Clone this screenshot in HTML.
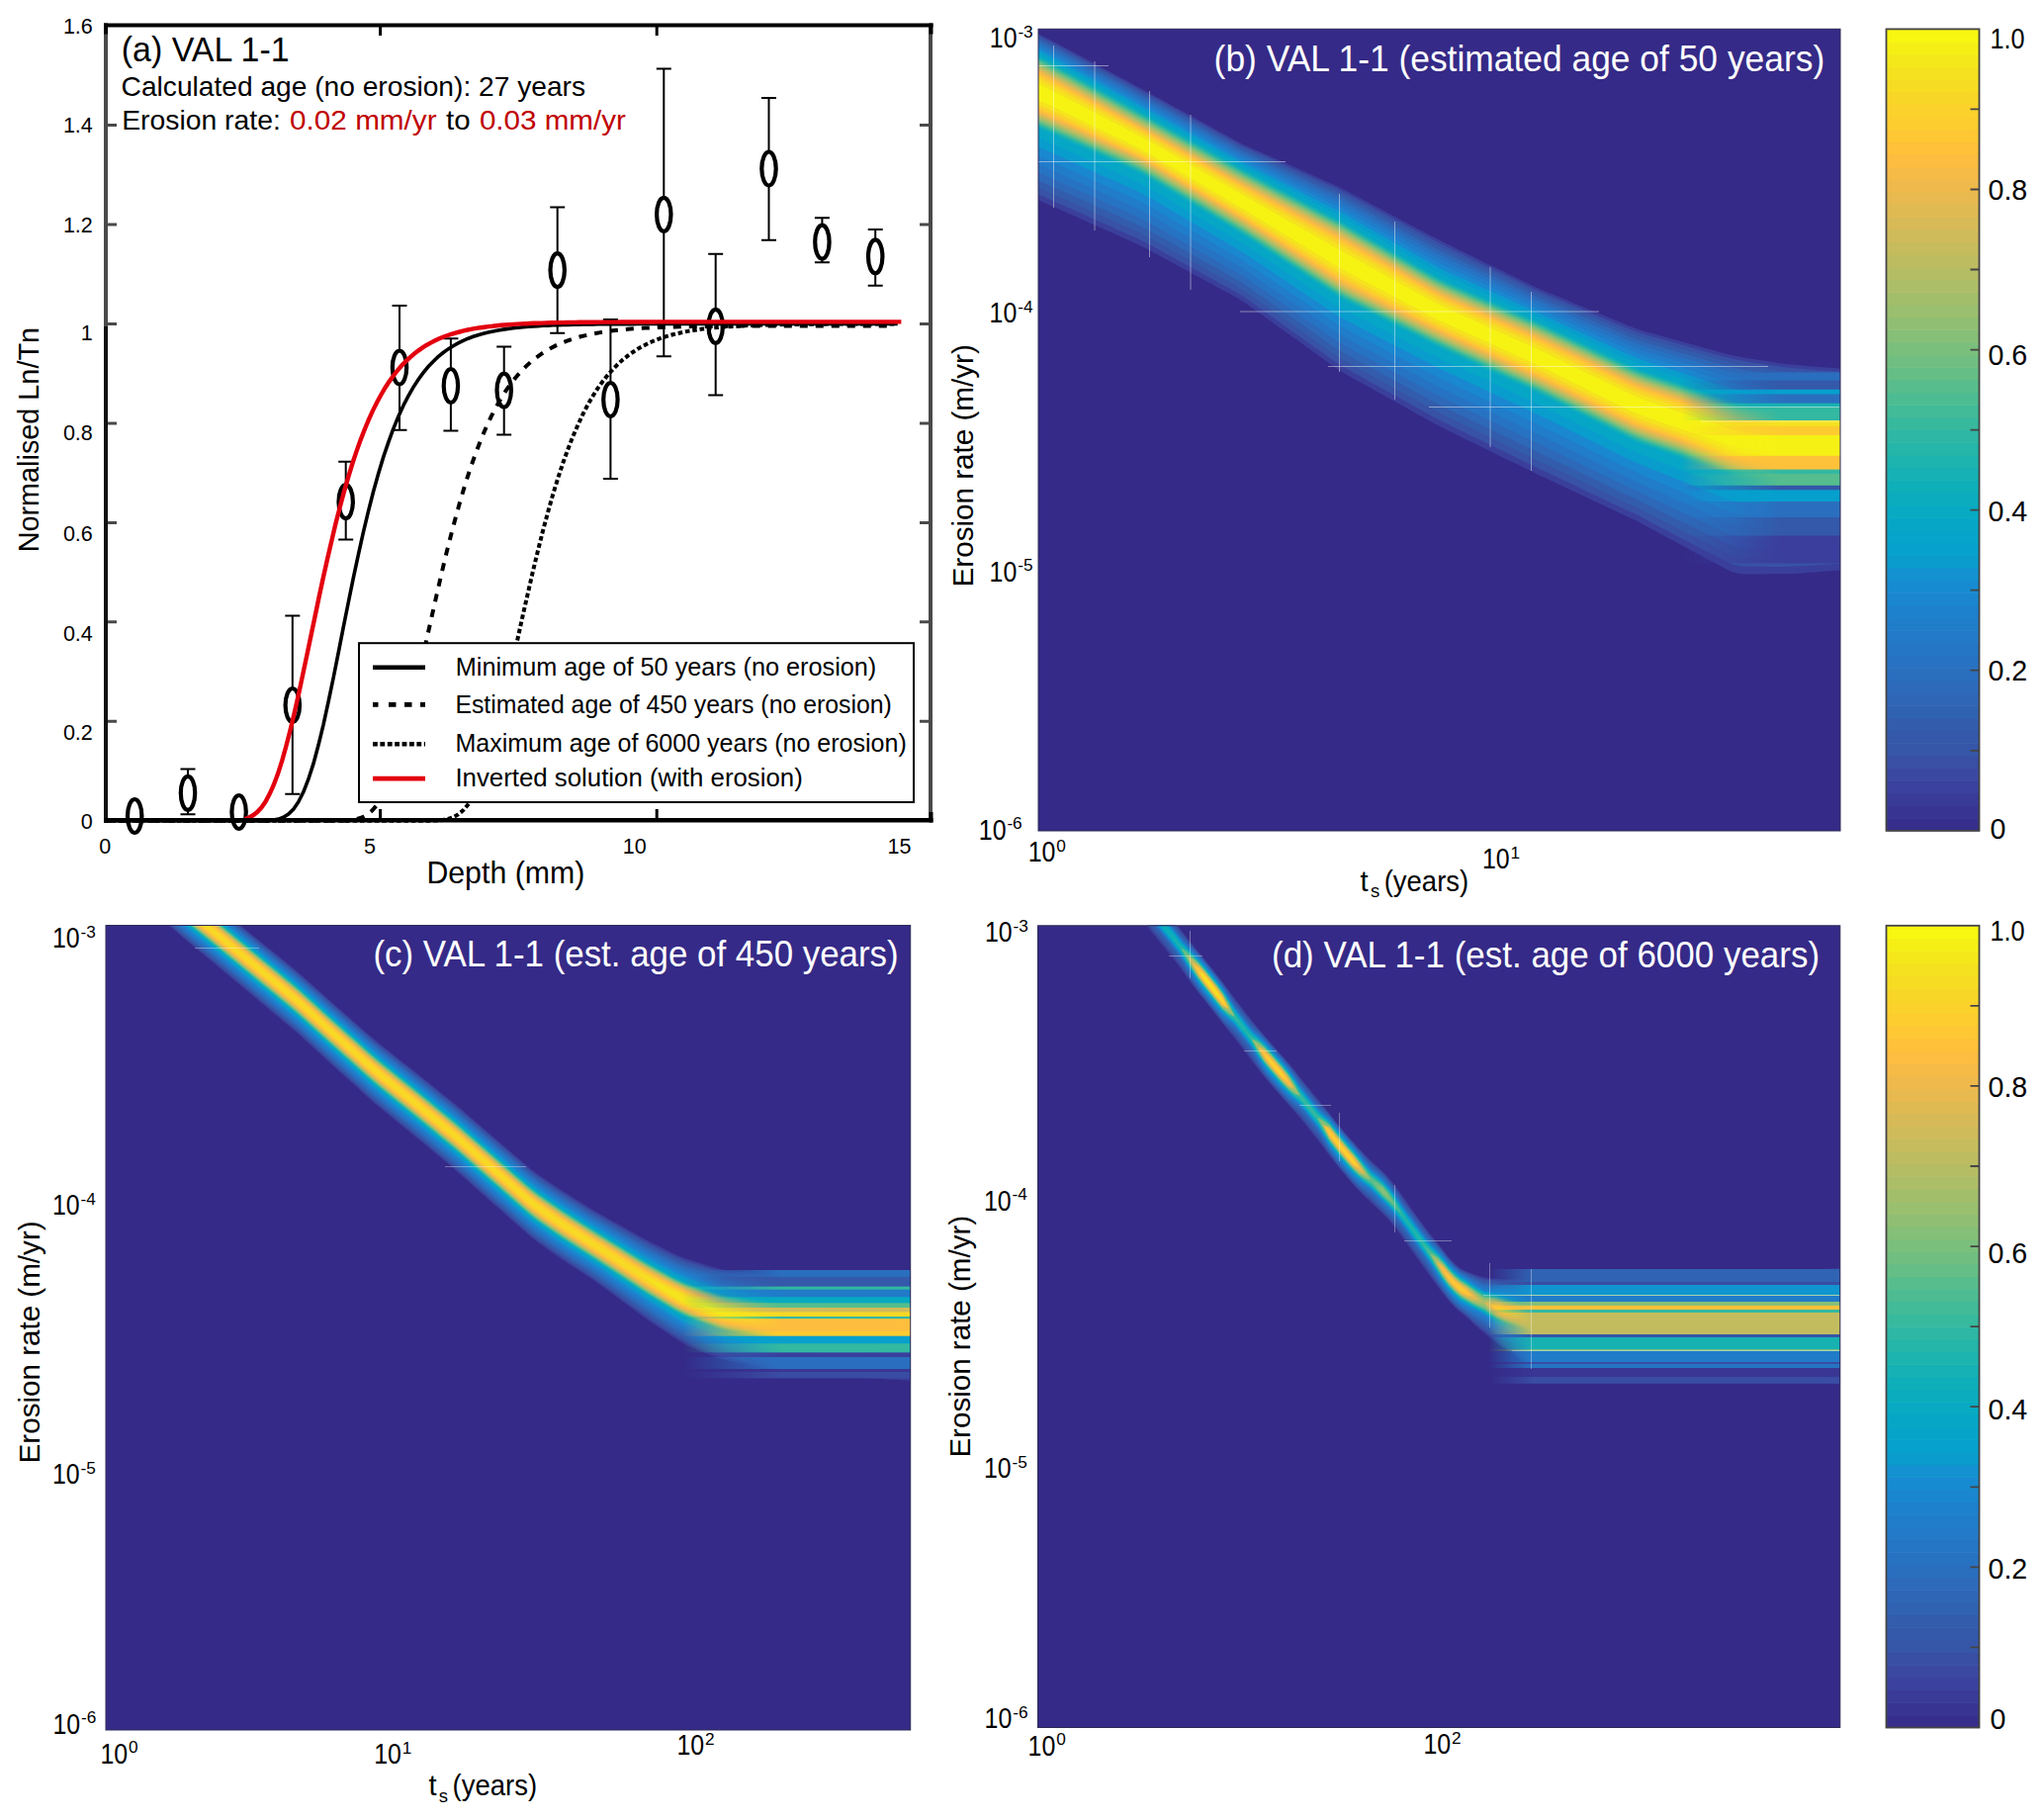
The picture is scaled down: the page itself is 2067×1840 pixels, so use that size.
<!DOCTYPE html>
<html><head><meta charset="utf-8"><title>VAL 1-1 figure</title>
<style>html,body{margin:0;padding:0;background:#fff;}svg{display:block;}</style></head>
<body><svg width="2067" height="1840" viewBox="0 0 2067 1840" font-family="'Liberation Sans', Arial, sans-serif">
<defs><clipPath id="clipb"><rect x="1050" y="29.3" width="811" height="810.7"/></clipPath><clipPath id="clipc"><rect x="107" y="935.5" width="813.7" height="813.5"/></clipPath><clipPath id="clipd"><rect x="1049.5" y="935.8" width="811.3" height="810.7"/></clipPath><linearGradient id="mgb" gradientUnits="userSpaceOnUse" x1="1700" y1="0" x2="1800" y2="0"><stop offset="0" stop-color="#fff" stop-opacity="0"/><stop offset="1" stop-color="#fff" stop-opacity="1"/></linearGradient><mask id="maskb" maskUnits="userSpaceOnUse" x="0" y="0" width="2067" height="1840"><rect x="0" y="0" width="2067" height="1840" fill="url(#mgb)"/></mask><linearGradient id="mgc" gradientUnits="userSpaceOnUse" x1="690" y1="0" x2="790" y2="0"><stop offset="0" stop-color="#fff" stop-opacity="0"/><stop offset="1" stop-color="#fff" stop-opacity="1"/></linearGradient><mask id="maskc" maskUnits="userSpaceOnUse" x="0" y="0" width="2067" height="1840"><rect x="0" y="0" width="2067" height="1840" fill="url(#mgc)"/></mask><linearGradient id="mgd" gradientUnits="userSpaceOnUse" x1="1505" y1="0" x2="1550" y2="0"><stop offset="0" stop-color="#fff" stop-opacity="0"/><stop offset="1" stop-color="#fff" stop-opacity="1"/></linearGradient><mask id="maskd" maskUnits="userSpaceOnUse" x="0" y="0" width="2067" height="1840"><rect x="0" y="0" width="2067" height="1840" fill="url(#mgd)"/></mask></defs>
<rect width="2067" height="1840" fill="#fff"/>
<g id="pa">
<path d="M190,777.4V823.3M182.5,777.4H197.5M182.5,823.3H197.5" stroke="#000" stroke-width="2" fill="none"/>
<path d="M295.8,622.6V802.7M288.3,622.6H303.3M288.3,802.7H303.3" stroke="#000" stroke-width="2" fill="none"/>
<path d="M349.7,466.7V545.5M342.2,466.7H357.2M342.2,545.5H357.2" stroke="#000" stroke-width="2" fill="none"/>
<path d="M404,309V434.8M396.5,309H411.5M396.5,434.8H411.5" stroke="#000" stroke-width="2" fill="none"/>
<path d="M455.9,342.3V435.6M448.4,342.3H463.4M448.4,435.6H463.4" stroke="#000" stroke-width="2" fill="none"/>
<path d="M509.7,350.4V439.4M502.2,350.4H517.2M502.2,439.4H517.2" stroke="#000" stroke-width="2" fill="none"/>
<path d="M563.7,209.5V336.7M556.2,209.5H571.2M556.2,336.7H571.2" stroke="#000" stroke-width="2" fill="none"/>
<path d="M617.4,323V484.1M609.9,323H624.9M609.9,484.1H624.9" stroke="#000" stroke-width="2" fill="none"/>
<path d="M671.3,69.6V360.2M663.8,69.6H678.8M663.8,360.2H678.8" stroke="#000" stroke-width="2" fill="none"/>
<path d="M723.7,256.8V399.4M716.2,256.8H731.2M716.2,399.4H731.2" stroke="#000" stroke-width="2" fill="none"/>
<path d="M777.5,98.9V242.8M770,98.9H785M770,242.8H785" stroke="#000" stroke-width="2" fill="none"/>
<path d="M831.4,220.3V265.3M823.9,220.3H838.9M823.9,265.3H838.9" stroke="#000" stroke-width="2" fill="none"/>
<path d="M885.2,232V288.7M877.7,232H892.7M877.7,288.7H892.7" stroke="#000" stroke-width="2" fill="none"/>
<ellipse cx="136.2" cy="825" rx="7.2" ry="17" stroke="#000" stroke-width="4.2" fill="#fff"/>
<ellipse cx="190" cy="801.8" rx="7.2" ry="17" stroke="#000" stroke-width="4.2" fill="#fff"/>
<ellipse cx="241.6" cy="821" rx="7.2" ry="17" stroke="#000" stroke-width="4.2" fill="#fff"/>
<ellipse cx="295.8" cy="713" rx="7.2" ry="17" stroke="#000" stroke-width="4.2" fill="#fff"/>
<ellipse cx="349.7" cy="507.2" rx="7.2" ry="17" stroke="#000" stroke-width="4.2" fill="#fff"/>
<ellipse cx="404" cy="371.5" rx="7.2" ry="17" stroke="#000" stroke-width="4.2" fill="#fff"/>
<ellipse cx="455.9" cy="390" rx="7.2" ry="17" stroke="#000" stroke-width="4.2" fill="#fff"/>
<ellipse cx="509.7" cy="394.6" rx="7.2" ry="17" stroke="#000" stroke-width="4.2" fill="#fff"/>
<ellipse cx="563.7" cy="273.1" rx="7.2" ry="17" stroke="#000" stroke-width="4.2" fill="#fff"/>
<ellipse cx="617.4" cy="404" rx="7.2" ry="17" stroke="#000" stroke-width="4.2" fill="#fff"/>
<ellipse cx="671.3" cy="216.8" rx="7.2" ry="17" stroke="#000" stroke-width="4.2" fill="#fff"/>
<ellipse cx="723.7" cy="329.8" rx="7.2" ry="17" stroke="#000" stroke-width="4.2" fill="#fff"/>
<ellipse cx="777.5" cy="170.5" rx="7.2" ry="17" stroke="#000" stroke-width="4.2" fill="#fff"/>
<ellipse cx="831.4" cy="244.7" rx="7.2" ry="17" stroke="#000" stroke-width="4.2" fill="#fff"/>
<ellipse cx="885.2" cy="259.4" rx="7.2" ry="17" stroke="#000" stroke-width="4.2" fill="#fff"/>
<path d="M105,829.8 L110,829.8 L115.1,829.8 L120.1,829.8 L125.2,829.8 L130.2,829.8 L135.3,829.8 L140.3,829.8 L145.4,829.8 L150.4,829.8 L155.5,829.8 L160.5,829.8 L165.6,829.8 L170.6,829.8 L175.7,829.8 L180.7,829.8 L185.7,829.8 L190.8,829.8 L195.8,829.8 L200.9,829.8 L205.9,829.8 L211,829.8 L216,829.8 L221.1,829.8 L226.1,829.8 L231.2,829.8 L236.2,829.8 L241.3,829.8 L246.3,829.8 L251.4,829.8 L256.4,829.8 L261.5,829.8 L266.5,829.8 L271.5,829.8 L276.6,829.8 L281.6,829.8 L286.7,829.8 L291.7,829.8 L296.8,829.8 L301.8,829.8 L306.9,829.8 L311.9,829.8 L317,829.8 L322,829.8 L327.1,829.8 L332.1,829.8 L337.2,829.8 L342.2,829.8 L347.2,829.8 L352.3,829.8 L357.3,829.8 L362.4,829.8 L367.4,829.8 L372.5,829.8 L377.5,829.8 L382.6,829.8 L387.6,829.8 L392.7,829.8 L397.7,829.8 L402.8,829.8 L407.8,829.8 L412.9,829.8 L417.9,829.8 L423,829.8 L428,829.8 L433,829.7 L438.1,829.6 L443.1,829.4 L448.2,828.9 L453.2,827.9 L458.3,826.2 L463.3,823.4 L468.4,819.2 L473.4,813.2 L478.5,805.2 L483.5,794.9 L488.6,782.2 L493.6,767.3 L498.7,750.2 L503.7,731.2 L508.7,710.7 L513.8,689.1 L518.8,666.8 L523.9,644 L528.9,621.3 L534,599 L539,577.2 L544.1,556.2 L549.1,536.3 L554.2,517.4 L559.2,499.7 L564.3,483.2 L569.3,468 L574.4,454 L579.4,441.1 L584.5,429.4 L589.5,418.7 L594.5,409 L599.6,400.3 L604.6,392.4 L609.7,385.3 L614.7,379 L619.8,373.3 L624.8,368.2 L629.9,363.6 L634.9,359.6 L640,356 L645,352.7 L650.1,349.9 L655.1,347.3 L660.2,345 L665.2,343 L670.2,341.2 L675.3,339.7 L680.3,338.3 L685.4,337 L690.4,335.9 L695.5,334.9 L700.5,334.1 L705.6,333.3 L710.6,332.6 L715.7,332 L720.7,331.5 L725.8,331 L730.8,330.6 L735.9,330.2 L740.9,329.9 L746,329.6 L751,329.4 L756,329.1 L761.1,328.9 L766.1,328.7 L771.2,328.6 L776.2,328.5 L781.3,328.3 L786.3,328.2 L791.4,328.1 L796.4,328 L801.5,328 L806.5,327.9 L811.6,327.8 L816.6,327.8 L821.7,327.7 L826.7,327.7 L831.7,327.7 L836.8,327.6 L841.8,327.6 L846.9,327.6 L851.9,327.6 L857,327.5 L862,327.5 L867.1,327.5 L872.1,327.5 L877.2,327.5 L882.2,327.5 L887.3,327.5 L892.3,327.5 L897.4,327.5 L902.4,327.4 L907.5,327.4" stroke="#000" stroke-width="4" fill="none" stroke-dasharray="4.6 2.8"/>
<path d="M105,829.8 L110,829.8 L115,829.8 L120.1,829.8 L125.1,829.8 L130.1,829.8 L135.1,829.8 L140.2,829.8 L145.2,829.8 L150.2,829.8 L155.2,829.8 L160.2,829.8 L165.3,829.8 L170.3,829.8 L175.3,829.8 L180.3,829.8 L185.4,829.8 L190.4,829.8 L195.4,829.8 L200.4,829.8 L205.4,829.8 L210.5,829.8 L215.5,829.8 L220.5,829.8 L225.5,829.8 L230.6,829.8 L235.6,829.8 L240.6,829.8 L245.6,829.8 L250.6,829.8 L255.7,829.8 L260.7,829.8 L265.7,829.8 L270.7,829.8 L275.8,829.8 L280.8,829.8 L285.8,829.8 L290.8,829.8 L295.8,829.8 L300.9,829.8 L305.9,829.8 L310.9,829.8 L315.9,829.8 L321,829.8 L326,829.8 L331,829.8 L336,829.8 L341,829.8 L346.1,829.7 L351.1,829.4 L356.1,829 L361.1,828 L366.2,826.4 L371.2,823.7 L376.2,819.6 L381.2,813.8 L386.2,806 L391.3,795.9 L396.3,783.5 L401.3,768.8 L406.3,751.9 L411.4,733.2 L416.4,712.9 L421.4,691.4 L426.4,669.2 L431.4,646.6 L436.5,623.9 L441.5,601.6 L446.5,579.9 L451.5,558.9 L456.6,538.9 L461.6,520.1 L466.6,502.3 L471.6,485.8 L476.6,470.6 L481.7,456.5 L486.7,443.6 L491.7,431.8 L496.7,421.1 L501.8,411.4 L506.8,402.6 L511.8,394.7 L516.8,387.6 L521.8,381.2 L526.9,375.5 L531.9,370.4 L536.9,365.8 L541.9,361.7 L547,358.1 L552,354.9 L557,352 L562,349.4 L567,347.1 L572.1,345.1 L577.1,343.3 L582.1,341.7 L587.1,340.3 L592.2,339.1 L597.2,338 L602.2,337 L607.2,336.1 L612.2,335.3 L617.3,334.6 L622.3,334 L627.3,333.5 L632.3,333 L637.4,332.6 L642.4,332.2 L647.4,331.9 L652.4,331.6 L657.4,331.4 L662.5,331.1 L667.5,330.9 L672.5,330.8 L677.5,330.6 L682.6,330.5 L687.6,330.3 L692.6,330.2 L697.6,330.1 L702.6,330.1 L707.7,330 L712.7,329.9 L717.7,329.9 L722.7,329.8 L727.8,329.8 L732.8,329.7 L737.8,329.7 L742.8,329.7 L747.8,329.6 L752.9,329.6 L757.9,329.6 L762.9,329.6 L767.9,329.5 L773,329.5 L778,329.5 L783,329.5 L788,329.5 L793,329.5 L798.1,329.5 L803.1,329.5 L808.1,329.5 L813.1,329.5 L818.2,329.4 L823.2,329.4 L828.2,329.4 L833.2,329.4 L838.2,329.4 L843.3,329.4 L848.3,329.4 L853.3,329.4 L858.3,329.4 L863.4,329.4 L868.4,329.4 L873.4,329.4 L878.4,329.4 L883.4,329.4 L888.5,329.4 L893.5,329.4 L898.5,329.4 L903.5,329.4" stroke="#000" stroke-width="4" fill="none" stroke-dasharray="8 8"/>
<path d="M105,829.8 L110,829.8 L115.1,829.8 L120.1,829.8 L125.2,829.8 L130.2,829.8 L135.3,829.8 L140.3,829.8 L145.4,829.8 L150.4,829.8 L155.5,829.8 L160.5,829.8 L165.6,829.8 L170.6,829.8 L175.7,829.8 L180.7,829.8 L185.7,829.8 L190.8,829.8 L195.8,829.8 L200.9,829.8 L205.9,829.8 L211,829.8 L216,829.8 L221.1,829.8 L226.1,829.8 L231.2,829.8 L236.2,829.8 L241.3,829.8 L246.3,829.8 L251.4,829.8 L256.4,829.8 L261.5,829.8 L266.5,829.7 L271.5,829.5 L276.6,829.1 L281.6,828.1 L286.7,826.2 L291.7,823 L296.8,818 L301.8,810.7 L306.9,800.6 L311.9,787.7 L317,771.9 L322,753.3 L327.1,732.3 L332.1,709.3 L337.2,685 L342.2,659.8 L347.2,634.3 L352.3,609 L357.3,584.3 L362.4,560.6 L367.4,538.1 L372.5,516.9 L377.5,497.2 L382.6,479 L387.6,462.4 L392.7,447.3 L397.7,433.6 L402.8,421.3 L407.8,410.2 L412.9,400.4 L417.9,391.6 L423,383.8 L428,376.9 L433,370.8 L438.1,365.4 L443.1,360.7 L448.2,356.5 L453.2,352.9 L458.3,349.7 L463.3,346.9 L468.4,344.4 L473.4,342.2 L478.5,340.3 L483.5,338.7 L488.6,337.3 L493.6,336 L498.7,334.9 L503.7,333.9 L508.7,333.1 L513.8,332.4 L518.8,331.7 L523.9,331.2 L528.9,330.7 L534,330.3 L539,329.9 L544.1,329.6 L549.1,329.3 L554.2,329.1 L559.2,328.8 L564.3,328.7 L569.3,328.5 L574.4,328.4 L579.4,328.2 L584.5,328.1 L589.5,328 L594.5,327.9 L599.6,327.9 L604.6,327.8 L609.7,327.8 L614.7,327.7 L619.8,327.7 L624.8,327.6 L629.9,327.6 L634.9,327.6 L640,327.6 L645,327.5 L650.1,327.5 L655.1,327.5 L660.2,327.5 L665.2,327.5 L670.2,327.5 L675.3,327.5 L680.3,327.5 L685.4,327.4 L690.4,327.4 L695.5,327.4 L700.5,327.4 L705.6,327.4 L710.6,327.4 L715.7,327.4 L720.7,327.4 L725.8,327.4 L730.8,327.4 L735.9,327.4 L740.9,327.4 L746,327.4 L751,327.4 L756,327.4 L761.1,327.4 L766.1,327.4 L771.2,327.4 L776.2,327.4 L781.3,327.4 L786.3,327.4 L791.4,327.4 L796.4,327.4 L801.5,327.4 L806.5,327.4 L811.6,327.4 L816.6,327.4 L821.7,327.4 L826.7,327.4 L831.7,327.4 L836.8,327.4 L841.8,327.4 L846.9,327.4 L851.9,327.4 L857,327.4 L862,327.4 L867.1,327.4 L872.1,327.4 L877.2,327.4 L882.2,327.4 L887.3,327.4 L892.3,327.4 L897.4,327.4 L902.4,327.4 L907.5,327.4" stroke="#000" stroke-width="3.6" fill="none"/>
<path d="M247.6,828 L251.8,826.5 L255.9,824.3 L260.1,821.1 L264.3,816.6 L268.5,810.6 L272.6,802.9 L276.8,793.5 L281,782.3 L285.2,769.2 L289.3,754.5 L293.5,738.3 L297.7,720.8 L301.9,702.2 L306,682.9 L310.2,663.1 L314.4,643 L318.6,623 L322.7,603.2 L326.9,583.8 L331.1,565 L335.3,546.9 L339.4,529.6 L343.6,513.2 L347.8,497.7 L352,483.1 L356.1,469.5 L360.3,456.9 L364.5,445.1 L368.7,434.3 L372.8,424.3 L377,415.1 L381.2,406.7 L385.4,399 L389.5,392 L393.7,385.6 L397.9,379.7 L402.1,374.4 L406.2,369.6 L410.4,365.3 L414.6,361.3 L418.8,357.8 L422.9,354.6 L427.1,351.6 L431.3,349 L435.5,346.6 L439.6,344.5 L443.8,342.6 L448,340.8 L452.2,339.3 L456.3,337.9 L460.5,336.6 L464.7,335.5 L468.9,334.4 L473,333.5 L477.2,332.7 L481.4,331.9 L485.6,331.3 L489.7,330.7 L493.9,330.1 L498.1,329.7 L502.3,329.2 L506.4,328.8 L510.6,328.5 L514.8,328.2 L518.9,327.9 L523.1,327.6 L527.3,327.4 L531.5,327.2 L535.6,327 L539.8,326.8 L544,326.7 L548.2,326.6 L552.3,326.4 L556.5,326.3 L560.7,326.2 L564.9,326.1 L569,326.1 L573.2,326 L577.4,325.9 L581.6,325.9 L585.7,325.8 L589.9,325.8 L594.1,325.7 L598.3,325.7 L602.4,325.7 L606.6,325.6 L610.8,325.6 L615,325.6 L619.1,325.6 L623.3,325.6 L627.5,325.5 L631.7,325.5 L635.8,325.5 L640,325.5 L644.2,325.5 L648.4,325.5 L652.5,325.5 L656.7,325.5 L660.9,325.5 L665.1,325.4 L669.2,325.4 L673.4,325.4 L677.6,325.4 L681.8,325.4 L685.9,325.4 L690.1,325.4 L694.3,325.4 L698.5,325.4 L702.6,325.4 L706.8,325.4 L711,325.4 L715.2,325.4 L719.3,325.4 L723.5,325.4 L727.7,325.4 L731.9,325.4 L736,325.4 L740.2,325.4 L744.4,325.4 L748.6,325.4 L752.7,325.4 L756.9,325.4 L761.1,325.4 L765.3,325.4 L769.4,325.4 L773.6,325.4 L777.8,325.4 L782,325.4 L786.1,325.4 L790.3,325.4 L794.5,325.4 L798.7,325.4 L802.8,325.4 L807,325.4 L811.2,325.4 L815.3,325.4 L819.5,325.4 L823.7,325.4 L827.9,325.4 L832,325.4 L836.2,325.4 L840.4,325.4 L844.6,325.4 L848.7,325.4 L852.9,325.4 L857.1,325.4 L861.3,325.4 L865.4,325.4 L869.6,325.4 L873.8,325.4 L878,325.4 L882.1,325.4 L886.3,325.4 L890.5,325.4 L894.7,325.4 L898.8,325.4 L903,325.4 L907.2,325.4 L911.4,325.4" stroke="#e3000f" stroke-width="4.4" fill="none"/>
<path d="M107,24V331" stroke="#4a4a4a" stroke-width="4" fill="none"/>
<path d="M107,330V831" stroke="#111" stroke-width="4" fill="none"/>
<path d="M941,24V831" stroke="#4a4a4a" stroke-width="4" fill="none"/>
<path d="M105,25.6H943.5" stroke="#000" stroke-width="4" fill="none"/>
<path d="M105,829.2H943.5" stroke="#000" stroke-width="4.6" fill="none"/>
<rect x="105" y="23.5" width="4" height="11" fill="#000"/><rect x="939.5" y="23.5" width="4" height="11" fill="#000"/><rect x="939.5" y="821" width="4" height="10.5" fill="#000"/>
<path d="M109,729.3H118M939,729.3H930M109,628.8H118M939,628.8H930M109,528.4H118M939,528.4H930M109,427.9H118M939,427.9H930M109,327.4H118M939,327.4H930M109,226.9H118M939,226.9H930M109,126.4H118M939,126.4H930" stroke="#4a4a4a" stroke-width="3" fill="none"/>
<path d="M384.6,827V818M384.6,27V36M664.2,827V818M664.2,27V36" stroke="#000" stroke-width="3" fill="none"/>
<rect x="363" y="650.2" width="561" height="160.8" fill="#fff" stroke="#000" stroke-width="2"/>
<path d="M377,674.8H430" stroke="#000" stroke-width="4.6"/>
<path d="M377,712.4H430" stroke="#000" stroke-width="4.6" stroke-dasharray="5.5 10.5 7.5 8.5 7.5 8.5 5"/>
<path d="M377,752.2H430" stroke="#000" stroke-width="4.6" stroke-dasharray="4.8 2.6"/>
<path d="M377,787.1H430" stroke="#e3000f" stroke-width="4.6"/>
</g>
<g font-family="'Liberation Sans', Arial, sans-serif">
<text x="122.8" y="61.8" font-size="35.6" textLength="169.8" lengthAdjust="spacingAndGlyphs">(a) VAL 1-1</text>
<text x="122.6" y="97.3" font-size="28.3" textLength="469.4" lengthAdjust="spacingAndGlyphs">Calculated age (no erosion): 27 years</text>
<text x="123.2" y="130.8" font-size="28.3" textLength="160.6" lengthAdjust="spacingAndGlyphs">Erosion rate:</text>
<text x="293.1" y="130.8" font-size="28.3" fill="#c00000" textLength="148.5" lengthAdjust="spacingAndGlyphs">0.02 mm/yr</text>
<text x="451" y="130.8" font-size="28.3" textLength="24.6" lengthAdjust="spacingAndGlyphs">to</text>
<text x="484.9" y="130.8" font-size="28.3" fill="#c00000" textLength="148" lengthAdjust="spacingAndGlyphs">0.03 mm/yr</text>
<text x="460.8" y="682.7" font-size="25" textLength="425.5" lengthAdjust="spacingAndGlyphs">Minimum age of 50 years (no erosion)</text>
<text x="460.4" y="721" font-size="25" textLength="441.4" lengthAdjust="spacingAndGlyphs">Estimated age of 450 years (no erosion)</text>
<text x="460.4" y="760" font-size="25" textLength="456.4" lengthAdjust="spacingAndGlyphs">Maximum age of 6000 years (no erosion)</text>
<text x="460.4" y="795" font-size="25" textLength="351.4" lengthAdjust="spacingAndGlyphs">Inverted solution (with erosion)</text>
<text x="93.8" y="33.8" font-size="21.5" text-anchor="end">1.6</text>
<text x="93.8" y="134.3" font-size="21.5" text-anchor="end">1.4</text>
<text x="93.8" y="234.9" font-size="21.5" text-anchor="end">1.2</text>
<text x="93.8" y="344.3" font-size="21.5" text-anchor="end">1</text>
<text x="93.8" y="444.8" font-size="21.5" text-anchor="end">0.8</text>
<text x="93.8" y="547" font-size="21.5" text-anchor="end">0.6</text>
<text x="93.8" y="647.6" font-size="21.5" text-anchor="end">0.4</text>
<text x="93.8" y="748.2" font-size="21.5" text-anchor="end">0.2</text>
<text x="93.8" y="837.8" font-size="21.5" text-anchor="end">0</text>
<text x="106.3" y="862.5" font-size="21.5" text-anchor="middle">0</text>
<text x="374" y="862.5" font-size="21.5" text-anchor="middle">5</text>
<text x="641.7" y="862.5" font-size="21.5" text-anchor="middle">10</text>
<text x="909.5" y="862.5" font-size="21.5" text-anchor="middle">15</text>
<text x="431.4" y="893" font-size="30.5" textLength="159.9" lengthAdjust="spacingAndGlyphs">Depth (mm)</text>
<text transform="translate(38.8,558.3) rotate(-90)" font-size="29.5" textLength="227.3" lengthAdjust="spacingAndGlyphs">Normalised Ln/Tn</text>
</g>
<rect id="hmb" x="1050" y="29.3" width="811" height="810.7" fill="#352a87"/>
<g clip-path="url(#clipb)">
<polygon points="1050,34.1 1058,38.2 1065.9,42.3 1073.9,46.5 1081.8,50.8 1089.8,55.1 1097.8,59.3 1105.7,63.6 1113.7,67.9 1121.6,72.1 1129.6,76.4 1137.6,80.6 1145.5,84.9 1153.5,89.3 1161.5,93.6 1169.4,97.9 1177.4,102.3 1185.3,106.7 1193.3,111.1 1201.3,115.4 1209.2,119.8 1217.2,124.2 1225.1,128.6 1233.1,133 1241.1,137.3 1249,141.7 1257,145.9 1264.9,149.4 1272.9,153 1280.9,156.5 1288.8,160 1296.8,163.6 1304.7,167.1 1312.7,170.6 1320.7,174.1 1328.6,177.7 1336.6,181.2 1344.5,184.7 1352.5,188.2 1360.5,192.2 1368.4,196.5 1376.4,200.8 1384.4,205 1392.3,209.2 1400.3,213.5 1408.2,217.7 1416.2,221.9 1424.2,226.2 1432.1,230.4 1440.1,234.6 1448,238.8 1456,242.8 1464,246.9 1471.9,250.8 1479.9,254.7 1487.8,258.6 1495.8,262.5 1503.8,266.4 1511.7,270.3 1519.7,274.1 1527.6,278 1535.6,281.9 1543.6,285.8 1551.5,289.7 1559.5,293.3 1567.5,296.5 1575.4,299.8 1583.4,303.1 1591.3,306.4 1599.3,309.7 1607.3,312.9 1615.2,316.2 1623.2,319.5 1631.1,322.8 1639.1,326.1 1647.1,329.4 1655,332.3 1663,334.9 1670.9,337.1 1678.9,339.3 1686.9,341.5 1694.8,343.7 1702.8,345.9 1710.7,348.1 1718.7,350.3 1726.7,352.5 1734.6,354.7 1742.6,357 1750.5,358.9 1758.5,360.6 1766.5,362.1 1774.4,363.3 1782.4,364.5 1790.4,365.7 1798.3,366.9 1806.3,367.9 1814.2,368.8 1822.2,369.6 1830.2,370.2 1838.1,370.8 1846.1,371.4 1854,372.1 1862,372.7 1862,576.5 1854,577.1 1846.1,577.6 1838.1,578.2 1830.2,578.8 1822.2,579.4 1814.2,579.9 1806.3,580.2 1798.3,580.3 1790.4,580.3 1782.4,580.4 1774.4,580.4 1766.5,580.4 1758.5,580.1 1750.5,577.8 1742.6,573.8 1734.6,569.5 1726.7,565.2 1718.7,561 1710.7,556.7 1702.8,552.4 1694.8,548.1 1686.9,543.9 1678.9,539.6 1670.9,535.3 1663,531 1655,526.4 1647.1,523 1639.1,519.2 1631.1,515.5 1623.2,511.7 1615.2,508 1607.3,504.2 1599.3,500.5 1591.3,496.7 1583.4,493 1575.4,489.2 1567.5,485.5 1559.5,481.8 1551.5,478 1543.6,474 1535.6,470.1 1527.6,466.3 1519.7,462.4 1511.7,458.5 1503.8,454.6 1495.8,450.7 1487.8,446.8 1479.9,442.9 1471.9,439 1464,435.1 1456,431 1448,426.8 1440.1,422.4 1432.1,418 1424.2,413.5 1416.2,409.1 1408.2,404.7 1400.3,400.2 1392.3,395.8 1384.4,391.3 1376.4,386.9 1368.4,382.5 1360.5,378 1352.5,373.1 1344.5,367.5 1336.6,361.8 1328.6,356.1 1320.7,350.4 1312.7,344.6 1304.7,338.9 1296.8,333.2 1288.8,327.5 1280.9,321.8 1272.9,316.1 1264.9,310.4 1257,304.7 1249,300 1241.1,295.7 1233.1,291.4 1225.1,287.1 1217.2,282.7 1209.2,278.4 1201.3,274.1 1193.3,269.8 1185.3,265.5 1177.4,261.2 1169.4,256.8 1161.5,252.6 1153.5,248.5 1145.5,244.8 1137.6,241.2 1129.6,237.6 1121.6,234.1 1113.7,230.5 1105.7,227 1097.8,223.4 1089.8,219.8 1081.8,216.3 1073.9,212.7 1065.9,209.2 1058,205.7 1050,202.3" fill="#3b3f9c"/>
<polygon points="1050,35.8 1058,39.9 1065.9,44.1 1073.9,48.3 1081.8,52.6 1089.8,56.9 1097.8,61.2 1105.7,65.4 1113.7,69.7 1121.6,74 1129.6,78.2 1137.6,82.5 1145.5,86.8 1153.5,91.2 1161.5,95.5 1169.4,99.8 1177.4,104.2 1185.3,108.6 1193.3,113 1201.3,117.4 1209.2,121.8 1217.2,126.1 1225.1,130.5 1233.1,134.9 1241.1,139.3 1249,143.7 1257,147.9 1264.9,151.5 1272.9,155.1 1280.9,158.6 1288.8,162.2 1296.8,165.8 1304.7,169.4 1312.7,173 1320.7,176.6 1328.6,180.1 1336.6,183.7 1344.5,187.3 1352.5,190.8 1360.5,194.9 1368.4,199.2 1376.4,203.5 1384.4,207.7 1392.3,212 1400.3,216.3 1408.2,220.5 1416.2,224.8 1424.2,229.1 1432.1,233.3 1440.1,237.6 1448,241.8 1456,245.9 1464,249.9 1471.9,253.8 1479.9,257.6 1487.8,261.5 1495.8,265.4 1503.8,269.2 1511.7,273.1 1519.7,276.9 1527.6,280.8 1535.6,284.6 1543.6,288.5 1551.5,292.4 1559.5,295.9 1567.5,299.2 1575.4,302.6 1583.4,305.9 1591.3,309.2 1599.3,312.5 1607.3,315.9 1615.2,319.2 1623.2,322.5 1631.1,325.9 1639.1,329.2 1647.1,332.5 1655,335.4 1663,338.1 1670.9,340.3 1678.9,342.6 1686.9,344.8 1694.8,347.1 1702.8,349.3 1710.7,351.6 1718.7,353.8 1726.7,356 1734.6,358.3 1742.6,360.5 1750.5,362.5 1758.5,364.2 1766.5,365.7 1774.4,366.9 1782.4,368 1790.4,369.2 1798.3,370.3 1806.3,371.4 1814.2,372.3 1822.2,373 1830.2,373.6 1838.1,374.2 1846.1,374.7 1854,375.3 1862,375.9 1862,569.7 1854,570.2 1846.1,570.7 1838.1,571.2 1830.2,571.7 1822.2,572.2 1814.2,572.6 1806.3,572.9 1798.3,572.9 1790.4,572.9 1782.4,572.8 1774.4,572.8 1766.5,572.7 1758.5,572.3 1750.5,570.1 1742.6,566.2 1734.6,562 1726.7,557.9 1718.7,553.7 1710.7,549.5 1702.8,545.4 1694.8,541.2 1686.9,537.1 1678.9,532.9 1670.9,528.8 1663,524.6 1655,520.1 1647.1,516.7 1639.1,512.9 1631.1,509.2 1623.2,505.4 1615.2,501.6 1607.3,497.9 1599.3,494.1 1591.3,490.3 1583.4,486.5 1575.4,482.8 1567.5,479 1559.5,475.3 1551.5,471.5 1543.6,467.6 1535.6,463.7 1527.6,459.8 1519.7,455.9 1511.7,452.1 1503.8,448.2 1495.8,444.3 1487.8,440.4 1479.9,436.6 1471.9,432.7 1464,428.8 1456,424.7 1448,420.6 1440.1,416.2 1432.1,411.8 1424.2,407.4 1416.2,403 1408.2,398.6 1400.3,394.2 1392.3,389.8 1384.4,385.4 1376.4,381 1368.4,376.6 1360.5,372.1 1352.5,367.3 1344.5,361.7 1336.6,356 1328.6,350.4 1320.7,344.7 1312.7,339 1304.7,333.4 1296.8,327.7 1288.8,322 1280.9,316.4 1272.9,310.7 1264.9,305 1257,299.4 1249,294.7 1241.1,290.3 1233.1,286 1225.1,281.6 1217.2,277.3 1209.2,272.9 1201.3,268.6 1193.3,264.2 1185.3,259.9 1177.4,255.5 1169.4,251.1 1161.5,246.8 1153.5,242.8 1145.5,239 1137.6,235.5 1129.6,231.9 1121.6,228.3 1113.7,224.8 1105.7,221.2 1097.8,217.6 1089.8,214.1 1081.8,210.5 1073.9,206.9 1065.9,203.4 1058,200 1050,196.5" fill="#3852a6"/>
<polygon points="1050,37.9 1058,42 1065.9,46.2 1073.9,50.4 1081.8,54.7 1089.8,59 1097.8,63.3 1105.7,67.6 1113.7,71.8 1121.6,76.1 1129.6,80.4 1137.6,84.7 1145.5,89 1153.5,93.4 1161.5,97.7 1169.4,102 1177.4,106.4 1185.3,110.8 1193.3,115.2 1201.3,119.6 1209.2,124 1217.2,128.4 1225.1,132.8 1233.1,137.2 1241.1,141.6 1249,146 1257,150.2 1264.9,153.8 1272.9,157.5 1280.9,161.1 1288.8,164.8 1296.8,168.4 1304.7,172.1 1312.7,175.7 1320.7,179.4 1328.6,183 1336.6,186.7 1344.5,190.3 1352.5,193.9 1360.5,198 1368.4,202.4 1376.4,206.7 1384.4,211 1392.3,215.3 1400.3,219.6 1408.2,223.9 1416.2,228.2 1424.2,232.5 1432.1,236.8 1440.1,241.1 1448,245.3 1456,249.4 1464,253.4 1471.9,257.2 1479.9,261.1 1487.8,264.9 1495.8,268.7 1503.8,272.5 1511.7,276.3 1519.7,280.2 1527.6,284 1535.6,287.8 1543.6,291.6 1551.5,295.5 1559.5,299.1 1567.5,302.4 1575.4,305.8 1583.4,309.1 1591.3,312.5 1599.3,315.9 1607.3,319.3 1615.2,322.7 1623.2,326 1631.1,329.4 1639.1,332.8 1647.1,336.2 1655,339.1 1663,341.8 1670.9,344.1 1678.9,346.4 1686.9,348.7 1694.8,351 1702.8,353.3 1710.7,355.5 1718.7,357.8 1726.7,360.1 1734.6,362.4 1742.6,364.7 1750.5,366.7 1758.5,368.4 1766.5,369.9 1774.4,371 1782.4,372.1 1790.4,373.3 1798.3,374.4 1806.3,375.4 1814.2,376.3 1822.2,376.9 1830.2,377.5 1838.1,378 1846.1,378.6 1854,379.2 1862,379.7 1862,561.7 1854,562.1 1846.1,562.6 1838.1,563 1830.2,563.4 1822.2,563.9 1814.2,564.2 1806.3,564.3 1798.3,564.3 1790.4,564.2 1782.4,564 1774.4,563.9 1766.5,563.8 1758.5,563.3 1750.5,561.1 1742.6,557.3 1734.6,553.3 1726.7,549.3 1718.7,545.3 1710.7,541.3 1702.8,537.2 1694.8,533.2 1686.9,529.2 1678.9,525.2 1670.9,521.2 1663,517.2 1655,512.8 1647.1,509.4 1639.1,505.6 1631.1,501.8 1623.2,498 1615.2,494.2 1607.3,490.4 1599.3,486.6 1591.3,482.8 1583.4,479 1575.4,475.3 1567.5,471.5 1559.5,467.7 1551.5,463.9 1543.6,460 1535.6,456.2 1527.6,452.3 1519.7,448.4 1511.7,444.6 1503.8,440.7 1495.8,436.9 1487.8,433 1479.9,429.2 1471.9,425.3 1464,421.5 1456,417.4 1448,413.3 1440.1,409 1432.1,404.6 1424.2,400.2 1416.2,395.9 1408.2,391.5 1400.3,387.2 1392.3,382.8 1384.4,378.4 1376.4,374.1 1368.4,369.7 1360.5,365.3 1352.5,360.5 1344.5,355 1336.6,349.4 1328.6,343.7 1320.7,338.1 1312.7,332.5 1304.7,326.9 1296.8,321.3 1288.8,315.7 1280.9,310 1272.9,304.4 1264.9,298.8 1257,293.2 1249,288.5 1241.1,284.1 1233.1,279.7 1225.1,275.3 1217.2,270.9 1209.2,266.5 1201.3,262.1 1193.3,257.7 1185.3,253.3 1177.4,248.9 1169.4,244.5 1161.5,240.2 1153.5,236.1 1145.5,232.3 1137.6,228.8 1129.6,225.2 1121.6,221.6 1113.7,218.1 1105.7,214.5 1097.8,210.9 1089.8,207.4 1081.8,203.8 1073.9,200.2 1065.9,196.7 1058,193.3 1050,189.8" fill="#335cac"/>
<polygon points="1050,40.1 1058,44.2 1065.9,48.4 1073.9,52.7 1081.8,57 1089.8,61.3 1097.8,65.6 1105.7,69.9 1113.7,74.2 1121.6,78.5 1129.6,82.8 1137.6,87.1 1145.5,91.4 1153.5,95.9 1161.5,100.1 1169.4,104.5 1177.4,108.9 1185.3,113.3 1193.3,117.7 1201.3,122.1 1209.2,126.5 1217.2,130.9 1225.1,135.3 1233.1,139.7 1241.1,144.1 1249,148.5 1257,152.7 1264.9,156.4 1272.9,160.2 1280.9,163.9 1288.8,167.6 1296.8,171.3 1304.7,175 1312.7,178.7 1320.7,182.5 1328.6,186.2 1336.6,189.9 1344.5,193.6 1352.5,197.2 1360.5,201.4 1368.4,205.8 1376.4,210.2 1384.4,214.5 1392.3,218.8 1400.3,223.2 1408.2,227.5 1416.2,231.8 1424.2,236.2 1432.1,240.5 1440.1,244.9 1448,249.2 1456,253.3 1464,257.3 1471.9,261 1479.9,264.8 1487.8,268.6 1495.8,272.4 1503.8,276.2 1511.7,279.9 1519.7,283.7 1527.6,287.5 1535.6,291.3 1543.6,295.1 1551.5,298.9 1559.5,302.5 1567.5,305.9 1575.4,309.3 1583.4,312.7 1591.3,316.2 1599.3,319.6 1607.3,323 1615.2,326.4 1623.2,329.9 1631.1,333.3 1639.1,336.7 1647.1,340.2 1655,343.2 1663,345.9 1670.9,348.3 1678.9,350.6 1686.9,352.9 1694.8,355.3 1702.8,357.6 1710.7,359.9 1718.7,362.3 1726.7,364.6 1734.6,366.9 1742.6,369.3 1750.5,371.3 1758.5,373 1766.5,374.5 1774.4,375.6 1782.4,376.7 1790.4,377.8 1798.3,378.8 1806.3,379.8 1814.2,380.6 1822.2,381.3 1830.2,381.8 1838.1,382.3 1846.1,382.8 1854,383.4 1862,383.9 1862,553 1854,553.3 1846.1,553.7 1838.1,554 1830.2,554.3 1822.2,554.7 1814.2,554.9 1806.3,555 1798.3,554.8 1790.4,554.6 1782.4,554.4 1774.4,554.2 1766.5,553.9 1758.5,553.4 1750.5,551.2 1742.6,547.6 1734.6,543.7 1726.7,539.9 1718.7,536 1710.7,532.1 1702.8,528.3 1694.8,524.4 1686.9,520.6 1678.9,516.7 1670.9,512.8 1663,509 1655,504.7 1647.1,501.3 1639.1,497.5 1631.1,493.7 1623.2,489.9 1615.2,486.1 1607.3,482.2 1599.3,478.4 1591.3,474.6 1583.4,470.8 1575.4,467 1567.5,463.2 1559.5,459.4 1551.5,455.6 1543.6,451.7 1535.6,447.9 1527.6,444.1 1519.7,440.2 1511.7,436.4 1503.8,432.6 1495.8,428.7 1487.8,424.9 1479.9,421.1 1471.9,417.3 1464,413.4 1456,409.4 1448,405.3 1440.1,401 1432.1,396.7 1424.2,392.4 1416.2,388.1 1408.2,383.8 1400.3,379.5 1392.3,375.1 1384.4,370.8 1376.4,366.5 1368.4,362.2 1360.5,357.8 1352.5,353.1 1344.5,347.6 1336.6,342 1328.6,336.5 1320.7,330.9 1312.7,325.3 1304.7,319.8 1296.8,314.2 1288.8,308.7 1280.9,303.1 1272.9,297.5 1264.9,292 1257,286.4 1249,281.7 1241.1,277.2 1233.1,272.8 1225.1,268.3 1217.2,263.9 1209.2,259.5 1201.3,255 1193.3,250.6 1185.3,246.1 1177.4,241.7 1169.4,237.3 1161.5,232.9 1153.5,228.7 1145.5,225 1137.6,221.4 1129.6,217.8 1121.6,214.3 1113.7,210.7 1105.7,207.1 1097.8,203.6 1089.8,200 1081.8,196.5 1073.9,192.9 1065.9,189.4 1058,185.9 1050,182.5" fill="#2e68b8"/>
<polygon points="1050,42.5 1058,46.7 1065.9,50.9 1073.9,55.1 1081.8,59.4 1089.8,63.8 1097.8,68.1 1105.7,72.4 1113.7,76.7 1121.6,81 1129.6,85.3 1137.6,89.6 1145.5,94 1153.5,98.4 1161.5,102.7 1169.4,107.1 1177.4,111.5 1185.3,115.9 1193.3,120.3 1201.3,124.7 1209.2,129.1 1217.2,133.5 1225.1,137.9 1233.1,142.4 1241.1,146.8 1249,151.2 1257,155.5 1264.9,159.2 1272.9,163 1280.9,166.8 1288.8,170.6 1296.8,174.4 1304.7,178.2 1312.7,182 1320.7,185.8 1328.6,189.6 1336.6,193.3 1344.5,197.1 1352.5,200.8 1360.5,205.1 1368.4,209.5 1376.4,213.9 1384.4,218.3 1392.3,222.6 1400.3,227 1408.2,231.4 1416.2,235.8 1424.2,240.2 1432.1,244.5 1440.1,248.9 1448,253.3 1456,257.4 1464,261.3 1471.9,265.1 1479.9,268.8 1487.8,272.6 1495.8,276.3 1503.8,280 1511.7,283.8 1519.7,287.5 1527.6,291.3 1535.6,295 1543.6,298.7 1551.5,302.5 1559.5,306.1 1567.5,309.6 1575.4,313.1 1583.4,316.6 1591.3,320 1599.3,323.5 1607.3,327 1615.2,330.5 1623.2,334 1631.1,337.5 1639.1,341 1647.1,344.5 1655,347.6 1663,350.3 1670.9,352.7 1678.9,355.1 1686.9,357.5 1694.8,359.9 1702.8,362.2 1710.7,364.6 1718.7,367 1726.7,369.4 1734.6,371.8 1742.6,374.2 1750.5,376.3 1758.5,378 1766.5,379.4 1774.4,380.4 1782.4,381.5 1790.4,382.6 1798.3,383.6 1806.3,384.6 1814.2,385.3 1822.2,385.9 1830.2,386.4 1838.1,386.9 1846.1,387.4 1854,387.9 1862,388.3 1862,543.7 1854,543.9 1846.1,544.2 1838.1,544.4 1830.2,544.6 1822.2,544.9 1814.2,545 1806.3,545 1798.3,544.7 1790.4,544.4 1782.4,544.1 1774.4,543.7 1766.5,543.4 1758.5,542.7 1750.5,540.6 1742.6,537.2 1734.6,533.5 1726.7,529.8 1718.7,526.1 1710.7,522.4 1702.8,518.7 1694.8,515 1686.9,511.3 1678.9,507.6 1670.9,503.9 1663,500.2 1655,496.1 1647.1,492.7 1639.1,488.9 1631.1,485 1623.2,481.2 1615.2,477.3 1607.3,473.5 1599.3,469.7 1591.3,465.8 1583.4,462 1575.4,458.1 1567.5,454.3 1559.5,450.5 1551.5,446.7 1543.6,442.8 1535.6,439 1527.6,435.2 1519.7,431.4 1511.7,427.6 1503.8,423.8 1495.8,420 1487.8,416.2 1479.9,412.4 1471.9,408.6 1464,404.8 1456,400.8 1448,396.8 1440.1,392.5 1432.1,388.3 1424.2,384 1416.2,379.7 1408.2,375.5 1400.3,371.2 1392.3,366.9 1384.4,362.7 1376.4,358.4 1368.4,354.1 1360.5,349.8 1352.5,345.1 1344.5,339.7 1336.6,334.2 1328.6,328.7 1320.7,323.2 1312.7,317.7 1304.7,312.2 1296.8,306.7 1288.8,301.2 1280.9,295.7 1272.9,290.1 1264.9,284.6 1257,279.2 1249,274.4 1241.1,269.9 1233.1,265.4 1225.1,260.9 1217.2,256.4 1209.2,251.9 1201.3,247.4 1193.3,242.9 1185.3,238.5 1177.4,234 1169.4,229.5 1161.5,225 1153.5,220.8 1145.5,217.1 1137.6,213.5 1129.6,210 1121.6,206.4 1113.7,202.8 1105.7,199.3 1097.8,195.7 1089.8,192.1 1081.8,188.6 1073.9,185 1065.9,181.5 1058,178 1050,174.6" fill="#2773c3"/>
<polygon points="1050,45 1058,49.2 1065.9,53.4 1073.9,57.7 1081.8,62 1089.8,66.4 1097.8,70.7 1105.7,75 1113.7,79.4 1121.6,83.7 1129.6,88 1137.6,92.3 1145.5,96.7 1153.5,101.2 1161.5,105.4 1169.4,109.8 1177.4,114.2 1185.3,118.7 1193.3,123.1 1201.3,127.5 1209.2,131.9 1217.2,136.3 1225.1,140.7 1233.1,145.2 1241.1,149.6 1249,154 1257,158.3 1264.9,162.2 1272.9,166 1280.9,169.9 1288.8,173.8 1296.8,177.6 1304.7,181.5 1312.7,185.4 1320.7,189.2 1328.6,193.1 1336.6,197 1344.5,200.9 1352.5,204.6 1360.5,208.9 1368.4,213.4 1376.4,217.8 1384.4,222.2 1392.3,226.7 1400.3,231.1 1408.2,235.5 1416.2,239.9 1424.2,244.4 1432.1,248.8 1440.1,253.2 1448,257.6 1456,261.8 1464,265.7 1471.9,269.4 1479.9,273.1 1487.8,276.8 1495.8,280.5 1503.8,284.1 1511.7,287.8 1519.7,291.5 1527.6,295.2 1535.6,298.9 1543.6,302.6 1551.5,306.4 1559.5,310 1567.5,313.5 1575.4,317 1583.4,320.6 1591.3,324.1 1599.3,327.7 1607.3,331.2 1615.2,334.8 1623.2,338.3 1631.1,341.9 1639.1,345.4 1647.1,349 1655,352.1 1663,355 1670.9,357.4 1678.9,359.8 1686.9,362.3 1694.8,364.7 1702.8,367.1 1710.7,369.6 1718.7,372 1726.7,374.5 1734.6,376.9 1742.6,379.3 1750.5,381.5 1758.5,383.2 1766.5,384.6 1774.4,385.6 1782.4,386.6 1790.4,387.6 1798.3,388.6 1806.3,389.5 1814.2,390.3 1822.2,390.8 1830.2,391.2 1838.1,391.7 1846.1,392.1 1854,392.6 1862,393 1862,533.9 1854,534 1846.1,534.1 1838.1,534.2 1830.2,534.4 1822.2,534.5 1814.2,534.5 1806.3,534.4 1798.3,534.1 1790.4,533.6 1782.4,533.2 1774.4,532.8 1766.5,532.3 1758.5,531.5 1750.5,529.4 1742.6,526.2 1734.6,522.7 1726.7,519.2 1718.7,515.6 1710.7,512.1 1702.8,508.6 1694.8,505.1 1686.9,501.6 1678.9,498 1670.9,494.5 1663,491 1655,487.1 1647.1,483.6 1639.1,479.7 1631.1,475.9 1623.2,472 1615.2,468.1 1607.3,464.3 1599.3,460.4 1591.3,456.6 1583.4,452.7 1575.4,448.8 1567.5,445 1559.5,441.1 1551.5,437.3 1543.6,433.5 1535.6,429.7 1527.6,425.9 1519.7,422.2 1511.7,418.4 1503.8,414.6 1495.8,410.8 1487.8,407 1479.9,403.3 1471.9,399.5 1464,395.7 1456,391.7 1448,387.7 1440.1,383.6 1432.1,379.3 1424.2,375.1 1416.2,370.9 1408.2,366.7 1400.3,362.5 1392.3,358.3 1384.4,354.1 1376.4,349.9 1368.4,345.6 1360.5,341.4 1352.5,336.7 1344.5,331.4 1336.6,325.9 1328.6,320.5 1320.7,315 1312.7,309.6 1304.7,304.2 1296.8,298.7 1288.8,293.3 1280.9,287.8 1272.9,282.4 1264.9,276.9 1257,271.5 1249,266.7 1241.1,262.2 1233.1,257.6 1225.1,253.1 1217.2,248.5 1209.2,244 1201.3,239.4 1193.3,234.9 1185.3,230.4 1177.4,225.8 1169.4,221.3 1161.5,216.8 1153.5,212.5 1145.5,208.8 1137.6,205.2 1129.6,201.7 1121.6,198.1 1113.7,194.5 1105.7,191 1097.8,187.4 1089.8,183.8 1081.8,180.3 1073.9,176.7 1065.9,173.2 1058,169.7 1050,166.3" fill="#217cca"/>
<polygon points="1050,47.7 1058,51.9 1065.9,56.1 1073.9,60.4 1081.8,64.7 1089.8,69.1 1097.8,73.4 1105.7,77.8 1113.7,82.1 1121.6,86.5 1129.6,90.8 1137.6,95.2 1145.5,99.5 1153.5,104 1161.5,108.3 1169.4,112.7 1177.4,117.1 1185.3,121.5 1193.3,126 1201.3,130.4 1209.2,134.8 1217.2,139.3 1225.1,143.7 1233.1,148.1 1241.1,152.5 1249,157 1257,161.3 1264.9,165.2 1272.9,169.2 1280.9,173.1 1288.8,177.1 1296.8,181 1304.7,185 1312.7,188.9 1320.7,192.9 1328.6,196.8 1336.6,200.8 1344.5,204.7 1352.5,208.6 1360.5,213 1368.4,217.5 1376.4,221.9 1384.4,226.4 1392.3,230.9 1400.3,235.3 1408.2,239.8 1416.2,244.3 1424.2,248.8 1432.1,253.2 1440.1,257.7 1448,262.1 1456,266.3 1464,270.2 1471.9,273.8 1479.9,277.5 1487.8,281.1 1495.8,284.8 1503.8,288.4 1511.7,292.1 1519.7,295.7 1527.6,299.4 1535.6,303 1543.6,306.7 1551.5,310.4 1559.5,314 1567.5,317.6 1575.4,321.2 1583.4,324.8 1591.3,328.4 1599.3,332 1607.3,335.6 1615.2,339.3 1623.2,342.9 1631.1,346.5 1639.1,350.1 1647.1,353.7 1655,356.9 1663,359.8 1670.9,362.3 1678.9,364.8 1686.9,367.3 1694.8,369.8 1702.8,372.3 1710.7,374.8 1718.7,377.2 1726.7,379.7 1734.6,382.2 1742.6,384.7 1750.5,386.9 1758.5,388.7 1766.5,390 1774.4,391 1782.4,391.9 1790.4,392.9 1798.3,393.9 1806.3,394.7 1814.2,395.4 1822.2,395.9 1830.2,396.3 1838.1,396.7 1846.1,397.1 1854,397.5 1862,397.9 1862,523.6 1854,523.6 1846.1,523.6 1838.1,523.7 1830.2,523.7 1822.2,523.7 1814.2,523.6 1806.3,523.4 1798.3,522.9 1790.4,522.4 1782.4,521.8 1774.4,521.3 1766.5,520.7 1758.5,519.8 1750.5,517.8 1742.6,514.7 1734.6,511.4 1726.7,508.1 1718.7,504.7 1710.7,501.4 1702.8,498 1694.8,494.7 1686.9,491.4 1678.9,488 1670.9,484.7 1663,481.3 1655,477.6 1647.1,474.1 1639.1,470.2 1631.1,466.3 1623.2,462.4 1615.2,458.5 1607.3,454.7 1599.3,450.8 1591.3,446.9 1583.4,443 1575.4,439.1 1567.5,435.2 1559.5,431.3 1551.5,427.5 1543.6,423.7 1535.6,420 1527.6,416.2 1519.7,412.5 1511.7,408.7 1503.8,405 1495.8,401.2 1487.8,397.5 1479.9,393.7 1471.9,390 1464,386.2 1456,382.3 1448,378.3 1440.1,374.2 1432.1,370 1424.2,365.9 1416.2,361.7 1408.2,357.6 1400.3,353.4 1392.3,349.2 1384.4,345.1 1376.4,340.9 1368.4,336.8 1360.5,332.6 1352.5,328 1344.5,322.7 1336.6,317.3 1328.6,311.9 1320.7,306.5 1312.7,301.2 1304.7,295.8 1296.8,290.4 1288.8,285 1280.9,279.6 1272.9,274.2 1264.9,268.9 1257,263.5 1249,258.7 1241.1,254.1 1233.1,249.5 1225.1,244.9 1217.2,240.3 1209.2,235.7 1201.3,231.1 1193.3,226.5 1185.3,221.9 1177.4,217.3 1169.4,212.7 1161.5,208.1 1153.5,203.9 1145.5,200.1 1137.6,196.6 1129.6,193 1121.6,189.4 1113.7,185.9 1105.7,182.3 1097.8,178.7 1089.8,175.2 1081.8,171.6 1073.9,168 1065.9,164.5 1058,161.1 1050,157.7" fill="#1988d0"/>
<polygon points="1050,50.4 1058,54.6 1065.9,58.9 1073.9,63.2 1081.8,67.6 1089.8,71.9 1097.8,76.3 1105.7,80.6 1113.7,85 1121.6,89.4 1129.6,93.7 1137.6,98.1 1145.5,102.4 1153.5,107 1161.5,111.3 1169.4,115.7 1177.4,120.1 1185.3,124.5 1193.3,129 1201.3,133.4 1209.2,137.8 1217.2,142.3 1225.1,146.7 1233.1,151.2 1241.1,155.6 1249,160 1257,164.4 1264.9,168.4 1272.9,172.4 1280.9,176.5 1288.8,180.5 1296.8,184.6 1304.7,188.6 1312.7,192.6 1320.7,196.7 1328.6,200.7 1336.6,204.7 1344.5,208.8 1352.5,212.7 1360.5,217.1 1368.4,221.7 1376.4,226.2 1384.4,230.7 1392.3,235.2 1400.3,239.8 1408.2,244.3 1416.2,248.8 1424.2,253.3 1432.1,257.8 1440.1,262.3 1448,266.8 1456,271 1464,274.9 1471.9,278.5 1479.9,282.1 1487.8,285.7 1495.8,289.3 1503.8,292.9 1511.7,296.5 1519.7,300.1 1527.6,303.7 1535.6,307.3 1543.6,310.9 1551.5,314.6 1559.5,318.2 1567.5,321.8 1575.4,325.5 1583.4,329.2 1591.3,332.9 1599.3,336.5 1607.3,340.2 1615.2,343.9 1623.2,347.6 1631.1,351.3 1639.1,354.9 1647.1,358.6 1655,361.9 1663,364.8 1670.9,367.4 1678.9,369.9 1686.9,372.5 1694.8,375 1702.8,377.6 1710.7,380.1 1718.7,382.7 1726.7,385.2 1734.6,387.8 1742.6,390.3 1750.5,392.6 1758.5,394.3 1766.5,395.6 1774.4,396.5 1782.4,397.5 1790.4,398.4 1798.3,399.3 1806.3,400.1 1814.2,400.8 1822.2,401.2 1830.2,401.6 1838.1,401.9 1846.1,402.3 1854,402.7 1862,403 1862,512.9 1854,512.8 1846.1,512.7 1838.1,512.7 1830.2,512.6 1822.2,512.5 1814.2,512.3 1806.3,511.9 1798.3,511.3 1790.4,510.7 1782.4,510 1774.4,509.4 1766.5,508.7 1758.5,507.7 1750.5,505.7 1742.6,502.8 1734.6,499.7 1726.7,496.5 1718.7,493.4 1710.7,490.2 1702.8,487.1 1694.8,483.9 1686.9,480.8 1678.9,477.6 1670.9,474.5 1663,471.3 1655,467.8 1647.1,464.3 1639.1,460.3 1631.1,456.4 1623.2,452.5 1615.2,448.6 1607.3,444.7 1599.3,440.7 1591.3,436.8 1583.4,432.9 1575.4,429 1567.5,425.1 1559.5,421.2 1551.5,417.4 1543.6,413.6 1535.6,409.9 1527.6,406.1 1519.7,402.4 1511.7,398.7 1503.8,395 1495.8,391.2 1487.8,387.5 1479.9,383.8 1471.9,380.1 1464,376.4 1456,372.4 1448,368.5 1440.1,364.5 1432.1,360.4 1424.2,356.3 1416.2,352.2 1408.2,348.1 1400.3,344 1392.3,339.9 1384.4,335.8 1376.4,331.7 1368.4,327.6 1360.5,323.4 1352.5,318.9 1344.5,313.7 1336.6,308.3 1328.6,303 1320.7,297.7 1312.7,292.4 1304.7,287.1 1296.8,281.8 1288.8,276.4 1280.9,271.1 1272.9,265.8 1264.9,260.5 1257,255.2 1249,250.4 1241.1,245.7 1233.1,241 1225.1,236.4 1217.2,231.7 1209.2,227.1 1201.3,222.4 1193.3,217.8 1185.3,213.1 1177.4,208.5 1169.4,203.8 1161.5,199.2 1153.5,194.9 1145.5,191.1 1137.6,187.6 1129.6,184 1121.6,180.4 1113.7,176.9 1105.7,173.3 1097.8,169.7 1089.8,166.2 1081.8,162.6 1073.9,159 1065.9,155.5 1058,152.1 1050,148.7" fill="#099dcd"/>
<polygon points="1050,53.2 1058,57.5 1065.9,61.7 1073.9,66.1 1081.8,70.5 1089.8,74.8 1097.8,79.2 1105.7,83.6 1113.7,88 1121.6,92.3 1129.6,96.7 1137.6,101.1 1145.5,105.5 1153.5,110 1161.5,114.3 1169.4,118.7 1177.4,123.2 1185.3,127.6 1193.3,132.1 1201.3,136.5 1209.2,141 1217.2,145.4 1225.1,149.9 1233.1,154.3 1241.1,158.8 1249,163.2 1257,167.6 1264.9,171.7 1272.9,175.8 1280.9,179.9 1288.8,184.1 1296.8,188.2 1304.7,192.3 1312.7,196.4 1320.7,200.6 1328.6,204.7 1336.6,208.8 1344.5,212.9 1352.5,217 1360.5,221.5 1368.4,226.1 1376.4,230.6 1384.4,235.2 1392.3,239.8 1400.3,244.3 1408.2,248.9 1416.2,253.4 1424.2,258 1432.1,262.6 1440.1,267.1 1448,271.7 1456,275.9 1464,279.7 1471.9,283.3 1479.9,286.8 1487.8,290.4 1495.8,293.9 1503.8,297.5 1511.7,301 1519.7,304.6 1527.6,308.1 1535.6,311.7 1543.6,315.3 1551.5,318.9 1559.5,322.5 1567.5,326.2 1575.4,330 1583.4,333.7 1591.3,337.5 1599.3,341.2 1607.3,345 1615.2,348.7 1623.2,352.4 1631.1,356.2 1639.1,359.9 1647.1,363.7 1655,367 1663,370 1670.9,372.6 1678.9,375.2 1686.9,377.9 1694.8,380.5 1702.8,383.1 1710.7,385.7 1718.7,388.3 1726.7,390.9 1734.6,393.5 1742.6,396.1 1750.5,398.4 1758.5,400.2 1766.5,401.4 1774.4,402.3 1782.4,403.2 1790.4,404.1 1798.3,404.9 1806.3,405.7 1814.2,406.3 1822.2,406.7 1830.2,407 1838.1,407.3 1846.1,407.7 1854,408 1862,408.3 1862,501.9 1854,501.7 1846.1,501.5 1838.1,501.3 1830.2,501.1 1822.2,500.9 1814.2,500.6 1806.3,500.1 1798.3,499.4 1790.4,498.6 1782.4,497.8 1774.4,497 1766.5,496.3 1758.5,495.1 1750.5,493.2 1742.6,490.5 1734.6,487.6 1726.7,484.6 1718.7,481.7 1710.7,478.7 1702.8,475.8 1694.8,472.8 1686.9,469.8 1678.9,466.9 1670.9,463.9 1663,461 1655,457.6 1647.1,454.1 1639.1,450.1 1631.1,446.2 1623.2,442.2 1615.2,438.3 1607.3,434.3 1599.3,430.4 1591.3,426.4 1583.4,422.5 1575.4,418.5 1567.5,414.6 1559.5,410.7 1551.5,406.9 1543.6,403.1 1535.6,399.4 1527.6,395.7 1519.7,392 1511.7,388.3 1503.8,384.6 1495.8,380.9 1487.8,377.2 1479.9,373.6 1471.9,369.9 1464,366.2 1456,362.3 1448,358.4 1440.1,354.4 1432.1,350.4 1424.2,346.3 1416.2,342.3 1408.2,338.3 1400.3,334.2 1392.3,330.2 1384.4,326.1 1376.4,322.1 1368.4,318 1360.5,314 1352.5,309.5 1344.5,304.3 1336.6,299.1 1328.6,293.8 1320.7,288.6 1312.7,283.3 1304.7,278.1 1296.8,272.8 1288.8,267.6 1280.9,262.3 1272.9,257.1 1264.9,251.8 1257,246.6 1249,241.8 1241.1,237 1233.1,232.3 1225.1,227.6 1217.2,222.9 1209.2,218.2 1201.3,213.5 1193.3,208.8 1185.3,204 1177.4,199.3 1169.4,194.6 1161.5,189.9 1153.5,185.6 1145.5,181.8 1137.6,178.3 1129.6,174.7 1121.6,171.1 1113.7,167.6 1105.7,164 1097.8,160.4 1089.8,156.9 1081.8,153.3 1073.9,149.8 1065.9,146.2 1058,142.8 1050,139.4" fill="#06a6c7"/>
<polygon points="1050,56.2 1058,60.4 1065.9,64.7 1073.9,69 1081.8,73.4 1089.8,77.8 1097.8,82.2 1105.7,86.6 1113.7,91 1121.6,95.4 1129.6,99.8 1137.6,104.2 1145.5,108.6 1153.5,113.2 1161.5,117.5 1169.4,121.9 1177.4,126.4 1185.3,130.8 1193.3,135.3 1201.3,139.7 1209.2,144.2 1217.2,148.6 1225.1,153.1 1233.1,157.6 1241.1,162 1249,166.5 1257,170.9 1264.9,175.1 1272.9,179.3 1280.9,183.5 1288.8,187.7 1296.8,191.9 1304.7,196.2 1312.7,200.4 1320.7,204.6 1328.6,208.8 1336.6,213 1344.5,217.2 1352.5,221.4 1360.5,225.9 1368.4,230.5 1376.4,235.2 1384.4,239.8 1392.3,244.4 1400.3,249 1408.2,253.6 1416.2,258.2 1424.2,262.8 1432.1,267.5 1440.1,272.1 1448,276.7 1456,281 1464,284.7 1471.9,288.2 1479.9,291.7 1487.8,295.2 1495.8,298.7 1503.8,302.2 1511.7,305.7 1519.7,309.2 1527.6,312.7 1535.6,316.2 1543.6,319.7 1551.5,323.3 1559.5,327 1567.5,330.7 1575.4,334.6 1583.4,338.4 1591.3,342.2 1599.3,346 1607.3,349.8 1615.2,353.6 1623.2,357.5 1631.1,361.3 1639.1,365.1 1647.1,368.9 1655,372.3 1663,375.4 1670.9,378.1 1678.9,380.7 1686.9,383.4 1694.8,386 1702.8,388.7 1710.7,391.4 1718.7,394 1726.7,396.7 1734.6,399.4 1742.6,402 1750.5,404.4 1758.5,406.2 1766.5,407.4 1774.4,408.2 1782.4,409.1 1790.4,409.9 1798.3,410.7 1806.3,411.5 1814.2,412 1822.2,412.4 1830.2,412.6 1838.1,412.9 1846.1,413.2 1854,413.4 1862,413.7 1862,490.6 1854,490.3 1846.1,489.9 1838.1,489.6 1830.2,489.3 1822.2,488.9 1814.2,488.5 1806.3,487.9 1798.3,487.1 1790.4,486.2 1782.4,485.3 1774.4,484.4 1766.5,483.5 1758.5,482.2 1750.5,480.4 1742.6,477.9 1734.6,475.1 1726.7,472.4 1718.7,469.6 1710.7,466.9 1702.8,464.1 1694.8,461.3 1686.9,458.6 1678.9,455.8 1670.9,453.1 1663,450.3 1655,447.2 1647.1,443.6 1639.1,439.6 1631.1,435.6 1623.2,431.7 1615.2,427.7 1607.3,423.7 1599.3,419.7 1591.3,415.7 1583.4,411.8 1575.4,407.8 1567.5,403.8 1559.5,399.9 1551.5,396 1543.6,392.3 1535.6,388.7 1527.6,385 1519.7,381.3 1511.7,377.7 1503.8,374 1495.8,370.3 1487.8,366.7 1479.9,363 1471.9,359.4 1464,355.7 1456,351.8 1448,348.1 1440.1,344.1 1432.1,340.1 1424.2,336.1 1416.2,332.1 1408.2,328.2 1400.3,324.2 1392.3,320.2 1384.4,316.2 1376.4,312.2 1368.4,308.2 1360.5,304.2 1352.5,299.8 1344.5,294.7 1336.6,289.5 1328.6,284.4 1320.7,279.2 1312.7,274 1304.7,268.8 1296.8,263.7 1288.8,258.5 1280.9,253.3 1272.9,248.1 1264.9,242.9 1257,237.8 1249,232.9 1241.1,228.1 1233.1,223.3 1225.1,218.6 1217.2,213.8 1209.2,209 1201.3,204.3 1193.3,199.5 1185.3,194.7 1177.4,189.9 1169.4,185.2 1161.5,180.4 1153.5,176 1145.5,172.3 1137.6,168.7 1129.6,165.1 1121.6,161.6 1113.7,158 1105.7,154.4 1097.8,150.9 1089.8,147.3 1081.8,143.8 1073.9,140.2 1065.9,136.7 1058,133.2 1050,129.8" fill="#0cadbc"/>
<polygon points="1050,57.8 1058,62 1065.9,66.3 1073.9,70.6 1081.8,75 1089.8,79.4 1097.8,83.8 1105.7,88.2 1113.7,92.6 1121.6,97 1129.6,101.4 1137.6,105.8 1145.5,110.2 1153.5,114.8 1161.5,119.1 1169.4,123.5 1177.4,128 1185.3,132.4 1193.3,136.9 1201.3,141.3 1209.2,145.8 1217.2,150.3 1225.1,154.7 1233.1,159.2 1241.1,163.6 1249,168.1 1257,172.5 1264.9,176.7 1272.9,180.9 1280.9,185.1 1288.8,189.4 1296.8,193.6 1304.7,197.8 1312.7,202 1320.7,206.2 1328.6,210.5 1336.6,214.7 1344.5,218.9 1352.5,223 1360.5,227.6 1368.4,232.2 1376.4,236.8 1384.4,241.5 1392.3,246.1 1400.3,250.7 1408.2,255.3 1416.2,259.9 1424.2,264.5 1432.1,269.2 1440.1,273.8 1448,278.4 1456,282.7 1464,286.4 1471.9,289.9 1479.9,293.4 1487.8,296.9 1495.8,300.4 1503.8,303.9 1511.7,307.4 1519.7,310.9 1527.6,314.4 1535.6,317.9 1543.6,321.4 1551.5,325 1559.5,328.6 1567.5,332.4 1575.4,336.2 1583.4,340.1 1591.3,343.9 1599.3,347.7 1607.3,351.5 1615.2,355.3 1623.2,359.2 1631.1,363 1639.1,366.8 1647.1,370.6 1655,374 1663,377.1 1670.9,379.8 1678.9,382.4 1686.9,385.1 1694.8,387.8 1702.8,390.5 1710.7,393.1 1718.7,395.8 1726.7,398.5 1734.6,401.1 1742.6,403.8 1750.5,406.2 1758.5,408 1766.5,409.2 1774.4,410 1782.4,410.8 1790.4,411.6 1798.3,412.5 1806.3,413.2 1814.2,413.7 1822.2,414.1 1830.2,414.4 1838.1,414.6 1846.1,414.9 1854,415.2 1862,415.4 1862,488.6 1854,488.2 1846.1,487.9 1838.1,487.5 1830.2,487.2 1822.2,486.8 1814.2,486.4 1806.3,485.8 1798.3,485 1790.4,484.1 1782.4,483.2 1774.4,482.3 1766.5,481.4 1758.5,480.1 1750.5,478.2 1742.6,475.8 1734.6,473 1726.7,470.3 1718.7,467.5 1710.7,464.8 1702.8,462 1694.8,459.3 1686.9,456.5 1678.9,453.8 1670.9,451.1 1663,448.3 1655,445.2 1647.1,441.6 1639.1,437.6 1631.1,433.6 1623.2,429.7 1615.2,425.7 1607.3,421.7 1599.3,417.7 1591.3,413.7 1583.4,409.7 1575.4,405.8 1567.5,401.8 1559.5,397.9 1551.5,394 1543.6,390.3 1535.6,386.6 1527.6,383 1519.7,379.3 1511.7,375.7 1503.8,372 1495.8,368.3 1487.8,364.7 1479.9,361 1471.9,357.3 1464,353.7 1456,349.8 1448,346.1 1440.1,342.1 1432.1,338.1 1424.2,334.1 1416.2,330.2 1408.2,326.2 1400.3,322.2 1392.3,318.2 1384.4,314.2 1376.4,310.3 1368.4,306.3 1360.5,302.3 1352.5,297.9 1344.5,292.8 1336.6,287.6 1328.6,282.4 1320.7,277.2 1312.7,272.1 1304.7,266.9 1296.8,261.7 1288.8,256.5 1280.9,251.4 1272.9,246.2 1264.9,241 1257,235.9 1249,231 1241.1,226.2 1233.1,221.4 1225.1,216.6 1217.2,211.9 1209.2,207.1 1201.3,202.3 1193.3,197.5 1185.3,192.8 1177.4,188 1169.4,183.2 1161.5,178.5 1153.5,174.1 1145.5,170.3 1137.6,166.8 1129.6,163.2 1121.6,159.6 1113.7,156.1 1105.7,152.5 1097.8,148.9 1089.8,145.4 1081.8,141.8 1073.9,138.2 1065.9,134.7 1058,131.3 1050,127.8" fill="#1cb3af"/>
<polygon points="1050,59.3 1058,63.5 1065.9,67.8 1073.9,72.2 1081.8,76.6 1089.8,81 1097.8,85.4 1105.7,89.7 1113.7,94.1 1121.6,98.5 1129.6,102.9 1137.6,107.3 1145.5,111.7 1153.5,116.3 1161.5,120.6 1169.4,125 1177.4,129.5 1185.3,133.9 1193.3,138.4 1201.3,142.9 1209.2,147.3 1217.2,151.8 1225.1,156.2 1233.1,160.7 1241.1,165.1 1249,169.6 1257,174 1264.9,178.2 1272.9,182.4 1280.9,186.7 1288.8,190.9 1296.8,195.1 1304.7,199.3 1312.7,203.5 1320.7,207.8 1328.6,212 1336.6,216.2 1344.5,220.4 1352.5,224.5 1360.5,229.1 1368.4,233.7 1376.4,238.4 1384.4,243 1392.3,247.6 1400.3,252.2 1408.2,256.8 1416.2,261.4 1424.2,266.1 1432.1,270.7 1440.1,275.3 1448,279.9 1456,284.2 1464,287.9 1471.9,291.4 1479.9,294.9 1487.8,298.4 1495.8,301.9 1503.8,305.4 1511.7,308.9 1519.7,312.4 1527.6,315.9 1535.6,319.4 1543.6,322.9 1551.5,326.5 1559.5,330.2 1567.5,333.9 1575.4,337.8 1583.4,341.6 1591.3,345.4 1599.3,349.2 1607.3,353 1615.2,356.9 1623.2,360.7 1631.1,364.5 1639.1,368.3 1647.1,372.1 1655,375.6 1663,378.6 1670.9,381.3 1678.9,384 1686.9,386.6 1694.8,389.3 1702.8,392 1710.7,394.6 1718.7,397.3 1726.7,400 1734.6,402.6 1742.6,405.3 1750.5,407.7 1758.5,409.5 1766.5,410.7 1774.4,411.5 1782.4,412.3 1790.4,413.2 1798.3,414 1806.3,414.7 1814.2,415.3 1822.2,415.6 1830.2,415.9 1838.1,416.2 1846.1,416.4 1854,416.7 1862,417 1862,487 1854,486.7 1846.1,486.4 1838.1,486 1830.2,485.7 1822.2,485.3 1814.2,484.9 1806.3,484.3 1798.3,483.5 1790.4,482.6 1782.4,481.6 1774.4,480.7 1766.5,479.8 1758.5,478.6 1750.5,476.7 1742.6,474.2 1734.6,471.5 1726.7,468.8 1718.7,466 1710.7,463.3 1702.8,460.5 1694.8,457.8 1686.9,455 1678.9,452.3 1670.9,449.5 1663,446.8 1655,443.7 1647.1,440.1 1639.1,436.1 1631.1,432.1 1623.2,428.1 1615.2,424.2 1607.3,420.2 1599.3,416.2 1591.3,412.2 1583.4,408.2 1575.4,404.3 1567.5,400.3 1559.5,396.3 1551.5,392.5 1543.6,388.8 1535.6,385.1 1527.6,381.5 1519.7,377.8 1511.7,374.1 1503.8,370.5 1495.8,366.8 1487.8,363.2 1479.9,359.5 1471.9,355.8 1464,352.2 1456,348.3 1448,344.5 1440.1,340.6 1432.1,336.6 1424.2,332.6 1416.2,328.6 1408.2,324.7 1400.3,320.7 1392.3,316.7 1384.4,312.7 1376.4,308.7 1368.4,304.8 1360.5,300.7 1352.5,296.3 1344.5,291.3 1336.6,286.1 1328.6,280.9 1320.7,275.7 1312.7,270.6 1304.7,265.4 1296.8,260.2 1288.8,255 1280.9,249.9 1272.9,244.7 1264.9,239.5 1257,234.4 1249,229.5 1241.1,224.7 1233.1,219.9 1225.1,215.1 1217.2,210.4 1209.2,205.6 1201.3,200.8 1193.3,196 1185.3,191.2 1177.4,186.5 1169.4,181.7 1161.5,177 1153.5,172.5 1145.5,168.8 1137.6,165.2 1129.6,161.7 1121.6,158.1 1113.7,154.5 1105.7,151 1097.8,147.4 1089.8,143.8 1081.8,140.3 1073.9,136.7 1065.9,133.2 1058,129.7 1050,126.3" fill="#33b8a1"/>
<polygon points="1050,60.8 1058,65 1065.9,69.3 1073.9,73.7 1081.8,78.1 1089.8,82.5 1097.8,86.9 1105.7,91.3 1113.7,95.7 1121.6,100.1 1129.6,104.5 1137.6,108.8 1145.5,113.2 1153.5,117.8 1161.5,122.1 1169.4,126.5 1177.4,131 1185.3,135.5 1193.3,139.9 1201.3,144.4 1209.2,148.8 1217.2,153.3 1225.1,157.8 1233.1,162.2 1241.1,166.7 1249,171.1 1257,175.5 1264.9,179.7 1272.9,184 1280.9,188.2 1288.8,192.4 1296.8,196.6 1304.7,200.8 1312.7,205.1 1320.7,209.3 1328.6,213.5 1336.6,217.7 1344.5,221.9 1352.5,226.1 1360.5,230.6 1368.4,235.3 1376.4,239.9 1384.4,244.5 1392.3,249.1 1400.3,253.7 1408.2,258.3 1416.2,263 1424.2,267.6 1432.1,272.2 1440.1,276.8 1448,281.4 1456,285.7 1464,289.4 1471.9,292.9 1479.9,296.4 1487.8,299.9 1495.8,303.4 1503.8,306.9 1511.7,310.4 1519.7,313.9 1527.6,317.4 1535.6,320.9 1543.6,324.4 1551.5,328 1559.5,331.7 1567.5,335.4 1575.4,339.3 1583.4,343.1 1591.3,346.9 1599.3,350.7 1607.3,354.6 1615.2,358.4 1623.2,362.2 1631.1,366 1639.1,369.8 1647.1,373.7 1655,377.1 1663,380.1 1670.9,382.8 1678.9,385.5 1686.9,388.2 1694.8,390.8 1702.8,393.5 1710.7,396.2 1718.7,398.8 1726.7,401.5 1734.6,404.2 1742.6,406.8 1750.5,409.2 1758.5,411 1766.5,412.2 1774.4,413 1782.4,413.8 1790.4,414.7 1798.3,415.5 1806.3,416.2 1814.2,416.8 1822.2,417.1 1830.2,417.4 1838.1,417.7 1846.1,417.9 1854,418.2 1862,418.5 1862,485.5 1854,485.2 1846.1,484.8 1838.1,484.5 1830.2,484.1 1822.2,483.8 1814.2,483.4 1806.3,482.8 1798.3,481.9 1790.4,481 1782.4,480.1 1774.4,479.2 1766.5,478.3 1758.5,477.1 1750.5,475.2 1742.6,472.7 1734.6,470 1726.7,467.2 1718.7,464.5 1710.7,461.7 1702.8,459 1694.8,456.3 1686.9,453.5 1678.9,450.8 1670.9,448 1663,445.3 1655,442.1 1647.1,438.6 1639.1,434.6 1631.1,430.6 1623.2,426.6 1615.2,422.6 1607.3,418.7 1599.3,414.7 1591.3,410.7 1583.4,406.7 1575.4,402.7 1567.5,398.8 1559.5,394.8 1551.5,391 1543.6,387.3 1535.6,383.6 1527.6,379.9 1519.7,376.3 1511.7,372.6 1503.8,369 1495.8,365.3 1487.8,361.6 1479.9,358 1471.9,354.3 1464,350.6 1456,346.8 1448,343 1440.1,339.1 1432.1,335.1 1424.2,331.1 1416.2,327.1 1408.2,323.1 1400.3,319.2 1392.3,315.2 1384.4,311.2 1376.4,307.2 1368.4,303.2 1360.5,299.2 1352.5,294.8 1344.5,289.7 1336.6,284.6 1328.6,279.4 1320.7,274.2 1312.7,269 1304.7,263.9 1296.8,258.7 1288.8,253.5 1280.9,248.3 1272.9,243.2 1264.9,238 1257,232.8 1249,227.9 1241.1,223.2 1233.1,218.4 1225.1,213.6 1217.2,208.8 1209.2,204.1 1201.3,199.3 1193.3,194.5 1185.3,189.7 1177.4,185 1169.4,180.2 1161.5,175.4 1153.5,171 1145.5,167.3 1137.6,163.7 1129.6,160.2 1121.6,156.6 1113.7,153 1105.7,149.5 1097.8,145.9 1089.8,142.3 1081.8,138.8 1073.9,135.2 1065.9,131.7 1058,128.2 1050,124.8" fill="#4ebc91"/>
<polygon points="1050,62.3 1058,66.6 1065.9,70.9 1073.9,75.2 1081.8,79.6 1089.8,84 1097.8,88.4 1105.7,92.8 1113.7,97.2 1121.6,101.6 1129.6,106 1137.6,110.4 1145.5,114.8 1153.5,119.3 1161.5,123.6 1169.4,128.1 1177.4,132.5 1185.3,137 1193.3,141.4 1201.3,145.9 1209.2,150.4 1217.2,154.8 1225.1,159.3 1233.1,163.7 1241.1,168.2 1249,172.6 1257,177.1 1264.9,181.3 1272.9,185.5 1280.9,189.7 1288.8,193.9 1296.8,198.1 1304.7,202.4 1312.7,206.6 1320.7,210.8 1328.6,215 1336.6,219.2 1344.5,223.5 1352.5,227.6 1360.5,232.1 1368.4,236.8 1376.4,241.4 1384.4,246 1392.3,250.6 1400.3,255.3 1408.2,259.9 1416.2,264.5 1424.2,269.1 1432.1,273.7 1440.1,278.3 1448,282.9 1456,287.2 1464,290.9 1471.9,294.4 1479.9,297.9 1487.8,301.4 1495.8,304.9 1503.8,308.4 1511.7,312 1519.7,315.5 1527.6,319 1535.6,322.5 1543.6,326 1551.5,329.5 1559.5,333.2 1567.5,337 1575.4,340.8 1583.4,344.6 1591.3,348.4 1599.3,352.3 1607.3,356.1 1615.2,359.9 1623.2,363.7 1631.1,367.5 1639.1,371.4 1647.1,375.2 1655,378.6 1663,381.7 1670.9,384.3 1678.9,387 1686.9,389.7 1694.8,392.3 1702.8,395 1710.7,397.7 1718.7,400.3 1726.7,403 1734.6,405.7 1742.6,408.3 1750.5,410.7 1758.5,412.5 1766.5,413.7 1774.4,414.5 1782.4,415.4 1790.4,416.2 1798.3,417 1806.3,417.8 1814.2,418.3 1822.2,418.7 1830.2,418.9 1838.1,419.2 1846.1,419.5 1854,419.7 1862,420 1862,484 1854,483.7 1846.1,483.3 1838.1,483 1830.2,482.6 1822.2,482.3 1814.2,481.9 1806.3,481.2 1798.3,480.4 1790.4,479.5 1782.4,478.6 1774.4,477.7 1766.5,476.8 1758.5,475.5 1750.5,473.7 1742.6,471.2 1734.6,468.5 1726.7,465.7 1718.7,463 1710.7,460.2 1702.8,457.5 1694.8,454.7 1686.9,452 1678.9,449.3 1670.9,446.5 1663,443.8 1655,440.6 1647.1,437 1639.1,433.1 1631.1,429.1 1623.2,425.1 1615.2,421.1 1607.3,417.1 1599.3,413.2 1591.3,409.2 1583.4,405.2 1575.4,401.2 1567.5,397.2 1559.5,393.3 1551.5,389.5 1543.6,385.8 1535.6,382.1 1527.6,378.4 1519.7,374.8 1511.7,371.1 1503.8,367.4 1495.8,363.8 1487.8,360.1 1479.9,356.5 1471.9,352.8 1464,349.1 1456,345.3 1448,341.5 1440.1,337.5 1432.1,333.6 1424.2,329.6 1416.2,325.6 1408.2,321.6 1400.3,317.6 1392.3,313.7 1384.4,309.7 1376.4,305.7 1368.4,301.7 1360.5,297.7 1352.5,293.3 1344.5,288.2 1336.6,283 1328.6,277.9 1320.7,272.7 1312.7,267.5 1304.7,262.3 1296.8,257.2 1288.8,252 1280.9,246.8 1272.9,241.6 1264.9,236.5 1257,231.3 1249,226.4 1241.1,221.6 1233.1,216.9 1225.1,212.1 1217.2,207.3 1209.2,202.5 1201.3,197.8 1193.3,193 1185.3,188.2 1177.4,183.4 1169.4,178.7 1161.5,173.9 1153.5,169.5 1145.5,165.8 1137.6,162.2 1129.6,158.6 1121.6,155.1 1113.7,151.5 1105.7,147.9 1097.8,144.4 1089.8,140.8 1081.8,137.2 1073.9,133.7 1065.9,130.2 1058,126.7 1050,123.3" fill="#6dbf82"/>
<polygon points="1050,63.8 1058,68.1 1065.9,72.4 1073.9,76.7 1081.8,81.1 1089.8,85.5 1097.8,89.9 1105.7,94.3 1113.7,98.7 1121.6,103.1 1129.6,107.5 1137.6,111.9 1145.5,116.3 1153.5,120.8 1161.5,125.2 1169.4,129.6 1177.4,134 1185.3,138.5 1193.3,143 1201.3,147.4 1209.2,151.9 1217.2,156.3 1225.1,160.8 1233.1,165.2 1241.1,169.7 1249,174.2 1257,178.6 1264.9,182.8 1272.9,187 1280.9,191.2 1288.8,195.4 1296.8,199.7 1304.7,203.9 1312.7,208.1 1320.7,212.3 1328.6,216.5 1336.6,220.8 1344.5,225 1352.5,229.1 1360.5,233.6 1368.4,238.3 1376.4,242.9 1384.4,247.5 1392.3,252.2 1400.3,256.8 1408.2,261.4 1416.2,266 1424.2,270.6 1432.1,275.2 1440.1,279.9 1448,284.4 1456,288.7 1464,292.5 1471.9,296 1479.9,299.5 1487.8,303 1495.8,306.5 1503.8,310 1511.7,313.5 1519.7,317 1527.6,320.5 1535.6,324 1543.6,327.5 1551.5,331 1559.5,334.7 1567.5,338.5 1575.4,342.3 1583.4,346.1 1591.3,349.9 1599.3,353.8 1607.3,357.6 1615.2,361.4 1623.2,365.2 1631.1,369.1 1639.1,372.9 1647.1,376.7 1655,380.1 1663,383.2 1670.9,385.9 1678.9,388.5 1686.9,391.2 1694.8,393.9 1702.8,396.5 1710.7,399.2 1718.7,401.9 1726.7,404.5 1734.6,407.2 1742.6,409.9 1750.5,412.3 1758.5,414 1766.5,415.2 1774.4,416.1 1782.4,416.9 1790.4,417.7 1798.3,418.5 1806.3,419.3 1814.2,419.8 1822.2,420.2 1830.2,420.4 1838.1,420.7 1846.1,421 1854,421.2 1862,421.5 1862,482.5 1854,482.1 1846.1,481.8 1838.1,481.5 1830.2,481.1 1822.2,480.8 1814.2,480.3 1806.3,479.7 1798.3,478.9 1790.4,478 1782.4,477.1 1774.4,476.2 1766.5,475.3 1758.5,474 1750.5,472.2 1742.6,469.7 1734.6,466.9 1726.7,464.2 1718.7,461.5 1710.7,458.7 1702.8,456 1694.8,453.2 1686.9,450.5 1678.9,447.7 1670.9,445 1663,442.2 1655,439.1 1647.1,435.5 1639.1,431.5 1631.1,427.6 1623.2,423.6 1615.2,419.6 1607.3,415.6 1599.3,411.6 1591.3,407.7 1583.4,403.7 1575.4,399.7 1567.5,395.7 1559.5,391.8 1551.5,388 1543.6,384.2 1535.6,380.6 1527.6,376.9 1519.7,373.2 1511.7,369.6 1503.8,365.9 1495.8,362.3 1487.8,358.6 1479.9,354.9 1471.9,351.3 1464,347.6 1456,343.7 1448,340 1440.1,336 1432.1,332 1424.2,328.1 1416.2,324.1 1408.2,320.1 1400.3,316.1 1392.3,312.1 1384.4,308.2 1376.4,304.2 1368.4,300.2 1360.5,296.2 1352.5,291.8 1344.5,286.7 1336.6,281.5 1328.6,276.3 1320.7,271.2 1312.7,266 1304.7,260.8 1296.8,255.7 1288.8,250.5 1280.9,245.3 1272.9,240.1 1264.9,235 1257,229.8 1249,224.9 1241.1,220.1 1233.1,215.3 1225.1,210.6 1217.2,205.8 1209.2,201 1201.3,196.2 1193.3,191.5 1185.3,186.7 1177.4,181.9 1169.4,177.1 1161.5,172.4 1153.5,168 1145.5,164.2 1137.6,160.7 1129.6,157.1 1121.6,153.6 1113.7,150 1105.7,146.4 1097.8,142.9 1089.8,139.3 1081.8,135.7 1073.9,132.2 1065.9,128.6 1058,125.2 1050,121.8" fill="#89bf76"/>
<polygon points="1050,65.3 1058,69.6 1065.9,73.9 1073.9,78.2 1081.8,82.6 1089.8,87 1097.8,91.4 1105.7,95.8 1113.7,100.2 1121.6,104.6 1129.6,109 1137.6,113.4 1145.5,117.8 1153.5,122.4 1161.5,126.7 1169.4,131.1 1177.4,135.6 1185.3,140 1193.3,144.5 1201.3,148.9 1209.2,153.4 1217.2,157.8 1225.1,162.3 1233.1,166.8 1241.1,171.2 1249,175.7 1257,180.1 1264.9,184.3 1272.9,188.5 1280.9,192.7 1288.8,197 1296.8,201.2 1304.7,205.4 1312.7,209.6 1320.7,213.8 1328.6,218 1336.6,222.3 1344.5,226.5 1352.5,230.6 1360.5,235.2 1368.4,239.8 1376.4,244.4 1384.4,249.1 1392.3,253.7 1400.3,258.3 1408.2,262.9 1416.2,267.5 1424.2,272.1 1432.1,276.8 1440.1,281.4 1448,286 1456,290.3 1464,294 1471.9,297.5 1479.9,301 1487.8,304.5 1495.8,308 1503.8,311.5 1511.7,315 1519.7,318.5 1527.6,322 1535.6,325.5 1543.6,329 1551.5,332.6 1559.5,336.2 1567.5,340 1575.4,343.8 1583.4,347.6 1591.3,351.5 1599.3,355.3 1607.3,359.1 1615.2,362.9 1623.2,366.8 1631.1,370.6 1639.1,374.4 1647.1,378.2 1655,381.6 1663,384.7 1670.9,387.4 1678.9,390 1686.9,392.7 1694.8,395.4 1702.8,398 1710.7,400.7 1718.7,403.4 1726.7,406 1734.6,408.7 1742.6,411.4 1750.5,413.8 1758.5,415.6 1766.5,416.7 1774.4,417.6 1782.4,418.4 1790.4,419.2 1798.3,420.1 1806.3,420.8 1814.2,421.3 1822.2,421.7 1830.2,422 1838.1,422.2 1846.1,422.5 1854,422.8 1862,423 1862,481 1854,480.6 1846.1,480.3 1838.1,479.9 1830.2,479.6 1822.2,479.2 1814.2,478.8 1806.3,478.2 1798.3,477.4 1790.4,476.5 1782.4,475.6 1774.4,474.7 1766.5,473.8 1758.5,472.5 1750.5,470.7 1742.6,468.2 1734.6,465.4 1726.7,462.7 1718.7,459.9 1710.7,457.2 1702.8,454.5 1694.8,451.7 1686.9,449 1678.9,446.2 1670.9,443.5 1663,440.7 1655,437.6 1647.1,434 1639.1,430 1631.1,426 1623.2,422.1 1615.2,418.1 1607.3,414.1 1599.3,410.1 1591.3,406.1 1583.4,402.2 1575.4,398.2 1567.5,394.2 1559.5,390.3 1551.5,386.4 1543.6,382.7 1535.6,379.1 1527.6,375.4 1519.7,371.7 1511.7,368.1 1503.8,364.4 1495.8,360.7 1487.8,357.1 1479.9,353.4 1471.9,349.8 1464,346.1 1456,342.2 1448,338.5 1440.1,334.5 1432.1,330.5 1424.2,326.6 1416.2,322.6 1408.2,318.6 1400.3,314.6 1392.3,310.6 1384.4,306.6 1376.4,302.7 1368.4,298.7 1360.5,294.7 1352.5,290.3 1344.5,285.2 1336.6,280 1328.6,274.8 1320.7,269.7 1312.7,264.5 1304.7,259.3 1296.8,254.1 1288.8,249 1280.9,243.8 1272.9,238.6 1264.9,233.4 1257,228.3 1249,223.4 1241.1,218.6 1233.1,213.8 1225.1,209.1 1217.2,204.3 1209.2,199.5 1201.3,194.7 1193.3,189.9 1185.3,185.2 1177.4,180.4 1169.4,175.6 1161.5,170.9 1153.5,166.5 1145.5,162.7 1137.6,159.2 1129.6,155.6 1121.6,152 1113.7,148.5 1105.7,144.9 1097.8,141.3 1089.8,137.8 1081.8,134.2 1073.9,130.6 1065.9,127.1 1058,123.7 1050,120.3" fill="#a3be6c"/>
<polygon points="1050,66.9 1058,71.1 1065.9,75.4 1073.9,79.8 1081.8,84.2 1089.8,88.5 1097.8,92.9 1105.7,97.3 1113.7,101.7 1121.6,106.1 1129.6,110.5 1137.6,114.9 1145.5,119.3 1153.5,123.9 1161.5,128.2 1169.4,132.6 1177.4,137.1 1185.3,141.5 1193.3,146 1201.3,150.4 1209.2,154.9 1217.2,159.4 1225.1,163.8 1233.1,168.3 1241.1,172.7 1249,177.2 1257,181.6 1264.9,185.8 1272.9,190 1280.9,194.3 1288.8,198.5 1296.8,202.7 1304.7,206.9 1312.7,211.1 1320.7,215.3 1328.6,219.6 1336.6,223.8 1344.5,228 1352.5,232.1 1360.5,236.7 1368.4,241.3 1376.4,246 1384.4,250.6 1392.3,255.2 1400.3,259.8 1408.2,264.4 1416.2,269 1424.2,273.7 1432.1,278.3 1440.1,282.9 1448,287.5 1456,291.8 1464,295.5 1471.9,299 1479.9,302.5 1487.8,306 1495.8,309.5 1503.8,313 1511.7,316.5 1519.7,320 1527.6,323.5 1535.6,327 1543.6,330.5 1551.5,334.1 1559.5,337.7 1567.5,341.5 1575.4,345.3 1583.4,349.2 1591.3,353 1599.3,356.8 1607.3,360.6 1615.2,364.4 1623.2,368.3 1631.1,372.1 1639.1,375.9 1647.1,379.7 1655,383.2 1663,386.2 1670.9,388.9 1678.9,391.6 1686.9,394.2 1694.8,396.9 1702.8,399.6 1710.7,402.2 1718.7,404.9 1726.7,407.6 1734.6,410.2 1742.6,412.9 1750.5,415.3 1758.5,417.1 1766.5,418.3 1774.4,419.1 1782.4,419.9 1790.4,420.7 1798.3,421.6 1806.3,422.3 1814.2,422.9 1822.2,423.2 1830.2,423.5 1838.1,423.7 1846.1,424 1854,424.3 1862,424.5 1862,479.5 1854,479.1 1846.1,478.8 1838.1,478.4 1830.2,478.1 1822.2,477.7 1814.2,477.3 1806.3,476.7 1798.3,475.9 1790.4,475 1782.4,474.1 1774.4,473.2 1766.5,472.2 1758.5,471 1750.5,469.1 1742.6,466.7 1734.6,463.9 1726.7,461.2 1718.7,458.4 1710.7,455.7 1702.8,452.9 1694.8,450.2 1686.9,447.4 1678.9,444.7 1670.9,442 1663,439.2 1655,436.1 1647.1,432.5 1639.1,428.5 1631.1,424.5 1623.2,420.5 1615.2,416.6 1607.3,412.6 1599.3,408.6 1591.3,404.6 1583.4,400.6 1575.4,396.7 1567.5,392.7 1559.5,388.7 1551.5,384.9 1543.6,381.2 1535.6,377.5 1527.6,373.9 1519.7,370.2 1511.7,366.5 1503.8,362.9 1495.8,359.2 1487.8,355.6 1479.9,351.9 1471.9,348.2 1464,344.6 1456,340.7 1448,336.9 1440.1,333 1432.1,329 1424.2,325 1416.2,321.1 1408.2,317.1 1400.3,313.1 1392.3,309.1 1384.4,305.1 1376.4,301.2 1368.4,297.2 1360.5,293.1 1352.5,288.7 1344.5,283.7 1336.6,278.5 1328.6,273.3 1320.7,268.1 1312.7,263 1304.7,257.8 1296.8,252.6 1288.8,247.4 1280.9,242.3 1272.9,237.1 1264.9,231.9 1257,226.8 1249,221.9 1241.1,217.1 1233.1,212.3 1225.1,207.5 1217.2,202.8 1209.2,198 1201.3,193.2 1193.3,188.4 1185.3,183.7 1177.4,178.9 1169.4,174.1 1161.5,169.4 1153.5,165 1145.5,161.2 1137.6,157.6 1129.6,154.1 1121.6,150.5 1113.7,147 1105.7,143.4 1097.8,139.8 1089.8,136.3 1081.8,132.7 1073.9,129.1 1065.9,125.6 1058,122.1 1050,118.7" fill="#babd62"/>
<polygon points="1050,68.4 1058,72.6 1065.9,76.9 1073.9,81.3 1081.8,85.7 1089.8,90.1 1097.8,94.5 1105.7,98.9 1113.7,103.3 1121.6,107.6 1129.6,112 1137.6,116.4 1145.5,120.8 1153.5,125.4 1161.5,129.7 1169.4,134.1 1177.4,138.6 1185.3,143.1 1193.3,147.5 1201.3,152 1209.2,156.4 1217.2,160.9 1225.1,165.3 1233.1,169.8 1241.1,174.3 1249,178.7 1257,183.1 1264.9,187.3 1272.9,191.6 1280.9,195.8 1288.8,200 1296.8,204.2 1304.7,208.4 1312.7,212.6 1320.7,216.9 1328.6,221.1 1336.6,225.3 1344.5,229.5 1352.5,233.7 1360.5,238.2 1368.4,242.9 1376.4,247.5 1384.4,252.1 1392.3,256.7 1400.3,261.3 1408.2,265.9 1416.2,270.6 1424.2,275.2 1432.1,279.8 1440.1,284.4 1448,289 1456,293.3 1464,297 1471.9,300.5 1479.9,304 1487.8,307.5 1495.8,311 1503.8,314.5 1511.7,318 1519.7,321.5 1527.6,325 1535.6,328.5 1543.6,332 1551.5,335.6 1559.5,339.3 1567.5,343 1575.4,346.9 1583.4,350.7 1591.3,354.5 1599.3,358.3 1607.3,362.1 1615.2,366 1623.2,369.8 1631.1,373.6 1639.1,377.4 1647.1,381.3 1655,384.7 1663,387.7 1670.9,390.4 1678.9,393.1 1686.9,395.7 1694.8,398.4 1702.8,401.1 1710.7,403.7 1718.7,406.4 1726.7,409.1 1734.6,411.8 1742.6,414.4 1750.5,416.8 1758.5,418.6 1766.5,419.8 1774.4,420.6 1782.4,421.4 1790.4,422.3 1798.3,423.1 1806.3,423.8 1814.2,424.4 1822.2,424.7 1830.2,425 1838.1,425.3 1846.1,425.5 1854,425.8 1862,426.1 1862,477.9 1854,477.6 1846.1,477.2 1838.1,476.9 1830.2,476.6 1822.2,476.2 1814.2,475.8 1806.3,475.2 1798.3,474.4 1790.4,473.4 1782.4,472.5 1774.4,471.6 1766.5,470.7 1758.5,469.5 1750.5,467.6 1742.6,465.1 1734.6,462.4 1726.7,459.6 1718.7,456.9 1710.7,454.2 1702.8,451.4 1694.8,448.7 1686.9,445.9 1678.9,443.2 1670.9,440.4 1663,437.7 1655,434.5 1647.1,431 1639.1,427 1631.1,423 1623.2,419 1615.2,415 1607.3,411.1 1599.3,407.1 1591.3,403.1 1583.4,399.1 1575.4,395.1 1567.5,391.2 1559.5,387.2 1551.5,383.4 1543.6,379.7 1535.6,376 1527.6,372.4 1519.7,368.7 1511.7,365 1503.8,361.4 1495.8,357.7 1487.8,354 1479.9,350.4 1471.9,346.7 1464,343.1 1456,339.2 1448,335.4 1440.1,331.5 1432.1,327.5 1424.2,323.5 1416.2,319.5 1408.2,315.6 1400.3,311.6 1392.3,307.6 1384.4,303.6 1376.4,299.6 1368.4,295.7 1360.5,291.6 1352.5,287.2 1344.5,282.1 1336.6,277 1328.6,271.8 1320.7,266.6 1312.7,261.4 1304.7,256.3 1296.8,251.1 1288.8,245.9 1280.9,240.7 1272.9,235.6 1264.9,230.4 1257,225.2 1249,220.4 1241.1,215.6 1233.1,210.8 1225.1,206 1217.2,201.2 1209.2,196.5 1201.3,191.7 1193.3,186.9 1185.3,182.1 1177.4,177.4 1169.4,172.6 1161.5,167.8 1153.5,163.4 1145.5,159.7 1137.6,156.1 1129.6,152.6 1121.6,149 1113.7,145.4 1105.7,141.9 1097.8,138.3 1089.8,134.7 1081.8,131.2 1073.9,127.6 1065.9,124.1 1058,120.6 1050,117.2" fill="#d0bb59"/>
<polygon points="1050,70.1 1058,74.3 1065.9,78.6 1073.9,82.9 1081.8,87.3 1089.8,91.7 1097.8,96.1 1105.7,100.4 1113.7,104.8 1121.6,109.2 1129.6,113.6 1137.6,118 1145.5,122.4 1153.5,126.9 1161.5,131.2 1169.4,135.7 1177.4,140.1 1185.3,144.6 1193.3,149 1201.3,153.5 1209.2,158 1217.2,162.4 1225.1,166.9 1233.1,171.4 1241.1,175.8 1249,180.3 1257,184.7 1264.9,188.9 1272.9,193.2 1280.9,197.4 1288.8,201.6 1296.8,205.9 1304.7,210.1 1312.7,214.3 1320.7,218.6 1328.6,222.8 1336.6,227 1344.5,231.3 1352.5,235.4 1360.5,240 1368.4,244.6 1376.4,249.2 1384.4,253.8 1392.3,258.4 1400.3,263 1408.2,267.6 1416.2,272.2 1424.2,276.9 1432.1,281.5 1440.1,286.1 1448,290.6 1456,294.9 1464,298.6 1471.9,302.2 1479.9,305.7 1487.8,309.2 1495.8,312.7 1503.8,316.2 1511.7,319.7 1519.7,323.2 1527.6,326.7 1535.6,330.2 1543.6,333.7 1551.5,337.3 1559.5,340.9 1567.5,344.7 1575.4,348.5 1583.4,352.4 1591.3,356.2 1599.3,360 1607.3,363.8 1615.2,367.7 1623.2,371.5 1631.1,375.3 1639.1,379.1 1647.1,382.9 1655,386.4 1663,389.4 1670.9,392.1 1678.9,394.8 1686.9,397.4 1694.8,400.1 1702.8,402.8 1710.7,405.5 1718.7,408.1 1726.7,410.8 1734.6,413.5 1742.6,416.1 1750.5,418.5 1758.5,420.3 1766.5,421.5 1774.4,422.3 1782.4,423.2 1790.4,424 1798.3,424.8 1806.3,425.5 1814.2,426.1 1822.2,426.5 1830.2,426.7 1838.1,427 1846.1,427.3 1854,427.5 1862,427.8 1862,476.2 1854,475.9 1846.1,475.5 1838.1,475.2 1830.2,474.8 1822.2,474.5 1814.2,474.1 1806.3,473.4 1798.3,472.6 1790.4,471.7 1782.4,470.8 1774.4,469.9 1766.5,469 1758.5,467.8 1750.5,465.9 1742.6,463.4 1734.6,460.7 1726.7,457.9 1718.7,455.2 1710.7,452.5 1702.8,449.7 1694.8,447 1686.9,444.2 1678.9,441.5 1670.9,438.7 1663,436 1655,432.8 1647.1,429.3 1639.1,425.3 1631.1,421.3 1623.2,417.3 1615.2,413.4 1607.3,409.4 1599.3,405.4 1591.3,401.4 1583.4,397.4 1575.4,393.5 1567.5,389.5 1559.5,385.6 1551.5,381.7 1543.6,378 1535.6,374.4 1527.6,370.7 1519.7,367 1511.7,363.4 1503.8,359.7 1495.8,356.1 1487.8,352.4 1479.9,348.7 1471.9,345.1 1464,341.4 1456,337.6 1448,333.8 1440.1,329.8 1432.1,325.8 1424.2,321.8 1416.2,317.8 1408.2,313.9 1400.3,309.9 1392.3,305.9 1384.4,301.9 1376.4,297.9 1368.4,293.9 1360.5,289.9 1352.5,285.5 1344.5,280.4 1336.6,275.2 1328.6,270.1 1320.7,264.9 1312.7,259.8 1304.7,254.6 1296.8,249.4 1288.8,244.3 1280.9,239.1 1272.9,234 1264.9,228.8 1257,223.7 1249,218.8 1241.1,214 1233.1,209.2 1225.1,204.5 1217.2,199.7 1209.2,194.9 1201.3,190.2 1193.3,185.4 1185.3,180.6 1177.4,175.8 1169.4,171.1 1161.5,166.3 1153.5,161.9 1145.5,158.2 1137.6,154.6 1129.6,151 1121.6,147.4 1113.7,143.9 1105.7,140.3 1097.8,136.7 1089.8,133.1 1081.8,129.5 1073.9,126 1065.9,122.4 1058,119 1050,115.5" fill="#e5b950"/>
<polygon points="1050,72.1 1058,76.3 1065.9,80.6 1073.9,84.9 1081.8,89.2 1089.8,93.6 1097.8,97.9 1105.7,102.3 1113.7,106.6 1121.6,111 1129.6,115.3 1137.6,119.6 1145.5,124 1153.5,128.5 1161.5,132.8 1169.4,137.3 1177.4,141.7 1185.3,146.2 1193.3,150.7 1201.3,155.2 1209.2,159.7 1217.2,164.1 1225.1,168.6 1233.1,173.1 1241.1,177.6 1249,182 1257,186.5 1264.9,190.7 1272.9,195 1280.9,199.3 1288.8,203.6 1296.8,207.9 1304.7,212.1 1312.7,216.4 1320.7,220.7 1328.6,225 1336.6,229.2 1344.5,233.5 1352.5,237.7 1360.5,242.2 1368.4,246.9 1376.4,251.4 1384.4,256 1392.3,260.6 1400.3,265.2 1408.2,269.7 1416.2,274.3 1424.2,278.9 1432.1,283.5 1440.1,288.1 1448,292.6 1456,296.9 1464,300.6 1471.9,304.1 1479.9,307.6 1487.8,311.1 1495.8,314.6 1503.8,318.2 1511.7,321.7 1519.7,325.2 1527.6,328.7 1535.6,332.2 1543.6,335.7 1551.5,339.3 1559.5,343 1567.5,346.8 1575.4,350.6 1583.4,354.4 1591.3,358.3 1599.3,362.1 1607.3,365.9 1615.2,369.7 1623.2,373.6 1631.1,377.4 1639.1,381.2 1647.1,385.1 1655,388.5 1663,391.6 1670.9,394.2 1678.9,396.9 1686.9,399.6 1694.8,402.3 1702.8,404.9 1710.7,407.6 1718.7,410.3 1726.7,412.9 1734.6,415.6 1742.6,418.3 1750.5,420.7 1758.5,422.5 1766.5,423.7 1774.4,424.5 1782.4,425.3 1790.4,426.2 1798.3,427 1806.3,427.7 1814.2,428.3 1822.2,428.6 1830.2,428.9 1838.1,429.2 1846.1,429.5 1854,429.7 1862,430 1862,474 1854,473.7 1846.1,473.3 1838.1,473 1830.2,472.6 1822.2,472.3 1814.2,471.9 1806.3,471.3 1798.3,470.4 1790.4,469.5 1782.4,468.6 1774.4,467.7 1766.5,466.8 1758.5,465.6 1750.5,463.7 1742.6,461.3 1734.6,458.5 1726.7,455.8 1718.7,453 1710.7,450.3 1702.8,447.6 1694.8,444.8 1686.9,442.1 1678.9,439.3 1670.9,436.6 1663,433.9 1655,430.7 1647.1,427.2 1639.1,423.2 1631.1,419.2 1623.2,415.2 1615.2,411.3 1607.3,407.3 1599.3,403.3 1591.3,399.4 1583.4,395.4 1575.4,391.4 1567.5,387.4 1559.5,383.5 1551.5,379.7 1543.6,376 1535.6,372.3 1527.6,368.7 1519.7,365 1511.7,361.4 1503.8,357.7 1495.8,354.1 1487.8,350.4 1479.9,346.8 1471.9,343.1 1464,339.5 1456,335.6 1448,331.8 1440.1,327.8 1432.1,323.8 1424.2,319.8 1416.2,315.8 1408.2,311.7 1400.3,307.7 1392.3,303.7 1384.4,299.7 1376.4,295.7 1368.4,291.7 1360.5,287.6 1352.5,283.2 1344.5,278.2 1336.6,273 1328.6,267.9 1320.7,262.8 1312.7,257.7 1304.7,252.6 1296.8,247.5 1288.8,242.3 1280.9,237.2 1272.9,232.1 1264.9,227 1257,221.9 1249,217 1241.1,212.3 1233.1,207.5 1225.1,202.7 1217.2,198 1209.2,193.2 1201.3,188.5 1193.3,183.7 1185.3,179 1177.4,174.2 1169.4,169.4 1161.5,164.7 1153.5,160.3 1145.5,156.5 1137.6,152.9 1129.6,149.3 1121.6,145.7 1113.7,142.1 1105.7,138.5 1097.8,134.8 1089.8,131.2 1081.8,127.6 1073.9,124 1065.9,120.4 1058,116.9 1050,113.5" fill="#f9bb43"/>
<polygon points="1050,74.5 1058,78.6 1065.9,82.8 1073.9,87.1 1081.8,91.4 1089.8,95.7 1097.8,100 1105.7,104.3 1113.7,108.6 1121.6,112.9 1129.6,117.2 1137.6,121.5 1145.5,125.8 1153.5,130.3 1161.5,134.6 1169.4,139.1 1177.4,143.6 1185.3,148.1 1193.3,152.5 1201.3,157 1209.2,161.5 1217.2,166 1225.1,170.5 1233.1,175 1241.1,179.5 1249,184 1257,188.5 1264.9,192.8 1272.9,197.1 1280.9,201.4 1288.8,205.7 1296.8,210.1 1304.7,214.4 1312.7,218.7 1320.7,223 1328.6,227.4 1336.6,231.7 1344.5,236 1352.5,240.2 1360.5,244.8 1368.4,249.4 1376.4,253.9 1384.4,258.5 1392.3,263 1400.3,267.5 1408.2,272.1 1416.2,276.6 1424.2,281.2 1432.1,285.7 1440.1,290.3 1448,294.8 1456,299 1464,302.8 1471.9,306.3 1479.9,309.8 1487.8,313.3 1495.8,316.9 1503.8,320.4 1511.7,323.9 1519.7,327.4 1527.6,330.9 1535.6,334.5 1543.6,338 1551.5,341.6 1559.5,345.2 1567.5,349 1575.4,352.9 1583.4,356.7 1591.3,360.5 1599.3,364.4 1607.3,368.2 1615.2,372.1 1623.2,375.9 1631.1,379.7 1639.1,383.6 1647.1,387.4 1655,390.9 1663,393.9 1670.9,396.6 1678.9,399.3 1686.9,402 1694.8,404.6 1702.8,407.3 1710.7,410 1718.7,412.7 1726.7,415.3 1734.6,418 1742.6,420.7 1750.5,423.1 1758.5,424.9 1766.5,426.1 1774.4,426.9 1782.4,427.8 1790.4,428.6 1798.3,429.4 1806.3,430.2 1814.2,430.7 1822.2,431.1 1830.2,431.4 1838.1,431.6 1846.1,431.9 1854,432.2 1862,432.5 1862,471.5 1854,471.2 1846.1,470.9 1838.1,470.5 1830.2,470.2 1822.2,469.9 1814.2,469.4 1806.3,468.8 1798.3,468 1790.4,467.1 1782.4,466.2 1774.4,465.3 1766.5,464.4 1758.5,463.2 1750.5,461.3 1742.6,458.9 1734.6,456.1 1726.7,453.4 1718.7,450.7 1710.7,447.9 1702.8,445.2 1694.8,442.4 1686.9,439.7 1678.9,437 1670.9,434.2 1663,431.5 1655,428.4 1647.1,424.8 1639.1,420.8 1631.1,416.9 1623.2,412.9 1615.2,408.9 1607.3,405 1599.3,401 1591.3,397.1 1583.4,393.1 1575.4,389.1 1567.5,385.2 1559.5,381.3 1551.5,377.4 1543.6,373.7 1535.6,370.1 1527.6,366.4 1519.7,362.8 1511.7,359.2 1503.8,355.5 1495.8,351.9 1487.8,348.2 1479.9,344.6 1471.9,340.9 1464,337.3 1456,333.4 1448,329.6 1440.1,325.6 1432.1,321.5 1424.2,317.5 1416.2,313.4 1408.2,309.4 1400.3,305.3 1392.3,301.3 1384.4,297.2 1376.4,293.2 1368.4,289.1 1360.5,285.1 1352.5,280.6 1344.5,275.7 1336.6,270.6 1328.6,265.5 1320.7,260.4 1312.7,255.4 1304.7,250.3 1296.8,245.2 1288.8,240.2 1280.9,235.1 1272.9,230 1264.9,225 1257,219.9 1249,215.1 1241.1,210.3 1233.1,205.6 1225.1,200.8 1217.2,196.1 1209.2,191.4 1201.3,186.6 1193.3,181.9 1185.3,177.1 1177.4,172.4 1169.4,167.6 1161.5,162.9 1153.5,158.5 1145.5,154.7 1137.6,151.1 1129.6,147.4 1121.6,143.7 1113.7,140.1 1105.7,136.4 1097.8,132.8 1089.8,129.1 1081.8,125.5 1073.9,121.8 1065.9,118.2 1058,114.6 1050,111.1" fill="#fec734"/>
<polygon points="1050,77.1 1058,81.2 1065.9,85.4 1073.9,89.6 1081.8,93.8 1089.8,98.1 1097.8,102.4 1105.7,106.6 1113.7,110.9 1121.6,115.1 1129.6,119.4 1137.6,123.6 1145.5,127.9 1153.5,132.3 1161.5,136.7 1169.4,141.1 1177.4,145.6 1185.3,150.2 1193.3,154.7 1201.3,159.2 1209.2,163.7 1217.2,168.2 1225.1,172.7 1233.1,177.2 1241.1,181.7 1249,186.2 1257,190.7 1264.9,195.1 1272.9,199.5 1280.9,203.9 1288.8,208.2 1296.8,212.6 1304.7,217 1312.7,221.4 1320.7,225.7 1328.6,230.1 1336.6,234.5 1344.5,238.9 1352.5,243.2 1360.5,247.7 1368.4,252.2 1376.4,256.7 1384.4,261.3 1392.3,265.8 1400.3,270.3 1408.2,274.8 1416.2,279.3 1424.2,283.8 1432.1,288.3 1440.1,292.8 1448,297.3 1456,301.5 1464,305.3 1471.9,308.8 1479.9,312.3 1487.8,315.9 1495.8,319.4 1503.8,322.9 1511.7,326.4 1519.7,330 1527.6,333.5 1535.6,337 1543.6,340.6 1551.5,344.1 1559.5,347.8 1567.5,351.6 1575.4,355.5 1583.4,359.3 1591.3,363.2 1599.3,367 1607.3,370.9 1615.2,374.7 1623.2,378.6 1631.1,382.4 1639.1,386.3 1647.1,390.1 1655,393.6 1663,396.6 1670.9,399.3 1678.9,402 1686.9,404.7 1694.8,407.4 1702.8,410 1710.7,412.7 1718.7,415.4 1726.7,418.1 1734.6,420.8 1742.6,423.5 1750.5,425.9 1758.5,427.7 1766.5,428.8 1774.4,429.7 1782.4,430.5 1790.4,431.4 1798.3,432.2 1806.3,433 1814.2,433.5 1822.2,433.9 1830.2,434.2 1838.1,434.4 1846.1,434.7 1854,435 1862,435.3 1862,468.7 1854,468.4 1846.1,468 1838.1,467.7 1830.2,467.4 1822.2,467.1 1814.2,466.6 1806.3,466 1798.3,465.2 1790.4,464.3 1782.4,463.4 1774.4,462.6 1766.5,461.7 1758.5,460.4 1750.5,458.6 1742.6,456.1 1734.6,453.4 1726.7,450.6 1718.7,447.9 1710.7,445.2 1702.8,442.4 1694.8,439.7 1686.9,437 1678.9,434.2 1670.9,431.5 1663,428.8 1655,425.7 1647.1,422.1 1639.1,418.1 1631.1,414.2 1623.2,410.2 1615.2,406.3 1607.3,402.3 1599.3,398.4 1591.3,394.4 1583.4,390.5 1575.4,386.5 1567.5,382.6 1559.5,378.7 1551.5,374.9 1543.6,371.2 1535.6,367.5 1527.6,363.9 1519.7,360.2 1511.7,356.6 1503.8,353 1495.8,349.3 1487.8,345.7 1479.9,342.1 1471.9,338.4 1464,334.8 1456,331 1448,327.1 1440.1,323 1432.1,319 1424.2,314.9 1416.2,310.8 1408.2,306.7 1400.3,302.6 1392.3,298.5 1384.4,294.4 1376.4,290.4 1368.4,286.3 1360.5,282.1 1352.5,277.7 1344.5,272.8 1336.6,267.8 1328.6,262.8 1320.7,257.7 1312.7,252.7 1304.7,247.7 1296.8,242.7 1288.8,237.7 1280.9,232.7 1272.9,227.7 1264.9,222.6 1257,217.6 1249,212.8 1241.1,208.1 1233.1,203.4 1225.1,198.7 1217.2,193.9 1209.2,189.2 1201.3,184.5 1193.3,179.8 1185.3,175 1177.4,170.3 1169.4,165.6 1161.5,160.9 1153.5,156.5 1145.5,152.6 1137.6,148.9 1129.6,145.2 1121.6,141.5 1113.7,137.8 1105.7,134.1 1097.8,130.4 1089.8,126.7 1081.8,123 1073.9,119.3 1065.9,115.6 1058,112 1050,108.5" fill="#f9d429"/>
<polygon points="1050,80.3 1058,84.3 1065.9,88.4 1073.9,92.6 1081.8,96.8 1089.8,101 1097.8,105.2 1105.7,109.4 1113.7,113.6 1121.6,117.8 1129.6,122 1137.6,126.2 1145.5,130.4 1153.5,134.8 1161.5,139.1 1169.4,143.6 1177.4,148.2 1185.3,152.7 1193.3,157.2 1201.3,161.8 1209.2,166.3 1217.2,170.8 1225.1,175.3 1233.1,179.9 1241.1,184.4 1249,189 1257,193.5 1264.9,197.9 1272.9,202.3 1280.9,206.8 1288.8,211.2 1296.8,215.7 1304.7,220.1 1312.7,224.6 1320.7,229 1328.6,233.4 1336.6,237.9 1344.5,242.3 1352.5,246.7 1360.5,251.2 1368.4,255.7 1376.4,260.2 1384.4,264.6 1392.3,269.1 1400.3,273.6 1408.2,278 1416.2,282.5 1424.2,287 1432.1,291.4 1440.1,295.9 1448,300.3 1456,304.5 1464,308.3 1471.9,311.8 1479.9,315.4 1487.8,318.9 1495.8,322.4 1503.8,326 1511.7,329.5 1519.7,333.1 1527.6,336.6 1535.6,340.1 1543.6,343.7 1551.5,347.3 1559.5,351 1567.5,354.8 1575.4,358.6 1583.4,362.5 1591.3,366.4 1599.3,370.2 1607.3,374.1 1615.2,377.9 1623.2,381.8 1631.1,385.7 1639.1,389.5 1647.1,393.4 1655,396.8 1663,399.9 1670.9,402.6 1678.9,405.3 1686.9,408 1694.8,410.7 1702.8,413.3 1710.7,416 1718.7,418.7 1726.7,421.4 1734.6,424.1 1742.6,426.8 1750.5,429.2 1758.5,431 1766.5,432.2 1774.4,433 1782.4,433.9 1790.4,434.7 1798.3,435.6 1806.3,436.3 1814.2,436.9 1822.2,437.3 1830.2,437.5 1838.1,437.8 1846.1,438.1 1854,438.4 1862,438.7 1862,465.3 1854,465 1846.1,464.7 1838.1,464.3 1830.2,464 1822.2,463.7 1814.2,463.3 1806.3,462.7 1798.3,461.9 1790.4,461 1782.4,460.1 1774.4,459.2 1766.5,458.3 1758.5,457.1 1750.5,455.2 1742.6,452.8 1734.6,450.1 1726.7,447.3 1718.7,444.6 1710.7,441.9 1702.8,439.1 1694.8,436.4 1686.9,433.7 1678.9,431 1670.9,428.2 1663,425.5 1655,422.4 1647.1,418.8 1639.1,414.9 1631.1,411 1623.2,407 1615.2,403.1 1607.3,399.1 1599.3,395.2 1591.3,391.2 1583.4,387.3 1575.4,383.4 1567.5,379.4 1559.5,375.5 1551.5,371.7 1543.6,368 1535.6,364.4 1527.6,360.8 1519.7,357.2 1511.7,353.5 1503.8,349.9 1495.8,346.3 1487.8,342.7 1479.9,339 1471.9,335.4 1464,331.8 1456,328 1448,324.1 1440.1,320 1432.1,315.8 1424.2,311.7 1416.2,307.6 1408.2,303.5 1400.3,299.3 1392.3,295.2 1384.4,291.1 1376.4,286.9 1368.4,282.8 1360.5,278.6 1352.5,274.2 1344.5,269.3 1336.6,264.4 1328.6,259.4 1320.7,254.5 1312.7,249.5 1304.7,244.6 1296.8,239.6 1288.8,234.7 1280.9,229.7 1272.9,224.8 1264.9,219.8 1257,214.9 1249,210.1 1241.1,205.4 1233.1,200.7 1225.1,196 1217.2,191.3 1209.2,186.6 1201.3,181.9 1193.3,177.2 1185.3,172.5 1177.4,167.8 1169.4,163.1 1161.5,158.4 1153.5,154 1145.5,150.1 1137.6,146.4 1129.6,142.6 1121.6,138.8 1113.7,135.1 1105.7,131.3 1097.8,127.6 1089.8,123.8 1081.8,120 1073.9,116.3 1065.9,112.6 1058,108.9 1050,105.3" fill="#f5e31e"/>
<polygon points="1050,84.7 1058,88.6 1065.9,92.7 1073.9,96.7 1081.8,100.9 1089.8,105 1097.8,109.1 1105.7,113.2 1113.7,117.4 1121.6,121.5 1129.6,125.6 1137.6,129.7 1145.5,133.9 1153.5,138.2 1161.5,142.5 1169.4,147 1177.4,151.6 1185.3,156.1 1193.3,160.7 1201.3,165.3 1209.2,169.8 1217.2,174.4 1225.1,179 1233.1,183.5 1241.1,188.1 1249,192.7 1257,197.2 1264.9,201.7 1272.9,206.3 1280.9,210.8 1288.8,215.3 1296.8,219.9 1304.7,224.4 1312.7,228.9 1320.7,233.5 1328.6,238 1336.6,242.5 1344.5,247 1352.5,251.5 1360.5,256 1368.4,260.4 1376.4,264.8 1384.4,269.3 1392.3,273.7 1400.3,278.1 1408.2,282.5 1416.2,286.9 1424.2,291.3 1432.1,295.7 1440.1,300.1 1448,304.5 1456,308.6 1464,312.4 1471.9,315.9 1479.9,319.5 1487.8,323 1495.8,326.6 1503.8,330.2 1511.7,333.7 1519.7,337.3 1527.6,340.8 1535.6,344.4 1543.6,347.9 1551.5,351.5 1559.5,355.3 1567.5,359.1 1575.4,363 1583.4,366.8 1591.3,370.7 1599.3,374.6 1607.3,378.5 1615.2,382.3 1623.2,386.2 1631.1,390.1 1639.1,393.9 1647.1,397.8 1655,401.3 1663,404.4 1670.9,407.1 1678.9,409.8 1686.9,412.5 1694.8,415.2 1702.8,417.9 1710.7,420.5 1718.7,423.2 1726.7,425.9 1734.6,428.6 1742.6,431.3 1750.5,433.7 1758.5,435.6 1766.5,436.8 1774.4,437.6 1782.4,438.5 1790.4,439.3 1798.3,440.2 1806.3,440.9 1814.2,441.5 1822.2,441.9 1830.2,442.2 1838.1,442.5 1846.1,442.8 1854,443 1862,443.3 1862,460.7 1854,460.3 1846.1,460 1838.1,459.7 1830.2,459.4 1822.2,459.1 1814.2,458.7 1806.3,458.1 1798.3,457.3 1790.4,456.4 1782.4,455.5 1774.4,454.6 1766.5,453.8 1758.5,452.5 1750.5,450.7 1742.6,448.2 1734.6,445.5 1726.7,442.8 1718.7,440.1 1710.7,437.4 1702.8,434.6 1694.8,431.9 1686.9,429.2 1678.9,426.5 1670.9,423.8 1663,421 1655,417.9 1647.1,414.4 1639.1,410.5 1631.1,406.5 1623.2,402.6 1615.2,398.7 1607.3,394.8 1599.3,390.8 1591.3,386.9 1583.4,383 1575.4,379 1567.5,375.1 1559.5,371.2 1551.5,367.5 1543.6,363.8 1535.6,360.2 1527.6,356.6 1519.7,353 1511.7,349.3 1503.8,345.7 1495.8,342.1 1487.8,338.5 1479.9,334.9 1471.9,331.3 1464,327.7 1456,323.9 1448,319.9 1440.1,315.8 1432.1,311.6 1424.2,307.4 1416.2,303.2 1408.2,299 1400.3,294.8 1392.3,290.6 1384.4,286.5 1376.4,282.3 1368.4,278.1 1360.5,273.8 1352.5,269.4 1344.5,264.6 1336.6,259.8 1328.6,254.9 1320.7,250 1312.7,245.2 1304.7,240.3 1296.8,235.4 1288.8,230.6 1280.9,225.7 1272.9,220.9 1264.9,216 1257,211.2 1249,206.4 1241.1,201.7 1233.1,197.1 1225.1,192.4 1217.2,187.7 1209.2,183.1 1201.3,178.4 1193.3,173.7 1185.3,169 1177.4,164.4 1169.4,159.7 1161.5,155.1 1153.5,150.7 1145.5,146.7 1137.6,142.8 1129.6,139 1121.6,135.2 1113.7,131.3 1105.7,127.5 1097.8,123.7 1089.8,119.8 1081.8,116 1073.9,112.1 1065.9,108.4 1058,104.6 1050,100.9" fill="#f6f313"/>
<g mask="url(#maskb)">
<rect x="1700" y="376.5" width="161" height="8.5" fill="#2a6fbf"/>
<rect x="1700" y="384.6" width="161" height="9.6" fill="#3459aa"/>
<rect x="1700" y="393.8" width="161" height="5.1" fill="#06a0cd"/>
<rect x="1700" y="398.5" width="161" height="9.6" fill="#2a6fbf"/>
<rect x="1700" y="407.7" width="161" height="3.9" fill="#18b1b2"/>
<rect x="1700" y="411.2" width="161" height="14.2" fill="#33b8a1"/>
<rect x="1700" y="425" width="161" height="6.2" fill="#f5e31e"/>
<rect x="1700" y="430.8" width="161" height="9.6" fill="#fdcb30"/>
<rect x="1700" y="440" width="161" height="21.2" fill="#f6f115"/>
<rect x="1700" y="460.8" width="161" height="14.2" fill="#fec13a"/>
<rect x="1700" y="474.6" width="161" height="5" fill="#33b8a1"/>
<rect x="1700" y="479.2" width="161" height="12" fill="#55bd8e"/>
<rect x="1700" y="490.8" width="161" height="5" fill="#3656a8"/>
<rect x="1700" y="495.4" width="161" height="12" fill="#06a0cd"/>
<rect x="1700" y="507" width="161" height="16.4" fill="#2a6fbf"/>
<rect x="1700" y="523" width="161" height="18.9" fill="#3459aa"/>
<rect x="1700" y="541.5" width="161" height="27.9" fill="#3b3e9c"/>
</g>
<path d="M1065.5,46V210M1107,62V233M1162.5,92V260M1204,116V293M1354.5,196V376M1410.5,224V404M1507,270V452M1548.5,295V476M1050,66.5H1121M1050,163.5H1300M1254,315H1617M1343,370.5H1788M1445,411.5H1860M1720,426H1860" stroke="#fff" stroke-opacity="0.45" stroke-width="1" fill="none"/>
</g>
<rect x="1050" y="29.3" width="811" height="810.7" fill="none" stroke="#2e2a55" stroke-width="1"/>
<rect id="hmc" x="107" y="935.5" width="813.7" height="813.5" fill="#352a87"/>
<g clip-path="url(#clipc)">
<polygon points="150,867.9 156,868.3 162,870.5 168,874.5 173.9,879.5 179.9,884.6 185.9,889.7 191.9,894.6 197.9,899.4 203.9,904.1 209.8,908.8 215.8,913.5 221.8,918.3 227.8,923.1 233.8,928 239.8,932.8 245.8,937.6 251.7,942.5 257.7,947.3 263.7,952.1 269.7,957 275.7,961.8 281.7,966.6 287.6,971.5 293.6,976.3 299.6,981.3 305.6,986.5 311.6,991.8 317.6,997.2 323.6,1002.5 329.5,1007.9 335.5,1013.2 341.5,1018.5 347.5,1023.7 353.5,1028.9 359.5,1034.2 365.4,1039.4 371.4,1044.7 377.4,1049.8 383.4,1054.8 389.4,1059.6 395.4,1064.3 401.3,1069 407.3,1073.7 413.3,1078.4 419.3,1083.1 425.3,1087.9 431.3,1092.7 437.3,1097.5 443.2,1102.3 449.2,1107.2 455.2,1112 461.2,1117 467.2,1122 473.2,1127.2 479.1,1132.3 485.1,1137.5 491.1,1142.6 497.1,1147.7 503.1,1152.9 509.1,1158 515.1,1163.2 521,1168.3 527,1173.5 533,1178.6 539,1183.4 545,1187.9 551,1192 556.9,1196 562.9,1200 568.9,1204 574.9,1207.8 580.9,1211.6 586.9,1215.3 592.9,1219 598.8,1222.7 604.8,1226.2 610.8,1229.5 616.8,1232.9 622.8,1236.2 628.8,1239.6 634.7,1243 640.7,1246.3 646.7,1249.7 652.7,1253 658.7,1256.1 664.7,1259.1 670.7,1262.1 676.6,1265 682.6,1268 688.6,1270.6 694.6,1272.7 700.6,1274.5 706.6,1276.4 712.5,1278.3 718.5,1280.2 724.5,1282 730.5,1283.5 736.5,1284.5 742.5,1285.2 748.4,1285.8 754.4,1286.4 760.4,1287.1 766.4,1287.7 772.4,1288.4 778.4,1288.9 784.4,1289.3 790.3,1289.5 796.3,1289.6 802.3,1289.8 808.3,1289.9 814.3,1290.1 820.3,1290.2 826.2,1290.4 832.2,1290.5 838.2,1290.7 844.2,1290.8 850.2,1290.9 856.2,1290.9 862.2,1290.8 868.1,1290.7 874.1,1290.5 880.1,1290.4 886.1,1290.3 892.1,1290.2 898.1,1290.1 904,1290 910,1289.9 916,1289.8 922,1289.7 922,1395.9 916,1395.5 910,1395.1 904,1394.7 898.1,1394.4 892.1,1394 886.1,1393.6 880.1,1393.2 874.1,1392.9 868.1,1392.5 862.2,1392.1 856.2,1391.7 850.2,1391.3 844.2,1390.7 838.2,1390.1 832.2,1389.5 826.2,1388.8 820.3,1388.2 814.3,1387.6 808.3,1386.9 802.3,1386.3 796.3,1385.7 790.3,1385 784.4,1384.3 778.4,1383.5 772.4,1382.5 766.4,1381.4 760.4,1380.2 754.4,1379.1 748.4,1378 742.5,1376.8 736.5,1375.7 730.5,1374.2 724.5,1372.2 718.5,1369.9 712.5,1367.5 706.6,1365.1 700.6,1362.7 694.6,1359.9 688.6,1356.7 682.6,1353 676.6,1349 670.7,1345 664.7,1341 658.7,1337 652.7,1332.8 646.7,1328.4 640.7,1324 634.7,1319.6 628.8,1315.2 622.8,1310.8 616.8,1306.4 610.8,1302 604.8,1297.6 598.8,1293.3 592.9,1289.4 586.9,1285.5 580.9,1281.7 574.9,1277.7 568.9,1273.7 562.9,1269.6 556.9,1265.4 551,1261.2 545,1256.9 539,1252.3 533,1247.3 527,1242 521,1236.7 515.1,1231.4 509.1,1226.1 503.1,1220.8 497.1,1215.5 491.1,1210.2 485.1,1204.9 479.1,1199.6 473.2,1194.3 467.2,1188.9 461.2,1183.7 455.2,1178.6 449.2,1173.6 443.2,1168.6 437.3,1163.6 431.3,1158.6 425.3,1153.6 419.3,1148.7 413.3,1143.8 407.3,1138.9 401.3,1134.1 395.4,1129.2 389.4,1124.3 383.4,1119.3 377.4,1114.2 371.4,1108.9 365.4,1103.5 359.5,1098.1 353.5,1092.7 347.5,1087.3 341.5,1081.9 335.5,1076.4 329.5,1071 323.6,1065.4 317.6,1059.9 311.6,1054.4 305.6,1048.9 299.6,1043.5 293.6,1038.4 287.6,1033.4 281.7,1028.4 275.7,1023.4 269.7,1018.4 263.7,1013.4 257.7,1008.4 251.7,1003.4 245.8,998.4 239.8,993.4 233.8,988.4 227.8,983.4 221.8,978.4 215.8,973.4 209.8,968.5 203.9,963.6 197.9,958.8 191.9,953.8 185.9,948.7 179.9,943.5 173.9,938.3 168,933 162,928.9 156,926.5 150,925.9" fill="#3b3f9c"/>
<polygon points="150,869.2 156,869.7 162,871.9 168,875.8 173.9,880.9 179.9,886 185.9,891.1 191.9,896 197.9,900.8 203.9,905.5 209.8,910.2 215.8,915 221.8,919.8 227.8,924.6 233.8,929.5 239.8,934.3 245.8,939.1 251.7,944 257.7,948.8 263.7,953.7 269.7,958.5 275.7,963.3 281.7,968.2 287.6,973 293.6,977.9 299.6,982.9 305.6,988 311.6,993.4 317.6,998.8 323.6,1004.1 329.5,1009.5 335.5,1014.8 341.5,1020.1 347.5,1025.3 353.5,1030.6 359.5,1035.8 365.4,1041.1 371.4,1046.3 377.4,1051.5 383.4,1056.4 389.4,1061.2 395.4,1066 401.3,1070.7 407.3,1075.4 413.3,1080.1 419.3,1084.9 425.3,1089.6 431.3,1094.4 437.3,1099.3 443.2,1104.1 449.2,1108.9 455.2,1113.8 461.2,1118.8 467.2,1123.8 473.2,1129 479.1,1134.1 485.1,1139.3 491.1,1144.4 497.1,1149.6 503.1,1154.7 509.1,1159.9 515.1,1165 521,1170.2 527,1175.3 533,1180.5 539,1185.3 545,1189.8 551,1193.8 556.9,1197.9 562.9,1201.9 568.9,1205.9 574.9,1209.7 580.9,1213.5 586.9,1217.2 592.9,1221 598.8,1224.7 604.8,1228.1 610.8,1231.5 616.8,1234.9 622.8,1238.3 628.8,1241.7 634.7,1245.1 640.7,1248.5 646.7,1251.9 652.7,1255.2 658.7,1258.4 664.7,1261.4 670.7,1264.4 676.6,1267.4 682.6,1270.3 688.6,1273 694.6,1275.2 700.6,1276.9 706.6,1278.8 712.5,1280.7 718.5,1282.6 724.5,1284.5 730.5,1285.9 736.5,1286.9 742.5,1287.6 748.4,1288.2 754.4,1288.9 760.4,1289.5 766.4,1290.2 772.4,1290.8 778.4,1291.4 784.4,1291.7 790.3,1292 796.3,1292.1 802.3,1292.3 808.3,1292.4 814.3,1292.6 820.3,1292.8 826.2,1292.9 832.2,1293.1 838.2,1293.2 844.2,1293.4 850.2,1293.5 856.2,1293.5 862.2,1293.4 868.1,1293.3 874.1,1293.2 880.1,1293.1 886.1,1293 892.1,1292.9 898.1,1292.8 904,1292.7 910,1292.6 916,1292.5 922,1292.4 922,1392.4 916,1392.1 910,1391.7 904,1391.4 898.1,1391 892.1,1390.7 886.1,1390.3 880.1,1390 874.1,1389.6 868.1,1389.2 862.2,1388.9 856.2,1388.5 850.2,1388.1 844.2,1387.6 838.2,1387 832.2,1386.3 826.2,1385.7 820.3,1385.1 814.3,1384.5 808.3,1383.9 802.3,1383.3 796.3,1382.7 790.3,1382 784.4,1381.4 778.4,1380.6 772.4,1379.6 766.4,1378.4 760.4,1377.3 754.4,1376.2 748.4,1375.1 742.5,1374 736.5,1372.8 730.5,1371.3 724.5,1369.4 718.5,1367 712.5,1364.7 706.6,1362.3 700.6,1359.9 694.6,1357.2 688.6,1354 682.6,1350.3 676.6,1346.3 670.7,1342.4 664.7,1338.4 658.7,1334.4 652.7,1330.2 646.7,1325.9 640.7,1321.6 634.7,1317.2 628.8,1312.9 622.8,1308.5 616.8,1304.1 610.8,1299.8 604.8,1295.4 598.8,1291.2 592.9,1287.3 586.9,1283.4 580.9,1279.5 574.9,1275.6 568.9,1271.6 562.9,1267.5 556.9,1263.3 551,1259.1 545,1254.9 539,1250.2 533,1245.2 527,1239.9 521,1234.6 515.1,1229.3 509.1,1224 503.1,1218.7 497.1,1213.4 491.1,1208.1 485.1,1202.8 479.1,1197.5 473.2,1192.2 467.2,1186.9 461.2,1181.7 455.2,1176.6 449.2,1171.6 443.2,1166.6 437.3,1161.6 431.3,1156.6 425.3,1151.6 419.3,1146.7 413.3,1141.8 407.3,1137 401.3,1132.1 395.4,1127.2 389.4,1122.3 383.4,1117.4 377.4,1112.2 371.4,1106.9 365.4,1101.5 359.5,1096.1 353.5,1090.7 347.5,1085.3 341.5,1079.9 335.5,1074.5 329.5,1069 323.6,1063.5 317.6,1058 311.6,1052.5 305.6,1047 299.6,1041.6 293.6,1036.5 287.6,1031.5 281.7,1026.5 275.7,1021.5 269.7,1016.5 263.7,1011.5 257.7,1006.5 251.7,1001.5 245.8,996.5 239.8,991.5 233.8,986.5 227.8,981.5 221.8,976.5 215.8,971.6 209.8,966.7 203.9,961.8 197.9,957 191.9,952 185.9,947 179.9,941.7 173.9,936.5 168,931.2 162,927.1 156,924.8 150,924.1" fill="#3852a6"/>
<polygon points="150,870.7 156,871.2 162,873.4 168,877.3 173.9,882.4 179.9,887.5 185.9,892.6 191.9,897.5 197.9,902.3 203.9,907 209.8,911.8 215.8,916.5 221.8,921.3 227.8,926.2 233.8,931 239.8,935.9 245.8,940.7 251.7,945.6 257.7,950.4 263.7,955.3 269.7,960.1 275.7,965 281.7,969.8 287.6,974.7 293.6,979.5 299.6,984.5 305.6,989.7 311.6,995.1 317.6,1000.5 323.6,1005.8 329.5,1011.2 335.5,1016.5 341.5,1021.8 347.5,1027.1 353.5,1032.3 359.5,1037.6 365.4,1042.8 371.4,1048.1 377.4,1053.2 383.4,1058.2 389.4,1063 395.4,1067.8 401.3,1072.5 407.3,1077.2 413.3,1082 419.3,1086.7 425.3,1091.5 431.3,1096.3 437.3,1101.1 443.2,1106 449.2,1110.8 455.2,1115.7 461.2,1120.7 467.2,1125.7 473.2,1130.9 479.1,1136 485.1,1141.2 491.1,1146.4 497.1,1151.5 503.1,1156.7 509.1,1161.8 515.1,1167 521,1172.1 527,1177.3 533,1182.4 539,1187.3 545,1191.8 551,1195.9 556.9,1199.9 562.9,1203.9 568.9,1207.9 574.9,1211.8 580.9,1215.6 586.9,1219.3 592.9,1223 598.8,1226.8 604.8,1230.3 610.8,1233.7 616.8,1237.1 622.8,1240.6 628.8,1244 634.7,1247.4 640.7,1250.9 646.7,1254.3 652.7,1257.6 658.7,1260.8 664.7,1263.9 670.7,1266.9 676.6,1269.9 682.6,1272.9 688.6,1275.5 694.6,1277.7 700.6,1279.5 706.6,1281.4 712.5,1283.3 718.5,1285.2 724.5,1287.1 730.5,1288.5 736.5,1289.5 742.5,1290.2 748.4,1290.8 754.4,1291.5 760.4,1292.1 766.4,1292.8 772.4,1293.5 778.4,1294 784.4,1294.4 790.3,1294.6 796.3,1294.8 802.3,1295 808.3,1295.1 814.3,1295.3 820.3,1295.5 826.2,1295.6 832.2,1295.8 838.2,1296 844.2,1296.2 850.2,1296.2 856.2,1296.2 862.2,1296.1 868.1,1296.1 874.1,1296 880.1,1295.9 886.1,1295.8 892.1,1295.7 898.1,1295.6 904,1295.5 910,1295.4 916,1295.4 922,1295.3 922,1388.8 916,1388.5 910,1388.1 904,1387.8 898.1,1387.4 892.1,1387.1 886.1,1386.8 880.1,1386.4 874.1,1386.1 868.1,1385.8 862.2,1385.4 856.2,1385.1 850.2,1384.7 844.2,1384.2 838.2,1383.6 832.2,1383 826.2,1382.4 820.3,1381.8 814.3,1381.2 808.3,1380.6 802.3,1380 796.3,1379.4 790.3,1378.8 784.4,1378.2 778.4,1377.4 772.4,1376.4 766.4,1375.3 760.4,1374.2 754.4,1373.2 748.4,1372.1 742.5,1370.9 736.5,1369.8 730.5,1368.3 724.5,1366.4 718.5,1364 712.5,1361.6 706.6,1359.3 700.6,1356.9 694.6,1354.2 688.6,1351 682.6,1347.4 676.6,1343.5 670.7,1339.5 664.7,1335.6 658.7,1331.6 652.7,1327.5 646.7,1323.2 640.7,1318.9 634.7,1314.6 628.8,1310.3 622.8,1306 616.8,1301.7 610.8,1297.4 604.8,1293.1 598.8,1288.9 592.9,1285 586.9,1281.1 580.9,1277.3 574.9,1273.3 568.9,1269.3 562.9,1265.2 556.9,1261 551,1256.8 545,1252.6 539,1248 533,1243 527,1237.7 521,1232.4 515.1,1227.1 509.1,1221.8 503.1,1216.5 497.1,1211.2 491.1,1205.9 485.1,1200.6 479.1,1195.3 473.2,1190 467.2,1184.7 461.2,1179.5 455.2,1174.4 449.2,1169.4 443.2,1164.4 437.3,1159.4 431.3,1154.4 425.3,1149.5 419.3,1144.6 413.3,1139.7 407.3,1134.8 401.3,1130 395.4,1125.1 389.4,1120.2 383.4,1115.3 377.4,1110.2 371.4,1104.9 365.4,1099.5 359.5,1094.1 353.5,1088.7 347.5,1083.3 341.5,1077.9 335.5,1072.5 329.5,1067 323.6,1061.5 317.6,1056 311.6,1050.5 305.6,1045 299.6,1039.6 293.6,1034.5 287.6,1029.5 281.7,1024.5 275.7,1019.5 269.7,1014.5 263.7,1009.5 257.7,1004.5 251.7,999.5 245.8,994.6 239.8,989.6 233.8,984.6 227.8,979.6 221.8,974.6 215.8,969.7 209.8,964.8 203.9,959.9 197.9,955.1 191.9,950.1 185.9,945 179.9,939.8 173.9,934.6 168,929.3 162,925.3 156,922.9 150,922.3" fill="#335cac"/>
<polygon points="150,872.2 156,872.7 162,874.9 168,878.9 173.9,884 179.9,889.1 185.9,894.2 191.9,899.1 197.9,903.9 203.9,908.6 209.8,913.4 215.8,918.1 221.8,923 227.8,927.8 233.8,932.7 239.8,937.5 245.8,942.4 251.7,947.2 257.7,952.1 263.7,957 269.7,961.8 275.7,966.7 281.7,971.5 287.6,976.4 293.6,981.2 299.6,986.3 305.6,991.5 311.6,996.8 317.6,1002.2 323.6,1007.6 329.5,1013 335.5,1018.3 341.5,1023.6 347.5,1028.9 353.5,1034.1 359.5,1039.4 365.4,1044.7 371.4,1049.9 377.4,1055.1 383.4,1060.1 389.4,1064.9 395.4,1069.6 401.3,1074.4 407.3,1079.1 413.3,1083.9 419.3,1088.6 425.3,1093.4 431.3,1098.2 437.3,1103.1 443.2,1107.9 449.2,1112.8 455.2,1117.6 461.2,1122.6 467.2,1127.7 473.2,1132.9 479.1,1138 485.1,1143.2 491.1,1148.4 497.1,1153.5 503.1,1158.7 509.1,1163.9 515.1,1169 521,1174.2 527,1179.4 533,1184.5 539,1189.4 545,1193.9 551,1198 556.9,1202 562.9,1206.1 568.9,1210 574.9,1213.9 580.9,1217.7 586.9,1221.5 592.9,1225.2 598.8,1228.9 604.8,1232.5 610.8,1235.9 616.8,1239.4 622.8,1242.9 628.8,1246.4 634.7,1249.8 640.7,1253.3 646.7,1256.8 652.7,1260.2 658.7,1263.4 664.7,1266.4 670.7,1269.5 676.6,1272.5 682.6,1275.5 688.6,1278.2 694.6,1280.4 700.6,1282.2 706.6,1284.1 712.5,1286 718.5,1287.9 724.5,1289.8 730.5,1291.2 736.5,1292.2 742.5,1292.9 748.4,1293.5 754.4,1294.2 760.4,1294.8 766.4,1295.5 772.4,1296.2 778.4,1296.8 784.4,1297.2 790.3,1297.4 796.3,1297.6 802.3,1297.7 808.3,1297.9 814.3,1298.1 820.3,1298.3 826.2,1298.5 832.2,1298.7 838.2,1298.8 844.2,1299 850.2,1299.1 856.2,1299.1 862.2,1299 868.1,1299 874.1,1298.9 880.1,1298.8 886.1,1298.7 892.1,1298.7 898.1,1298.6 904,1298.5 910,1298.4 916,1298.4 922,1298.3 922,1385 916,1384.7 910,1384.3 904,1384 898.1,1383.7 892.1,1383.4 886.1,1383.1 880.1,1382.8 874.1,1382.5 868.1,1382.2 862.2,1381.8 856.2,1381.5 850.2,1381.1 844.2,1380.6 838.2,1380.1 832.2,1379.5 826.2,1378.9 820.3,1378.4 814.3,1377.8 808.3,1377.2 802.3,1376.6 796.3,1376.1 790.3,1375.5 784.4,1374.9 778.4,1374.1 772.4,1373.1 766.4,1372.1 760.4,1371 754.4,1369.9 748.4,1368.9 742.5,1367.7 736.5,1366.6 730.5,1365.1 724.5,1363.2 718.5,1360.9 712.5,1358.5 706.6,1356.1 700.6,1353.7 694.6,1351.1 688.6,1348 682.6,1344.4 676.6,1340.5 670.7,1336.6 664.7,1332.7 658.7,1328.7 652.7,1324.6 646.7,1320.4 640.7,1316.2 634.7,1311.9 628.8,1307.7 622.8,1303.4 616.8,1299.2 610.8,1294.9 604.8,1290.6 598.8,1286.5 592.9,1282.6 586.9,1278.8 580.9,1274.9 574.9,1271 568.9,1267 562.9,1262.8 556.9,1258.7 551,1254.5 545,1250.3 539,1245.7 533,1240.7 527,1235.4 521,1230.1 515.1,1224.8 509.1,1219.5 503.1,1214.2 497.1,1208.9 491.1,1203.6 485.1,1198.4 479.1,1193.1 473.2,1187.8 467.2,1182.5 461.2,1177.3 455.2,1172.2 449.2,1167.2 443.2,1162.2 437.3,1157.2 431.3,1152.2 425.3,1147.3 419.3,1142.4 413.3,1137.5 407.3,1132.6 401.3,1127.8 395.4,1122.9 389.4,1118 383.4,1113.1 377.4,1108 371.4,1102.7 365.4,1097.3 359.5,1091.9 353.5,1086.5 347.5,1081.1 341.5,1075.7 335.5,1070.3 329.5,1064.9 323.6,1059.4 317.6,1053.9 311.6,1048.3 305.6,1042.8 299.6,1037.5 293.6,1032.4 287.6,1027.4 281.7,1022.4 275.7,1017.4 269.7,1012.4 263.7,1007.5 257.7,1002.5 251.7,997.5 245.8,992.5 239.8,987.5 233.8,982.5 227.8,977.6 221.8,972.6 215.8,967.6 209.8,962.7 203.9,957.9 197.9,953 191.9,948.1 185.9,943 179.9,937.9 173.9,932.6 168,927.4 162,923.3 156,920.9 150,920.3" fill="#2e68b8"/>
<polygon points="150,873.8 156,874.3 162,876.5 168,880.5 173.9,885.6 179.9,890.7 185.9,895.8 191.9,900.8 197.9,905.6 203.9,910.3 209.8,915 215.8,919.8 221.8,924.6 227.8,929.5 233.8,934.4 239.8,939.2 245.8,944.1 251.7,949 257.7,953.8 263.7,958.7 269.7,963.6 275.7,968.4 281.7,973.3 287.6,978.2 293.6,983 299.6,988.1 305.6,993.3 311.6,998.7 317.6,1004 323.6,1009.4 329.5,1014.8 335.5,1020.2 341.5,1025.5 347.5,1030.7 353.5,1036 359.5,1041.3 365.4,1046.6 371.4,1051.8 377.4,1057 383.4,1062 389.4,1066.8 395.4,1071.6 401.3,1076.3 407.3,1081.1 413.3,1085.8 419.3,1090.6 425.3,1095.4 431.3,1100.2 437.3,1105.1 443.2,1109.9 449.2,1114.8 455.2,1119.7 461.2,1124.7 467.2,1129.8 473.2,1134.9 479.1,1140.1 485.1,1145.3 491.1,1150.4 497.1,1155.6 503.1,1160.8 509.1,1166 515.1,1171.1 521,1176.3 527,1181.5 533,1186.7 539,1191.5 545,1196 551,1200.1 556.9,1204.2 562.9,1208.2 568.9,1212.2 574.9,1216.1 580.9,1219.9 586.9,1223.7 592.9,1227.4 598.8,1231.2 604.8,1234.7 610.8,1238.2 616.8,1241.8 622.8,1245.3 628.8,1248.8 634.7,1252.3 640.7,1255.8 646.7,1259.3 652.7,1262.8 658.7,1266 664.7,1269.1 670.7,1272.1 676.6,1275.2 682.6,1278.2 688.6,1280.9 694.6,1283.2 700.6,1285 706.6,1286.9 712.5,1288.8 718.5,1290.7 724.5,1292.6 730.5,1294 736.5,1295 742.5,1295.7 748.4,1296.3 754.4,1297 760.4,1297.6 766.4,1298.3 772.4,1299 778.4,1299.6 784.4,1300 790.3,1300.2 796.3,1300.4 802.3,1300.6 808.3,1300.8 814.3,1301 820.3,1301.2 826.2,1301.4 832.2,1301.6 838.2,1301.8 844.2,1302 850.2,1302.1 856.2,1302.1 862.2,1302 868.1,1302 874.1,1301.9 880.1,1301.8 886.1,1301.8 892.1,1301.7 898.1,1301.6 904,1301.6 910,1301.5 916,1301.5 922,1301.4 922,1381 916,1380.8 910,1380.5 904,1380.2 898.1,1379.9 892.1,1379.6 886.1,1379.3 880.1,1379 874.1,1378.7 868.1,1378.4 862.2,1378.1 856.2,1377.8 850.2,1377.5 844.2,1377 838.2,1376.5 832.2,1375.9 826.2,1375.4 820.3,1374.8 814.3,1374.3 808.3,1373.7 802.3,1373.2 796.3,1372.6 790.3,1372.1 784.4,1371.5 778.4,1370.7 772.4,1369.8 766.4,1368.7 760.4,1367.7 754.4,1366.6 748.4,1365.6 742.5,1364.5 736.5,1363.4 730.5,1361.9 724.5,1359.9 718.5,1357.6 712.5,1355.2 706.6,1352.9 700.6,1350.5 694.6,1347.9 688.6,1344.8 682.6,1341.3 676.6,1337.4 670.7,1333.5 664.7,1329.7 658.7,1325.8 652.7,1321.7 646.7,1317.6 640.7,1313.4 634.7,1309.2 628.8,1304.9 622.8,1300.7 616.8,1296.5 610.8,1292.3 604.8,1288.1 598.8,1284 592.9,1280.2 586.9,1276.3 580.9,1272.4 574.9,1268.5 568.9,1264.5 562.9,1260.4 556.9,1256.2 551,1252.1 545,1247.9 539,1243.3 533,1238.3 527,1233 521,1227.7 515.1,1222.4 509.1,1217.1 503.1,1211.9 497.1,1206.6 491.1,1201.3 485.1,1196 479.1,1190.7 473.2,1185.4 467.2,1180.1 461.2,1174.9 455.2,1169.8 449.2,1164.8 443.2,1159.9 437.3,1154.9 431.3,1149.9 425.3,1145 419.3,1140.1 413.3,1135.2 407.3,1130.4 401.3,1125.5 395.4,1120.6 389.4,1115.8 383.4,1110.8 377.4,1105.7 371.4,1100.4 365.4,1095.1 359.5,1089.7 353.5,1084.3 347.5,1078.9 341.5,1073.5 335.5,1068.1 329.5,1062.7 323.6,1057.2 317.6,1051.7 311.6,1046.2 305.6,1040.7 299.6,1035.4 293.6,1030.2 287.6,1025.2 281.7,1020.3 275.7,1015.3 269.7,1010.3 263.7,1005.3 257.7,1000.3 251.7,995.4 245.8,990.4 239.8,985.4 233.8,980.4 227.8,975.5 221.8,970.5 215.8,965.6 209.8,960.7 203.9,955.8 197.9,951 191.9,946.1 185.9,941 179.9,935.8 173.9,930.6 168,925.3 162,921.3 156,918.9 150,918.3" fill="#2773c3"/>
<polygon points="150,875.4 156,875.9 162,878.1 168,882.1 173.9,887.2 179.9,892.4 185.9,897.5 191.9,902.4 197.9,907.3 203.9,912 209.8,916.7 215.8,921.5 221.8,926.4 227.8,931.2 233.8,936.1 239.8,941 245.8,945.9 251.7,950.7 257.7,955.6 263.7,960.5 269.7,965.4 275.7,970.2 281.7,975.1 287.6,980 293.6,984.9 299.6,989.9 305.6,995.1 311.6,1000.5 317.6,1005.9 323.6,1011.3 329.5,1016.7 335.5,1022.1 341.5,1027.4 347.5,1032.6 353.5,1037.9 359.5,1043.2 365.4,1048.5 371.4,1053.8 377.4,1059 383.4,1064 389.4,1068.8 395.4,1073.6 401.3,1078.3 407.3,1083.1 413.3,1087.8 419.3,1092.6 425.3,1097.4 431.3,1102.2 437.3,1107.1 443.2,1112 449.2,1116.8 455.2,1121.7 461.2,1126.7 467.2,1131.8 473.2,1137 479.1,1142.2 485.1,1147.4 491.1,1152.6 497.1,1157.8 503.1,1162.9 509.1,1168.1 515.1,1173.3 521,1178.5 527,1183.7 533,1188.9 539,1193.7 545,1198.2 551,1202.4 556.9,1206.4 562.9,1210.5 568.9,1214.5 574.9,1218.4 580.9,1222.2 586.9,1226 592.9,1229.7 598.8,1233.5 604.8,1237.1 610.8,1240.6 616.8,1244.2 622.8,1247.7 628.8,1251.3 634.7,1254.8 640.7,1258.4 646.7,1262 652.7,1265.4 658.7,1268.7 664.7,1271.8 670.7,1274.9 676.6,1277.9 682.6,1281 688.6,1283.8 694.6,1286 700.6,1287.9 706.6,1289.8 712.5,1291.7 718.5,1293.6 724.5,1295.4 730.5,1296.9 736.5,1297.9 742.5,1298.5 748.4,1299.1 754.4,1299.8 760.4,1300.5 766.4,1301.2 772.4,1301.9 778.4,1302.5 784.4,1302.9 790.3,1303.2 796.3,1303.4 802.3,1303.6 808.3,1303.8 814.3,1304 820.3,1304.2 826.2,1304.4 832.2,1304.6 838.2,1304.8 844.2,1305 850.2,1305.1 856.2,1305.2 862.2,1305.1 868.1,1305 874.1,1305 880.1,1304.9 886.1,1304.9 892.1,1304.8 898.1,1304.8 904,1304.7 910,1304.7 916,1304.6 922,1304.6 922,1377 916,1376.8 910,1376.5 904,1376.2 898.1,1375.9 892.1,1375.7 886.1,1375.4 880.1,1375.1 874.1,1374.9 868.1,1374.6 862.2,1374.3 856.2,1374.1 850.2,1373.7 844.2,1373.3 838.2,1372.8 832.2,1372.2 826.2,1371.7 820.3,1371.2 814.3,1370.6 808.3,1370.1 802.3,1369.6 796.3,1369.1 790.3,1368.5 784.4,1368 778.4,1367.2 772.4,1366.3 766.4,1365.3 760.4,1364.3 754.4,1363.3 748.4,1362.2 742.5,1361.1 736.5,1360 730.5,1358.5 724.5,1356.6 718.5,1354.3 712.5,1351.9 706.6,1349.6 700.6,1347.2 694.6,1344.6 688.6,1341.6 682.6,1338.1 676.6,1334.2 670.7,1330.4 664.7,1326.6 658.7,1322.7 652.7,1318.7 646.7,1314.6 640.7,1310.5 634.7,1306.3 628.8,1302.2 622.8,1298 616.8,1293.9 610.8,1289.7 604.8,1285.6 598.8,1281.5 592.9,1277.6 586.9,1273.8 580.9,1269.9 574.9,1266 568.9,1262 562.9,1257.9 556.9,1253.8 551,1249.6 545,1245.4 539,1240.8 533,1235.8 527,1230.5 521,1225.3 515.1,1220 509.1,1214.7 503.1,1209.4 497.1,1204.2 491.1,1198.9 485.1,1193.6 479.1,1188.3 473.2,1183 467.2,1177.8 461.2,1172.6 455.2,1167.5 449.2,1162.5 443.2,1157.5 437.3,1152.5 431.3,1147.6 425.3,1142.6 419.3,1137.7 413.3,1132.9 407.3,1128 401.3,1123.2 395.4,1118.3 389.4,1113.5 383.4,1108.5 377.4,1103.4 371.4,1098.2 365.4,1092.8 359.5,1087.4 353.5,1082 347.5,1076.6 341.5,1071.3 335.5,1065.9 329.5,1060.4 323.6,1054.9 317.6,1049.4 311.6,1043.9 305.6,1038.4 299.6,1033.1 293.6,1028 287.6,1023 281.7,1018.1 275.7,1013.1 269.7,1008.1 263.7,1003.1 257.7,998.2 251.7,993.2 245.8,988.2 239.8,983.3 233.8,978.3 227.8,973.3 221.8,968.3 215.8,963.4 209.8,958.5 203.9,953.7 197.9,948.9 191.9,943.9 185.9,938.9 179.9,933.7 173.9,928.5 168,923.2 162,919.2 156,916.8 150,916.2" fill="#217cca"/>
<polygon points="150,877 156,877.5 162,879.8 168,883.8 173.9,888.9 179.9,894.1 185.9,899.2 191.9,904.1 197.9,909 203.9,913.7 209.8,918.5 215.8,923.3 221.8,928.1 227.8,933 233.8,937.9 239.8,942.8 245.8,947.6 251.7,952.5 257.7,957.4 263.7,962.3 269.7,967.2 275.7,972.1 281.7,976.9 287.6,981.8 293.6,986.7 299.6,991.8 305.6,997 311.6,1002.4 317.6,1007.8 323.6,1013.2 329.5,1018.6 335.5,1024 341.5,1029.3 347.5,1034.6 353.5,1039.9 359.5,1045.2 365.4,1050.5 371.4,1055.8 377.4,1060.9 383.4,1066 389.4,1070.8 395.4,1075.6 401.3,1080.4 407.3,1085.1 413.3,1089.9 419.3,1094.7 425.3,1099.5 431.3,1104.3 437.3,1109.2 443.2,1114.1 449.2,1119 455.2,1123.9 461.2,1128.9 467.2,1134 473.2,1139.2 479.1,1144.4 485.1,1149.6 491.1,1154.7 497.1,1159.9 503.1,1165.1 509.1,1170.3 515.1,1175.5 521,1180.7 527,1185.9 533,1191.1 539,1196 545,1200.5 551,1204.6 556.9,1208.7 562.9,1212.8 568.9,1216.8 574.9,1220.7 580.9,1224.5 586.9,1228.3 592.9,1232 598.8,1235.8 604.8,1239.4 610.8,1243 616.8,1246.6 622.8,1250.2 628.8,1253.8 634.7,1257.4 640.7,1261 646.7,1264.6 652.7,1268.1 658.7,1271.4 664.7,1274.6 670.7,1277.7 676.6,1280.8 682.6,1283.9 688.6,1286.6 694.6,1288.9 700.6,1290.8 706.6,1292.7 712.5,1294.6 718.5,1296.5 724.5,1298.3 730.5,1299.8 736.5,1300.8 742.5,1301.4 748.4,1302 754.4,1302.7 760.4,1303.4 766.4,1304.2 772.4,1304.9 778.4,1305.5 784.4,1305.9 790.3,1306.1 796.3,1306.4 802.3,1306.6 808.3,1306.8 814.3,1307 820.3,1307.2 826.2,1307.4 832.2,1307.7 838.2,1307.9 844.2,1308.1 850.2,1308.2 856.2,1308.3 862.2,1308.2 868.1,1308.2 874.1,1308.1 880.1,1308.1 886.1,1308.1 892.1,1308 898.1,1308 904,1307.9 910,1307.9 916,1307.8 922,1307.8 922,1372.9 916,1372.7 910,1372.4 904,1372.2 898.1,1371.9 892.1,1371.7 886.1,1371.4 880.1,1371.2 874.1,1371 868.1,1370.7 862.2,1370.5 856.2,1370.2 850.2,1369.9 844.2,1369.5 838.2,1369 832.2,1368.5 826.2,1368 820.3,1367.5 814.3,1367 808.3,1366.5 802.3,1366 796.3,1365.5 790.3,1364.9 784.4,1364.4 778.4,1363.7 772.4,1362.8 766.4,1361.8 760.4,1360.8 754.4,1359.8 748.4,1358.8 742.5,1357.7 736.5,1356.6 730.5,1355.1 724.5,1353.2 718.5,1350.9 712.5,1348.5 706.6,1346.2 700.6,1343.8 694.6,1341.3 688.6,1338.3 682.6,1334.8 676.6,1331 670.7,1327.2 664.7,1323.5 658.7,1319.6 652.7,1315.6 646.7,1311.6 640.7,1307.5 634.7,1303.4 628.8,1299.3 622.8,1295.2 616.8,1291.1 610.8,1287 604.8,1282.9 598.8,1278.9 592.9,1275.1 586.9,1271.2 580.9,1267.4 574.9,1263.5 568.9,1259.5 562.9,1255.4 556.9,1251.2 551,1247.1 545,1242.9 539,1238.3 533,1233.3 527,1228 521,1222.8 515.1,1217.5 509.1,1212.2 503.1,1207 497.1,1201.7 491.1,1196.4 485.1,1191.1 479.1,1185.9 473.2,1180.6 467.2,1175.3 461.2,1170.1 455.2,1165 449.2,1160.1 443.2,1155.1 437.3,1150.1 431.3,1145.2 425.3,1140.2 419.3,1135.4 413.3,1130.5 407.3,1125.7 401.3,1120.8 395.4,1116 389.4,1111.1 383.4,1106.2 377.4,1101.1 371.4,1095.8 365.4,1090.4 359.5,1085.1 353.5,1079.7 347.5,1074.3 341.5,1069 335.5,1063.6 329.5,1058.1 323.6,1052.6 317.6,1047.2 311.6,1041.7 305.6,1036.2 299.6,1030.9 293.6,1025.7 287.6,1020.8 281.7,1015.8 275.7,1010.8 269.7,1005.9 263.7,1000.9 257.7,996 251.7,991 245.8,986 239.8,981.1 233.8,976.1 227.8,971.1 221.8,966.2 215.8,961.2 209.8,956.4 203.9,951.5 197.9,946.7 191.9,941.8 185.9,936.7 179.9,931.6 173.9,926.3 168,921.1 162,917.1 156,914.7 150,914.1" fill="#1988d0"/>
<polygon points="150,878.7 156,879.2 162,881.5 168,885.5 173.9,890.6 179.9,895.8 185.9,900.9 191.9,905.9 197.9,910.7 203.9,915.5 209.8,920.2 215.8,925 221.8,929.9 227.8,934.8 233.8,939.7 239.8,944.6 245.8,949.5 251.7,954.4 257.7,959.2 263.7,964.1 269.7,969 275.7,973.9 281.7,978.8 287.6,983.7 293.6,988.6 299.6,993.7 305.6,998.9 311.6,1004.3 317.6,1009.7 323.6,1015.2 329.5,1020.6 335.5,1025.9 341.5,1031.3 347.5,1036.6 353.5,1041.9 359.5,1047.2 365.4,1052.5 371.4,1057.8 377.4,1063 383.4,1068 389.4,1072.9 395.4,1077.6 401.3,1082.4 407.3,1087.2 413.3,1092 419.3,1096.8 425.3,1101.6 431.3,1106.4 437.3,1111.3 443.2,1116.2 449.2,1121.1 455.2,1126 461.2,1131 467.2,1136.1 473.2,1141.3 479.1,1146.6 485.1,1151.8 491.1,1157 497.1,1162.2 503.1,1167.4 509.1,1172.6 515.1,1177.8 521,1183 527,1188.2 533,1193.4 539,1198.3 545,1202.8 551,1206.9 556.9,1211 562.9,1215.1 568.9,1219.1 574.9,1223 580.9,1226.9 586.9,1230.6 592.9,1234.4 598.8,1238.2 604.8,1241.8 610.8,1245.5 616.8,1249.1 622.8,1252.8 628.8,1256.4 634.7,1260.1 640.7,1263.7 646.7,1267.3 652.7,1270.9 658.7,1274.2 664.7,1277.4 670.7,1280.5 676.6,1283.6 682.6,1286.8 688.6,1289.5 694.6,1291.9 700.6,1293.8 706.6,1295.7 712.5,1297.6 718.5,1299.4 724.5,1301.3 730.5,1302.7 736.5,1303.7 742.5,1304.4 748.4,1305 754.4,1305.7 760.4,1306.4 766.4,1307.1 772.4,1307.9 778.4,1308.5 784.4,1308.9 790.3,1309.2 796.3,1309.4 802.3,1309.6 808.3,1309.9 814.3,1310.1 820.3,1310.3 826.2,1310.6 832.2,1310.8 838.2,1311 844.2,1311.2 850.2,1311.4 856.2,1311.4 862.2,1311.4 868.1,1311.4 874.1,1311.3 880.1,1311.3 886.1,1311.3 892.1,1311.2 898.1,1311.2 904,1311.2 910,1311.2 916,1311.1 922,1311.1 922,1368.7 916,1368.5 910,1368.3 904,1368.1 898.1,1367.9 892.1,1367.6 886.1,1367.4 880.1,1367.2 874.1,1367 868.1,1366.8 862.2,1366.5 856.2,1366.3 850.2,1366 844.2,1365.6 838.2,1365.1 832.2,1364.7 826.2,1364.2 820.3,1363.7 814.3,1363.2 808.3,1362.7 802.3,1362.3 796.3,1361.8 790.3,1361.3 784.4,1360.8 778.4,1360.1 772.4,1359.2 766.4,1358.2 760.4,1357.3 754.4,1356.3 748.4,1355.3 742.5,1354.2 736.5,1353.1 730.5,1351.6 724.5,1349.7 718.5,1347.4 712.5,1345.1 706.6,1342.8 700.6,1340.4 694.6,1337.9 688.6,1334.9 682.6,1331.5 676.6,1327.7 670.7,1324 664.7,1320.3 658.7,1316.5 652.7,1312.5 646.7,1308.5 640.7,1304.5 634.7,1300.5 628.8,1296.4 622.8,1292.4 616.8,1288.4 610.8,1284.3 604.8,1280.3 598.8,1276.3 592.9,1272.5 586.9,1268.6 580.9,1264.8 574.9,1260.9 568.9,1256.9 562.9,1252.8 556.9,1248.7 551,1244.5 545,1240.3 539,1235.7 533,1230.8 527,1225.5 521,1220.2 515.1,1215 509.1,1209.7 503.1,1204.4 497.1,1199.2 491.1,1193.9 485.1,1188.6 479.1,1183.4 473.2,1178.1 467.2,1172.8 461.2,1167.7 455.2,1162.6 449.2,1157.6 443.2,1152.6 437.3,1147.7 431.3,1142.7 425.3,1137.8 419.3,1132.9 413.3,1128.1 407.3,1123.2 401.3,1118.4 395.4,1113.6 389.4,1108.7 383.4,1103.8 377.4,1098.7 371.4,1093.4 365.4,1088.1 359.5,1082.7 353.5,1077.4 347.5,1072 341.5,1066.6 335.5,1061.2 329.5,1055.8 323.6,1050.3 317.6,1044.8 311.6,1039.3 305.6,1033.9 299.6,1028.6 293.6,1023.4 287.6,1018.5 281.7,1013.5 275.7,1008.6 269.7,1003.6 263.7,998.7 257.7,993.7 251.7,988.7 245.8,983.8 239.8,978.8 233.8,973.9 227.8,968.9 221.8,963.9 215.8,959 209.8,954.2 203.9,949.3 197.9,944.5 191.9,939.6 185.9,934.6 179.9,929.4 173.9,924.2 168,919 162,914.9 156,912.6 150,912" fill="#099dcd"/>
<polygon points="150,880.4 156,880.9 162,883.2 168,887.2 173.9,892.4 179.9,897.5 185.9,902.6 191.9,907.6 197.9,912.5 203.9,917.2 209.8,922 215.8,926.8 221.8,931.7 227.8,936.6 233.8,941.5 239.8,946.4 245.8,951.3 251.7,956.2 257.7,961.1 263.7,966 269.7,970.9 275.7,975.8 281.7,980.7 287.6,985.6 293.6,990.5 299.6,995.6 305.6,1000.8 311.6,1006.3 317.6,1011.7 323.6,1017.1 329.5,1022.6 335.5,1027.9 341.5,1033.3 347.5,1038.6 353.5,1043.9 359.5,1049.2 365.4,1054.5 371.4,1059.8 377.4,1065 383.4,1070.1 389.4,1074.9 395.4,1079.7 401.3,1084.5 407.3,1089.3 413.3,1094.1 419.3,1098.9 425.3,1103.7 431.3,1108.6 437.3,1113.5 443.2,1118.4 449.2,1123.3 455.2,1128.2 461.2,1133.2 467.2,1138.3 473.2,1143.6 479.1,1148.8 485.1,1154 491.1,1159.2 497.1,1164.4 503.1,1169.6 509.1,1174.8 515.1,1180 521,1185.3 527,1190.5 533,1195.7 539,1200.6 545,1205.1 551,1209.3 556.9,1213.3 562.9,1217.4 568.9,1221.5 574.9,1225.4 580.9,1229.3 586.9,1233 592.9,1236.8 598.8,1240.6 604.8,1244.3 610.8,1248 616.8,1251.7 622.8,1255.4 628.8,1259 634.7,1262.7 640.7,1266.4 646.7,1270.1 652.7,1273.6 658.7,1277 664.7,1280.2 670.7,1283.4 676.6,1286.5 682.6,1289.7 688.6,1292.5 694.6,1294.9 700.6,1296.8 706.6,1298.7 712.5,1300.6 718.5,1302.5 724.5,1304.3 730.5,1305.7 736.5,1306.7 742.5,1307.4 748.4,1308 754.4,1308.7 760.4,1309.4 766.4,1310.2 772.4,1310.9 778.4,1311.5 784.4,1312 790.3,1312.3 796.3,1312.5 802.3,1312.7 808.3,1313 814.3,1313.2 820.3,1313.5 826.2,1313.7 832.2,1313.9 838.2,1314.2 844.2,1314.4 850.2,1314.6 856.2,1314.6 862.2,1314.6 868.1,1314.6 874.1,1314.6 880.1,1314.6 886.1,1314.5 892.1,1314.5 898.1,1314.5 904,1314.5 910,1314.5 916,1314.5 922,1314.4 922,1364.5 916,1364.3 910,1364.1 904,1363.9 898.1,1363.7 892.1,1363.5 886.1,1363.3 880.1,1363.1 874.1,1362.9 868.1,1362.7 862.2,1362.5 856.2,1362.3 850.2,1362.1 844.2,1361.7 838.2,1361.2 832.2,1360.8 826.2,1360.3 820.3,1359.9 814.3,1359.4 808.3,1359 802.3,1358.5 796.3,1358 790.3,1357.6 784.4,1357.1 778.4,1356.4 772.4,1355.6 766.4,1354.6 760.4,1353.7 754.4,1352.7 748.4,1351.8 742.5,1350.7 736.5,1349.6 730.5,1348.1 724.5,1346.2 718.5,1343.9 712.5,1341.6 706.6,1339.3 700.6,1336.9 694.6,1334.4 688.6,1331.5 682.6,1328.1 676.6,1324.4 670.7,1320.7 664.7,1317 658.7,1313.3 652.7,1309.4 646.7,1305.4 640.7,1301.4 634.7,1297.5 628.8,1293.5 622.8,1289.5 616.8,1285.5 610.8,1281.6 604.8,1277.6 598.8,1273.6 592.9,1269.8 586.9,1266 580.9,1262.1 574.9,1258.3 568.9,1254.3 562.9,1250.2 556.9,1246.1 551,1241.9 545,1237.7 539,1233.1 533,1228.2 527,1222.9 521,1217.7 515.1,1212.4 509.1,1207.1 503.1,1201.9 497.1,1196.6 491.1,1191.4 485.1,1186.1 479.1,1180.8 473.2,1175.6 467.2,1170.3 461.2,1165.2 455.2,1160.1 449.2,1155.1 443.2,1150.2 437.3,1145.2 431.3,1140.3 425.3,1135.3 419.3,1130.5 413.3,1125.6 407.3,1120.8 401.3,1116 395.4,1111.1 389.4,1106.3 383.4,1101.4 377.4,1096.3 371.4,1091 365.4,1085.7 359.5,1080.3 353.5,1075 347.5,1069.6 341.5,1064.2 335.5,1058.9 329.5,1053.4 323.6,1048 317.6,1042.5 311.6,1037 305.6,1031.5 299.6,1026.2 293.6,1021.1 287.6,1016.2 281.7,1011.2 275.7,1006.3 269.7,1001.3 263.7,996.4 257.7,991.4 251.7,986.5 245.8,981.5 239.8,976.6 233.8,971.6 227.8,966.7 221.8,961.7 215.8,956.8 209.8,951.9 203.9,947.1 197.9,942.3 191.9,937.4 185.9,932.4 179.9,927.2 173.9,922 168,916.8 162,912.7 156,910.4 150,909.8" fill="#06a6c7"/>
<polygon points="150,881.4 156,881.9 162,884.2 168,888.2 173.9,893.4 179.9,898.6 185.9,903.7 191.9,908.7 197.9,913.5 203.9,918.3 209.8,923.1 215.8,927.9 221.8,932.8 227.8,937.7 233.8,942.6 239.8,947.5 245.8,952.4 251.7,957.3 257.7,962.2 263.7,967.1 269.7,972 275.7,976.9 281.7,981.8 287.6,986.8 293.6,991.7 299.6,996.7 305.6,1002 311.6,1007.4 317.6,1012.8 323.6,1018.3 329.5,1023.7 335.5,1029.1 341.5,1034.4 347.5,1039.7 353.5,1045.1 359.5,1050.4 365.4,1055.7 371.4,1061 377.4,1066.2 383.4,1071.3 389.4,1076.1 395.4,1080.9 401.3,1085.7 407.3,1090.5 413.3,1095.3 419.3,1100.1 425.3,1104.9 431.3,1109.8 437.3,1114.7 443.2,1119.6 449.2,1124.5 455.2,1129.4 461.2,1134.5 467.2,1139.6 473.2,1144.8 479.1,1150 485.1,1155.2 491.1,1160.5 497.1,1165.7 503.1,1170.9 509.1,1176.1 515.1,1181.3 521,1186.5 527,1191.8 533,1197 539,1201.9 545,1206.4 551,1210.6 556.9,1214.7 562.9,1218.8 568.9,1222.8 574.9,1226.7 580.9,1230.6 586.9,1234.4 592.9,1238.2 598.8,1241.9 604.8,1245.7 610.8,1249.3 616.8,1253.1 622.8,1256.8 628.8,1260.5 634.7,1264.2 640.7,1267.9 646.7,1271.6 652.7,1275.2 658.7,1278.6 664.7,1281.9 670.7,1285.2 676.6,1288.5 682.6,1291.7 688.6,1294.6 694.6,1297.1 700.6,1299.2 706.6,1301.2 712.5,1303.1 718.5,1305.1 724.5,1307.1 730.5,1308.6 736.5,1309.7 742.5,1310.4 748.4,1311 754.4,1311.7 760.4,1312.5 766.4,1313.2 772.4,1314 778.4,1314.6 784.4,1315.1 790.3,1315.4 796.3,1315.6 802.3,1315.9 808.3,1316.1 814.3,1316.4 820.3,1316.6 826.2,1316.9 832.2,1317.1 838.2,1317.4 844.2,1317.6 850.2,1317.8 856.2,1317.9 862.2,1317.9 868.1,1317.9 874.1,1317.9 880.1,1317.9 886.1,1317.9 892.1,1317.8 898.1,1317.8 904,1317.8 910,1317.8 916,1317.8 922,1317.8 922,1360.2 916,1360.1 910,1359.9 904,1359.7 898.1,1359.5 892.1,1359.4 886.1,1359.2 880.1,1359 874.1,1358.8 868.1,1358.7 862.2,1358.5 856.2,1358.3 850.2,1358.1 844.2,1357.7 838.2,1357.3 832.2,1356.9 826.2,1356.4 820.3,1356 814.3,1355.6 808.3,1355.1 802.3,1354.7 796.3,1354.3 790.3,1353.8 784.4,1353.4 778.4,1352.7 772.4,1351.9 766.4,1351 760.4,1350.1 754.4,1349.1 748.4,1348.2 742.5,1347.1 736.5,1346.1 730.5,1344.8 724.5,1343 718.5,1340.9 712.5,1338.6 706.6,1336.4 700.6,1334.2 694.6,1331.9 688.6,1329.1 682.6,1325.8 676.6,1322.3 670.7,1318.7 664.7,1315.1 658.7,1311.5 652.7,1307.7 646.7,1303.8 640.7,1299.9 634.7,1295.9 628.8,1292 622.8,1288 616.8,1284 610.8,1280.1 604.8,1276.1 598.8,1272.2 592.9,1268.4 586.9,1264.6 580.9,1260.7 574.9,1256.8 568.9,1252.9 562.9,1248.8 556.9,1244.6 551,1240.5 545,1236.3 539,1231.7 533,1226.8 527,1221.5 521,1216.3 515.1,1211 509.1,1205.8 503.1,1200.5 497.1,1195.3 491.1,1190 485.1,1184.7 479.1,1179.5 473.2,1174.2 467.2,1169 461.2,1163.8 455.2,1158.7 449.2,1153.8 443.2,1148.8 437.3,1143.9 431.3,1138.9 425.3,1134 419.3,1129.1 413.3,1124.3 407.3,1119.5 401.3,1114.6 395.4,1109.8 389.4,1105 383.4,1100.1 377.4,1095 371.4,1089.7 365.4,1084.4 359.5,1079 353.5,1073.7 347.5,1068.3 341.5,1062.9 335.5,1057.6 329.5,1052.1 323.6,1046.7 317.6,1041.2 311.6,1035.7 305.6,1030.2 299.6,1025 293.6,1019.8 287.6,1014.9 281.7,1009.9 275.7,1005 269.7,1000.1 263.7,995.1 257.7,990.2 251.7,985.2 245.8,980.3 239.8,975.3 233.8,970.4 227.8,965.4 221.8,960.5 215.8,955.6 209.8,950.7 203.9,945.9 197.9,941.1 191.9,936.2 185.9,931.1 179.9,926 173.9,920.8 168,915.6 162,911.5 156,909.2 150,908.6" fill="#0cadbc"/>
<polygon points="150,882 156,882.6 162,884.9 168,888.9 173.9,894 179.9,899.2 185.9,904.3 191.9,909.3 197.9,914.2 203.9,918.9 209.8,923.7 215.8,928.5 221.8,933.4 227.8,938.3 233.8,943.2 239.8,948.1 245.8,953 251.7,957.9 257.7,962.9 263.7,967.8 269.7,972.7 275.7,977.6 281.7,982.5 287.6,987.4 293.6,992.3 299.6,997.4 305.6,1002.6 311.6,1008.1 317.6,1013.5 323.6,1018.9 329.5,1024.4 335.5,1029.7 341.5,1035.1 347.5,1040.4 353.5,1045.7 359.5,1051 365.4,1056.3 371.4,1061.7 377.4,1066.9 383.4,1071.9 389.4,1076.8 395.4,1081.6 401.3,1086.4 407.3,1091.2 413.3,1096 419.3,1100.8 425.3,1105.6 431.3,1110.5 437.3,1115.4 443.2,1120.3 449.2,1125.2 455.2,1130.1 461.2,1135.1 467.2,1140.3 473.2,1145.5 479.1,1150.7 485.1,1155.9 491.1,1161.1 497.1,1166.4 503.1,1171.6 509.1,1176.8 515.1,1182 521,1187.2 527,1192.4 533,1197.7 539,1202.6 545,1207.1 551,1211.3 556.9,1215.4 562.9,1219.4 568.9,1223.5 574.9,1227.4 580.9,1231.3 586.9,1235.1 592.9,1238.9 598.8,1242.6 604.8,1246.4 610.8,1250 616.8,1253.8 622.8,1257.5 628.8,1261.2 634.7,1264.9 640.7,1268.6 646.7,1272.3 652.7,1275.9 658.7,1279.3 664.7,1282.6 670.7,1285.9 676.6,1289.2 682.6,1292.4 688.6,1295.3 694.6,1297.8 700.6,1299.9 706.6,1301.8 712.5,1303.8 718.5,1305.8 724.5,1307.7 730.5,1309.3 736.5,1310.4 742.5,1311.1 748.4,1311.8 754.4,1312.5 760.4,1313.3 766.4,1314 772.4,1314.8 778.4,1315.4 784.4,1315.9 790.3,1316.2 796.3,1316.4 802.3,1316.7 808.3,1316.9 814.3,1317.2 820.3,1317.5 826.2,1317.7 832.2,1318 838.2,1318.2 844.2,1318.5 850.2,1318.6 856.2,1318.7 862.2,1318.7 868.1,1318.7 874.1,1318.7 880.1,1318.7 886.1,1318.7 892.1,1318.7 898.1,1318.7 904,1318.7 910,1318.7 916,1318.7 922,1318.7 922,1359.3 916,1359.2 910,1359 904,1358.8 898.1,1358.7 892.1,1358.5 886.1,1358.3 880.1,1358.1 874.1,1358 868.1,1357.8 862.2,1357.6 856.2,1357.5 850.2,1357.2 844.2,1356.9 838.2,1356.4 832.2,1356 826.2,1355.6 820.3,1355.1 814.3,1354.7 808.3,1354.3 802.3,1353.9 796.3,1353.4 790.3,1353 784.4,1352.5 778.4,1351.9 772.4,1351.1 766.4,1350.2 760.4,1349.2 754.4,1348.3 748.4,1347.4 742.5,1346.4 736.5,1345.5 730.5,1344.1 724.5,1342.4 718.5,1340.2 712.5,1338 706.6,1335.7 700.6,1333.5 694.6,1331.2 688.6,1328.4 682.6,1325.1 676.6,1321.6 670.7,1318 664.7,1314.4 658.7,1310.8 652.7,1307 646.7,1303.1 640.7,1299.2 634.7,1295.2 628.8,1291.2 622.8,1287.3 616.8,1283.3 610.8,1279.4 604.8,1275.4 598.8,1271.5 592.9,1267.7 586.9,1263.9 580.9,1260 574.9,1256.1 568.9,1252.2 562.9,1248.1 556.9,1243.9 551,1239.8 545,1235.6 539,1231 533,1226.1 527,1220.8 521,1215.6 515.1,1210.3 509.1,1205.1 503.1,1199.8 497.1,1194.6 491.1,1189.3 485.1,1184.1 479.1,1178.8 473.2,1173.5 467.2,1168.3 461.2,1163.1 455.2,1158 449.2,1153.1 443.2,1148.1 437.3,1143.2 431.3,1138.2 425.3,1133.3 419.3,1128.5 413.3,1123.6 407.3,1118.8 401.3,1114 395.4,1109.1 389.4,1104.3 383.4,1099.4 377.4,1094.3 371.4,1089.1 365.4,1083.7 359.5,1078.3 353.5,1073 347.5,1067.6 341.5,1062.3 335.5,1056.9 329.5,1051.5 323.6,1046 317.6,1040.5 311.6,1035.1 305.6,1029.6 299.6,1024.3 293.6,1019.2 287.6,1014.2 281.7,1009.3 275.7,1004.4 269.7,999.4 263.7,994.5 257.7,989.5 251.7,984.6 245.8,979.6 239.8,974.7 233.8,969.7 227.8,964.8 221.8,959.8 215.8,954.9 209.8,950.1 203.9,945.2 197.9,940.4 191.9,935.5 185.9,930.5 179.9,925.3 173.9,920.1 168,914.9 162,910.9 156,908.6 150,908" fill="#1cb3af"/>
<polygon points="150,882.7 156,883.2 162,885.5 168,889.5 173.9,894.7 179.9,899.8 185.9,905 191.9,909.9 197.9,914.8 203.9,919.6 209.8,924.3 215.8,929.2 221.8,934 227.8,939 233.8,943.9 239.8,948.8 245.8,953.7 251.7,958.6 257.7,963.5 263.7,968.4 269.7,973.3 275.7,978.2 281.7,983.1 287.6,988.1 293.6,993 299.6,998 305.6,1003.3 311.6,1008.7 317.6,1014.2 323.6,1019.6 329.5,1025 335.5,1030.4 341.5,1035.7 347.5,1041.1 353.5,1046.4 359.5,1051.7 365.4,1057 371.4,1062.3 377.4,1067.5 383.4,1072.6 389.4,1077.5 395.4,1082.3 401.3,1087 407.3,1091.8 413.3,1096.6 419.3,1101.4 425.3,1106.3 431.3,1111.1 437.3,1116 443.2,1120.9 449.2,1125.9 455.2,1130.8 461.2,1135.8 467.2,1141 473.2,1146.2 479.1,1151.4 485.1,1156.6 491.1,1161.8 497.1,1167 503.1,1172.3 509.1,1177.5 515.1,1182.7 521,1187.9 527,1193.1 533,1198.4 539,1203.3 545,1207.8 551,1211.9 556.9,1216 562.9,1220.1 568.9,1224.2 574.9,1228.1 580.9,1232 586.9,1235.8 592.9,1239.6 598.8,1243.3 604.8,1247.1 610.8,1250.8 616.8,1254.5 622.8,1258.2 628.8,1261.9 634.7,1265.6 640.7,1269.3 646.7,1273 652.7,1276.6 658.7,1280 664.7,1283.3 670.7,1286.6 676.6,1289.9 682.6,1293.1 688.6,1296 694.6,1298.5 700.6,1300.6 706.6,1302.5 712.5,1304.5 718.5,1306.5 724.5,1308.4 730.5,1309.9 736.5,1311 742.5,1311.8 748.4,1312.5 754.4,1313.2 760.4,1314 766.4,1314.7 772.4,1315.5 778.4,1316.1 784.4,1316.6 790.3,1316.9 796.3,1317.1 802.3,1317.4 808.3,1317.6 814.3,1317.9 820.3,1318.1 826.2,1318.4 832.2,1318.7 838.2,1318.9 844.2,1319.2 850.2,1319.3 856.2,1319.4 862.2,1319.4 868.1,1319.4 874.1,1319.4 880.1,1319.4 886.1,1319.4 892.1,1319.4 898.1,1319.4 904,1319.4 910,1319.4 916,1319.4 922,1319.4 922,1358.6 916,1358.5 910,1358.3 904,1358.1 898.1,1358 892.1,1357.8 886.1,1357.6 880.1,1357.4 874.1,1357.3 868.1,1357.1 862.2,1356.9 856.2,1356.8 850.2,1356.5 844.2,1356.2 838.2,1355.7 832.2,1355.3 826.2,1354.9 820.3,1354.5 814.3,1354 808.3,1353.6 802.3,1353.2 796.3,1352.7 790.3,1352.3 784.4,1351.8 778.4,1351.2 772.4,1350.4 766.4,1349.5 760.4,1348.5 754.4,1347.6 748.4,1346.7 742.5,1345.7 736.5,1344.8 730.5,1343.4 724.5,1341.7 718.5,1339.5 712.5,1337.3 706.6,1335.1 700.6,1332.8 694.6,1330.5 688.6,1327.7 682.6,1324.4 676.6,1320.9 670.7,1317.3 664.7,1313.7 658.7,1310.1 652.7,1306.3 646.7,1302.4 640.7,1298.5 634.7,1294.5 628.8,1290.5 622.8,1286.6 616.8,1282.6 610.8,1278.7 604.8,1274.7 598.8,1270.8 592.9,1267 586.9,1263.2 580.9,1259.3 574.9,1255.5 568.9,1251.5 562.9,1247.4 556.9,1243.3 551,1239.1 545,1234.9 539,1230.4 533,1225.4 527,1220.2 521,1214.9 515.1,1209.6 509.1,1204.4 503.1,1199.1 497.1,1193.9 491.1,1188.6 485.1,1183.4 479.1,1178.1 473.2,1172.9 467.2,1167.6 461.2,1162.4 455.2,1157.4 449.2,1152.4 443.2,1147.5 437.3,1142.5 431.3,1137.6 425.3,1132.7 419.3,1127.8 413.3,1123 407.3,1118.1 401.3,1113.3 395.4,1108.5 389.4,1103.6 383.4,1098.7 377.4,1093.6 371.4,1088.4 365.4,1083 359.5,1077.7 353.5,1072.3 347.5,1067 341.5,1061.6 335.5,1056.2 329.5,1050.8 323.6,1045.4 317.6,1039.9 311.6,1034.4 305.6,1028.9 299.6,1023.7 293.6,1018.5 287.6,1013.6 281.7,1008.7 275.7,1003.7 269.7,998.8 263.7,993.8 257.7,988.9 251.7,983.9 245.8,979 239.8,974 233.8,969.1 227.8,964.1 221.8,959.2 215.8,954.3 209.8,949.4 203.9,944.6 197.9,939.8 191.9,934.9 185.9,929.9 179.9,924.7 173.9,919.5 168,914.3 162,910.3 156,907.9 150,907.3" fill="#33b8a1"/>
<polygon points="150,883.3 156,883.8 162,886.1 168,890.1 173.9,895.3 179.9,900.5 185.9,905.6 191.9,910.6 197.9,915.4 203.9,920.2 209.8,925 215.8,929.8 221.8,934.7 227.8,939.6 233.8,944.5 239.8,949.4 245.8,954.3 251.7,959.2 257.7,964.1 263.7,969.1 269.7,974 275.7,978.9 281.7,983.8 287.6,988.7 293.6,993.6 299.6,998.7 305.6,1003.9 311.6,1009.4 317.6,1014.8 323.6,1020.2 329.5,1025.7 335.5,1031.1 341.5,1036.4 347.5,1041.7 353.5,1047 359.5,1052.4 365.4,1057.7 371.4,1063 377.4,1068.2 383.4,1073.3 389.4,1078.1 395.4,1082.9 401.3,1087.7 407.3,1092.5 413.3,1097.3 419.3,1102.1 425.3,1106.9 431.3,1111.8 437.3,1116.7 443.2,1121.6 449.2,1126.5 455.2,1131.5 461.2,1136.5 467.2,1141.6 473.2,1146.9 479.1,1152.1 485.1,1157.3 491.1,1162.5 497.1,1167.7 503.1,1172.9 509.1,1178.2 515.1,1183.4 521,1188.6 527,1193.8 533,1199 539,1203.9 545,1208.5 551,1212.6 556.9,1216.7 562.9,1220.8 568.9,1224.9 574.9,1228.8 580.9,1232.7 586.9,1236.5 592.9,1240.3 598.8,1244 604.8,1247.8 610.8,1251.5 616.8,1255.2 622.8,1258.9 628.8,1262.6 634.7,1266.3 640.7,1270 646.7,1273.7 652.7,1277.3 658.7,1280.7 664.7,1284 670.7,1287.3 676.6,1290.6 682.6,1293.8 688.6,1296.7 694.6,1299.2 700.6,1301.3 706.6,1303.2 712.5,1305.2 718.5,1307.2 724.5,1309.1 730.5,1310.6 736.5,1311.7 742.5,1312.4 748.4,1313.1 754.4,1313.9 760.4,1314.6 766.4,1315.4 772.4,1316.1 778.4,1316.8 784.4,1317.2 790.3,1317.5 796.3,1317.8 802.3,1318.1 808.3,1318.3 814.3,1318.6 820.3,1318.8 826.2,1319.1 832.2,1319.3 838.2,1319.6 844.2,1319.8 850.2,1320 856.2,1320.1 862.2,1320.1 868.1,1320.1 874.1,1320.1 880.1,1320.1 886.1,1320.1 892.1,1320.1 898.1,1320.1 904,1320.1 910,1320.1 916,1320.1 922,1320.1 922,1357.9 916,1357.8 910,1357.6 904,1357.4 898.1,1357.3 892.1,1357.1 886.1,1356.9 880.1,1356.8 874.1,1356.6 868.1,1356.4 862.2,1356.2 856.2,1356.1 850.2,1355.8 844.2,1355.5 838.2,1355.1 832.2,1354.6 826.2,1354.2 820.3,1353.8 814.3,1353.3 808.3,1352.9 802.3,1352.5 796.3,1352.1 790.3,1351.6 784.4,1351.2 778.4,1350.5 772.4,1349.7 766.4,1348.8 760.4,1347.9 754.4,1346.9 748.4,1346 742.5,1345.1 736.5,1344.1 730.5,1342.8 724.5,1341 718.5,1338.8 712.5,1336.6 706.6,1334.4 700.6,1332.2 694.6,1329.8 688.6,1327 682.6,1323.7 676.6,1320.2 670.7,1316.6 664.7,1313 658.7,1309.4 652.7,1305.6 646.7,1301.7 640.7,1297.7 634.7,1293.8 628.8,1289.8 622.8,1285.9 616.8,1281.9 610.8,1278 604.8,1274 598.8,1270.1 592.9,1266.3 586.9,1262.5 580.9,1258.6 574.9,1254.8 568.9,1250.8 562.9,1246.7 556.9,1242.6 551,1238.4 545,1234.2 539,1229.7 533,1224.7 527,1219.5 521,1214.2 515.1,1209 509.1,1203.7 503.1,1198.5 497.1,1193.2 491.1,1187.9 485.1,1182.7 479.1,1177.4 473.2,1172.2 467.2,1166.9 461.2,1161.8 455.2,1156.7 449.2,1151.7 443.2,1146.8 437.3,1141.8 431.3,1136.9 425.3,1132 419.3,1127.1 413.3,1122.3 407.3,1117.5 401.3,1112.6 395.4,1107.8 389.4,1103 383.4,1098.1 377.4,1093 371.4,1087.7 365.4,1082.4 359.5,1077 353.5,1071.7 347.5,1066.3 341.5,1061 335.5,1055.6 329.5,1050.2 323.6,1044.7 317.6,1039.2 311.6,1033.8 305.6,1028.3 299.6,1023 293.6,1017.9 287.6,1012.9 281.7,1008 275.7,1003.1 269.7,998.1 263.7,993.2 257.7,988.2 251.7,983.3 245.8,978.3 239.8,973.4 233.8,968.4 227.8,963.5 221.8,958.5 215.8,953.6 209.8,948.8 203.9,944 197.9,939.2 191.9,934.3 185.9,929.2 179.9,924.1 173.9,918.9 168,913.7 162,909.6 156,907.3 150,906.7" fill="#4ebc91"/>
<polygon points="150,883.9 156,884.5 162,886.7 168,890.8 173.9,895.9 179.9,901.1 185.9,906.2 191.9,911.2 197.9,916.1 203.9,920.8 209.8,925.6 215.8,930.4 221.8,935.3 227.8,940.2 233.8,945.1 239.8,950.1 245.8,955 251.7,959.9 257.7,964.8 263.7,969.7 269.7,974.6 275.7,979.5 281.7,984.4 287.6,989.4 293.6,994.3 299.6,999.3 305.6,1004.6 311.6,1010 317.6,1015.5 323.6,1020.9 329.5,1026.3 335.5,1031.7 341.5,1037.1 347.5,1042.4 353.5,1047.7 359.5,1053 365.4,1058.3 371.4,1063.7 377.4,1068.9 383.4,1073.9 389.4,1078.8 395.4,1083.6 401.3,1088.4 407.3,1093.2 413.3,1098 419.3,1102.8 425.3,1107.6 431.3,1112.5 437.3,1117.4 443.2,1122.3 449.2,1127.2 455.2,1132.1 461.2,1137.2 467.2,1142.3 473.2,1147.5 479.1,1152.8 485.1,1158 491.1,1163.2 497.1,1168.4 503.1,1173.6 509.1,1178.9 515.1,1184.1 521,1189.3 527,1194.5 533,1199.7 539,1204.6 545,1209.2 551,1213.3 556.9,1217.4 562.9,1221.5 568.9,1225.6 574.9,1229.5 580.9,1233.4 586.9,1237.2 592.9,1241 598.8,1244.7 604.8,1248.5 610.8,1252.2 616.8,1255.9 622.8,1259.6 628.8,1263.3 634.7,1267 640.7,1270.7 646.7,1274.4 652.7,1278 658.7,1281.4 664.7,1284.8 670.7,1288 676.6,1291.3 682.6,1294.5 688.6,1297.4 694.6,1299.9 700.6,1301.9 706.6,1303.9 712.5,1305.9 718.5,1307.8 724.5,1309.8 730.5,1311.3 736.5,1312.4 742.5,1313.1 748.4,1313.8 754.4,1314.6 760.4,1315.3 766.4,1316.1 772.4,1316.8 778.4,1317.5 784.4,1317.9 790.3,1318.2 796.3,1318.5 802.3,1318.7 808.3,1319 814.3,1319.3 820.3,1319.5 826.2,1319.8 832.2,1320 838.2,1320.3 844.2,1320.5 850.2,1320.7 856.2,1320.8 862.2,1320.8 868.1,1320.8 874.1,1320.8 880.1,1320.8 886.1,1320.8 892.1,1320.8 898.1,1320.8 904,1320.8 910,1320.8 916,1320.8 922,1320.8 922,1357.2 916,1357.1 910,1356.9 904,1356.7 898.1,1356.6 892.1,1356.4 886.1,1356.2 880.1,1356.1 874.1,1355.9 868.1,1355.7 862.2,1355.6 856.2,1355.4 850.2,1355.1 844.2,1354.8 838.2,1354.4 832.2,1353.9 826.2,1353.5 820.3,1353.1 814.3,1352.7 808.3,1352.2 802.3,1351.8 796.3,1351.4 790.3,1351 784.4,1350.5 778.4,1349.8 772.4,1349 766.4,1348.1 760.4,1347.2 754.4,1346.3 748.4,1345.3 742.5,1344.4 736.5,1343.4 730.5,1342.1 724.5,1340.3 718.5,1338.1 712.5,1335.9 706.6,1333.7 700.6,1331.5 694.6,1329.1 688.6,1326.3 682.6,1323.1 676.6,1319.5 670.7,1315.9 664.7,1312.3 658.7,1308.7 652.7,1304.9 646.7,1301 640.7,1297 634.7,1293.1 628.8,1289.1 622.8,1285.2 616.8,1281.2 610.8,1277.3 604.8,1273.3 598.8,1269.4 592.9,1265.6 586.9,1261.8 580.9,1257.9 574.9,1254.1 568.9,1250.1 562.9,1246 556.9,1241.9 551,1237.7 545,1233.5 539,1229 533,1224 527,1218.8 521,1213.5 515.1,1208.3 509.1,1203 503.1,1197.8 497.1,1192.5 491.1,1187.3 485.1,1182 479.1,1176.8 473.2,1171.5 467.2,1166.2 461.2,1161.1 455.2,1156 449.2,1151 443.2,1146.1 437.3,1141.2 431.3,1136.2 425.3,1131.3 419.3,1126.4 413.3,1121.6 407.3,1116.8 401.3,1112 395.4,1107.1 389.4,1102.3 383.4,1097.4 377.4,1092.3 371.4,1087.1 365.4,1081.7 359.5,1076.4 353.5,1071 347.5,1065.7 341.5,1060.3 335.5,1054.9 329.5,1049.5 323.6,1044 317.6,1038.6 311.6,1033.1 305.6,1027.6 299.6,1022.4 293.6,1017.2 287.6,1012.3 281.7,1007.4 275.7,1002.4 269.7,997.5 263.7,992.5 257.7,987.6 251.7,982.6 245.8,977.7 239.8,972.7 233.8,967.8 227.8,962.8 221.8,957.9 215.8,953 209.8,948.1 203.9,943.3 197.9,938.5 191.9,933.6 185.9,928.6 179.9,923.4 173.9,918.2 168,913 162,909 156,906.7 150,906.1" fill="#6dbf82"/>
<polygon points="150,884.5 156,885.1 162,887.4 168,891.4 173.9,896.6 179.9,901.7 185.9,906.9 191.9,911.8 197.9,916.7 203.9,921.5 209.8,926.3 215.8,931.1 221.8,936 227.8,940.9 233.8,945.8 239.8,950.7 245.8,955.6 251.7,960.5 257.7,965.4 263.7,970.4 269.7,975.3 275.7,980.2 281.7,985.1 287.6,990 293.6,994.9 299.6,1000 305.6,1005.2 311.6,1010.7 317.6,1016.1 323.6,1021.6 329.5,1027 335.5,1032.4 341.5,1037.7 347.5,1043 353.5,1048.4 359.5,1053.7 365.4,1059 371.4,1064.3 377.4,1069.5 383.4,1074.6 389.4,1079.5 395.4,1084.3 401.3,1089.1 407.3,1093.9 413.3,1098.6 419.3,1103.4 425.3,1108.3 431.3,1113.1 437.3,1118.1 443.2,1123 449.2,1127.9 455.2,1132.8 461.2,1137.9 467.2,1143 473.2,1148.2 479.1,1153.4 485.1,1158.7 491.1,1163.9 497.1,1169.1 503.1,1174.3 509.1,1179.5 515.1,1184.8 521,1190 527,1195.2 533,1200.4 539,1205.3 545,1209.9 551,1214 556.9,1218.1 562.9,1222.2 568.9,1226.3 574.9,1230.2 580.9,1234.1 586.9,1237.9 592.9,1241.7 598.8,1245.4 604.8,1249.2 610.8,1252.9 616.8,1256.6 622.8,1260.3 628.8,1264 634.7,1267.7 640.7,1271.4 646.7,1275.1 652.7,1278.7 658.7,1282.2 664.7,1285.5 670.7,1288.7 676.6,1292 682.6,1295.2 688.6,1298.1 694.6,1300.6 700.6,1302.6 706.6,1304.6 712.5,1306.6 718.5,1308.5 724.5,1310.5 730.5,1312 736.5,1313.1 742.5,1313.8 748.4,1314.5 754.4,1315.2 760.4,1316 766.4,1316.8 772.4,1317.5 778.4,1318.1 784.4,1318.6 790.3,1318.9 796.3,1319.2 802.3,1319.4 808.3,1319.7 814.3,1319.9 820.3,1320.2 826.2,1320.5 832.2,1320.7 838.2,1321 844.2,1321.2 850.2,1321.4 856.2,1321.5 862.2,1321.5 868.1,1321.5 874.1,1321.5 880.1,1321.5 886.1,1321.5 892.1,1321.5 898.1,1321.5 904,1321.5 910,1321.5 916,1321.5 922,1321.5 922,1356.5 916,1356.4 910,1356.2 904,1356 898.1,1355.9 892.1,1355.7 886.1,1355.5 880.1,1355.4 874.1,1355.2 868.1,1355 862.2,1354.9 856.2,1354.7 850.2,1354.4 844.2,1354.1 838.2,1353.7 832.2,1353.3 826.2,1352.8 820.3,1352.4 814.3,1352 808.3,1351.6 802.3,1351.1 796.3,1350.7 790.3,1350.3 784.4,1349.8 778.4,1349.2 772.4,1348.4 766.4,1347.4 760.4,1346.5 754.4,1345.6 748.4,1344.7 742.5,1343.7 736.5,1342.7 730.5,1341.4 724.5,1339.6 718.5,1337.4 712.5,1335.2 706.6,1333 700.6,1330.8 694.6,1328.4 688.6,1325.6 682.6,1322.4 676.6,1318.8 670.7,1315.2 664.7,1311.6 658.7,1308 652.7,1304.2 646.7,1300.3 640.7,1296.3 634.7,1292.4 628.8,1288.4 622.8,1284.5 616.8,1280.5 610.8,1276.6 604.8,1272.6 598.8,1268.7 592.9,1264.9 586.9,1261.1 580.9,1257.2 574.9,1253.4 568.9,1249.4 562.9,1245.3 556.9,1241.2 551,1237 545,1232.9 539,1228.3 533,1223.3 527,1218.1 521,1212.8 515.1,1207.6 509.1,1202.3 503.1,1197.1 497.1,1191.8 491.1,1186.6 485.1,1181.3 479.1,1176.1 473.2,1170.8 467.2,1165.6 461.2,1160.4 455.2,1155.3 449.2,1150.4 443.2,1145.4 437.3,1140.5 431.3,1135.5 425.3,1130.6 419.3,1125.8 413.3,1120.9 407.3,1116.1 401.3,1111.3 395.4,1106.5 389.4,1101.6 383.4,1096.7 377.4,1091.6 371.4,1086.4 365.4,1081 359.5,1075.7 353.5,1070.3 347.5,1065 341.5,1059.7 335.5,1054.3 329.5,1048.8 323.6,1043.4 317.6,1037.9 311.6,1032.4 305.6,1027 299.6,1021.7 293.6,1016.6 287.6,1011.6 281.7,1006.7 275.7,1001.8 269.7,996.8 263.7,991.9 257.7,986.9 251.7,982 245.8,977 239.8,972.1 233.8,967.2 227.8,962.2 221.8,957.3 215.8,952.4 209.8,947.5 203.9,942.7 197.9,937.9 191.9,933 185.9,928 179.9,922.8 173.9,917.6 168,912.4 162,908.4 156,906 150,905.5" fill="#89bf76"/>
<polygon points="150,885.2 156,885.7 162,888 168,892 173.9,897.2 179.9,902.4 185.9,907.5 191.9,912.5 197.9,917.3 203.9,922.1 209.8,926.9 215.8,931.7 221.8,936.6 227.8,941.5 233.8,946.4 239.8,951.3 245.8,956.3 251.7,961.2 257.7,966.1 263.7,971 269.7,975.9 275.7,980.8 281.7,985.7 287.6,990.7 293.6,995.6 299.6,1000.6 305.6,1005.9 311.6,1011.3 317.6,1016.8 323.6,1022.2 329.5,1027.6 335.5,1033 341.5,1038.4 347.5,1043.7 353.5,1049 359.5,1054.3 365.4,1059.7 371.4,1065 377.4,1070.2 383.4,1075.3 389.4,1080.1 395.4,1084.9 401.3,1089.7 407.3,1094.5 413.3,1099.3 419.3,1104.1 425.3,1109 431.3,1113.8 437.3,1118.7 443.2,1123.6 449.2,1128.6 455.2,1133.5 461.2,1138.5 467.2,1143.7 473.2,1148.9 479.1,1154.1 485.1,1159.3 491.1,1164.6 497.1,1169.8 503.1,1175 509.1,1180.2 515.1,1185.4 521,1190.7 527,1195.9 533,1201.1 539,1206 545,1210.6 551,1214.7 556.9,1218.8 562.9,1222.9 568.9,1227 574.9,1230.9 580.9,1234.8 586.9,1238.6 592.9,1242.4 598.8,1246.1 604.8,1249.9 610.8,1253.6 616.8,1257.3 622.8,1261 628.8,1264.7 634.7,1268.4 640.7,1272.1 646.7,1275.8 652.7,1279.4 658.7,1282.9 664.7,1286.2 670.7,1289.4 676.6,1292.7 682.6,1295.9 688.6,1298.8 694.6,1301.3 700.6,1303.3 706.6,1305.3 712.5,1307.3 718.5,1309.2 724.5,1311.1 730.5,1312.7 736.5,1313.8 742.5,1314.5 748.4,1315.2 754.4,1315.9 760.4,1316.7 766.4,1317.4 772.4,1318.2 778.4,1318.8 784.4,1319.3 790.3,1319.6 796.3,1319.8 802.3,1320.1 808.3,1320.4 814.3,1320.6 820.3,1320.9 826.2,1321.1 832.2,1321.4 838.2,1321.7 844.2,1321.9 850.2,1322.1 856.2,1322.2 862.2,1322.2 868.1,1322.2 874.1,1322.2 880.1,1322.2 886.1,1322.2 892.1,1322.2 898.1,1322.2 904,1322.2 910,1322.2 916,1322.2 922,1322.2 922,1355.8 916,1355.7 910,1355.5 904,1355.3 898.1,1355.2 892.1,1355 886.1,1354.8 880.1,1354.7 874.1,1354.5 868.1,1354.3 862.2,1354.2 856.2,1354 850.2,1353.8 844.2,1353.4 838.2,1353 832.2,1352.6 826.2,1352.1 820.3,1351.7 814.3,1351.3 808.3,1350.9 802.3,1350.4 796.3,1350 790.3,1349.6 784.4,1349.1 778.4,1348.5 772.4,1347.7 766.4,1346.8 760.4,1345.8 754.4,1344.9 748.4,1344 742.5,1343 736.5,1342.1 730.5,1340.7 724.5,1338.9 718.5,1336.8 712.5,1334.5 706.6,1332.3 700.6,1330.1 694.6,1327.7 688.6,1324.9 682.6,1321.7 676.6,1318.1 670.7,1314.5 664.7,1310.9 658.7,1307.2 652.7,1303.5 646.7,1299.6 640.7,1295.6 634.7,1291.7 628.8,1287.7 622.8,1283.8 616.8,1279.8 610.8,1275.9 604.8,1271.9 598.8,1268 592.9,1264.2 586.9,1260.4 580.9,1256.5 574.9,1252.7 568.9,1248.7 562.9,1244.6 556.9,1240.5 551,1236.4 545,1232.2 539,1227.6 533,1222.7 527,1217.4 521,1212.2 515.1,1206.9 509.1,1201.6 503.1,1196.4 497.1,1191.1 491.1,1185.9 485.1,1180.6 479.1,1175.4 473.2,1170.1 467.2,1164.9 461.2,1159.7 455.2,1154.7 449.2,1149.7 443.2,1144.7 437.3,1139.8 431.3,1134.9 425.3,1130 419.3,1125.1 413.3,1120.3 407.3,1115.4 401.3,1110.6 395.4,1105.8 389.4,1101 383.4,1096.1 377.4,1091 371.4,1085.7 365.4,1080.4 359.5,1075 353.5,1069.7 347.5,1064.3 341.5,1059 335.5,1053.6 329.5,1048.2 323.6,1042.7 317.6,1037.3 311.6,1031.8 305.6,1026.3 299.6,1021 293.6,1015.9 287.6,1011 281.7,1006.1 275.7,1001.1 269.7,996.2 263.7,991.2 257.7,986.3 251.7,981.3 245.8,976.4 239.8,971.5 233.8,966.5 227.8,961.6 221.8,956.6 215.8,951.7 209.8,946.9 203.9,942.1 197.9,937.3 191.9,932.4 185.9,927.3 179.9,922.2 173.9,917 168,911.8 162,907.7 156,905.4 150,904.8" fill="#a3be6c"/>
<polygon points="150,885.8 156,886.3 162,888.6 168,892.6 173.9,897.8 179.9,903 185.9,908.1 191.9,913.1 197.9,918 203.9,922.8 209.8,927.5 215.8,932.4 221.8,937.2 227.8,942.2 233.8,947.1 239.8,952 245.8,956.9 251.7,961.8 257.7,966.7 263.7,971.6 269.7,976.6 275.7,981.5 281.7,986.4 287.6,991.3 293.6,996.2 299.6,1001.3 305.6,1006.6 311.6,1012 317.6,1017.4 323.6,1022.9 329.5,1028.3 335.5,1033.7 341.5,1039 347.5,1044.4 353.5,1049.7 359.5,1055 365.4,1060.3 371.4,1065.6 377.4,1070.9 383.4,1075.9 389.4,1080.8 395.4,1085.6 401.3,1090.4 407.3,1095.2 413.3,1100 419.3,1104.8 425.3,1109.6 431.3,1114.5 437.3,1119.4 443.2,1124.3 449.2,1129.2 455.2,1134.2 461.2,1139.2 467.2,1144.4 473.2,1149.6 479.1,1154.8 485.1,1160 491.1,1165.2 497.1,1170.5 503.1,1175.7 509.1,1180.9 515.1,1186.1 521,1191.4 527,1196.6 533,1201.8 539,1206.7 545,1211.3 551,1215.4 556.9,1219.5 562.9,1223.6 568.9,1227.7 574.9,1231.6 580.9,1235.5 586.9,1239.3 592.9,1243.1 598.8,1246.8 604.8,1250.6 610.8,1254.3 616.8,1258 622.8,1261.7 628.8,1265.4 634.7,1269.1 640.7,1272.8 646.7,1276.5 652.7,1280.1 658.7,1283.6 664.7,1286.9 670.7,1290.1 676.6,1293.4 682.6,1296.6 688.6,1299.5 694.6,1302 700.6,1304 706.6,1306 712.5,1307.9 718.5,1309.9 724.5,1311.8 730.5,1313.3 736.5,1314.4 742.5,1315.1 748.4,1315.9 754.4,1316.6 760.4,1317.3 766.4,1318.1 772.4,1318.9 778.4,1319.5 784.4,1320 790.3,1320.3 796.3,1320.5 802.3,1320.8 808.3,1321 814.3,1321.3 820.3,1321.6 826.2,1321.8 832.2,1322.1 838.2,1322.3 844.2,1322.6 850.2,1322.8 856.2,1322.9 862.2,1322.9 868.1,1322.9 874.1,1322.9 880.1,1322.9 886.1,1322.9 892.1,1322.9 898.1,1322.9 904,1322.9 910,1322.9 916,1322.9 922,1322.9 922,1355.1 916,1355 910,1354.8 904,1354.6 898.1,1354.5 892.1,1354.3 886.1,1354.1 880.1,1354 874.1,1353.8 868.1,1353.6 862.2,1353.5 856.2,1353.3 850.2,1353.1 844.2,1352.7 838.2,1352.3 832.2,1351.9 826.2,1351.5 820.3,1351 814.3,1350.6 808.3,1350.2 802.3,1349.8 796.3,1349.3 790.3,1348.9 784.4,1348.4 778.4,1347.8 772.4,1347 766.4,1346.1 760.4,1345.2 754.4,1344.2 748.4,1343.3 742.5,1342.3 736.5,1341.4 730.5,1340 724.5,1338.3 718.5,1336.1 712.5,1333.8 706.6,1331.6 700.6,1329.4 694.6,1327 688.6,1324.2 682.6,1321 676.6,1317.4 670.7,1313.8 664.7,1310.2 658.7,1306.5 652.7,1302.8 646.7,1298.9 640.7,1294.9 634.7,1291 628.8,1287 622.8,1283.1 616.8,1279.1 610.8,1275.2 604.8,1271.2 598.8,1267.3 592.9,1263.5 586.9,1259.7 580.9,1255.8 574.9,1252 568.9,1248 562.9,1243.9 556.9,1239.8 551,1235.7 545,1231.5 539,1226.9 533,1222 527,1216.7 521,1211.5 515.1,1206.2 509.1,1201 503.1,1195.7 497.1,1190.5 491.1,1185.2 485.1,1180 479.1,1174.7 473.2,1169.5 467.2,1164.2 461.2,1159 455.2,1154 449.2,1149 443.2,1144.1 437.3,1139.1 431.3,1134.2 425.3,1129.3 419.3,1124.4 413.3,1119.6 407.3,1114.8 401.3,1110 395.4,1105.1 389.4,1100.3 383.4,1095.4 377.4,1090.3 371.4,1085.1 365.4,1079.7 359.5,1074.4 353.5,1069 347.5,1063.7 341.5,1058.3 335.5,1053 329.5,1047.5 323.6,1042.1 317.6,1036.6 311.6,1031.1 305.6,1025.7 299.6,1020.4 293.6,1015.3 287.6,1010.3 281.7,1005.4 275.7,1000.5 269.7,995.5 263.7,990.6 257.7,985.6 251.7,980.7 245.8,975.8 239.8,970.8 233.8,965.9 227.8,960.9 221.8,956 215.8,951.1 209.8,946.2 203.9,941.4 197.9,936.6 191.9,931.7 185.9,926.7 179.9,921.5 173.9,916.3 168,911.1 162,907.1 156,904.8 150,904.2" fill="#babd62"/>
<polygon points="150,886.5 156,887.1 162,889.4 168,893.4 173.9,898.6 179.9,903.7 185.9,908.9 191.9,913.9 197.9,918.7 203.9,923.5 209.8,928.3 215.8,933.1 221.8,938 227.8,942.9 233.8,947.8 239.8,952.8 245.8,957.7 251.7,962.6 257.7,967.5 263.7,972.4 269.7,977.3 275.7,982.2 281.7,987.2 287.6,992.1 293.6,997 299.6,1002.1 305.6,1007.3 311.6,1012.8 317.6,1018.2 323.6,1023.7 329.5,1029.1 335.5,1034.5 341.5,1039.8 347.5,1045.2 353.5,1050.5 359.5,1055.8 365.4,1061.1 371.4,1066.4 377.4,1071.7 383.4,1076.7 389.4,1081.6 395.4,1086.4 401.3,1091.2 407.3,1096 413.3,1100.8 419.3,1105.6 425.3,1110.4 431.3,1115.3 437.3,1120.2 443.2,1125.1 449.2,1130 455.2,1135 461.2,1140 467.2,1145.2 473.2,1150.4 479.1,1155.6 485.1,1160.8 491.1,1166.1 497.1,1171.3 503.1,1176.5 509.1,1181.7 515.1,1187 521,1192.2 527,1197.4 533,1202.6 539,1207.5 545,1212.1 551,1216.2 556.9,1220.3 562.9,1224.4 568.9,1228.5 574.9,1232.4 580.9,1236.3 586.9,1240.1 592.9,1243.9 598.8,1247.7 604.8,1251.4 610.8,1255.1 616.8,1258.8 622.8,1262.6 628.8,1266.3 634.7,1270 640.7,1273.7 646.7,1277.4 652.7,1281 658.7,1284.4 664.7,1287.7 670.7,1290.9 676.6,1294.2 682.6,1297.4 688.6,1300.3 694.6,1302.7 700.6,1304.7 706.6,1306.7 712.5,1308.6 718.5,1310.6 724.5,1312.5 730.5,1314 736.5,1315.1 742.5,1315.8 748.4,1316.5 754.4,1317.3 760.4,1318 766.4,1318.8 772.4,1319.5 778.4,1320.2 784.4,1320.6 790.3,1321 796.3,1321.2 802.3,1321.5 808.3,1321.7 814.3,1322 820.3,1322.3 826.2,1322.5 832.2,1322.8 838.2,1323 844.2,1323.3 850.2,1323.5 856.2,1323.5 862.2,1323.6 868.1,1323.6 874.1,1323.6 880.1,1323.6 886.1,1323.6 892.1,1323.6 898.1,1323.6 904,1323.6 910,1323.6 916,1323.6 922,1323.6 922,1354.4 916,1354.3 910,1354.1 904,1353.9 898.1,1353.8 892.1,1353.6 886.1,1353.4 880.1,1353.3 874.1,1353.1 868.1,1353 862.2,1352.8 856.2,1352.6 850.2,1352.4 844.2,1352 838.2,1351.6 832.2,1351.2 826.2,1350.8 820.3,1350.3 814.3,1349.9 808.3,1349.5 802.3,1349.1 796.3,1348.7 790.3,1348.2 784.4,1347.8 778.4,1347.1 772.4,1346.3 766.4,1345.4 760.4,1344.5 754.4,1343.6 748.4,1342.6 742.5,1341.7 736.5,1340.7 730.5,1339.3 724.5,1337.6 718.5,1335.4 712.5,1333.2 706.6,1330.9 700.6,1328.7 694.6,1326.3 688.6,1323.5 682.6,1320.2 676.6,1316.6 670.7,1313 664.7,1309.3 658.7,1305.7 652.7,1301.9 646.7,1298 640.7,1294 634.7,1290.1 628.8,1286.1 622.8,1282.2 616.8,1278.3 610.8,1274.3 604.8,1270.4 598.8,1266.5 592.9,1262.6 586.9,1258.8 580.9,1255 574.9,1251.1 568.9,1247.2 562.9,1243.1 556.9,1239 551,1234.8 545,1230.6 539,1226.1 533,1221.1 527,1215.9 521,1210.6 515.1,1205.4 509.1,1200.1 503.1,1194.9 497.1,1189.6 491.1,1184.4 485.1,1179.1 479.1,1173.9 473.2,1168.6 467.2,1163.4 461.2,1158.2 455.2,1153.2 449.2,1148.2 443.2,1143.3 437.3,1138.3 431.3,1133.4 425.3,1128.5 419.3,1123.6 413.3,1118.8 407.3,1114 401.3,1109.2 395.4,1104.3 389.4,1099.5 383.4,1094.6 377.4,1089.5 371.4,1084.3 365.4,1078.9 359.5,1073.6 353.5,1068.2 347.5,1062.9 341.5,1057.5 335.5,1052.2 329.5,1046.7 323.6,1041.3 317.6,1035.8 311.6,1030.4 305.6,1024.9 299.6,1019.6 293.6,1014.5 287.6,1009.6 281.7,1004.6 275.7,999.7 269.7,994.7 263.7,989.8 257.7,984.9 251.7,979.9 245.8,975 239.8,970 233.8,965.1 227.8,960.2 221.8,955.2 215.8,950.3 209.8,945.5 203.9,940.7 197.9,935.9 191.9,931 185.9,925.9 179.9,920.8 173.9,915.6 168,910.4 162,906.3 156,904 150,903.5" fill="#d0bb59"/>
<polygon points="150,887.4 156,888 162,890.3 168,894.3 173.9,899.5 179.9,904.6 185.9,909.8 191.9,914.8 197.9,919.6 203.9,924.4 209.8,929.2 215.8,934 221.8,938.9 227.8,943.8 233.8,948.7 239.8,953.7 245.8,958.6 251.7,963.5 257.7,968.4 263.7,973.3 269.7,978.2 275.7,983.2 281.7,988.1 287.6,993 293.6,997.9 299.6,1003 305.6,1008.3 311.6,1013.7 317.6,1019.1 323.6,1024.6 329.5,1030 335.5,1035.4 341.5,1040.8 347.5,1046.1 353.5,1051.4 359.5,1056.7 365.4,1062.1 371.4,1067.4 377.4,1072.6 383.4,1077.7 389.4,1082.5 395.4,1087.3 401.3,1092.1 407.3,1096.9 413.3,1101.7 419.3,1106.5 425.3,1111.4 431.3,1116.3 437.3,1121.2 443.2,1126.1 449.2,1131 455.2,1135.9 461.2,1141 467.2,1146.1 473.2,1151.3 479.1,1156.6 485.1,1161.8 491.1,1167 497.1,1172.2 503.1,1177.5 509.1,1182.7 515.1,1187.9 521,1193.1 527,1198.4 533,1203.6 539,1208.5 545,1213.1 551,1217.2 556.9,1221.3 562.9,1225.4 568.9,1229.5 574.9,1233.4 580.9,1237.3 586.9,1241.1 592.9,1244.9 598.8,1248.7 604.8,1252.4 610.8,1256.1 616.8,1259.9 622.8,1263.6 628.8,1267.3 634.7,1271 640.7,1274.8 646.7,1278.5 652.7,1282.1 658.7,1285.5 664.7,1288.8 670.7,1292 676.6,1295.2 682.6,1298.5 688.6,1301.3 694.6,1303.8 700.6,1305.8 706.6,1307.7 712.5,1309.6 718.5,1311.6 724.5,1313.5 730.5,1314.9 736.5,1316 742.5,1316.7 748.4,1317.4 754.4,1318.1 760.4,1318.8 766.4,1319.6 772.4,1320.4 778.4,1321 784.4,1321.5 790.3,1321.8 796.3,1322.1 802.3,1322.3 808.3,1322.6 814.3,1322.8 820.3,1323.1 826.2,1323.4 832.2,1323.6 838.2,1323.9 844.2,1324.2 850.2,1324.3 856.2,1324.4 862.2,1324.4 868.1,1324.4 874.1,1324.4 880.1,1324.4 886.1,1324.4 892.1,1324.5 898.1,1324.5 904,1324.5 910,1324.5 916,1324.5 922,1324.5 922,1353.5 916,1353.4 910,1353.2 904,1353 898.1,1352.9 892.1,1352.7 886.1,1352.6 880.1,1352.4 874.1,1352.2 868.1,1352.1 862.2,1351.9 856.2,1351.7 850.2,1351.5 844.2,1351.2 838.2,1350.8 832.2,1350.3 826.2,1349.9 820.3,1349.5 814.3,1349.1 808.3,1348.7 802.3,1348.2 796.3,1347.8 790.3,1347.4 784.4,1346.9 778.4,1346.3 772.4,1345.5 766.4,1344.6 760.4,1343.7 754.4,1342.8 748.4,1341.8 742.5,1340.8 736.5,1339.8 730.5,1338.4 724.5,1336.6 718.5,1334.4 712.5,1332.1 706.6,1329.9 700.6,1327.6 694.6,1325.2 688.6,1322.4 682.6,1319.1 676.6,1315.5 670.7,1311.9 664.7,1308.3 658.7,1304.6 652.7,1300.8 646.7,1296.9 640.7,1293 634.7,1289 628.8,1285.1 622.8,1281.2 616.8,1277.2 610.8,1273.3 604.8,1269.4 598.8,1265.5 592.9,1261.7 586.9,1257.8 580.9,1254 574.9,1250.2 568.9,1246.2 562.9,1242.1 556.9,1238 551,1233.9 545,1229.7 539,1225.1 533,1220.2 527,1214.9 521,1209.7 515.1,1204.4 509.1,1199.2 503.1,1193.9 497.1,1188.7 491.1,1183.4 485.1,1178.2 479.1,1172.9 473.2,1167.7 467.2,1162.4 461.2,1157.3 455.2,1152.2 449.2,1147.3 443.2,1142.3 437.3,1137.4 431.3,1132.4 425.3,1127.5 419.3,1122.7 413.3,1117.9 407.3,1113 401.3,1108.2 395.4,1103.4 389.4,1098.6 383.4,1093.7 377.4,1088.6 371.4,1083.3 365.4,1078 359.5,1072.6 353.5,1067.3 347.5,1062 341.5,1056.6 335.5,1051.2 329.5,1045.8 323.6,1040.4 317.6,1034.9 311.6,1029.4 305.6,1024 299.6,1018.7 293.6,1013.6 287.6,1008.6 281.7,1003.7 275.7,998.8 269.7,993.8 263.7,988.9 257.7,984 251.7,979 245.8,974.1 239.8,969.1 233.8,964.2 227.8,959.3 221.8,954.3 215.8,949.4 209.8,944.6 203.9,939.8 197.9,935 191.9,930.1 185.9,925 179.9,919.9 173.9,914.7 168,909.5 162,905.5 156,903.1 150,902.6" fill="#e5b950"/>
<polygon points="150,888.4 156,889 162,891.3 168,895.3 173.9,900.5 179.9,905.7 185.9,910.8 191.9,915.8 197.9,920.7 203.9,925.4 209.8,930.2 215.8,935.1 221.8,939.9 227.8,944.9 233.8,949.8 239.8,954.7 245.8,959.6 251.7,964.5 257.7,969.4 263.7,974.4 269.7,979.3 275.7,984.2 281.7,989.1 287.6,994 293.6,999 299.6,1004 305.6,1009.3 311.6,1014.7 317.6,1020.2 323.6,1025.6 329.5,1031.1 335.5,1036.5 341.5,1041.8 347.5,1047.1 353.5,1052.5 359.5,1057.8 365.4,1063.1 371.4,1068.4 377.4,1073.7 383.4,1078.7 389.4,1083.6 395.4,1088.4 401.3,1093.2 407.3,1098 413.3,1102.8 419.3,1107.6 425.3,1112.5 431.3,1117.3 437.3,1122.2 443.2,1127.2 449.2,1132.1 455.2,1137 461.2,1142.1 467.2,1147.2 473.2,1152.4 479.1,1157.7 485.1,1162.9 491.1,1168.1 497.1,1173.3 503.1,1178.6 509.1,1183.8 515.1,1189 521,1194.2 527,1199.5 533,1204.7 539,1209.6 545,1214.2 551,1218.3 556.9,1222.4 562.9,1226.5 568.9,1230.6 574.9,1234.5 580.9,1238.4 586.9,1242.2 592.9,1246 598.8,1249.8 604.8,1253.5 610.8,1257.3 616.8,1261 622.8,1264.8 628.8,1268.5 634.7,1272.2 640.7,1276 646.7,1279.7 652.7,1283.3 658.7,1286.7 664.7,1290 670.7,1293.2 676.6,1296.4 682.6,1299.7 688.6,1302.5 694.6,1305 700.6,1307 706.6,1308.9 712.5,1310.8 718.5,1312.7 724.5,1314.6 730.5,1316.1 736.5,1317.1 742.5,1317.8 748.4,1318.5 754.4,1319.2 760.4,1320 766.4,1320.8 772.4,1321.5 778.4,1322.2 784.4,1322.6 790.3,1323 796.3,1323.2 802.3,1323.5 808.3,1323.8 814.3,1324 820.3,1324.3 826.2,1324.6 832.2,1324.9 838.2,1325.1 844.2,1325.4 850.2,1325.6 856.2,1325.7 862.2,1325.7 868.1,1325.7 874.1,1325.7 880.1,1325.7 886.1,1325.7 892.1,1325.7 898.1,1325.8 904,1325.8 910,1325.8 916,1325.8 922,1325.8 922,1352.2 916,1352 910,1351.9 904,1351.7 898.1,1351.6 892.1,1351.4 886.1,1351.3 880.1,1351.1 874.1,1351 868.1,1350.8 862.2,1350.7 856.2,1350.5 850.2,1350.3 844.2,1349.9 838.2,1349.5 832.2,1349.1 826.2,1348.7 820.3,1348.3 814.3,1347.9 808.3,1347.5 802.3,1347 796.3,1346.6 790.3,1346.2 784.4,1345.8 778.4,1345.1 772.4,1344.4 766.4,1343.4 760.4,1342.5 754.4,1341.6 748.4,1340.7 742.5,1339.7 736.5,1338.7 730.5,1337.3 724.5,1335.5 718.5,1333.2 712.5,1331 706.6,1328.7 700.6,1326.4 694.6,1324 688.6,1321.2 682.6,1317.9 676.6,1314.3 670.7,1310.7 664.7,1307 658.7,1303.4 652.7,1299.6 646.7,1295.7 640.7,1291.7 634.7,1287.8 628.8,1283.9 622.8,1280 616.8,1276.1 610.8,1272.2 604.8,1268.3 598.8,1264.4 592.9,1260.5 586.9,1256.7 580.9,1252.9 574.9,1249 568.9,1245.1 562.9,1241 556.9,1236.9 551,1232.7 545,1228.6 539,1224 533,1219.1 527,1213.8 521,1208.6 515.1,1203.3 509.1,1198.1 503.1,1192.8 497.1,1187.6 491.1,1182.3 485.1,1177.1 479.1,1171.8 473.2,1166.6 467.2,1161.4 461.2,1156.2 455.2,1151.1 449.2,1146.2 443.2,1141.2 437.3,1136.3 431.3,1131.4 425.3,1126.5 419.3,1121.6 413.3,1116.8 407.3,1112 401.3,1107.1 395.4,1102.3 389.4,1097.5 383.4,1092.6 377.4,1087.5 371.4,1082.3 365.4,1076.9 359.5,1071.6 353.5,1066.2 347.5,1060.9 341.5,1055.6 335.5,1050.2 329.5,1044.8 323.6,1039.3 317.6,1033.8 311.6,1028.4 305.6,1022.9 299.6,1017.6 293.6,1012.5 287.6,1007.6 281.7,1002.7 275.7,997.7 269.7,992.8 263.7,987.9 257.7,982.9 251.7,978 245.8,973 239.8,968.1 233.8,963.2 227.8,958.2 221.8,953.3 215.8,948.4 209.8,943.5 203.9,938.7 197.9,933.9 191.9,929 185.9,924 179.9,918.9 173.9,913.7 168,908.5 162,904.4 156,902.1 150,901.6" fill="#f9bb43"/>
<polygon points="150,889.6 156,890.2 162,892.5 168,896.5 173.9,901.7 179.9,906.9 185.9,912 191.9,917 197.9,921.9 203.9,926.7 209.8,931.4 215.8,936.3 221.8,941.2 227.8,946.1 233.8,951 239.8,955.9 245.8,960.8 251.7,965.8 257.7,970.7 263.7,975.6 269.7,980.5 275.7,985.4 281.7,990.4 287.6,995.3 293.6,1000.2 299.6,1005.3 305.6,1010.5 311.6,1016 317.6,1021.4 323.6,1026.9 329.5,1032.3 335.5,1037.7 341.5,1043.1 347.5,1048.4 353.5,1053.7 359.5,1059 365.4,1064.4 371.4,1069.7 377.4,1074.9 383.4,1080 389.4,1084.9 395.4,1089.7 401.3,1094.5 407.3,1099.3 413.3,1104.1 419.3,1108.9 425.3,1113.7 431.3,1118.6 437.3,1123.5 443.2,1128.4 449.2,1133.4 455.2,1138.3 461.2,1143.3 467.2,1148.5 473.2,1153.7 479.1,1159 485.1,1164.2 491.1,1169.4 497.1,1174.6 503.1,1179.9 509.1,1185.1 515.1,1190.3 521,1195.6 527,1200.8 533,1206 539,1210.9 545,1215.5 551,1219.6 556.9,1223.7 562.9,1227.9 568.9,1231.9 574.9,1235.9 580.9,1239.7 586.9,1243.5 592.9,1247.3 598.8,1251.1 604.8,1254.9 610.8,1258.6 616.8,1262.4 622.8,1266.1 628.8,1269.9 634.7,1273.7 640.7,1277.4 646.7,1281.2 652.7,1284.8 658.7,1288.2 664.7,1291.4 670.7,1294.6 676.6,1297.8 682.6,1301 688.6,1303.9 694.6,1306.3 700.6,1308.3 706.6,1310.2 712.5,1312.1 718.5,1314 724.5,1315.9 730.5,1317.4 736.5,1318.4 742.5,1319.1 748.4,1319.7 754.4,1320.5 760.4,1321.2 766.4,1322 772.4,1322.8 778.4,1323.4 784.4,1323.9 790.3,1324.3 796.3,1324.5 802.3,1324.8 808.3,1325.1 814.3,1325.4 820.3,1325.7 826.2,1325.9 832.2,1326.2 838.2,1326.5 844.2,1326.8 850.2,1327 856.2,1327.1 862.2,1327.1 868.1,1327.1 874.1,1327.1 880.1,1327.1 886.1,1327.2 892.1,1327.2 898.1,1327.2 904,1327.2 910,1327.2 916,1327.3 922,1327.3 922,1350.7 916,1350.6 910,1350.4 904,1350.3 898.1,1350.1 892.1,1350 886.1,1349.8 880.1,1349.7 874.1,1349.5 868.1,1349.4 862.2,1349.3 856.2,1349.1 850.2,1348.9 844.2,1348.6 838.2,1348.2 832.2,1347.8 826.2,1347.4 820.3,1346.9 814.3,1346.5 808.3,1346.1 802.3,1345.7 796.3,1345.3 790.3,1344.9 784.4,1344.5 778.4,1343.9 772.4,1343.1 766.4,1342.2 760.4,1341.3 754.4,1340.4 748.4,1339.4 742.5,1338.4 736.5,1337.4 730.5,1336 724.5,1334.2 718.5,1331.9 712.5,1329.7 706.6,1327.4 700.6,1325.1 694.6,1322.7 688.6,1319.8 682.6,1316.5 676.6,1312.9 670.7,1309.3 664.7,1305.6 658.7,1301.9 652.7,1298.1 646.7,1294.2 640.7,1290.3 634.7,1286.4 628.8,1282.5 622.8,1278.6 616.8,1274.7 610.8,1270.8 604.8,1266.9 598.8,1263 592.9,1259.2 586.9,1255.4 580.9,1251.6 574.9,1247.7 568.9,1243.7 562.9,1239.7 556.9,1235.6 551,1231.4 545,1227.2 539,1222.7 533,1217.8 527,1212.5 521,1207.3 515.1,1202 509.1,1196.8 503.1,1191.5 497.1,1186.3 491.1,1181 485.1,1175.8 479.1,1170.6 473.2,1165.3 467.2,1160.1 461.2,1154.9 455.2,1149.8 449.2,1144.9 443.2,1140 437.3,1135 431.3,1130.1 425.3,1125.2 419.3,1120.3 413.3,1115.5 407.3,1110.7 401.3,1105.9 395.4,1101 389.4,1096.2 383.4,1091.3 377.4,1086.3 371.4,1081 365.4,1075.7 359.5,1070.3 353.5,1065 347.5,1059.6 341.5,1054.3 335.5,1048.9 329.5,1043.5 323.6,1038.1 317.6,1032.6 311.6,1027.1 305.6,1021.7 299.6,1016.4 293.6,1011.3 287.6,1006.4 281.7,1001.4 275.7,996.5 269.7,991.6 263.7,986.6 257.7,981.7 251.7,976.8 245.8,971.8 239.8,966.9 233.8,961.9 227.8,957 221.8,952.1 215.8,947.2 209.8,942.3 203.9,937.5 197.9,932.7 191.9,927.8 185.9,922.8 179.9,917.7 173.9,912.5 168,907.3 162,903.2 156,900.9 150,900.4" fill="#fec734"/>
<polygon points="150,891.2 156,891.7 162,894 168,898.1 173.9,903.2 179.9,908.4 185.9,913.6 191.9,918.6 197.9,923.4 203.9,928.2 209.8,933 215.8,937.8 221.8,942.7 227.8,947.7 233.8,952.6 239.8,957.5 245.8,962.4 251.7,967.3 257.7,972.3 263.7,977.2 269.7,982.1 275.7,987 281.7,992 287.6,996.9 293.6,1001.8 299.6,1006.9 305.6,1012.2 311.6,1017.6 317.6,1023 323.6,1028.5 329.5,1033.9 335.5,1039.3 341.5,1044.7 347.5,1050 353.5,1055.4 359.5,1060.7 365.4,1066 371.4,1071.3 377.4,1076.6 383.4,1081.6 389.4,1086.5 395.4,1091.3 401.3,1096.1 407.3,1100.9 413.3,1105.7 419.3,1110.5 425.3,1115.4 431.3,1120.3 437.3,1125.2 443.2,1130.1 449.2,1135 455.2,1140 461.2,1145 467.2,1150.2 473.2,1155.4 479.1,1160.6 485.1,1165.9 491.1,1171.1 497.1,1176.3 503.1,1181.6 509.1,1186.8 515.1,1192 521,1197.2 527,1202.5 533,1207.7 539,1212.6 545,1217.2 551,1221.3 556.9,1225.5 562.9,1229.6 568.9,1233.6 574.9,1237.6 580.9,1241.4 586.9,1245.2 592.9,1249 598.8,1252.8 604.8,1256.6 610.8,1260.4 616.8,1264.2 622.8,1267.9 628.8,1271.7 634.7,1275.5 640.7,1279.3 646.7,1283.1 652.7,1286.7 658.7,1290 664.7,1293.2 670.7,1296.4 676.6,1299.5 682.6,1302.7 688.6,1305.6 694.6,1308 700.6,1309.9 706.6,1311.8 712.5,1313.7 718.5,1315.6 724.5,1317.4 730.5,1318.9 736.5,1319.9 742.5,1320.5 748.4,1321.2 754.4,1321.9 760.4,1322.7 766.4,1323.5 772.4,1324.3 778.4,1324.9 784.4,1325.4 790.3,1325.8 796.3,1326 802.3,1326.3 808.3,1326.6 814.3,1326.9 820.3,1327.2 826.2,1327.5 832.2,1327.8 838.2,1328.1 844.2,1328.3 850.2,1328.5 856.2,1328.7 862.2,1328.7 868.1,1328.7 874.1,1328.7 880.1,1328.8 886.1,1328.8 892.1,1328.8 898.1,1328.9 904,1328.9 910,1328.9 916,1328.9 922,1329 922,1349 916,1348.9 910,1348.8 904,1348.6 898.1,1348.5 892.1,1348.3 886.1,1348.2 880.1,1348.1 874.1,1347.9 868.1,1347.8 862.2,1347.7 856.2,1347.5 850.2,1347.3 844.2,1347 838.2,1346.6 832.2,1346.2 826.2,1345.8 820.3,1345.4 814.3,1345 808.3,1344.6 802.3,1344.2 796.3,1343.8 790.3,1343.4 784.4,1343 778.4,1342.4 772.4,1341.6 766.4,1340.7 760.4,1339.8 754.4,1338.9 748.4,1338 742.5,1337 736.5,1335.9 730.5,1334.5 724.5,1332.7 718.5,1330.4 712.5,1328.1 706.6,1325.8 700.6,1323.5 694.6,1321.1 688.6,1318.2 682.6,1314.8 676.6,1311.2 670.7,1307.5 664.7,1303.8 658.7,1300.1 652.7,1296.2 646.7,1292.3 640.7,1288.4 634.7,1284.6 628.8,1280.7 622.8,1276.8 616.8,1272.9 610.8,1269 604.8,1265.2 598.8,1261.3 592.9,1257.5 586.9,1253.7 580.9,1249.9 574.9,1246 568.9,1242 562.9,1238 556.9,1233.8 551,1229.7 545,1225.5 539,1221 533,1216.1 527,1210.8 521,1205.6 515.1,1200.3 509.1,1195.1 503.1,1189.8 497.1,1184.6 491.1,1179.4 485.1,1174.1 479.1,1168.9 473.2,1163.6 467.2,1158.4 461.2,1153.2 455.2,1148.2 449.2,1143.2 443.2,1138.3 437.3,1133.4 431.3,1128.4 425.3,1123.5 419.3,1118.7 413.3,1113.9 407.3,1109 401.3,1104.2 395.4,1099.4 389.4,1094.6 383.4,1089.7 377.4,1084.6 371.4,1079.4 365.4,1074 359.5,1068.7 353.5,1063.4 347.5,1058 341.5,1052.7 335.5,1047.3 329.5,1041.9 323.6,1036.4 317.6,1031 311.6,1025.5 305.6,1020.1 299.6,1014.8 293.6,1009.7 287.6,1004.8 281.7,999.8 275.7,994.9 269.7,990 263.7,985 257.7,980.1 251.7,975.2 245.8,970.2 239.8,965.3 233.8,960.4 227.8,955.4 221.8,950.5 215.8,945.6 209.8,940.8 203.9,936 197.9,931.2 191.9,926.3 185.9,921.3 179.9,916.1 173.9,910.9 168,905.7 162,901.7 156,899.4 150,898.8" fill="#f9d429"/>
<polygon points="150,894.4 156,895 162,897.3 168,901.3 173.9,906.5 179.9,911.7 185.9,916.8 191.9,921.8 197.9,926.7 203.9,931.5 209.8,936.3 215.8,941.1 221.8,946 227.8,951 233.8,955.9 239.8,960.8 245.8,965.7 251.7,970.7 257.7,975.6 263.7,980.5 269.7,985.5 275.7,990.4 281.7,995.3 287.6,1000.2 293.6,1005.2 299.6,1010.3 305.6,1015.5 311.6,1021 317.6,1026.4 323.6,1031.9 329.5,1037.3 335.5,1042.7 341.5,1048.1 347.5,1053.4 353.5,1058.8 359.5,1064.1 365.4,1069.4 371.4,1074.8 377.4,1080 383.4,1085.1 389.4,1089.9 395.4,1094.8 401.3,1099.6 407.3,1104.4 413.3,1109.2 419.3,1114 425.3,1118.9 431.3,1123.7 437.3,1128.7 443.2,1133.6 449.2,1138.5 455.2,1143.5 461.2,1148.5 467.2,1153.7 473.2,1158.9 479.1,1164.1 485.1,1169.4 491.1,1174.6 497.1,1179.8 503.1,1185.1 509.1,1190.3 515.1,1195.6 521,1200.8 527,1206 533,1211.3 539,1216.2 545,1220.7 551,1224.9 556.9,1229 562.9,1233.1 568.9,1237.2 574.9,1241.2 580.9,1245 586.9,1248.8 592.9,1252.6 598.8,1256.4 604.8,1260.3 610.8,1264.1 616.8,1267.9 622.8,1271.7 628.8,1275.5 634.7,1279.4 640.7,1283.2 646.7,1287 652.7,1290.2 658.7,1293.1 664.7,1296.1 670.7,1299 676.6,1302.1 682.6,1305.1 688.6,1307.8 694.6,1310.2 700.6,1312 706.6,1313.9 712.5,1315.7 718.5,1317.5 724.5,1319.3 730.5,1320.7 736.5,1321.7 742.5,1322.3 748.4,1322.9 754.4,1323.6 760.4,1324.4 766.4,1325.2 772.4,1326 778.4,1326.7 784.4,1327.2 790.3,1327.6 796.3,1327.9 802.3,1328.1 808.3,1328.4 814.3,1328.7 820.3,1329 826.2,1329.3 832.2,1329.6 838.2,1329.9 844.2,1330.2 850.2,1330.4 856.2,1330.6 862.2,1330.6 868.1,1330.7 874.1,1330.7 880.1,1330.7 886.1,1330.8 892.1,1330.8 898.1,1330.9 904,1330.9 910,1330.9 916,1331 922,1331 922,1347 916,1346.9 910,1346.7 904,1346.6 898.1,1346.5 892.1,1346.4 886.1,1346.2 880.1,1346.1 874.1,1346 868.1,1345.9 862.2,1345.7 856.2,1345.6 850.2,1345.4 844.2,1345.1 838.2,1344.7 832.2,1344.3 826.2,1343.9 820.3,1343.6 814.3,1343.2 808.3,1342.8 802.3,1342.4 796.3,1342 790.3,1341.6 784.4,1341.2 778.4,1340.6 772.4,1339.8 766.4,1339 760.4,1338.1 754.4,1337.2 748.4,1336.3 742.5,1335.2 736.5,1334.1 730.5,1332.7 724.5,1330.8 718.5,1328.5 712.5,1326.1 706.6,1323.7 700.6,1321.4 694.6,1318.8 688.6,1315.9 682.6,1312.5 676.6,1308.7 670.7,1304.9 664.7,1301 658.7,1297 652.7,1292.6 646.7,1288.4 640.7,1284.6 634.7,1280.7 628.8,1276.9 622.8,1273 616.8,1269.2 610.8,1265.4 604.8,1261.5 598.8,1257.7 592.9,1253.9 586.9,1250.1 580.9,1246.3 574.9,1242.4 568.9,1238.5 562.9,1234.4 556.9,1230.3 551,1226.2 545,1222 539,1217.4 533,1212.5 527,1207.3 521,1202 515.1,1196.8 509.1,1191.6 503.1,1186.3 497.1,1181.1 491.1,1175.8 485.1,1170.6 479.1,1165.4 473.2,1160.1 467.2,1154.9 461.2,1149.7 455.2,1144.7 449.2,1139.7 443.2,1134.8 437.3,1129.9 431.3,1125 425.3,1120.1 419.3,1115.2 413.3,1110.4 407.3,1105.6 401.3,1100.8 395.4,1096 389.4,1091.1 383.4,1086.3 377.4,1081.2 371.4,1076 365.4,1070.6 359.5,1065.3 353.5,1060 347.5,1054.6 341.5,1049.3 335.5,1043.9 329.5,1038.5 323.6,1033.1 317.6,1027.6 311.6,1022.2 305.6,1016.7 299.6,1011.4 293.6,1006.3 287.6,1001.4 281.7,996.5 275.7,991.6 269.7,986.6 263.7,981.7 257.7,976.8 251.7,971.8 245.8,966.9 239.8,962 233.8,957 227.8,952.1 221.8,947.2 215.8,942.3 209.8,937.5 203.9,932.7 197.9,927.9 191.9,923 185.9,918 179.9,912.8 173.9,907.7 168,902.5 162,898.4 156,896.1 150,895.6" fill="#f5e31e"/>
<polygon points="150,895 156,895.6 162,897.9 168,901.9 173.9,907.1 179.9,912.3 185.9,917.4 191.9,922.4 197.9,927.3 203.9,932.1 209.8,936.9 215.8,941.7 221.8,946.6 227.8,951.5 233.8,956.5 239.8,961.4 245.8,966.3 251.7,971.3 257.7,976.2 263.7,981.1 269.7,986 275.7,991 281.7,995.9 287.6,1000.8 293.6,1005.8 299.6,1010.8 305.6,1016.1 311.6,1021.6 317.6,1027 323.6,1032.5 329.5,1037.9 335.5,1043.3 341.5,1048.7 347.5,1054 353.5,1059.4 359.5,1064.7 365.4,1070 371.4,1075.4 377.4,1080.6 383.4,1085.7 389.4,1090.5 395.4,1095.4 401.3,1100.2 407.3,1105 413.3,1109.8 419.3,1114.6 425.3,1119.5 431.3,1124.3 437.3,1129.3 443.2,1134.2 449.2,1139.1 455.2,1144.1 461.2,1149.1 467.2,1154.3 473.2,1159.5 479.1,1164.8 485.1,1170 491.1,1175.2 497.1,1180.5 503.1,1185.7 509.1,1190.9 515.1,1196.2 521,1201.4 527,1206.6 533,1211.9 539,1216.8 545,1221.4 551,1225.5 556.9,1229.7 562.9,1233.8 568.9,1237.8 574.9,1241.8 580.9,1245.7 586.9,1249.5 592.9,1253.3 598.8,1257.1 604.8,1260.9 610.8,1264.7 616.8,1268.5 622.8,1272.4 628.8,1276.2 634.7,1280 640.7,1283.9 646.7,1287.7 652.7,1291.4 658.7,1295.1 664.7,1298.5 670.7,1301.9 676.6,1305.4 682.6,1308.8 688.6,1311.9 694.6,1314.5 700.6,1316.7 706.6,1318.8 712.5,1319.4 718.5,1320.8 724.5,1322.3 730.5,1323.5 736.5,1324.3 742.5,1324.8 748.4,1325.3 754.4,1326 760.4,1326.8 766.4,1327.6 772.4,1328.4 778.4,1329.1 784.4,1329.7 790.3,1330 796.3,1330.3 802.3,1330.6 808.3,1331 814.3,1331.3 820.3,1331.6 826.2,1331.9 832.2,1332.2 838.2,1332.5 844.2,1332.8 850.2,1333.1 856.2,1333.2 862.2,1333.3 868.1,1333.3 874.1,1333.4 880.1,1333.4 886.1,1333.5 892.1,1333.5 898.1,1333.6 904,1333.6 910,1333.7 916,1333.7 922,1333.8 922,1344.2 916,1344.1 910,1344 904,1343.9 898.1,1343.8 892.1,1343.6 886.1,1343.5 880.1,1343.4 874.1,1343.3 868.1,1343.2 862.2,1343.1 856.2,1343 850.2,1342.8 844.2,1342.5 838.2,1342.1 832.2,1341.8 826.2,1341.4 820.3,1341 814.3,1340.7 808.3,1340.3 802.3,1339.9 796.3,1339.5 790.3,1339.2 784.4,1338.8 778.4,1338.2 772.4,1337.4 766.4,1336.6 760.4,1335.7 754.4,1334.8 748.4,1333.9 742.5,1332.7 736.5,1331.5 730.5,1329.9 724.5,1327.8 718.5,1325.2 712.5,1322.4 706.6,1318.8 700.6,1316.7 694.6,1314.5 688.6,1311.9 682.6,1308.8 676.6,1305.4 670.7,1301.9 664.7,1298.5 658.7,1295.1 652.7,1291.4 646.7,1287.7 640.7,1283.9 634.7,1280 628.8,1276.2 622.8,1272.4 616.8,1268.5 610.8,1264.7 604.8,1260.9 598.8,1257.1 592.9,1253.3 586.9,1249.5 580.9,1245.7 574.9,1241.8 568.9,1237.8 562.9,1233.8 556.9,1229.7 551,1225.5 545,1221.4 539,1216.8 533,1211.9 527,1206.6 521,1201.4 515.1,1196.2 509.1,1190.9 503.1,1185.7 497.1,1180.5 491.1,1175.2 485.1,1170 479.1,1164.8 473.2,1159.5 467.2,1154.3 461.2,1149.1 455.2,1144.1 449.2,1139.1 443.2,1134.2 437.3,1129.3 431.3,1124.3 425.3,1119.5 419.3,1114.6 413.3,1109.8 407.3,1105 401.3,1100.2 395.4,1095.4 389.4,1090.5 383.4,1085.7 377.4,1080.6 371.4,1075.4 365.4,1070 359.5,1064.7 353.5,1059.4 347.5,1054 341.5,1048.7 335.5,1043.3 329.5,1037.9 323.6,1032.5 317.6,1027 311.6,1021.6 305.6,1016.1 299.6,1010.8 293.6,1005.8 287.6,1000.8 281.7,995.9 275.7,991 269.7,986 263.7,981.1 257.7,976.2 251.7,971.3 245.8,966.3 239.8,961.4 233.8,956.5 227.8,951.5 221.8,946.6 215.8,941.7 209.8,936.9 203.9,932.1 197.9,927.3 191.9,922.4 185.9,917.4 179.9,912.3 173.9,907.1 168,901.9 162,897.9 156,895.6 150,895" fill="#f6f313"/>
<g mask="url(#maskc)">
<rect x="690" y="1284" width="230.7" height="7.2" fill="#2a6fbf"/>
<rect x="690" y="1290.8" width="230.7" height="10.3" fill="#3459aa"/>
<rect x="690" y="1300.7" width="230.7" height="3.4" fill="#33b8a1"/>
<rect x="690" y="1303.7" width="230.7" height="8" fill="#217bc9"/>
<rect x="690" y="1311.3" width="230.7" height="6.4" fill="#07aac1"/>
<rect x="690" y="1317.3" width="230.7" height="5.1" fill="#55bd8e"/>
<rect x="690" y="1322" width="230.7" height="4.9" fill="#d3bb58"/>
<rect x="690" y="1326.5" width="230.7" height="4.9" fill="#f7d826"/>
<rect x="690" y="1331" width="230.7" height="2.7" fill="#33b8a1"/>
<rect x="690" y="1333.3" width="230.7" height="13.3" fill="#fdbe3e"/>
<rect x="690" y="1346.2" width="230.7" height="4.9" fill="#fdcb30"/>
<rect x="690" y="1350.7" width="230.7" height="8" fill="#06a0cd"/>
<rect x="690" y="1358.3" width="230.7" height="9.5" fill="#33b8a1"/>
<rect x="690" y="1367.4" width="230.7" height="5" fill="#3b3e9c"/>
<rect x="690" y="1372" width="230.7" height="12.4" fill="#2a6fbf"/>
<rect x="690" y="1384" width="230.7" height="3.4" fill="#393694"/>
<rect x="690" y="1387" width="230.7" height="6.4" fill="#3a4ca3"/>
</g>
<path d="M197,958.5H262M450,1179.5H532" stroke="#fff" stroke-opacity="0.35" stroke-width="1" fill="none"/>
</g>
<rect x="107" y="935.5" width="813.7" height="813.5" fill="none" stroke="#2e2a55" stroke-width="1"/>
<rect id="hmd" x="1049.5" y="935.8" width="811.3" height="810.7" fill="#352a87"/>
<g clip-path="url(#clipd)">
<polygon points="1140,872.4 1146,880 1152,887.5 1158,895.1 1164.1,902.7 1170.1,910 1176.1,917.1 1182.1,924.4 1188.1,932 1194.2,940 1200.2,947.7 1206.2,955.3 1212.2,962.7 1218.2,969.9 1224.2,977.4 1230.2,985 1236.3,992.8 1242.3,1000.8 1248.3,1008.9 1254.3,1016.7 1260.3,1024.5 1266.3,1032.2 1272.4,1039.5 1278.4,1046.6 1284.4,1053.5 1290.4,1060.3 1296.4,1067.1 1302.5,1074.1 1308.5,1081.3 1314.5,1088.9 1320.5,1096.3 1326.5,1103.7 1332.5,1111.1 1338.5,1118.3 1344.6,1125.7 1350.6,1133.4 1356.6,1140.8 1362.6,1147.9 1368.6,1154.7 1374.7,1161.4 1380.7,1167.7 1386.7,1173.7 1392.7,1179.1 1398.7,1184.6 1404.7,1191.1 1410.8,1198.6 1416.8,1207.1 1422.8,1215.6 1428.8,1224 1434.8,1232.3 1440.8,1240.4 1446.8,1248.2 1452.9,1255.7 1458.9,1263.2 1464.9,1270.9 1470.9,1277.3 1476.9,1282.4 1483,1285.5 1489,1287.7 1495,1289.8 1501,1291.4 1507,1292.2 1513,1292.8 1519,1293.3 1525.1,1293.6 1531.1,1293.6 1537.1,1293.5 1543.1,1293.4 1549.1,1293.2 1555.2,1293.8 1561.2,1294 1567.2,1294.3 1573.2,1294.6 1579.2,1294.7 1585.2,1294.6 1591.2,1294.4 1597.3,1294.1 1603.3,1293.9 1609.3,1293.6 1615.3,1293.3 1621.3,1293 1627.3,1292.8 1633.4,1292.5 1639.4,1292.2 1645.4,1292 1651.4,1291.7 1657.4,1291.4 1663.5,1291.1 1669.5,1290.9 1675.5,1290.6 1681.5,1290.3 1687.5,1290.1 1693.5,1289.8 1699.5,1289.5 1705.6,1289.2 1711.6,1289 1717.6,1288.7 1723.6,1288.4 1729.6,1288.2 1735.7,1287.9 1741.7,1287.6 1747.7,1287.4 1753.7,1287.1 1759.7,1286.8 1765.7,1286.5 1771.8,1286.3 1777.8,1286 1783.8,1285.7 1789.8,1285.5 1795.8,1285.2 1801.8,1284.9 1807.8,1284.6 1813.9,1284.4 1819.9,1284.1 1825.9,1283.8 1831.9,1283.6 1837.9,1283.3 1844,1283 1850,1282.8 1856,1282.5 1862,1282.2 1862,1399.2 1856,1398.8 1850,1398.5 1844,1398.2 1837.9,1397.9 1831.9,1397.6 1825.9,1397.3 1819.9,1397 1813.9,1396.6 1807.8,1396.3 1801.8,1396 1795.8,1395.7 1789.8,1395.4 1783.8,1395.1 1777.8,1394.8 1771.8,1394.5 1765.7,1394.1 1759.7,1393.8 1753.7,1393.5 1747.7,1393.2 1741.7,1392.9 1735.7,1392.6 1729.6,1392.3 1723.6,1391.9 1717.6,1391.6 1711.6,1391.3 1705.6,1391 1699.5,1390.7 1693.5,1390.4 1687.5,1390.1 1681.5,1389.8 1675.5,1389.4 1669.5,1389.1 1663.5,1388.8 1657.4,1388.5 1651.4,1388.2 1645.4,1387.9 1639.4,1387.6 1633.4,1387.2 1627.3,1386.9 1621.3,1386.6 1615.3,1386.3 1609.3,1386 1603.3,1385.7 1597.3,1385.4 1591.2,1385.1 1585.2,1384.7 1579.2,1384.2 1573.2,1383.5 1567.2,1382.6 1561.2,1381.8 1555.2,1380.9 1549.1,1379.8 1543.1,1376.9 1537.1,1373.3 1531.1,1369.6 1525.1,1365.8 1519,1361.8 1513,1357.5 1507,1352.8 1501,1347.8 1495,1342.8 1489,1337.3 1483,1331.6 1476.9,1326.7 1470.9,1321.6 1464.9,1315.1 1458.9,1307.2 1452.9,1299.2 1446.8,1291.1 1440.8,1282.9 1434.8,1274.6 1428.8,1266.2 1422.8,1257.6 1416.8,1249.3 1410.8,1241.1 1404.7,1233.8 1398.7,1227.4 1392.7,1221.7 1386.7,1216 1380.7,1210.4 1374.7,1204.3 1368.6,1197.8 1362.6,1190.9 1356.6,1183.8 1350.6,1176.3 1344.6,1168.5 1338.5,1160.4 1332.5,1152.5 1326.5,1145 1320.5,1137.5 1314.5,1130.1 1308.5,1123.2 1302.5,1116.3 1296.4,1109.5 1290.4,1102.6 1284.4,1095.7 1278.4,1088.6 1272.4,1081 1266.3,1072.9 1260.3,1064.9 1254.3,1057.1 1248.3,1049.4 1242.3,1042 1236.3,1034.5 1230.2,1026.7 1224.2,1019 1218.2,1011.5 1212.2,1004.1 1206.2,996.3 1200.2,988.1 1194.2,979.5 1188.1,971.4 1182.1,963.7 1176.1,956.4 1170.1,949.2 1164.1,941.7 1158,934 1152,926.3 1146,918.7 1140,911" fill="#3b3f9c"/>
<polygon points="1140,874.6 1146,882.2 1152,889.7 1158,897.3 1164.1,904.8 1170.1,912.1 1176.1,919.2 1182.1,926.4 1188.1,934 1194.2,942 1200.2,949.2 1206.2,956.5 1212.2,963.7 1218.2,970.8 1224.2,978.3 1230.2,985.9 1236.3,993.8 1242.3,1002.1 1248.3,1010.7 1254.3,1018.6 1260.3,1026.5 1266.3,1034.1 1272.4,1040.8 1278.4,1047.6 1284.4,1054.4 1290.4,1061.3 1296.4,1068.1 1302.5,1075.1 1308.5,1082.6 1314.5,1090.7 1320.5,1098.1 1326.5,1105.5 1332.5,1112.9 1338.5,1119.7 1344.6,1126.7 1350.6,1134.3 1356.6,1141.7 1362.6,1148.8 1368.6,1155.6 1374.7,1162.5 1380.7,1169.1 1386.7,1175.3 1392.7,1180.7 1398.7,1186 1404.7,1192.7 1410.8,1200.4 1416.8,1209.1 1422.8,1217.7 1428.8,1226 1434.8,1234.3 1440.8,1242.3 1446.8,1249.9 1452.9,1257 1458.9,1264.3 1464.9,1272 1470.9,1278.4 1476.9,1283.5 1483,1286.6 1489,1289.1 1495,1291.5 1501,1293.4 1507,1294.1 1513,1294.6 1519,1295.2 1525.1,1295.6 1531.1,1295.8 1537.1,1295.8 1543.1,1295.9 1549.1,1295.8 1555.2,1296.3 1561.2,1296.6 1567.2,1296.9 1573.2,1297.2 1579.2,1297.3 1585.2,1297.3 1591.2,1297.1 1597.3,1296.8 1603.3,1296.6 1609.3,1296.3 1615.3,1296.1 1621.3,1295.8 1627.3,1295.6 1633.4,1295.3 1639.4,1295 1645.4,1294.8 1651.4,1294.5 1657.4,1294.3 1663.5,1294 1669.5,1293.8 1675.5,1293.5 1681.5,1293.3 1687.5,1293 1693.5,1292.8 1699.5,1292.5 1705.6,1292.3 1711.6,1292 1717.6,1291.8 1723.6,1291.5 1729.6,1291.3 1735.7,1291 1741.7,1290.8 1747.7,1290.5 1753.7,1290.3 1759.7,1290 1765.7,1289.8 1771.8,1289.5 1777.8,1289.3 1783.8,1289 1789.8,1288.8 1795.8,1288.5 1801.8,1288.3 1807.8,1288 1813.9,1287.8 1819.9,1287.5 1825.9,1287.3 1831.9,1287 1837.9,1286.8 1844,1286.5 1850,1286.3 1856,1286 1862,1285.8 1862,1394.6 1856,1394.3 1850,1394 1844,1393.7 1837.9,1393.4 1831.9,1393.1 1825.9,1392.8 1819.9,1392.5 1813.9,1392.3 1807.8,1392 1801.8,1391.7 1795.8,1391.4 1789.8,1391.1 1783.8,1390.8 1777.8,1390.5 1771.8,1390.2 1765.7,1389.9 1759.7,1389.6 1753.7,1389.3 1747.7,1389 1741.7,1388.7 1735.7,1388.4 1729.6,1388.1 1723.6,1387.8 1717.6,1387.6 1711.6,1387.3 1705.6,1387 1699.5,1386.7 1693.5,1386.4 1687.5,1386.1 1681.5,1385.8 1675.5,1385.5 1669.5,1385.2 1663.5,1384.9 1657.4,1384.6 1651.4,1384.3 1645.4,1384 1639.4,1383.7 1633.4,1383.4 1627.3,1383.1 1621.3,1382.8 1615.3,1382.6 1609.3,1382.3 1603.3,1382 1597.3,1381.7 1591.2,1381.4 1585.2,1381.1 1579.2,1380.6 1573.2,1379.9 1567.2,1379 1561.2,1378.2 1555.2,1377.4 1549.1,1376.3 1543.1,1373.5 1537.1,1370.1 1531.1,1366.6 1525.1,1363 1519,1359.2 1513,1354.9 1507,1350.1 1501,1345 1495,1340.4 1489,1335.4 1483,1330 1476.9,1325.3 1470.9,1320.1 1464.9,1313.6 1458.9,1305.7 1452.9,1297.3 1446.8,1288.6 1440.8,1280.1 1434.8,1271.8 1428.8,1263.3 1422.8,1254.7 1416.8,1246.5 1410.8,1238.7 1404.7,1231.6 1398.7,1225.4 1392.7,1219.5 1386.7,1213.6 1380.7,1208.4 1374.7,1202.8 1368.6,1196.4 1362.6,1189.5 1356.6,1182.4 1350.6,1174.9 1344.6,1167.1 1338.5,1158.4 1332.5,1149.8 1326.5,1142.4 1320.5,1134.9 1314.5,1127.6 1308.5,1121.3 1302.5,1114.9 1296.4,1108.1 1290.4,1101.2 1284.4,1094.3 1278.4,1087.2 1272.4,1079.1 1266.3,1070.2 1260.3,1062.1 1254.3,1054.4 1248.3,1046.8 1242.3,1040.2 1236.3,1033.2 1230.2,1025.5 1224.2,1017.8 1218.2,1010.2 1212.2,1002.7 1206.2,994.6 1200.2,985.9 1194.2,976.7 1188.1,968.5 1182.1,960.8 1176.1,953.4 1170.1,946.1 1164.1,938.6 1158,930.9 1152,923.2 1146,915.5 1140,907.7" fill="#3852a6"/>
<polygon points="1140,877 1146,884.5 1152,892.1 1158,899.6 1164.1,907.1 1170.1,914.4 1176.1,921.4 1182.1,928.6 1188.1,936.2 1194.2,944.1 1200.2,950.9 1206.2,957.7 1212.2,964.7 1218.2,971.8 1224.2,979.2 1230.2,986.9 1236.3,994.8 1242.3,1003.5 1248.3,1012.7 1254.3,1020.7 1260.3,1028.6 1266.3,1036.1 1272.4,1042.2 1278.4,1048.7 1284.4,1055.5 1290.4,1062.3 1296.4,1069.1 1302.5,1076.2 1308.5,1084 1314.5,1092.6 1320.5,1100.1 1326.5,1107.5 1332.5,1114.9 1338.5,1121.2 1344.6,1127.7 1350.6,1135.4 1356.6,1142.8 1362.6,1149.9 1368.6,1156.7 1374.7,1163.7 1380.7,1170.7 1386.7,1177.1 1392.7,1182.3 1398.7,1187.6 1404.7,1194.3 1410.8,1202.2 1416.8,1211.2 1422.8,1220 1428.8,1228.2 1434.8,1236.4 1440.8,1244.4 1446.8,1251.8 1452.9,1258.5 1458.9,1265.5 1464.9,1273.1 1470.9,1279.5 1476.9,1284.5 1483,1287.8 1489,1290.6 1495,1293.4 1501,1295.6 1507,1296.2 1513,1296.5 1519,1297.2 1525.1,1297.7 1531.1,1298.1 1537.1,1298.3 1543.1,1298.4 1549.1,1298.5 1555.2,1299.1 1561.2,1299.4 1567.2,1299.7 1573.2,1300 1579.2,1300.1 1585.2,1300.1 1591.2,1299.9 1597.3,1299.7 1603.3,1299.5 1609.3,1299.2 1615.3,1299 1621.3,1298.8 1627.3,1298.5 1633.4,1298.3 1639.4,1298.1 1645.4,1297.8 1651.4,1297.6 1657.4,1297.4 1663.5,1297.1 1669.5,1296.9 1675.5,1296.7 1681.5,1296.5 1687.5,1296.2 1693.5,1296 1699.5,1295.8 1705.6,1295.5 1711.6,1295.3 1717.6,1295.1 1723.6,1294.8 1729.6,1294.6 1735.7,1294.4 1741.7,1294.1 1747.7,1293.9 1753.7,1293.7 1759.7,1293.5 1765.7,1293.2 1771.8,1293 1777.8,1292.8 1783.8,1292.5 1789.8,1292.3 1795.8,1292.1 1801.8,1291.8 1807.8,1291.6 1813.9,1291.4 1819.9,1291.2 1825.9,1290.9 1831.9,1290.7 1837.9,1290.5 1844,1290.2 1850,1290 1856,1289.8 1862,1289.5 1862,1389.7 1856,1389.5 1850,1389.2 1844,1388.9 1837.9,1388.6 1831.9,1388.4 1825.9,1388.1 1819.9,1387.8 1813.9,1387.5 1807.8,1387.3 1801.8,1387 1795.8,1386.7 1789.8,1386.5 1783.8,1386.2 1777.8,1385.9 1771.8,1385.6 1765.7,1385.4 1759.7,1385.1 1753.7,1384.8 1747.7,1384.5 1741.7,1384.3 1735.7,1384 1729.6,1383.7 1723.6,1383.5 1717.6,1383.2 1711.6,1382.9 1705.6,1382.6 1699.5,1382.4 1693.5,1382.1 1687.5,1381.8 1681.5,1381.5 1675.5,1381.3 1669.5,1381 1663.5,1380.7 1657.4,1380.4 1651.4,1380.2 1645.4,1379.9 1639.4,1379.6 1633.4,1379.4 1627.3,1379.1 1621.3,1378.8 1615.3,1378.5 1609.3,1378.3 1603.3,1378 1597.3,1377.7 1591.2,1377.4 1585.2,1377.1 1579.2,1376.7 1573.2,1376 1567.2,1375.2 1561.2,1374.4 1555.2,1373.6 1549.1,1372.5 1543.1,1369.9 1537.1,1366.6 1531.1,1363.4 1525.1,1360 1519,1356.4 1513,1352.2 1507,1347.2 1501,1341.9 1495,1337.8 1489,1333.3 1483,1328.3 1476.9,1323.8 1470.9,1318.6 1464.9,1312 1458.9,1304 1452.9,1295.2 1446.8,1286 1440.8,1277.2 1434.8,1268.8 1428.8,1260.2 1422.8,1251.5 1416.8,1243.5 1410.8,1236 1404.7,1229.3 1398.7,1223.2 1392.7,1217.2 1386.7,1211.1 1380.7,1206.3 1374.7,1201 1368.6,1194.9 1362.6,1188.1 1356.6,1180.9 1350.6,1173.4 1344.6,1165.6 1338.5,1156.3 1332.5,1147 1326.5,1139.6 1320.5,1132.1 1314.5,1124.9 1308.5,1119.3 1302.5,1113.3 1296.4,1106.6 1290.4,1099.8 1284.4,1092.9 1278.4,1085.6 1272.4,1077.1 1266.3,1067.4 1260.3,1059.1 1254.3,1051.5 1248.3,1044 1242.3,1038.2 1236.3,1031.7 1230.2,1024.1 1224.2,1016.4 1218.2,1008.9 1212.2,1001.2 1206.2,992.8 1200.2,983.6 1194.2,973.6 1188.1,965.4 1182.1,957.6 1176.1,950.2 1170.1,942.9 1164.1,935.4 1158,927.6 1152,919.8 1146,912.1 1140,904.3" fill="#335cac"/>
<polygon points="1140,879.5 1146,887 1152,894.5 1158,902 1164.1,909.5 1170.1,916.7 1176.1,923.7 1182.1,930.9 1188.1,938.4 1194.2,946.4 1200.2,952.6 1206.2,959.1 1212.2,965.7 1218.2,972.7 1224.2,980.2 1230.2,987.8 1236.3,995.8 1242.3,1004.9 1248.3,1014.7 1254.3,1022.8 1260.3,1030.8 1266.3,1038.2 1272.4,1043.7 1278.4,1049.8 1284.4,1056.5 1290.4,1063.3 1296.4,1070.2 1302.5,1077.4 1308.5,1085.5 1314.5,1094.6 1320.5,1102.2 1326.5,1109.6 1332.5,1117 1338.5,1122.8 1344.6,1128.8 1350.6,1136.5 1356.6,1143.9 1362.6,1151 1368.6,1157.8 1374.7,1165 1380.7,1172.2 1386.7,1179 1392.7,1184 1398.7,1189.2 1404.7,1196 1410.8,1204.2 1416.8,1213.5 1422.8,1222.4 1428.8,1230.5 1434.8,1238.7 1440.8,1246.6 1446.8,1253.8 1452.9,1260 1458.9,1266.8 1464.9,1274.3 1470.9,1280.6 1476.9,1285.7 1483,1289 1489,1292.2 1495,1295.3 1501,1297.9 1507,1298.3 1513,1298.6 1519,1299.3 1525.1,1300 1531.1,1300.5 1537.1,1300.8 1543.1,1301.1 1549.1,1301.3 1555.2,1301.9 1561.2,1302.2 1567.2,1302.6 1573.2,1302.9 1579.2,1303.1 1585.2,1303.1 1591.2,1302.9 1597.3,1302.7 1603.3,1302.5 1609.3,1302.3 1615.3,1302.1 1621.3,1301.8 1627.3,1301.6 1633.4,1301.4 1639.4,1301.2 1645.4,1301 1651.4,1300.8 1657.4,1300.6 1663.5,1300.4 1669.5,1300.2 1675.5,1300 1681.5,1299.8 1687.5,1299.5 1693.5,1299.3 1699.5,1299.1 1705.6,1298.9 1711.6,1298.7 1717.6,1298.5 1723.6,1298.3 1729.6,1298.1 1735.7,1297.9 1741.7,1297.7 1747.7,1297.5 1753.7,1297.2 1759.7,1297 1765.7,1296.8 1771.8,1296.6 1777.8,1296.4 1783.8,1296.2 1789.8,1296 1795.8,1295.8 1801.8,1295.6 1807.8,1295.4 1813.9,1295.2 1819.9,1294.9 1825.9,1294.7 1831.9,1294.5 1837.9,1294.3 1844,1294.1 1850,1293.9 1856,1293.7 1862,1293.5 1862,1384.7 1856,1384.4 1850,1384.2 1844,1383.9 1837.9,1383.7 1831.9,1383.4 1825.9,1383.1 1819.9,1382.9 1813.9,1382.6 1807.8,1382.4 1801.8,1382.1 1795.8,1381.9 1789.8,1381.6 1783.8,1381.4 1777.8,1381.1 1771.8,1380.9 1765.7,1380.6 1759.7,1380.4 1753.7,1380.1 1747.7,1379.9 1741.7,1379.6 1735.7,1379.4 1729.6,1379.1 1723.6,1378.9 1717.6,1378.6 1711.6,1378.4 1705.6,1378.1 1699.5,1377.9 1693.5,1377.6 1687.5,1377.4 1681.5,1377.1 1675.5,1376.9 1669.5,1376.6 1663.5,1376.4 1657.4,1376.1 1651.4,1375.9 1645.4,1375.6 1639.4,1375.4 1633.4,1375.1 1627.3,1374.8 1621.3,1374.6 1615.3,1374.3 1609.3,1374.1 1603.3,1373.8 1597.3,1373.6 1591.2,1373.3 1585.2,1373.1 1579.2,1372.6 1573.2,1372 1567.2,1371.2 1561.2,1370.4 1555.2,1369.6 1549.1,1368.5 1543.1,1366.1 1537.1,1363.1 1531.1,1360 1525.1,1356.8 1519,1353.4 1513,1349.3 1507,1344.2 1501,1338.6 1495,1335.1 1489,1331.1 1483,1326.5 1476.9,1322.2 1470.9,1316.9 1464.9,1310.3 1458.9,1302.3 1452.9,1293.1 1446.8,1283.2 1440.8,1274.1 1434.8,1265.6 1428.8,1256.9 1422.8,1248.2 1416.8,1240.4 1410.8,1233.3 1404.7,1226.9 1398.7,1220.9 1392.7,1214.8 1386.7,1208.5 1380.7,1204 1374.7,1199.3 1368.6,1193.4 1362.6,1186.5 1356.6,1179.4 1350.6,1171.9 1344.6,1164 1338.5,1154.1 1332.5,1144.1 1326.5,1136.6 1320.5,1129.2 1314.5,1122 1308.5,1117.2 1302.5,1111.6 1296.4,1105.1 1290.4,1098.2 1284.4,1091.4 1278.4,1084 1272.4,1075 1266.3,1064.4 1260.3,1055.9 1254.3,1048.5 1248.3,1041.1 1242.3,1036.1 1236.3,1030.2 1230.2,1022.7 1224.2,1015 1218.2,1007.5 1212.2,999.7 1206.2,990.9 1200.2,981.2 1194.2,970.4 1188.1,962.1 1182.1,954.3 1176.1,946.9 1170.1,939.5 1164.1,931.9 1158,924.1 1152,916.3 1146,908.5 1140,900.7" fill="#2e68b8"/>
<polygon points="1140,881 1146,888.5 1152,896 1158,903.6 1164.1,911.1 1170.1,918.4 1176.1,925.5 1182.1,932.7 1188.1,940.3 1194.2,948.2 1200.2,954.3 1206.2,960.4 1212.2,966.8 1218.2,973.8 1224.2,981.2 1230.2,988.9 1236.3,996.9 1242.3,1006.4 1248.3,1016.8 1254.3,1024.9 1260.3,1032.9 1266.3,1040.3 1272.4,1045.2 1278.4,1050.9 1284.4,1057.6 1290.4,1064.4 1296.4,1071.3 1302.5,1078.6 1308.5,1087 1314.5,1096.6 1320.5,1104.3 1326.5,1111.7 1332.5,1119.1 1338.5,1124.4 1344.6,1130 1350.6,1137.6 1356.6,1145 1362.6,1152.1 1368.6,1158.9 1374.7,1166.3 1380.7,1173.8 1386.7,1180.9 1392.7,1185.8 1398.7,1190.8 1404.7,1197.8 1410.8,1206.2 1416.8,1215.7 1422.8,1224.5 1428.8,1232.7 1434.8,1240.9 1440.8,1248.9 1446.8,1255.8 1452.9,1261.6 1458.9,1268 1464.9,1275.5 1470.9,1281.8 1476.9,1286.9 1483,1290.3 1489,1293.8 1495,1297.3 1501,1300.3 1507,1300.5 1513,1300.7 1519,1301.4 1525.1,1302.3 1531.1,1302.9 1537.1,1303.5 1543.1,1303.9 1549.1,1304.2 1555.2,1304.8 1561.2,1305.2 1567.2,1305.5 1573.2,1305.9 1579.2,1306.1 1585.2,1306.1 1591.2,1306 1597.3,1305.8 1603.3,1305.6 1609.3,1305.4 1615.3,1305.2 1621.3,1305 1627.3,1304.8 1633.4,1304.6 1639.4,1304.5 1645.4,1304.3 1651.4,1304.1 1657.4,1303.9 1663.5,1303.7 1669.5,1303.5 1675.5,1303.3 1681.5,1303.2 1687.5,1303 1693.5,1302.8 1699.5,1302.6 1705.6,1302.4 1711.6,1302.2 1717.6,1302 1723.6,1301.8 1729.6,1301.7 1735.7,1301.5 1741.7,1301.3 1747.7,1301.1 1753.7,1300.9 1759.7,1300.7 1765.7,1300.5 1771.8,1300.4 1777.8,1300.2 1783.8,1300 1789.8,1299.8 1795.8,1299.6 1801.8,1299.4 1807.8,1299.2 1813.9,1299 1819.9,1298.9 1825.9,1298.7 1831.9,1298.5 1837.9,1298.3 1844,1298.1 1850,1297.9 1856,1297.7 1862,1297.6 1862,1379.4 1856,1379.2 1850,1379 1844,1378.7 1837.9,1378.5 1831.9,1378.3 1825.9,1378.1 1819.9,1377.8 1813.9,1377.6 1807.8,1377.4 1801.8,1377.1 1795.8,1376.9 1789.8,1376.7 1783.8,1376.4 1777.8,1376.2 1771.8,1376 1765.7,1375.8 1759.7,1375.5 1753.7,1375.3 1747.7,1375.1 1741.7,1374.8 1735.7,1374.6 1729.6,1374.4 1723.6,1374.2 1717.6,1373.9 1711.6,1373.7 1705.6,1373.5 1699.5,1373.2 1693.5,1373 1687.5,1372.8 1681.5,1372.5 1675.5,1372.3 1669.5,1372.1 1663.5,1371.9 1657.4,1371.6 1651.4,1371.4 1645.4,1371.2 1639.4,1370.9 1633.4,1370.7 1627.3,1370.5 1621.3,1370.3 1615.3,1370 1609.3,1369.8 1603.3,1369.6 1597.3,1369.3 1591.2,1369.1 1585.2,1368.9 1579.2,1368.4 1573.2,1367.8 1567.2,1367 1561.2,1366.3 1555.2,1365.5 1549.1,1364.4 1543.1,1362.2 1537.1,1359.4 1531.1,1356.5 1525.1,1353.6 1519,1350.4 1513,1346.4 1507,1341.1 1501,1335.3 1495,1332.2 1489,1328.8 1483,1324.7 1476.9,1320.6 1470.9,1315.3 1464.9,1308.6 1458.9,1300.5 1452.9,1290.9 1446.8,1280.4 1440.8,1271 1434.8,1262.5 1428.8,1253.9 1422.8,1245.3 1416.8,1237.2 1410.8,1230.5 1404.7,1224.4 1398.7,1218.6 1392.7,1212.3 1386.7,1205.8 1380.7,1201.8 1374.7,1197.4 1368.6,1191.8 1362.6,1184.9 1356.6,1177.8 1350.6,1170.3 1344.6,1162.4 1338.5,1151.8 1332.5,1141 1326.5,1133.6 1320.5,1126.1 1314.5,1119.1 1308.5,1115.1 1302.5,1109.9 1296.4,1103.6 1290.4,1096.7 1284.4,1089.8 1278.4,1082.4 1272.4,1072.9 1266.3,1061.3 1260.3,1053.1 1254.3,1045.5 1248.3,1038.1 1242.3,1034 1236.3,1028.7 1230.2,1021.2 1224.2,1013.6 1218.2,1006 1212.2,998.1 1206.2,989 1200.2,978.7 1194.2,967.8 1188.1,959.7 1182.1,951.9 1176.1,944.6 1170.1,937.3 1164.1,929.9 1158,922.2 1152,914.5 1146,906.8 1140,899" fill="#2773c3"/>
<polygon points="1140,882.1 1146,889.6 1152,897.2 1158,904.7 1164.1,912.2 1170.1,919.5 1176.1,926.6 1182.1,933.8 1188.1,941.4 1194.2,949.3 1200.2,956 1206.2,961.8 1212.2,968 1218.2,974.8 1224.2,982.3 1230.2,989.9 1236.3,998 1242.3,1007.9 1248.3,1018 1254.3,1026 1260.3,1034 1266.3,1041.4 1272.4,1046.7 1278.4,1052.1 1284.4,1058.7 1290.4,1065.6 1296.4,1072.4 1302.5,1079.8 1308.5,1088.6 1314.5,1098 1320.5,1105.5 1326.5,1113 1332.5,1120.4 1338.5,1126.1 1344.6,1131.1 1350.6,1138.7 1356.6,1146.1 1362.6,1153.2 1368.6,1160.1 1374.7,1167.6 1380.7,1175.5 1386.7,1182.6 1392.7,1187.6 1398.7,1192.5 1404.7,1199.6 1410.8,1207.8 1416.8,1216.9 1422.8,1225.7 1428.8,1233.9 1434.8,1242.1 1440.8,1250.1 1446.8,1257.4 1452.9,1263.2 1458.9,1269.3 1464.9,1276.8 1470.9,1283.1 1476.9,1288.1 1483,1291.7 1489,1295.5 1495,1299.4 1501,1302.7 1507,1302.8 1513,1302.8 1519,1303.6 1525.1,1304.7 1531.1,1305.5 1537.1,1306.1 1543.1,1306.8 1549.1,1307.2 1555.2,1307.8 1561.2,1308.2 1567.2,1308.6 1573.2,1309 1579.2,1309.2 1585.2,1309.2 1591.2,1309.1 1597.3,1308.9 1603.3,1308.8 1609.3,1308.6 1615.3,1308.4 1621.3,1308.3 1627.3,1308.1 1633.4,1307.9 1639.4,1307.8 1645.4,1307.6 1651.4,1307.5 1657.4,1307.3 1663.5,1307.1 1669.5,1307 1675.5,1306.8 1681.5,1306.6 1687.5,1306.5 1693.5,1306.3 1699.5,1306.1 1705.6,1306 1711.6,1305.8 1717.6,1305.7 1723.6,1305.5 1729.6,1305.3 1735.7,1305.2 1741.7,1305 1747.7,1304.8 1753.7,1304.7 1759.7,1304.5 1765.7,1304.3 1771.8,1304.2 1777.8,1304 1783.8,1303.9 1789.8,1303.7 1795.8,1303.5 1801.8,1303.4 1807.8,1303.2 1813.9,1303 1819.9,1302.9 1825.9,1302.7 1831.9,1302.5 1837.9,1302.4 1844,1302.2 1850,1302.1 1856,1301.9 1862,1301.7 1862,1374.1 1856,1373.9 1850,1373.7 1844,1373.5 1837.9,1373.2 1831.9,1373 1825.9,1372.8 1819.9,1372.6 1813.9,1372.4 1807.8,1372.2 1801.8,1372 1795.8,1371.8 1789.8,1371.6 1783.8,1371.4 1777.8,1371.2 1771.8,1371 1765.7,1370.8 1759.7,1370.6 1753.7,1370.4 1747.7,1370.1 1741.7,1369.9 1735.7,1369.7 1729.6,1369.5 1723.6,1369.3 1717.6,1369.1 1711.6,1368.9 1705.6,1368.7 1699.5,1368.5 1693.5,1368.3 1687.5,1368.1 1681.5,1367.9 1675.5,1367.7 1669.5,1367.5 1663.5,1367.3 1657.4,1367.1 1651.4,1366.8 1645.4,1366.6 1639.4,1366.4 1633.4,1366.2 1627.3,1366 1621.3,1365.8 1615.3,1365.6 1609.3,1365.4 1603.3,1365.2 1597.3,1365 1591.2,1364.8 1585.2,1364.5 1579.2,1364.1 1573.2,1363.5 1567.2,1362.8 1561.2,1362 1555.2,1361.3 1549.1,1360.3 1543.1,1358.2 1537.1,1355.6 1531.1,1353 1525.1,1350.3 1519,1347.3 1513,1343.4 1507,1337.9 1501,1331.9 1495,1329.4 1489,1326.5 1483,1322.9 1476.9,1318.9 1470.9,1313.6 1464.9,1306.9 1458.9,1298.6 1452.9,1288.7 1446.8,1278.3 1440.8,1269.7 1434.8,1261.3 1428.8,1252.7 1422.8,1244.1 1416.8,1236.1 1410.8,1228.4 1404.7,1221.8 1398.7,1216.2 1392.7,1209.7 1386.7,1203.5 1380.7,1199.4 1374.7,1195.5 1368.6,1190.2 1362.6,1183.3 1356.6,1176.2 1350.6,1168.7 1344.6,1160.8 1338.5,1149.4 1332.5,1139.7 1326.5,1132.2 1320.5,1124.8 1314.5,1117.5 1308.5,1112.9 1302.5,1108.2 1296.4,1102 1290.4,1095.1 1284.4,1088.2 1278.4,1080.7 1272.4,1070.7 1266.3,1060.2 1260.3,1052 1254.3,1044.4 1248.3,1036.8 1242.3,1031.8 1236.3,1027.1 1230.2,1019.8 1224.2,1012.1 1218.2,1004.6 1212.2,996.5 1206.2,987 1200.2,976.2 1194.2,966.7 1188.1,958.6 1182.1,950.8 1176.1,943.5 1170.1,936.2 1164.1,928.7 1158,921 1152,913.3 1146,905.6 1140,897.9" fill="#217cca"/>
<polygon points="1140,883.3 1146,890.8 1152,898.3 1158,905.8 1164.1,913.3 1170.1,920.6 1176.1,927.7 1182.1,934.9 1188.1,942.4 1194.2,950.4 1200.2,956.9 1206.2,963.2 1212.2,969.1 1218.2,975.8 1224.2,983.3 1230.2,991 1236.3,999.1 1242.3,1009.4 1248.3,1019 1254.3,1027 1260.3,1035.1 1266.3,1042.4 1272.4,1048.2 1278.4,1053.3 1284.4,1059.9 1290.4,1066.7 1296.4,1073.5 1302.5,1081.1 1308.5,1090.1 1314.5,1099 1320.5,1106.6 1326.5,1114 1332.5,1121.4 1338.5,1127.4 1344.6,1132.3 1350.6,1139.9 1356.6,1147.3 1362.6,1154.4 1368.6,1161.2 1374.7,1169 1380.7,1176.9 1386.7,1183.6 1392.7,1188.7 1398.7,1193.9 1404.7,1200.7 1410.8,1208.8 1416.8,1218 1422.8,1226.9 1428.8,1235.1 1434.8,1243.3 1440.8,1251.3 1446.8,1258.5 1452.9,1264.8 1458.9,1270.7 1464.9,1278 1470.9,1284.3 1476.9,1289.3 1483,1293 1489,1297.1 1495,1301.5 1501,1304.9 1507,1305.1 1513,1305 1519,1305.9 1525.1,1307.1 1531.1,1308 1537.1,1308.9 1543.1,1309.7 1549.1,1310.2 1555.2,1310.9 1561.2,1311.3 1567.2,1311.7 1573.2,1312.1 1579.2,1312.3 1585.2,1312.4 1591.2,1312.3 1597.3,1312.2 1603.3,1312 1609.3,1311.9 1615.3,1311.7 1621.3,1311.6 1627.3,1311.5 1633.4,1311.3 1639.4,1311.2 1645.4,1311 1651.4,1310.9 1657.4,1310.8 1663.5,1310.6 1669.5,1310.5 1675.5,1310.3 1681.5,1310.2 1687.5,1310 1693.5,1309.9 1699.5,1309.8 1705.6,1309.6 1711.6,1309.5 1717.6,1309.3 1723.6,1309.2 1729.6,1309.1 1735.7,1308.9 1741.7,1308.8 1747.7,1308.6 1753.7,1308.5 1759.7,1308.4 1765.7,1308.2 1771.8,1308.1 1777.8,1307.9 1783.8,1307.8 1789.8,1307.7 1795.8,1307.5 1801.8,1307.4 1807.8,1307.2 1813.9,1307.1 1819.9,1307 1825.9,1306.8 1831.9,1306.7 1837.9,1306.5 1844,1306.4 1850,1306.3 1856,1306.1 1862,1306 1862,1368.6 1856,1368.4 1850,1368.2 1844,1368.1 1837.9,1367.9 1831.9,1367.7 1825.9,1367.5 1819.9,1367.3 1813.9,1367.1 1807.8,1367 1801.8,1366.8 1795.8,1366.6 1789.8,1366.4 1783.8,1366.2 1777.8,1366 1771.8,1365.9 1765.7,1365.7 1759.7,1365.5 1753.7,1365.3 1747.7,1365.1 1741.7,1364.9 1735.7,1364.8 1729.6,1364.6 1723.6,1364.4 1717.6,1364.2 1711.6,1364 1705.6,1363.8 1699.5,1363.7 1693.5,1363.5 1687.5,1363.3 1681.5,1363.1 1675.5,1362.9 1669.5,1362.7 1663.5,1362.6 1657.4,1362.4 1651.4,1362.2 1645.4,1362 1639.4,1361.8 1633.4,1361.6 1627.3,1361.5 1621.3,1361.3 1615.3,1361.1 1609.3,1360.9 1603.3,1360.7 1597.3,1360.5 1591.2,1360.4 1585.2,1360.2 1579.2,1359.8 1573.2,1359.2 1567.2,1358.5 1561.2,1357.7 1555.2,1357 1549.1,1356 1543.1,1354.1 1537.1,1351.8 1531.1,1349.4 1525.1,1346.9 1519,1344.1 1513,1340.3 1507,1334.7 1501,1329 1495,1326.4 1489,1324.2 1483,1321 1476.9,1317.2 1470.9,1311.8 1464.9,1305.1 1458.9,1296.8 1452.9,1286.4 1446.8,1277.2 1440.8,1268.5 1434.8,1260.1 1428.8,1251.5 1422.8,1242.9 1416.8,1234.9 1410.8,1227.4 1404.7,1220.6 1398.7,1214.5 1392.7,1208.5 1386.7,1202.5 1380.7,1197.6 1374.7,1193.6 1368.6,1188.5 1362.6,1181.7 1356.6,1174.5 1350.6,1167.1 1344.6,1159.1 1338.5,1147.7 1332.5,1138.6 1326.5,1131.2 1320.5,1123.7 1314.5,1116.5 1308.5,1110.8 1302.5,1106.4 1296.4,1100.3 1290.4,1093.4 1284.4,1086.6 1278.4,1078.9 1272.4,1068.6 1266.3,1059.1 1260.3,1050.9 1254.3,1043.4 1248.3,1035.8 1242.3,1029.8 1236.3,1025.5 1230.2,1018.2 1224.2,1010.6 1218.2,1003 1212.2,994.9 1206.2,985 1200.2,975.4 1194.2,965.7 1188.1,957.5 1182.1,949.7 1176.1,942.4 1170.1,935.1 1164.1,927.6 1158,919.9 1152,912.2 1146,904.4 1140,896.7" fill="#1988d0"/>
<polygon points="1140,884.5 1146,892 1152,899.5 1158,907 1164.1,914.5 1170.1,921.8 1176.1,928.8 1182.1,936 1188.1,943.5 1194.2,951.5 1200.2,957.7 1206.2,964.2 1212.2,970.3 1218.2,976.9 1224.2,984.4 1230.2,992 1236.3,1000.3 1242.3,1010.1 1248.3,1020 1254.3,1028.1 1260.3,1036.2 1266.3,1043.5 1272.4,1048.9 1278.4,1054.6 1284.4,1061 1290.4,1067.9 1296.4,1074.7 1302.5,1082.3 1308.5,1090.8 1314.5,1100 1320.5,1107.6 1326.5,1115.1 1332.5,1122.5 1338.5,1128.2 1344.6,1133.5 1350.6,1141.1 1356.6,1148.5 1362.6,1155.6 1368.6,1162.4 1374.7,1170.3 1380.7,1177.7 1386.7,1184.5 1392.7,1189.6 1398.7,1194.7 1404.7,1201.6 1410.8,1209.8 1416.8,1219.2 1422.8,1228.1 1428.8,1236.3 1434.8,1244.5 1440.8,1252.4 1446.8,1259.5 1452.9,1265.6 1458.9,1272 1464.9,1279.3 1470.9,1285.6 1476.9,1290.5 1483,1294.4 1489,1298.8 1495,1302.6 1501,1305.8 1507,1307.1 1513,1307.2 1519,1308.2 1525.1,1309.6 1531.1,1310.7 1537.1,1311.7 1543.1,1312.6 1549.1,1313.3 1555.2,1314 1561.2,1314.4 1567.2,1314.9 1573.2,1315.3 1579.2,1315.6 1585.2,1315.6 1591.2,1315.6 1597.3,1315.4 1603.3,1315.3 1609.3,1315.2 1615.3,1315.1 1621.3,1315 1627.3,1314.8 1633.4,1314.7 1639.4,1314.6 1645.4,1314.5 1651.4,1314.4 1657.4,1314.3 1663.5,1314.1 1669.5,1314 1675.5,1313.9 1681.5,1313.8 1687.5,1313.7 1693.5,1313.6 1699.5,1313.4 1705.6,1313.3 1711.6,1313.2 1717.6,1313.1 1723.6,1313 1729.6,1312.9 1735.7,1312.7 1741.7,1312.6 1747.7,1312.5 1753.7,1312.4 1759.7,1312.3 1765.7,1312.2 1771.8,1312 1777.8,1311.9 1783.8,1311.8 1789.8,1311.7 1795.8,1311.6 1801.8,1311.5 1807.8,1311.3 1813.9,1311.2 1819.9,1311.1 1825.9,1311 1831.9,1310.9 1837.9,1310.8 1844,1310.6 1850,1310.5 1856,1310.4 1862,1310.3 1862,1363.1 1856,1362.9 1850,1362.7 1844,1362.6 1837.9,1362.4 1831.9,1362.3 1825.9,1362.1 1819.9,1361.9 1813.9,1361.8 1807.8,1361.6 1801.8,1361.5 1795.8,1361.3 1789.8,1361.1 1783.8,1361 1777.8,1360.8 1771.8,1360.7 1765.7,1360.5 1759.7,1360.3 1753.7,1360.2 1747.7,1360 1741.7,1359.9 1735.7,1359.7 1729.6,1359.5 1723.6,1359.4 1717.6,1359.2 1711.6,1359.1 1705.6,1358.9 1699.5,1358.7 1693.5,1358.6 1687.5,1358.4 1681.5,1358.3 1675.5,1358.1 1669.5,1357.9 1663.5,1357.8 1657.4,1357.6 1651.4,1357.5 1645.4,1357.3 1639.4,1357.2 1633.4,1357 1627.3,1356.8 1621.3,1356.7 1615.3,1356.5 1609.3,1356.4 1603.3,1356.2 1597.3,1356 1591.2,1355.9 1585.2,1355.7 1579.2,1355.3 1573.2,1354.8 1567.2,1354.1 1561.2,1353.4 1555.2,1352.7 1549.1,1351.7 1543.1,1350 1537.1,1347.9 1531.1,1345.7 1525.1,1343.4 1519,1340.9 1513,1337.2 1507,1332 1501,1328.1 1495,1325.1 1489,1321.8 1483,1319 1476.9,1315.4 1470.9,1310 1464.9,1303.3 1458.9,1294.9 1452.9,1285.6 1446.8,1276.2 1440.8,1267.4 1434.8,1259 1428.8,1250.3 1422.8,1241.7 1416.8,1233.8 1410.8,1226.4 1404.7,1219.7 1398.7,1213.6 1392.7,1207.6 1386.7,1201.5 1380.7,1196.8 1374.7,1191.7 1368.6,1186.8 1362.6,1180 1356.6,1172.8 1350.6,1165.4 1344.6,1157.4 1338.5,1146.9 1332.5,1137.5 1326.5,1130.1 1320.5,1122.7 1314.5,1115.5 1308.5,1110 1302.5,1104.6 1296.4,1098.7 1290.4,1091.8 1284.4,1084.9 1278.4,1077.2 1272.4,1067.9 1266.3,1058.1 1260.3,1049.8 1254.3,1042.3 1248.3,1034.8 1242.3,1029.1 1236.3,1023.9 1230.2,1016.7 1224.2,1009 1218.2,1001.5 1212.2,993.2 1206.2,983.7 1200.2,974.6 1194.2,964.6 1188.1,956.4 1182.1,948.7 1176.1,941.3 1170.1,934 1164.1,926.5 1158,918.8 1152,911 1146,903.3 1140,895.5" fill="#099dcd"/>
<polygon points="1140,886.1 1146,893.5 1152,900.9 1158,908.3 1164.1,915.8 1170.1,923 1176.1,930 1182.1,937.1 1188.1,944.7 1194.2,952.6 1200.2,958.5 1206.2,964.8 1212.2,971.4 1218.2,978 1224.2,985.5 1230.2,993.1 1236.3,1001.4 1242.3,1010.9 1248.3,1021 1254.3,1029.1 1260.3,1037.2 1266.3,1044.5 1272.4,1049.7 1278.4,1055.6 1284.4,1062.2 1290.4,1069.1 1296.4,1075.9 1302.5,1083.2 1308.5,1091.6 1314.5,1101 1320.5,1108.7 1326.5,1116.1 1332.5,1123.5 1338.5,1129 1344.6,1134.7 1350.6,1142.3 1356.6,1149.7 1362.6,1156.8 1368.6,1163.6 1374.7,1171 1380.7,1178.5 1386.7,1185.5 1392.7,1190.5 1398.7,1195.6 1404.7,1202.5 1410.8,1210.8 1416.8,1220.3 1422.8,1229.3 1428.8,1237.5 1434.8,1245.6 1440.8,1253.6 1446.8,1260.6 1452.9,1266.4 1458.9,1272.9 1464.9,1280.4 1470.9,1286.8 1476.9,1291.8 1483,1295.6 1489,1299.6 1495,1303.4 1501,1306.6 1507,1307.9 1513,1309.1 1519,1310.5 1525.1,1312.1 1531.1,1313.3 1537.1,1314.5 1543.1,1315.6 1549.1,1316.5 1555.2,1317.2 1561.2,1317.6 1567.2,1318.1 1573.2,1318.5 1579.2,1318.8 1585.2,1318.9 1591.2,1318.9 1597.3,1318.8 1603.3,1318.7 1609.3,1318.6 1615.3,1318.5 1621.3,1318.4 1627.3,1318.3 1633.4,1318.2 1639.4,1318.1 1645.4,1318 1651.4,1317.9 1657.4,1317.8 1663.5,1317.7 1669.5,1317.6 1675.5,1317.6 1681.5,1317.5 1687.5,1317.4 1693.5,1317.3 1699.5,1317.2 1705.6,1317.1 1711.6,1317 1717.6,1316.9 1723.6,1316.8 1729.6,1316.7 1735.7,1316.6 1741.7,1316.5 1747.7,1316.4 1753.7,1316.3 1759.7,1316.3 1765.7,1316.2 1771.8,1316.1 1777.8,1316 1783.8,1315.9 1789.8,1315.8 1795.8,1315.7 1801.8,1315.6 1807.8,1315.5 1813.9,1315.4 1819.9,1315.3 1825.9,1315.2 1831.9,1315.1 1837.9,1315 1844,1315 1850,1314.9 1856,1314.8 1862,1314.7 1862,1357.4 1856,1357.3 1850,1357.2 1844,1357 1837.9,1356.9 1831.9,1356.7 1825.9,1356.6 1819.9,1356.5 1813.9,1356.3 1807.8,1356.2 1801.8,1356.1 1795.8,1355.9 1789.8,1355.8 1783.8,1355.7 1777.8,1355.5 1771.8,1355.4 1765.7,1355.3 1759.7,1355.1 1753.7,1355 1747.7,1354.8 1741.7,1354.7 1735.7,1354.6 1729.6,1354.4 1723.6,1354.3 1717.6,1354.2 1711.6,1354 1705.6,1353.9 1699.5,1353.8 1693.5,1353.6 1687.5,1353.5 1681.5,1353.4 1675.5,1353.2 1669.5,1353.1 1663.5,1352.9 1657.4,1352.8 1651.4,1352.7 1645.4,1352.5 1639.4,1352.4 1633.4,1352.3 1627.3,1352.1 1621.3,1352 1615.3,1351.9 1609.3,1351.7 1603.3,1351.6 1597.3,1351.5 1591.2,1351.3 1585.2,1351.2 1579.2,1350.8 1573.2,1350.3 1567.2,1349.6 1561.2,1348.9 1555.2,1348.3 1549.1,1347.3 1543.1,1345.8 1537.1,1343.9 1531.1,1342 1525.1,1339.9 1519,1337.6 1513,1334.7 1507,1331.2 1501,1327.2 1495,1324.3 1489,1321.1 1483,1317.5 1476.9,1313.7 1470.9,1308.4 1464.9,1301.8 1458.9,1293.8 1452.9,1284.8 1446.8,1275.1 1440.8,1266.2 1434.8,1257.8 1428.8,1249.2 1422.8,1240.5 1416.8,1232.6 1410.8,1225.3 1404.7,1218.8 1398.7,1212.8 1392.7,1206.7 1386.7,1200.6 1380.7,1195.9 1374.7,1191 1368.6,1185.1 1362.6,1178.3 1356.6,1171.1 1350.6,1163.7 1344.6,1155.7 1338.5,1146.1 1332.5,1136.5 1326.5,1129.1 1320.5,1121.6 1314.5,1114.4 1308.5,1109.3 1302.5,1103.4 1296.4,1097 1290.4,1090.1 1284.4,1083.2 1278.4,1075.9 1272.4,1067.1 1266.3,1057.1 1260.3,1048.7 1254.3,1041.3 1248.3,1033.8 1242.3,1028.3 1236.3,1022.2 1230.2,1015.1 1224.2,1007.5 1218.2,999.9 1212.2,991.6 1206.2,983.1 1200.2,973.7 1194.2,963.5 1188.1,955.3 1182.1,947.5 1176.1,940.1 1170.1,932.7 1164.1,925.2 1158,917.4 1152,909.6 1146,901.8 1140,893.9" fill="#06a6c7"/>
<polygon points="1140,889.1 1146,896 1152,903.1 1158,910.3 1164.1,917.6 1170.1,924.7 1176.1,931.6 1182.1,938.7 1188.1,946.1 1194.2,954 1200.2,959.4 1206.2,965.5 1212.2,971.9 1218.2,978.8 1224.2,986.3 1230.2,994 1236.3,1002 1242.3,1011.6 1248.3,1022 1254.3,1030.2 1260.3,1038.5 1266.3,1045.6 1272.4,1050.4 1278.4,1056.2 1284.4,1062.8 1290.4,1069.7 1296.4,1076.5 1302.5,1083.9 1308.5,1092.4 1314.5,1102 1320.5,1109.7 1326.5,1117.2 1332.5,1124.6 1338.5,1129.9 1344.6,1135.3 1350.6,1142.9 1356.6,1150.3 1362.6,1157.5 1368.6,1164.3 1374.7,1171.7 1380.7,1179.4 1386.7,1186.5 1392.7,1191.4 1398.7,1196.4 1404.7,1203.4 1410.8,1211.9 1416.8,1221.5 1422.8,1230.6 1428.8,1238.7 1434.8,1246.8 1440.8,1254.6 1446.8,1261.6 1452.9,1267.3 1458.9,1273.6 1464.9,1281.1 1470.9,1287.4 1476.9,1292.4 1483,1296.3 1489,1300.3 1495,1304.2 1501,1307.5 1507,1308.6 1513,1309.8 1519,1311.3 1525.1,1312.9 1531.1,1314.1 1537.1,1315.3 1543.1,1316.5 1549.1,1317.3 1555.2,1318 1561.2,1318.5 1567.2,1318.9 1573.2,1319.4 1579.2,1319.7 1585.2,1319.8 1591.2,1319.7 1597.3,1319.6 1603.3,1319.6 1609.3,1319.5 1615.3,1319.4 1621.3,1319.3 1627.3,1319.2 1633.4,1319.1 1639.4,1319 1645.4,1318.9 1651.4,1318.8 1657.4,1318.8 1663.5,1318.7 1669.5,1318.6 1675.5,1318.5 1681.5,1318.4 1687.5,1318.3 1693.5,1318.2 1699.5,1318.1 1705.6,1318 1711.6,1317.9 1717.6,1317.9 1723.6,1317.8 1729.6,1317.7 1735.7,1317.6 1741.7,1317.5 1747.7,1317.4 1753.7,1317.3 1759.7,1317.2 1765.7,1317.1 1771.8,1317.1 1777.8,1317 1783.8,1316.9 1789.8,1316.8 1795.8,1316.7 1801.8,1316.6 1807.8,1316.5 1813.9,1316.4 1819.9,1316.3 1825.9,1316.3 1831.9,1316.2 1837.9,1316.1 1844,1316 1850,1315.9 1856,1315.8 1862,1315.7 1862,1356.3 1856,1356.1 1850,1356 1844,1355.9 1837.9,1355.8 1831.9,1355.6 1825.9,1355.5 1819.9,1355.4 1813.9,1355.2 1807.8,1355.1 1801.8,1355 1795.8,1354.8 1789.8,1354.7 1783.8,1354.6 1777.8,1354.4 1771.8,1354.3 1765.7,1354.2 1759.7,1354 1753.7,1353.9 1747.7,1353.8 1741.7,1353.6 1735.7,1353.5 1729.6,1353.4 1723.6,1353.2 1717.6,1353.1 1711.6,1353 1705.6,1352.9 1699.5,1352.7 1693.5,1352.6 1687.5,1352.5 1681.5,1352.3 1675.5,1352.2 1669.5,1352.1 1663.5,1351.9 1657.4,1351.8 1651.4,1351.7 1645.4,1351.5 1639.4,1351.4 1633.4,1351.3 1627.3,1351.1 1621.3,1351 1615.3,1350.9 1609.3,1350.7 1603.3,1350.6 1597.3,1350.5 1591.2,1350.3 1585.2,1350.2 1579.2,1349.9 1573.2,1349.3 1567.2,1348.7 1561.2,1348 1555.2,1347.3 1549.1,1346.4 1543.1,1344.9 1537.1,1343 1531.1,1341.1 1525.1,1339.1 1519,1336.8 1513,1334 1507,1330.4 1501,1326.4 1495,1323.5 1489,1320.3 1483,1316.8 1476.9,1313 1470.9,1307.8 1464.9,1301.2 1458.9,1293.1 1452.9,1283.9 1446.8,1274.1 1440.8,1265.1 1434.8,1256.7 1428.8,1248 1422.8,1239.2 1416.8,1231.5 1410.8,1224.3 1404.7,1217.9 1398.7,1211.9 1392.7,1205.8 1386.7,1199.6 1380.7,1195.1 1374.7,1190.3 1368.6,1184.4 1362.6,1177.6 1356.6,1170.4 1350.6,1163 1344.6,1155.1 1338.5,1145.2 1332.5,1135.4 1326.5,1128 1320.5,1120.6 1314.5,1113.4 1308.5,1108.5 1302.5,1102.8 1296.4,1096.3 1290.4,1089.4 1284.4,1082.6 1278.4,1075.3 1272.4,1066.4 1266.3,1056 1260.3,1047.5 1254.3,1040.1 1248.3,1032.7 1242.3,1027.6 1236.3,1021.6 1230.2,1014 1224.2,1006.3 1218.2,998.8 1212.2,991.1 1206.2,982.4 1200.2,972.9 1194.2,962.1 1188.1,953.8 1182.1,946 1176.1,938.5 1170.1,931 1164.1,923.3 1158,915.4 1152,907.4 1146,899.3 1140,890.9" fill="#0cadbc"/>
<polygon points="1140,890 1146,897.6 1152,905.2 1158,912.9 1164.1,920.5 1170.1,927.9 1176.1,935 1182.1,942.3 1188.1,948.7 1194.2,956.2 1200.2,960.2 1206.2,966.2 1212.2,972.5 1218.2,979.4 1224.2,986.8 1230.2,994.5 1236.3,1002.6 1242.3,1012.3 1248.3,1023.3 1254.3,1031.7 1260.3,1040.2 1266.3,1046.9 1272.4,1051.2 1278.4,1056.8 1284.4,1063.4 1290.4,1070.3 1296.4,1077.1 1302.5,1084.5 1308.5,1093.2 1314.5,1103.1 1320.5,1111 1326.5,1118.4 1332.5,1125.8 1338.5,1130.7 1344.6,1135.9 1350.6,1143.5 1356.6,1150.9 1362.6,1158.1 1368.6,1164.9 1374.7,1172.4 1380.7,1180.2 1386.7,1187.4 1392.7,1192.3 1398.7,1197.3 1404.7,1204.4 1410.8,1212.8 1416.8,1222.9 1422.8,1232.6 1428.8,1240.3 1434.8,1248.2 1440.8,1255.9 1446.8,1262.6 1452.9,1268.1 1458.9,1274.3 1464.9,1281.8 1470.9,1288.1 1476.9,1293.1 1483,1296.9 1489,1301 1495,1305.1 1501,1308.4 1507,1309.4 1513,1310.4 1519,1312 1525.1,1313.5 1531.1,1314.8 1537.1,1316 1543.1,1317.1 1549.1,1318 1555.2,1318.7 1561.2,1319.1 1567.2,1319.6 1573.2,1320.1 1579.2,1320.4 1585.2,1320.5 1591.2,1320.4 1597.3,1320.3 1603.3,1320.2 1609.3,1320.2 1615.3,1320.1 1621.3,1320 1627.3,1319.9 1633.4,1319.8 1639.4,1319.7 1645.4,1319.6 1651.4,1319.5 1657.4,1319.5 1663.5,1319.4 1669.5,1319.3 1675.5,1319.2 1681.5,1319.1 1687.5,1319 1693.5,1318.9 1699.5,1318.8 1705.6,1318.8 1711.6,1318.7 1717.6,1318.6 1723.6,1318.5 1729.6,1318.4 1735.7,1318.3 1741.7,1318.2 1747.7,1318.2 1753.7,1318.1 1759.7,1318 1765.7,1317.9 1771.8,1317.8 1777.8,1317.7 1783.8,1317.6 1789.8,1317.5 1795.8,1317.5 1801.8,1317.4 1807.8,1317.3 1813.9,1317.2 1819.9,1317.1 1825.9,1317 1831.9,1316.9 1837.9,1316.8 1844,1316.8 1850,1316.7 1856,1316.6 1862,1316.5 1862,1355.5 1856,1355.4 1850,1355.2 1844,1355.1 1837.9,1355 1831.9,1354.9 1825.9,1354.7 1819.9,1354.6 1813.9,1354.5 1807.8,1354.3 1801.8,1354.2 1795.8,1354.1 1789.8,1353.9 1783.8,1353.8 1777.8,1353.7 1771.8,1353.6 1765.7,1353.4 1759.7,1353.3 1753.7,1353.2 1747.7,1353 1741.7,1352.9 1735.7,1352.8 1729.6,1352.6 1723.6,1352.5 1717.6,1352.4 1711.6,1352.3 1705.6,1352.1 1699.5,1352 1693.5,1351.9 1687.5,1351.7 1681.5,1351.6 1675.5,1351.5 1669.5,1351.4 1663.5,1351.2 1657.4,1351.1 1651.4,1351 1645.4,1350.8 1639.4,1350.7 1633.4,1350.6 1627.3,1350.4 1621.3,1350.3 1615.3,1350.2 1609.3,1350.1 1603.3,1349.9 1597.3,1349.8 1591.2,1349.7 1585.2,1349.5 1579.2,1349.2 1573.2,1348.7 1567.2,1348 1561.2,1347.3 1555.2,1346.6 1549.1,1345.7 1543.1,1344.2 1537.1,1342.4 1531.1,1340.4 1525.1,1338.4 1519,1336.1 1513,1333.3 1507,1329.7 1501,1325.5 1495,1322.7 1489,1319.6 1483,1316.1 1476.9,1312.4 1470.9,1307.1 1464.9,1300.5 1458.9,1292.4 1452.9,1283.1 1446.8,1273.1 1440.8,1263.8 1434.8,1255.2 1428.8,1246.3 1422.8,1237.2 1416.8,1230.1 1410.8,1223.3 1404.7,1217 1398.7,1211.1 1392.7,1204.9 1386.7,1198.6 1380.7,1194.3 1374.7,1189.6 1368.6,1183.8 1362.6,1177 1356.6,1169.8 1350.6,1162.4 1344.6,1154.5 1338.5,1144.4 1332.5,1134.2 1326.5,1126.8 1320.5,1119.4 1314.5,1112.3 1308.5,1107.7 1302.5,1102.2 1296.4,1095.7 1290.4,1088.9 1284.4,1082 1278.4,1074.7 1272.4,1065.6 1266.3,1054.7 1260.3,1045.7 1254.3,1038.7 1248.3,1031.5 1242.3,1026.8 1236.3,1021 1230.2,1013.5 1224.2,1005.8 1218.2,998.3 1212.2,990.5 1206.2,981.7 1200.2,972 1194.2,959.9 1188.1,951.3 1182.1,942.3 1176.1,935 1170.1,927.9 1164.1,920.5 1158,912.9 1152,905.2 1146,897.6 1140,890" fill="#1cb3af"/>
<polygon points="1140,890 1146,897.6 1152,905.2 1158,912.9 1164.1,920.5 1170.1,927.9 1176.1,935 1182.1,942.3 1188.1,950 1194.2,958 1200.2,961.2 1206.2,966.8 1212.2,973.1 1218.2,979.9 1224.2,987.4 1230.2,995 1236.3,1003.1 1242.3,1013.1 1248.3,1025.2 1254.3,1034.8 1260.3,1043 1266.3,1049 1272.4,1052 1278.4,1057.4 1284.4,1064 1290.4,1070.8 1296.4,1077.7 1302.5,1085.1 1308.5,1093.9 1314.5,1104.6 1320.5,1112.7 1326.5,1120.2 1332.5,1127.6 1338.5,1131.5 1344.6,1136.5 1350.6,1144.1 1356.6,1151.5 1362.6,1158.7 1368.6,1165.5 1374.7,1173.1 1380.7,1181.1 1386.7,1188.5 1392.7,1193.2 1398.7,1198.2 1404.7,1205.2 1410.8,1214 1416.8,1225.6 1422.8,1234.9 1428.8,1243.3 1434.8,1251.3 1440.8,1258 1446.8,1263.7 1452.9,1268.9 1458.9,1275 1464.9,1282.4 1470.9,1288.7 1476.9,1293.7 1483,1297.6 1489,1301.8 1495,1305.9 1501,1309.3 1507,1310.2 1513,1311.1 1519,1312.6 1525.1,1314.2 1531.1,1315.5 1537.1,1316.7 1543.1,1317.8 1549.1,1318.6 1555.2,1319.4 1561.2,1319.8 1567.2,1320.3 1573.2,1320.7 1579.2,1321 1585.2,1321.2 1591.2,1321.1 1597.3,1321 1603.3,1320.9 1609.3,1320.8 1615.3,1320.8 1621.3,1320.7 1627.3,1320.6 1633.4,1320.5 1639.4,1320.4 1645.4,1320.3 1651.4,1320.2 1657.4,1320.2 1663.5,1320.1 1669.5,1320 1675.5,1319.9 1681.5,1319.8 1687.5,1319.7 1693.5,1319.7 1699.5,1319.6 1705.6,1319.5 1711.6,1319.4 1717.6,1319.3 1723.6,1319.2 1729.6,1319.1 1735.7,1319.1 1741.7,1319 1747.7,1318.9 1753.7,1318.8 1759.7,1318.7 1765.7,1318.6 1771.8,1318.5 1777.8,1318.5 1783.8,1318.4 1789.8,1318.3 1795.8,1318.2 1801.8,1318.1 1807.8,1318 1813.9,1318 1819.9,1317.9 1825.9,1317.8 1831.9,1317.7 1837.9,1317.6 1844,1317.5 1850,1317.4 1856,1317.4 1862,1317.3 1862,1354.7 1856,1354.6 1850,1354.5 1844,1354.3 1837.9,1354.2 1831.9,1354.1 1825.9,1354 1819.9,1353.8 1813.9,1353.7 1807.8,1353.6 1801.8,1353.4 1795.8,1353.3 1789.8,1353.2 1783.8,1353.1 1777.8,1352.9 1771.8,1352.8 1765.7,1352.7 1759.7,1352.6 1753.7,1352.4 1747.7,1352.3 1741.7,1352.2 1735.7,1352 1729.6,1351.9 1723.6,1351.8 1717.6,1351.7 1711.6,1351.5 1705.6,1351.4 1699.5,1351.3 1693.5,1351.2 1687.5,1351 1681.5,1350.9 1675.5,1350.8 1669.5,1350.6 1663.5,1350.5 1657.4,1350.4 1651.4,1350.3 1645.4,1350.1 1639.4,1350 1633.4,1349.9 1627.3,1349.8 1621.3,1349.6 1615.3,1349.5 1609.3,1349.4 1603.3,1349.2 1597.3,1349.1 1591.2,1349 1585.2,1348.8 1579.2,1348.5 1573.2,1348 1567.2,1347.3 1561.2,1346.6 1555.2,1346 1549.1,1345 1543.1,1343.6 1537.1,1341.7 1531.1,1339.8 1525.1,1337.8 1519,1335.5 1513,1332.7 1507,1328.9 1501,1324.6 1495,1321.8 1489,1318.8 1483,1315.4 1476.9,1311.7 1470.9,1306.4 1464.9,1299.8 1458.9,1291.7 1452.9,1282.3 1446.8,1271.9 1440.8,1261.8 1434.8,1252.1 1428.8,1243.3 1422.8,1234.9 1416.8,1227.4 1410.8,1222.2 1404.7,1216.1 1398.7,1210.2 1392.7,1204 1386.7,1197.6 1380.7,1193.4 1374.7,1188.9 1368.6,1183.2 1362.6,1176.4 1356.6,1169.3 1350.6,1161.8 1344.6,1153.9 1338.5,1143.6 1332.5,1132.4 1326.5,1125 1320.5,1117.6 1314.5,1110.8 1308.5,1106.9 1302.5,1101.6 1296.4,1095.2 1290.4,1088.3 1284.4,1081.4 1278.4,1074.1 1272.4,1064.9 1266.3,1052.6 1260.3,1043 1254.3,1035.6 1248.3,1029.6 1242.3,1026.1 1236.3,1020.5 1230.2,1013 1224.2,1005.3 1218.2,997.8 1212.2,990 1206.2,981.1 1200.2,971.1 1194.2,958 1188.1,950 1182.1,942.3 1176.1,935 1170.1,927.9 1164.1,920.5 1158,912.9 1152,905.2 1146,897.6 1140,890" fill="#33b8a1"/>
<polygon points="1140,890 1146,897.6 1152,905.2 1158,912.9 1164.1,920.5 1170.1,927.9 1176.1,935 1182.1,942.3 1188.1,950 1194.2,958 1200.2,962.3 1206.2,967.5 1212.2,973.6 1218.2,980.4 1224.2,987.9 1230.2,995.5 1236.3,1003.7 1242.3,1013.8 1248.3,1027.4 1254.3,1035.2 1260.3,1043 1266.3,1050.8 1272.4,1052.7 1278.4,1058 1284.4,1064.5 1290.4,1071.4 1296.4,1078.2 1302.5,1085.7 1308.5,1094.7 1314.5,1107.7 1320.5,1115.2 1326.5,1122.6 1332.5,1130 1338.5,1132.3 1344.6,1137.1 1350.6,1144.7 1356.6,1152.1 1362.6,1159.3 1368.6,1166.1 1374.7,1173.8 1380.7,1181.9 1386.7,1189.8 1392.7,1194.2 1398.7,1199 1404.7,1206.2 1410.8,1215.7 1416.8,1226.5 1422.8,1234.9 1428.8,1243.3 1434.8,1251.7 1440.8,1259.9 1446.8,1265.4 1452.9,1269.7 1458.9,1275.7 1464.9,1283.1 1470.9,1289.4 1476.9,1294.4 1483,1298.3 1489,1302.5 1495,1306.7 1501,1310.2 1507,1310.9 1513,1311.8 1519,1313.3 1525.1,1314.8 1531.1,1316.1 1537.1,1317.3 1543.1,1318.4 1549.1,1319.3 1555.2,1320 1561.2,1320.5 1567.2,1320.9 1573.2,1321.4 1579.2,1321.7 1585.2,1321.8 1591.2,1321.8 1597.3,1321.7 1603.3,1321.6 1609.3,1321.5 1615.3,1321.4 1621.3,1321.4 1627.3,1321.3 1633.4,1321.2 1639.4,1321.1 1645.4,1321 1651.4,1320.9 1657.4,1320.9 1663.5,1320.8 1669.5,1320.7 1675.5,1320.6 1681.5,1320.5 1687.5,1320.5 1693.5,1320.4 1699.5,1320.3 1705.6,1320.2 1711.6,1320.1 1717.6,1320 1723.6,1320 1729.6,1319.9 1735.7,1319.8 1741.7,1319.7 1747.7,1319.6 1753.7,1319.5 1759.7,1319.5 1765.7,1319.4 1771.8,1319.3 1777.8,1319.2 1783.8,1319.1 1789.8,1319 1795.8,1319 1801.8,1318.9 1807.8,1318.8 1813.9,1318.7 1819.9,1318.6 1825.9,1318.6 1831.9,1318.5 1837.9,1318.4 1844,1318.3 1850,1318.2 1856,1318.1 1862,1318.1 1862,1353.9 1856,1353.8 1850,1353.7 1844,1353.6 1837.9,1353.4 1831.9,1353.3 1825.9,1353.2 1819.9,1353.1 1813.9,1352.9 1807.8,1352.8 1801.8,1352.7 1795.8,1352.6 1789.8,1352.4 1783.8,1352.3 1777.8,1352.2 1771.8,1352.1 1765.7,1351.9 1759.7,1351.8 1753.7,1351.7 1747.7,1351.6 1741.7,1351.4 1735.7,1351.3 1729.6,1351.2 1723.6,1351.1 1717.6,1350.9 1711.6,1350.8 1705.6,1350.7 1699.5,1350.6 1693.5,1350.4 1687.5,1350.3 1681.5,1350.2 1675.5,1350.1 1669.5,1349.9 1663.5,1349.8 1657.4,1349.7 1651.4,1349.6 1645.4,1349.4 1639.4,1349.3 1633.4,1349.2 1627.3,1349.1 1621.3,1348.9 1615.3,1348.8 1609.3,1348.7 1603.3,1348.6 1597.3,1348.4 1591.2,1348.3 1585.2,1348.2 1579.2,1347.8 1573.2,1347.3 1567.2,1346.6 1561.2,1346 1555.2,1345.3 1549.1,1344.4 1543.1,1342.9 1537.1,1341 1531.1,1339.1 1525.1,1337.1 1519,1334.8 1513,1332 1507,1328.1 1501,1323.7 1495,1321 1489,1318.1 1483,1314.8 1476.9,1311.1 1470.9,1305.8 1464.9,1299.2 1458.9,1291 1452.9,1281.5 1446.8,1270.3 1440.8,1259.9 1434.8,1251.7 1428.8,1243.3 1422.8,1234.9 1416.8,1226.5 1410.8,1220.5 1404.7,1215.1 1398.7,1209.4 1392.7,1203 1386.7,1196.3 1380.7,1192.6 1374.7,1188.2 1368.6,1182.6 1362.6,1175.8 1356.6,1168.7 1350.6,1161.2 1344.6,1153.3 1338.5,1142.8 1332.5,1130 1326.5,1122.6 1320.5,1115.2 1314.5,1107.7 1308.5,1106.2 1302.5,1100.9 1296.4,1094.6 1290.4,1087.7 1284.4,1080.9 1278.4,1073.5 1272.4,1064.1 1266.3,1050.8 1260.3,1043 1254.3,1035.2 1248.3,1027.4 1242.3,1025.4 1236.3,1019.9 1230.2,1012.5 1224.2,1004.8 1218.2,997.3 1212.2,989.4 1206.2,980.4 1200.2,970 1194.2,958 1188.1,950 1182.1,942.3 1176.1,935 1170.1,927.9 1164.1,920.5 1158,912.9 1152,905.2 1146,897.6 1140,890" fill="#4ebc91"/>
<polygon points="1140,890 1146,897.6 1152,905.2 1158,912.9 1164.1,920.5 1170.1,927.9 1176.1,935 1182.1,942.3 1188.1,950 1194.2,958 1200.2,964 1206.2,968.2 1212.2,974.2 1218.2,980.9 1224.2,988.4 1230.2,996.1 1236.3,1004.2 1242.3,1014.6 1248.3,1027.4 1254.3,1035.2 1260.3,1043 1266.3,1050.8 1272.4,1053.6 1278.4,1058.6 1284.4,1065.1 1290.4,1072 1296.4,1078.8 1302.5,1086.3 1308.5,1095.5 1314.5,1107.7 1320.5,1115.2 1326.5,1122.6 1332.5,1130 1338.5,1133.3 1344.6,1137.7 1350.6,1145.3 1356.6,1152.7 1362.6,1159.9 1368.6,1166.7 1374.7,1174.5 1380.7,1182.8 1386.7,1193 1392.7,1195.5 1398.7,1199.9 1404.7,1207.5 1410.8,1218.1 1416.8,1226.5 1422.8,1234.9 1428.8,1243.3 1434.8,1251.7 1440.8,1259.9 1446.8,1267.8 1452.9,1270.5 1458.9,1276.4 1464.9,1283.7 1470.9,1290 1476.9,1295 1483,1298.9 1489,1303.3 1495,1307.5 1501,1311.2 1507,1311.7 1513,1312.5 1519,1313.9 1525.1,1315.5 1531.1,1316.8 1537.1,1318 1543.1,1319.1 1549.1,1320 1555.2,1320.7 1561.2,1321.2 1567.2,1321.6 1573.2,1322.1 1579.2,1322.4 1585.2,1322.5 1591.2,1322.5 1597.3,1322.4 1603.3,1322.3 1609.3,1322.2 1615.3,1322.1 1621.3,1322.1 1627.3,1322 1633.4,1321.9 1639.4,1321.8 1645.4,1321.7 1651.4,1321.7 1657.4,1321.6 1663.5,1321.5 1669.5,1321.4 1675.5,1321.3 1681.5,1321.2 1687.5,1321.2 1693.5,1321.1 1699.5,1321 1705.6,1320.9 1711.6,1320.8 1717.6,1320.8 1723.6,1320.7 1729.6,1320.6 1735.7,1320.5 1741.7,1320.4 1747.7,1320.4 1753.7,1320.3 1759.7,1320.2 1765.7,1320.1 1771.8,1320 1777.8,1320 1783.8,1319.9 1789.8,1319.8 1795.8,1319.7 1801.8,1319.6 1807.8,1319.6 1813.9,1319.5 1819.9,1319.4 1825.9,1319.3 1831.9,1319.2 1837.9,1319.2 1844,1319.1 1850,1319 1856,1318.9 1862,1318.8 1862,1353.2 1856,1353 1850,1352.9 1844,1352.8 1837.9,1352.7 1831.9,1352.5 1825.9,1352.4 1819.9,1352.3 1813.9,1352.2 1807.8,1352.1 1801.8,1351.9 1795.8,1351.8 1789.8,1351.7 1783.8,1351.6 1777.8,1351.4 1771.8,1351.3 1765.7,1351.2 1759.7,1351.1 1753.7,1350.9 1747.7,1350.8 1741.7,1350.7 1735.7,1350.6 1729.6,1350.5 1723.6,1350.3 1717.6,1350.2 1711.6,1350.1 1705.6,1350 1699.5,1349.8 1693.5,1349.7 1687.5,1349.6 1681.5,1349.5 1675.5,1349.3 1669.5,1349.2 1663.5,1349.1 1657.4,1349 1651.4,1348.9 1645.4,1348.7 1639.4,1348.6 1633.4,1348.5 1627.3,1348.4 1621.3,1348.2 1615.3,1348.1 1609.3,1348 1603.3,1347.9 1597.3,1347.7 1591.2,1347.6 1585.2,1347.5 1579.2,1347.1 1573.2,1346.6 1567.2,1346 1561.2,1345.3 1555.2,1344.6 1549.1,1343.7 1543.1,1342.2 1537.1,1340.4 1531.1,1338.5 1525.1,1336.4 1519,1334.2 1513,1331.3 1507,1327.4 1501,1322.7 1495,1320.2 1489,1317.4 1483,1314.1 1476.9,1310.4 1470.9,1305.1 1464.9,1298.5 1458.9,1290.3 1452.9,1280.7 1446.8,1267.8 1440.8,1259.9 1434.8,1251.7 1428.8,1243.3 1422.8,1234.9 1416.8,1226.5 1410.8,1218.1 1404.7,1213.8 1398.7,1208.4 1392.7,1201.7 1386.7,1193 1380.7,1191.7 1374.7,1187.5 1368.6,1182 1362.6,1175.2 1356.6,1168.1 1350.6,1160.6 1344.6,1152.7 1338.5,1141.8 1332.5,1130 1326.5,1122.6 1320.5,1115.2 1314.5,1107.7 1308.5,1105.3 1302.5,1100.3 1296.4,1094 1290.4,1087.2 1284.4,1080.3 1278.4,1072.9 1272.4,1063.3 1266.3,1050.8 1260.3,1043 1254.3,1035.2 1248.3,1027.4 1242.3,1024.6 1236.3,1019.4 1230.2,1011.9 1224.2,1004.3 1218.2,996.8 1212.2,988.9 1206.2,979.7 1200.2,968.2 1194.2,958 1188.1,950 1182.1,942.3 1176.1,935 1170.1,927.9 1164.1,920.5 1158,912.9 1152,905.2 1146,897.6 1140,890" fill="#6dbf82"/>
<polygon points="1140,890 1146,897.6 1152,905.2 1158,912.9 1164.1,920.5 1170.1,927.9 1176.1,935 1182.1,942.3 1188.1,950 1194.2,958 1200.2,966.1 1206.2,968.9 1212.2,974.7 1218.2,981.4 1224.2,988.9 1230.2,996.6 1236.3,1004.8 1242.3,1015.6 1248.3,1027.4 1254.3,1035.2 1260.3,1043 1266.3,1050.8 1272.4,1054.6 1278.4,1059.2 1284.4,1065.7 1290.4,1072.5 1296.4,1079.4 1302.5,1087 1308.5,1096.5 1314.5,1107.7 1320.5,1115.2 1326.5,1122.6 1332.5,1130 1338.5,1134.6 1344.6,1138.3 1350.6,1145.9 1356.6,1153.3 1362.6,1160.5 1368.6,1167.3 1374.7,1175.1 1380.7,1183.9 1386.7,1193 1392.7,1198.6 1398.7,1201.2 1404.7,1210.3 1410.8,1218.1 1416.8,1226.5 1422.8,1234.9 1428.8,1243.3 1434.8,1251.7 1440.8,1259.9 1446.8,1267.8 1452.9,1271.5 1458.9,1277.1 1464.9,1284.4 1470.9,1290.7 1476.9,1295.7 1483,1299.6 1489,1304 1495,1308.4 1501,1312.4 1507,1312.5 1513,1313.1 1519,1314.6 1525.1,1316.1 1531.1,1317.4 1537.1,1318.6 1543.1,1319.8 1549.1,1320.6 1555.2,1321.4 1561.2,1321.8 1567.2,1322.3 1573.2,1322.8 1579.2,1323.1 1585.2,1323.2 1591.2,1323.1 1597.3,1323.1 1603.3,1323 1609.3,1322.9 1615.3,1322.8 1621.3,1322.7 1627.3,1322.7 1633.4,1322.6 1639.4,1322.5 1645.4,1322.4 1651.4,1322.4 1657.4,1322.3 1663.5,1322.2 1669.5,1322.1 1675.5,1322 1681.5,1322 1687.5,1321.9 1693.5,1321.8 1699.5,1321.7 1705.6,1321.6 1711.6,1321.6 1717.6,1321.5 1723.6,1321.4 1729.6,1321.3 1735.7,1321.3 1741.7,1321.2 1747.7,1321.1 1753.7,1321 1759.7,1320.9 1765.7,1320.9 1771.8,1320.8 1777.8,1320.7 1783.8,1320.6 1789.8,1320.6 1795.8,1320.5 1801.8,1320.4 1807.8,1320.3 1813.9,1320.2 1819.9,1320.2 1825.9,1320.1 1831.9,1320 1837.9,1319.9 1844,1319.8 1850,1319.8 1856,1319.7 1862,1319.6 1862,1352.4 1856,1352.3 1850,1352.1 1844,1352 1837.9,1351.9 1831.9,1351.8 1825.9,1351.7 1819.9,1351.5 1813.9,1351.4 1807.8,1351.3 1801.8,1351.2 1795.8,1351.1 1789.8,1350.9 1783.8,1350.8 1777.8,1350.7 1771.8,1350.6 1765.7,1350.5 1759.7,1350.3 1753.7,1350.2 1747.7,1350.1 1741.7,1350 1735.7,1349.8 1729.6,1349.7 1723.6,1349.6 1717.6,1349.5 1711.6,1349.4 1705.6,1349.2 1699.5,1349.1 1693.5,1349 1687.5,1348.9 1681.5,1348.8 1675.5,1348.6 1669.5,1348.5 1663.5,1348.4 1657.4,1348.3 1651.4,1348.2 1645.4,1348 1639.4,1347.9 1633.4,1347.8 1627.3,1347.7 1621.3,1347.5 1615.3,1347.4 1609.3,1347.3 1603.3,1347.2 1597.3,1347.1 1591.2,1346.9 1585.2,1346.8 1579.2,1346.5 1573.2,1346 1567.2,1345.3 1561.2,1344.6 1555.2,1344 1549.1,1343 1543.1,1341.6 1537.1,1339.7 1531.1,1337.8 1525.1,1335.8 1519,1333.5 1513,1330.6 1507,1326.6 1501,1321.4 1495,1319.3 1489,1316.7 1483,1313.4 1476.9,1309.8 1470.9,1304.5 1464.9,1297.9 1458.9,1289.6 1452.9,1279.7 1446.8,1267.8 1440.8,1259.9 1434.8,1251.7 1428.8,1243.3 1422.8,1234.9 1416.8,1226.5 1410.8,1218.1 1404.7,1211 1398.7,1207.2 1392.7,1198.6 1386.7,1193 1380.7,1190.5 1374.7,1186.9 1368.6,1181.4 1362.6,1174.6 1356.6,1167.5 1350.6,1160 1344.6,1152.1 1338.5,1140.5 1332.5,1130 1326.5,1122.6 1320.5,1115.2 1314.5,1107.7 1308.5,1104.4 1302.5,1099.7 1296.4,1093.4 1290.4,1086.6 1284.4,1079.7 1278.4,1072.3 1272.4,1062.3 1266.3,1050.8 1260.3,1043 1254.3,1035.2 1248.3,1027.4 1242.3,1023.6 1236.3,1018.8 1230.2,1011.4 1224.2,1003.7 1218.2,996.2 1212.2,988.3 1206.2,979 1200.2,966.1 1194.2,958 1188.1,950 1182.1,942.3 1176.1,935 1170.1,927.9 1164.1,920.5 1158,912.9 1152,905.2 1146,897.6 1140,890" fill="#89bf76"/>
<polygon points="1140,890 1146,897.6 1152,905.2 1158,912.9 1164.1,920.5 1170.1,927.9 1176.1,935 1182.1,942.3 1188.1,950 1194.2,958 1200.2,966.1 1206.2,969.8 1212.2,975.3 1218.2,982 1224.2,989.4 1230.2,997.1 1236.3,1005.3 1242.3,1016.9 1248.3,1027.4 1254.3,1035.2 1260.3,1043 1266.3,1050.8 1272.4,1056 1278.4,1059.8 1284.4,1066.3 1290.4,1073.1 1296.4,1080 1302.5,1087.6 1308.5,1097.9 1314.5,1107.7 1320.5,1115.2 1326.5,1122.6 1332.5,1130 1338.5,1137.6 1344.6,1138.9 1350.6,1146.5 1356.6,1153.9 1362.6,1161.1 1368.6,1167.9 1374.7,1175.8 1380.7,1185.9 1386.7,1193 1392.7,1198.6 1398.7,1204.2 1404.7,1210.7 1410.8,1218.1 1416.8,1226.5 1422.8,1234.9 1428.8,1243.3 1434.8,1251.7 1440.8,1259.9 1446.8,1267.8 1452.9,1272.7 1458.9,1277.7 1464.9,1285.1 1470.9,1291.3 1476.9,1296.3 1483,1300.3 1489,1304.7 1495,1309.6 1501,1314.2 1507,1313.4 1513,1313.8 1519,1315.2 1525.1,1316.8 1531.1,1318.1 1537.1,1319.3 1543.1,1320.4 1549.1,1321.3 1555.2,1322 1561.2,1322.5 1567.2,1323 1573.2,1323.4 1579.2,1323.7 1585.2,1323.9 1591.2,1323.8 1597.3,1323.7 1603.3,1323.7 1609.3,1323.6 1615.3,1323.5 1621.3,1323.4 1627.3,1323.4 1633.4,1323.3 1639.4,1323.2 1645.4,1323.1 1651.4,1323.1 1657.4,1323 1663.5,1322.9 1669.5,1322.8 1675.5,1322.8 1681.5,1322.7 1687.5,1322.6 1693.5,1322.5 1699.5,1322.4 1705.6,1322.4 1711.6,1322.3 1717.6,1322.2 1723.6,1322.1 1729.6,1322.1 1735.7,1322 1741.7,1321.9 1747.7,1321.8 1753.7,1321.8 1759.7,1321.7 1765.7,1321.6 1771.8,1321.5 1777.8,1321.5 1783.8,1321.4 1789.8,1321.3 1795.8,1321.2 1801.8,1321.2 1807.8,1321.1 1813.9,1321 1819.9,1320.9 1825.9,1320.8 1831.9,1320.8 1837.9,1320.7 1844,1320.6 1850,1320.5 1856,1320.5 1862,1320.4 1862,1351.6 1856,1351.5 1850,1351.4 1844,1351.3 1837.9,1351.1 1831.9,1351 1825.9,1350.9 1819.9,1350.8 1813.9,1350.7 1807.8,1350.5 1801.8,1350.4 1795.8,1350.3 1789.8,1350.2 1783.8,1350.1 1777.8,1349.9 1771.8,1349.8 1765.7,1349.7 1759.7,1349.6 1753.7,1349.5 1747.7,1349.4 1741.7,1349.2 1735.7,1349.1 1729.6,1349 1723.6,1348.9 1717.6,1348.8 1711.6,1348.6 1705.6,1348.5 1699.5,1348.4 1693.5,1348.3 1687.5,1348.2 1681.5,1348 1675.5,1347.9 1669.5,1347.8 1663.5,1347.7 1657.4,1347.6 1651.4,1347.4 1645.4,1347.3 1639.4,1347.2 1633.4,1347.1 1627.3,1347 1621.3,1346.9 1615.3,1346.7 1609.3,1346.6 1603.3,1346.5 1597.3,1346.4 1591.2,1346.3 1585.2,1346.1 1579.2,1345.8 1573.2,1345.3 1567.2,1344.6 1561.2,1344 1555.2,1343.3 1549.1,1342.4 1543.1,1340.9 1537.1,1339.1 1531.1,1337.1 1525.1,1335.1 1519,1332.9 1513,1329.9 1507,1325.6 1501,1319.7 1495,1318.2 1489,1315.9 1483,1312.8 1476.9,1309.1 1470.9,1303.8 1464.9,1297.2 1458.9,1289 1452.9,1278.5 1446.8,1267.8 1440.8,1259.9 1434.8,1251.7 1428.8,1243.3 1422.8,1234.9 1416.8,1226.5 1410.8,1218.1 1404.7,1210.7 1398.7,1204.2 1392.7,1198.6 1386.7,1193 1380.7,1188.6 1374.7,1186.2 1368.6,1180.8 1362.6,1174 1356.6,1166.9 1350.6,1159.4 1344.6,1151.5 1338.5,1137.6 1332.5,1130 1326.5,1122.6 1320.5,1115.2 1314.5,1107.7 1308.5,1103 1302.5,1099.1 1296.4,1092.9 1290.4,1086 1284.4,1079.2 1278.4,1071.7 1272.4,1060.9 1266.3,1050.8 1260.3,1043 1254.3,1035.2 1248.3,1027.4 1242.3,1022.3 1236.3,1018.3 1230.2,1010.9 1224.2,1003.2 1218.2,995.7 1212.2,987.7 1206.2,978.1 1200.2,966.1 1194.2,958 1188.1,950 1182.1,942.3 1176.1,935 1170.1,927.9 1164.1,920.5 1158,912.9 1152,905.2 1146,897.6 1140,890" fill="#a3be6c"/>
<polygon points="1140,890 1146,897.6 1152,905.2 1158,912.9 1164.1,920.5 1170.1,927.9 1176.1,935 1182.1,942.3 1188.1,950 1194.2,958 1200.2,966.1 1206.2,971 1212.2,975.8 1218.2,982.5 1224.2,990 1230.2,997.6 1236.3,1005.9 1242.3,1019.6 1248.3,1027.4 1254.3,1035.2 1260.3,1043 1266.3,1050.8 1272.4,1058.4 1278.4,1060.4 1284.4,1066.8 1290.4,1073.7 1296.4,1080.5 1302.5,1088.2 1308.5,1100.4 1314.5,1107.7 1320.5,1115.2 1326.5,1122.6 1332.5,1130 1338.5,1137.6 1344.6,1139.5 1350.6,1147.1 1356.6,1154.5 1362.6,1161.6 1368.6,1168.5 1374.7,1176.6 1380.7,1187.2 1386.7,1193 1392.7,1198.6 1398.7,1204.2 1404.7,1210.7 1410.8,1218.1 1416.8,1226.5 1422.8,1234.9 1428.8,1243.3 1434.8,1251.7 1440.8,1259.9 1446.8,1267.8 1452.9,1275.6 1458.9,1278.4 1464.9,1285.7 1470.9,1292 1476.9,1296.9 1483,1300.9 1489,1305.6 1495,1311.1 1501,1316.9 1507,1314.5 1513,1314.6 1519,1315.9 1525.1,1317.5 1531.1,1318.8 1537.1,1320 1543.1,1321.2 1549.1,1322 1555.2,1322.8 1561.2,1323.2 1567.2,1323.7 1573.2,1324.2 1579.2,1324.5 1585.2,1324.6 1591.2,1324.6 1597.3,1324.5 1603.3,1324.4 1609.3,1324.3 1615.3,1324.3 1621.3,1324.2 1627.3,1324.1 1633.4,1324.1 1639.4,1324 1645.4,1323.9 1651.4,1323.8 1657.4,1323.8 1663.5,1323.7 1669.5,1323.6 1675.5,1323.5 1681.5,1323.5 1687.5,1323.4 1693.5,1323.3 1699.5,1323.3 1705.6,1323.2 1711.6,1323.1 1717.6,1323 1723.6,1323 1729.6,1322.9 1735.7,1322.8 1741.7,1322.8 1747.7,1322.7 1753.7,1322.6 1759.7,1322.5 1765.7,1322.5 1771.8,1322.4 1777.8,1322.3 1783.8,1322.2 1789.8,1322.2 1795.8,1322.1 1801.8,1322 1807.8,1322 1813.9,1321.9 1819.9,1321.8 1825.9,1321.7 1831.9,1321.7 1837.9,1321.6 1844,1321.5 1850,1321.4 1856,1321.4 1862,1321.3 1862,1350.7 1856,1350.6 1850,1350.5 1844,1350.4 1837.9,1350.2 1831.9,1350.1 1825.9,1350 1819.9,1349.9 1813.9,1349.8 1807.8,1349.7 1801.8,1349.5 1795.8,1349.4 1789.8,1349.3 1783.8,1349.2 1777.8,1349.1 1771.8,1349 1765.7,1348.9 1759.7,1348.7 1753.7,1348.6 1747.7,1348.5 1741.7,1348.4 1735.7,1348.3 1729.6,1348.2 1723.6,1348 1717.6,1347.9 1711.6,1347.8 1705.6,1347.7 1699.5,1347.6 1693.5,1347.5 1687.5,1347.4 1681.5,1347.2 1675.5,1347.1 1669.5,1347 1663.5,1346.9 1657.4,1346.8 1651.4,1346.7 1645.4,1346.6 1639.4,1346.4 1633.4,1346.3 1627.3,1346.2 1621.3,1346.1 1615.3,1346 1609.3,1345.9 1603.3,1345.7 1597.3,1345.6 1591.2,1345.5 1585.2,1345.4 1579.2,1345.1 1573.2,1344.6 1567.2,1343.9 1561.2,1343.2 1555.2,1342.6 1549.1,1341.7 1543.1,1340.2 1537.1,1338.3 1531.1,1336.4 1525.1,1334.4 1519,1332.2 1513,1329.2 1507,1324.5 1501,1316.9 1495,1316.6 1489,1315.1 1483,1312.2 1476.9,1308.5 1470.9,1303.2 1464.9,1296.6 1458.9,1288.3 1452.9,1275.6 1446.8,1267.8 1440.8,1259.9 1434.8,1251.7 1428.8,1243.3 1422.8,1234.9 1416.8,1226.5 1410.8,1218.1 1404.7,1210.7 1398.7,1204.2 1392.7,1198.6 1386.7,1193 1380.7,1187.2 1374.7,1185.4 1368.6,1180.2 1362.6,1173.4 1356.6,1166.3 1350.6,1158.8 1344.6,1150.9 1338.5,1137.6 1332.5,1130 1326.5,1122.6 1320.5,1115.2 1314.5,1107.7 1308.5,1100.4 1302.5,1098.4 1296.4,1092.3 1290.4,1085.4 1284.4,1078.6 1278.4,1071 1272.4,1058.4 1266.3,1050.8 1260.3,1043 1254.3,1035.2 1248.3,1027.4 1242.3,1019.6 1236.3,1017.7 1230.2,1010.4 1224.2,1002.7 1218.2,995.2 1212.2,987.2 1206.2,977 1200.2,966.1 1194.2,958 1188.1,950 1182.1,942.3 1176.1,935 1170.1,927.9 1164.1,920.5 1158,912.9 1152,905.2 1146,897.6 1140,890" fill="#babd62"/>
<polygon points="1140,890 1146,897.6 1152,905.2 1158,912.9 1164.1,920.5 1170.1,927.9 1176.1,935 1182.1,942.3 1188.1,950 1194.2,958 1200.2,966.1 1206.2,973 1212.2,976.5 1218.2,983 1224.2,990.5 1230.2,998.2 1236.3,1006.5 1242.3,1019.6 1248.3,1027.4 1254.3,1035.2 1260.3,1043 1266.3,1050.8 1272.4,1058.4 1278.4,1061.1 1284.4,1067.4 1290.4,1074.3 1296.4,1081.1 1302.5,1089 1308.5,1100.4 1314.5,1107.7 1320.5,1115.2 1326.5,1122.6 1332.5,1130 1338.5,1137.6 1344.6,1140.1 1350.6,1147.7 1356.6,1155.1 1362.6,1162.2 1368.6,1169.1 1374.7,1177.5 1380.7,1187.2 1386.7,1193 1392.7,1198.6 1398.7,1204.2 1404.7,1210.7 1410.8,1218.1 1416.8,1226.5 1422.8,1234.9 1428.8,1243.3 1434.8,1251.7 1440.8,1259.9 1446.8,1267.8 1452.9,1275.6 1458.9,1279.2 1464.9,1286.3 1470.9,1292.6 1476.9,1297.5 1483,1301.6 1489,1306.6 1495,1313.9 1501,1316.9 1507,1316 1513,1315.4 1519,1316.7 1525.1,1318.3 1531.1,1319.7 1537.1,1320.9 1543.1,1322.1 1549.1,1323 1555.2,1323.7 1561.2,1324.2 1567.2,1324.7 1573.2,1325.2 1579.2,1325.5 1585.2,1325.6 1591.2,1325.6 1597.3,1325.5 1603.3,1325.5 1609.3,1325.4 1615.3,1325.4 1621.3,1325.3 1627.3,1325.2 1633.4,1325.2 1639.4,1325.1 1645.4,1325 1651.4,1325 1657.4,1324.9 1663.5,1324.8 1669.5,1324.8 1675.5,1324.7 1681.5,1324.7 1687.5,1324.6 1693.5,1324.5 1699.5,1324.5 1705.6,1324.4 1711.6,1324.3 1717.6,1324.3 1723.6,1324.2 1729.6,1324.2 1735.7,1324.1 1741.7,1324 1747.7,1324 1753.7,1323.9 1759.7,1323.8 1765.7,1323.8 1771.8,1323.7 1777.8,1323.6 1783.8,1323.6 1789.8,1323.5 1795.8,1323.5 1801.8,1323.4 1807.8,1323.3 1813.9,1323.3 1819.9,1323.2 1825.9,1323.1 1831.9,1323.1 1837.9,1323 1844,1323 1850,1322.9 1856,1322.8 1862,1322.8 1862,1349.2 1856,1349.1 1850,1349 1844,1348.9 1837.9,1348.8 1831.9,1348.7 1825.9,1348.6 1819.9,1348.5 1813.9,1348.4 1807.8,1348.3 1801.8,1348.2 1795.8,1348.1 1789.8,1348 1783.8,1347.9 1777.8,1347.8 1771.8,1347.6 1765.7,1347.5 1759.7,1347.4 1753.7,1347.3 1747.7,1347.2 1741.7,1347.1 1735.7,1347 1729.6,1346.9 1723.6,1346.8 1717.6,1346.7 1711.6,1346.6 1705.6,1346.5 1699.5,1346.4 1693.5,1346.3 1687.5,1346.2 1681.5,1346.1 1675.5,1346 1669.5,1345.8 1663.5,1345.7 1657.4,1345.6 1651.4,1345.5 1645.4,1345.4 1639.4,1345.3 1633.4,1345.2 1627.3,1345.1 1621.3,1345 1615.3,1344.9 1609.3,1344.8 1603.3,1344.7 1597.3,1344.6 1591.2,1344.5 1585.2,1344.3 1579.2,1344 1573.2,1343.5 1567.2,1342.9 1561.2,1342.2 1555.2,1341.6 1549.1,1340.7 1543.1,1339.2 1537.1,1337.4 1531.1,1335.6 1525.1,1333.6 1519,1331.4 1513,1328.3 1507,1323.1 1501,1316.9 1495,1313.9 1489,1314 1483,1311.5 1476.9,1307.9 1470.9,1302.6 1464.9,1295.9 1458.9,1287.5 1452.9,1275.6 1446.8,1267.8 1440.8,1259.9 1434.8,1251.7 1428.8,1243.3 1422.8,1234.9 1416.8,1226.5 1410.8,1218.1 1404.7,1210.7 1398.7,1204.2 1392.7,1198.6 1386.7,1193 1380.7,1187.2 1374.7,1184.5 1368.6,1179.7 1362.6,1172.8 1356.6,1165.7 1350.6,1158.3 1344.6,1150.3 1338.5,1137.6 1332.5,1130 1326.5,1122.6 1320.5,1115.2 1314.5,1107.7 1308.5,1100.4 1302.5,1097.7 1296.4,1091.7 1290.4,1084.9 1284.4,1078 1278.4,1070.3 1272.4,1058.4 1266.3,1050.8 1260.3,1043 1254.3,1035.2 1248.3,1027.4 1242.3,1019.6 1236.3,1017.1 1230.2,1009.8 1224.2,1002.2 1218.2,994.7 1212.2,986.6 1206.2,974.9 1200.2,966.1 1194.2,958 1188.1,950 1182.1,942.3 1176.1,935 1170.1,927.9 1164.1,920.5 1158,912.9 1152,905.2 1146,897.6 1140,890" fill="#d0bb59"/>
<polygon points="1140,890 1146,897.6 1152,905.2 1158,912.9 1164.1,920.5 1170.1,927.9 1176.1,935 1182.1,942.3 1188.1,950 1194.2,958 1200.2,966.1 1206.2,974 1212.2,977.2 1218.2,983.6 1224.2,991 1230.2,998.7 1236.3,1007.1 1242.3,1019.6 1248.3,1027.4 1254.3,1035.2 1260.3,1043 1266.3,1050.8 1272.4,1058.4 1278.4,1061.9 1284.4,1068.1 1290.4,1074.9 1296.4,1081.8 1302.5,1089.9 1308.5,1100.4 1314.5,1107.7 1320.5,1115.2 1326.5,1122.6 1332.5,1130 1338.5,1137.6 1344.6,1140.8 1350.6,1148.3 1356.6,1155.8 1362.6,1162.9 1368.6,1169.7 1374.7,1178.8 1380.7,1187.2 1386.7,1193 1392.7,1198.6 1398.7,1204.2 1404.7,1210.7 1410.8,1218.1 1416.8,1226.5 1422.8,1234.9 1428.8,1243.3 1434.8,1251.7 1440.8,1259.9 1446.8,1267.8 1452.9,1275.6 1458.9,1280.2 1464.9,1287.1 1470.9,1293.3 1476.9,1298.2 1483,1302.4 1489,1308.1 1495,1313.9 1501,1316.9 1507,1318.9 1513,1316.4 1519,1317.6 1525.1,1319.3 1531.1,1320.7 1537.1,1321.9 1543.1,1323.2 1549.1,1324.1 1555.2,1324.9 1561.2,1325.3 1567.2,1325.8 1573.2,1326.3 1579.2,1326.7 1585.2,1326.8 1591.2,1326.8 1597.3,1326.7 1603.3,1326.7 1609.3,1326.6 1615.3,1326.6 1621.3,1326.5 1627.3,1326.5 1633.4,1326.4 1639.4,1326.4 1645.4,1326.3 1651.4,1326.3 1657.4,1326.2 1663.5,1326.1 1669.5,1326.1 1675.5,1326 1681.5,1326 1687.5,1325.9 1693.5,1325.9 1699.5,1325.8 1705.6,1325.8 1711.6,1325.7 1717.6,1325.7 1723.6,1325.6 1729.6,1325.6 1735.7,1325.5 1741.7,1325.5 1747.7,1325.4 1753.7,1325.4 1759.7,1325.3 1765.7,1325.3 1771.8,1325.2 1777.8,1325.1 1783.8,1325.1 1789.8,1325 1795.8,1325 1801.8,1324.9 1807.8,1324.9 1813.9,1324.8 1819.9,1324.8 1825.9,1324.7 1831.9,1324.7 1837.9,1324.6 1844,1324.6 1850,1324.5 1856,1324.5 1862,1324.4 1862,1347.6 1856,1347.5 1850,1347.4 1844,1347.3 1837.9,1347.2 1831.9,1347.1 1825.9,1347 1819.9,1346.9 1813.9,1346.8 1807.8,1346.7 1801.8,1346.6 1795.8,1346.5 1789.8,1346.4 1783.8,1346.4 1777.8,1346.3 1771.8,1346.2 1765.7,1346.1 1759.7,1346 1753.7,1345.9 1747.7,1345.8 1741.7,1345.7 1735.7,1345.6 1729.6,1345.5 1723.6,1345.4 1717.6,1345.3 1711.6,1345.2 1705.6,1345.1 1699.5,1345 1693.5,1344.9 1687.5,1344.8 1681.5,1344.7 1675.5,1344.6 1669.5,1344.5 1663.5,1344.4 1657.4,1344.3 1651.4,1344.3 1645.4,1344.2 1639.4,1344.1 1633.4,1344 1627.3,1343.9 1621.3,1343.8 1615.3,1343.7 1609.3,1343.6 1603.3,1343.5 1597.3,1343.4 1591.2,1343.3 1585.2,1343.2 1579.2,1342.9 1573.2,1342.4 1567.2,1341.8 1561.2,1341.1 1555.2,1340.5 1549.1,1339.6 1543.1,1338.2 1537.1,1336.4 1531.1,1334.6 1525.1,1332.7 1519,1330.5 1513,1327.3 1507,1320.2 1501,1316.9 1495,1313.9 1489,1312.5 1483,1310.7 1476.9,1307.2 1470.9,1301.9 1464.9,1295.1 1458.9,1286.6 1452.9,1275.6 1446.8,1267.8 1440.8,1259.9 1434.8,1251.7 1428.8,1243.3 1422.8,1234.9 1416.8,1226.5 1410.8,1218.1 1404.7,1210.7 1398.7,1204.2 1392.7,1198.6 1386.7,1193 1380.7,1187.2 1374.7,1183.2 1368.6,1179 1362.6,1172.2 1356.6,1165 1350.6,1157.6 1344.6,1149.6 1338.5,1137.6 1332.5,1130 1326.5,1122.6 1320.5,1115.2 1314.5,1107.7 1308.5,1100.4 1302.5,1096.8 1296.4,1091.1 1290.4,1084.2 1284.4,1077.3 1278.4,1069.5 1272.4,1058.4 1266.3,1050.8 1260.3,1043 1254.3,1035.2 1248.3,1027.4 1242.3,1019.6 1236.3,1016.5 1230.2,1009.3 1224.2,1001.6 1218.2,994.1 1212.2,985.8 1206.2,974 1200.2,966.1 1194.2,958 1188.1,950 1182.1,942.3 1176.1,935 1170.1,927.9 1164.1,920.5 1158,912.9 1152,905.2 1146,897.6 1140,890" fill="#e5b950"/>
<polygon points="1140,890 1146,897.6 1152,905.2 1158,912.9 1164.1,920.5 1170.1,927.9 1176.1,935 1182.1,942.3 1188.1,950 1194.2,958 1200.2,966.1 1206.2,974 1212.2,978 1218.2,984.2 1224.2,991.7 1230.2,999.3 1236.3,1007.9 1242.3,1019.6 1248.3,1027.4 1254.3,1035.2 1260.3,1043 1266.3,1050.8 1272.4,1058.4 1278.4,1063 1284.4,1068.8 1290.4,1075.7 1296.4,1082.6 1302.5,1091.1 1308.5,1100.4 1314.5,1107.7 1320.5,1115.2 1326.5,1122.6 1332.5,1130 1338.5,1137.6 1344.6,1141.7 1350.6,1149.1 1356.6,1156.5 1362.6,1163.7 1368.6,1170.5 1374.7,1181 1380.7,1187.2 1386.7,1193 1392.7,1198.6 1398.7,1204.2 1404.7,1210.7 1410.8,1218.1 1416.8,1226.5 1422.8,1234.9 1428.8,1243.3 1434.8,1251.7 1440.8,1259.9 1446.8,1267.8 1452.9,1275.6 1458.9,1281.6 1464.9,1288.1 1470.9,1294.2 1476.9,1299 1483,1303.4 1489,1310.3 1495,1313.9 1501,1316.9 1507,1319.5 1513,1317.7 1519,1318.7 1525.1,1320.4 1531.1,1321.8 1537.1,1323.1 1543.1,1324.4 1549.1,1325.4 1555.2,1326.2 1561.2,1326.7 1567.2,1327.2 1573.2,1327.7 1579.2,1328 1585.2,1328.2 1591.2,1328.2 1597.3,1328.1 1603.3,1328.1 1609.3,1328 1615.3,1328 1621.3,1327.9 1627.3,1327.9 1633.4,1327.9 1639.4,1327.8 1645.4,1327.8 1651.4,1327.7 1657.4,1327.7 1663.5,1327.7 1669.5,1327.6 1675.5,1327.6 1681.5,1327.5 1687.5,1327.5 1693.5,1327.5 1699.5,1327.4 1705.6,1327.4 1711.6,1327.3 1717.6,1327.3 1723.6,1327.3 1729.6,1327.2 1735.7,1327.2 1741.7,1327.1 1747.7,1327.1 1753.7,1327.1 1759.7,1327 1765.7,1327 1771.8,1326.9 1777.8,1326.9 1783.8,1326.9 1789.8,1326.8 1795.8,1326.8 1801.8,1326.7 1807.8,1326.7 1813.9,1326.7 1819.9,1326.6 1825.9,1326.6 1831.9,1326.5 1837.9,1326.5 1844,1326.5 1850,1326.4 1856,1326.4 1862,1326.3 1862,1345.7 1856,1345.6 1850,1345.5 1844,1345.4 1837.9,1345.3 1831.9,1345.3 1825.9,1345.2 1819.9,1345.1 1813.9,1345 1807.8,1344.9 1801.8,1344.8 1795.8,1344.8 1789.8,1344.7 1783.8,1344.6 1777.8,1344.5 1771.8,1344.4 1765.7,1344.3 1759.7,1344.3 1753.7,1344.2 1747.7,1344.1 1741.7,1344 1735.7,1343.9 1729.6,1343.8 1723.6,1343.8 1717.6,1343.7 1711.6,1343.6 1705.6,1343.5 1699.5,1343.4 1693.5,1343.3 1687.5,1343.3 1681.5,1343.2 1675.5,1343.1 1669.5,1343 1663.5,1342.9 1657.4,1342.8 1651.4,1342.8 1645.4,1342.7 1639.4,1342.6 1633.4,1342.5 1627.3,1342.4 1621.3,1342.3 1615.3,1342.3 1609.3,1342.2 1603.3,1342.1 1597.3,1342 1591.2,1341.9 1585.2,1341.8 1579.2,1341.5 1573.2,1341.1 1567.2,1340.4 1561.2,1339.8 1555.2,1339.2 1549.1,1338.3 1543.1,1336.9 1537.1,1335.2 1531.1,1333.4 1525.1,1331.5 1519,1329.4 1513,1326.1 1507,1319.5 1501,1316.9 1495,1313.9 1489,1310.3 1483,1309.7 1476.9,1306.4 1470.9,1301 1464.9,1294.2 1458.9,1285.1 1452.9,1275.6 1446.8,1267.8 1440.8,1259.9 1434.8,1251.7 1428.8,1243.3 1422.8,1234.9 1416.8,1226.5 1410.8,1218.1 1404.7,1210.7 1398.7,1204.2 1392.7,1198.6 1386.7,1193 1380.7,1187.2 1374.7,1181 1368.6,1178.2 1362.6,1171.4 1356.6,1164.3 1350.6,1156.8 1344.6,1148.7 1338.5,1137.6 1332.5,1130 1326.5,1122.6 1320.5,1115.2 1314.5,1107.7 1308.5,1100.4 1302.5,1095.5 1296.4,1090.3 1290.4,1083.4 1284.4,1076.6 1278.4,1068.5 1272.4,1058.4 1266.3,1050.8 1260.3,1043 1254.3,1035.2 1248.3,1027.4 1242.3,1019.6 1236.3,1015.7 1230.2,1008.7 1224.2,1001 1218.2,993.5 1212.2,985 1206.2,974 1200.2,966.1 1194.2,958 1188.1,950 1182.1,942.3 1176.1,935 1170.1,927.9 1164.1,920.5 1158,912.9 1152,905.2 1146,897.6 1140,890" fill="#f9bb43"/>
<polygon points="1140,890 1146,897.6 1152,905.2 1158,912.9 1164.1,920.5 1170.1,927.9 1176.1,935 1182.1,942.3 1188.1,950 1194.2,958 1200.2,966.1 1206.2,974 1212.2,979.2 1218.2,984.9 1224.2,992.4 1230.2,1000.1 1236.3,1008.8 1242.3,1019.6 1248.3,1027.4 1254.3,1035.2 1260.3,1043 1266.3,1050.8 1272.4,1058.4 1278.4,1064.9 1284.4,1069.8 1290.4,1076.7 1296.4,1083.5 1302.5,1093.3 1308.5,1100.4 1314.5,1107.7 1320.5,1115.2 1326.5,1122.6 1332.5,1130 1338.5,1137.6 1344.6,1142.8 1350.6,1150.1 1356.6,1157.5 1362.6,1164.6 1368.6,1171.5 1374.7,1181 1380.7,1187.2 1386.7,1193 1392.7,1198.6 1398.7,1204.2 1404.7,1210.7 1410.8,1218.1 1416.8,1226.5 1422.8,1234.9 1428.8,1243.3 1434.8,1251.7 1440.8,1259.9 1446.8,1267.8 1452.9,1275.6 1458.9,1283.4 1464.9,1289.6 1470.9,1295.4 1476.9,1300 1483,1304.9 1489,1310.3 1495,1313.9 1501,1316.9 1507,1319.5 1513,1319.5 1519,1320 1525.1,1321.8 1531.1,1323.3 1537.1,1324.6 1543.1,1326 1549.1,1327 1555.2,1327.8 1561.2,1328.3 1567.2,1328.8 1573.2,1329.3 1579.2,1329.7 1585.2,1329.9 1591.2,1329.9 1597.3,1329.8 1603.3,1329.8 1609.3,1329.8 1615.3,1329.8 1621.3,1329.7 1627.3,1329.7 1633.4,1329.7 1639.4,1329.7 1645.4,1329.6 1651.4,1329.6 1657.4,1329.6 1663.5,1329.6 1669.5,1329.5 1675.5,1329.5 1681.5,1329.5 1687.5,1329.5 1693.5,1329.4 1699.5,1329.4 1705.6,1329.4 1711.6,1329.4 1717.6,1329.3 1723.6,1329.3 1729.6,1329.3 1735.7,1329.3 1741.7,1329.2 1747.7,1329.2 1753.7,1329.2 1759.7,1329.2 1765.7,1329.1 1771.8,1329.1 1777.8,1329.1 1783.8,1329.1 1789.8,1329 1795.8,1329 1801.8,1329 1807.8,1329 1813.9,1328.9 1819.9,1328.9 1825.9,1328.9 1831.9,1328.9 1837.9,1328.8 1844,1328.8 1850,1328.8 1856,1328.8 1862,1328.7 1862,1343.3 1856,1343.2 1850,1343.1 1844,1343.1 1837.9,1343 1831.9,1342.9 1825.9,1342.8 1819.9,1342.8 1813.9,1342.7 1807.8,1342.6 1801.8,1342.6 1795.8,1342.5 1789.8,1342.4 1783.8,1342.4 1777.8,1342.3 1771.8,1342.2 1765.7,1342.2 1759.7,1342.1 1753.7,1342 1747.7,1342 1741.7,1341.9 1735.7,1341.8 1729.6,1341.8 1723.6,1341.7 1717.6,1341.6 1711.6,1341.6 1705.6,1341.5 1699.5,1341.4 1693.5,1341.4 1687.5,1341.3 1681.5,1341.2 1675.5,1341.2 1669.5,1341.1 1663.5,1341 1657.4,1341 1651.4,1340.9 1645.4,1340.8 1639.4,1340.7 1633.4,1340.7 1627.3,1340.6 1621.3,1340.5 1615.3,1340.5 1609.3,1340.4 1603.3,1340.3 1597.3,1340.3 1591.2,1340.2 1585.2,1340.1 1579.2,1339.8 1573.2,1339.4 1567.2,1338.8 1561.2,1338.2 1555.2,1337.6 1549.1,1336.7 1543.1,1335.4 1537.1,1333.7 1531.1,1332 1525.1,1330.2 1519,1328.1 1513,1324.3 1507,1319.5 1501,1316.9 1495,1313.9 1489,1310.3 1483,1308.2 1476.9,1305.4 1470.9,1299.8 1464.9,1292.7 1458.9,1283.4 1452.9,1275.6 1446.8,1267.8 1440.8,1259.9 1434.8,1251.7 1428.8,1243.3 1422.8,1234.9 1416.8,1226.5 1410.8,1218.1 1404.7,1210.7 1398.7,1204.2 1392.7,1198.6 1386.7,1193 1380.7,1187.2 1374.7,1181 1368.6,1177.3 1362.6,1170.4 1356.6,1163.3 1350.6,1155.9 1344.6,1147.6 1338.5,1137.6 1332.5,1130 1326.5,1122.6 1320.5,1115.2 1314.5,1107.7 1308.5,1100.4 1302.5,1093.3 1296.4,1089.3 1290.4,1082.5 1284.4,1075.6 1278.4,1066.6 1272.4,1058.4 1266.3,1050.8 1260.3,1043 1254.3,1035.2 1248.3,1027.4 1242.3,1019.6 1236.3,1014.8 1230.2,1007.9 1224.2,1000.3 1218.2,992.8 1212.2,983.8 1206.2,974 1200.2,966.1 1194.2,958 1188.1,950 1182.1,942.3 1176.1,935 1170.1,927.9 1164.1,920.5 1158,912.9 1152,905.2 1146,897.6 1140,890" fill="#fec734"/>
<polygon points="1140,890 1146,897.6 1152,905.2 1158,912.9 1164.1,920.5 1170.1,927.9 1176.1,935 1182.1,942.3 1188.1,950 1194.2,958 1200.2,966.1 1206.2,974 1212.2,981.5 1218.2,985.8 1224.2,993.3 1230.2,1000.9 1236.3,1010.3 1242.3,1019.6 1248.3,1027.4 1254.3,1035.2 1260.3,1043 1266.3,1050.8 1272.4,1058.4 1278.4,1065.7 1284.4,1071.3 1290.4,1078.2 1296.4,1085 1302.5,1093.3 1308.5,1100.4 1314.5,1107.7 1320.5,1115.2 1326.5,1122.6 1332.5,1130 1338.5,1137.6 1344.6,1145.2 1350.6,1151.6 1356.6,1159 1362.6,1166.1 1368.6,1173 1374.7,1181 1380.7,1187.2 1386.7,1193 1392.7,1198.6 1398.7,1204.2 1404.7,1210.7 1410.8,1218.1 1416.8,1226.5 1422.8,1234.9 1428.8,1243.3 1434.8,1251.7 1440.8,1259.9 1446.8,1267.8 1452.9,1275.6 1458.9,1283.4 1464.9,1291.1 1470.9,1297.6 1476.9,1301.9 1483,1306.5 1489,1310.3 1495,1313.9 1501,1316.9 1507,1319.5 1513,1321.9 1519,1322.2 1525.1,1324 1531.1,1325.6 1537.1,1327 1543.1,1328.5 1549.1,1329.5 1555.2,1330.4 1561.2,1330.9 1567.2,1331.4 1573.2,1332 1579.2,1332.4 1585.2,1332.6 1591.2,1332.6 1597.3,1332.6 1603.3,1332.6 1609.3,1332.6 1615.3,1332.6 1621.3,1332.6 1627.3,1332.6 1633.4,1332.6 1639.4,1332.6 1645.4,1332.6 1651.4,1332.6 1657.4,1332.6 1663.5,1332.6 1669.5,1332.6 1675.5,1332.6 1681.5,1332.6 1687.5,1332.6 1693.5,1332.6 1699.5,1332.6 1705.6,1332.6 1711.6,1332.6 1717.6,1332.6 1723.6,1332.6 1729.6,1332.6 1735.7,1332.6 1741.7,1332.6 1747.7,1332.6 1753.7,1332.6 1759.7,1332.6 1765.7,1332.6 1771.8,1332.6 1777.8,1332.6 1783.8,1332.6 1789.8,1332.6 1795.8,1332.6 1801.8,1332.6 1807.8,1332.6 1813.9,1332.6 1819.9,1332.6 1825.9,1332.6 1831.9,1332.6 1837.9,1332.6 1844,1332.6 1850,1332.6 1856,1332.6 1862,1332.6 1862,1339.4 1856,1339.4 1850,1339.3 1844,1339.3 1837.9,1339.3 1831.9,1339.2 1825.9,1339.2 1819.9,1339.1 1813.9,1339.1 1807.8,1339 1801.8,1339 1795.8,1339 1789.8,1338.9 1783.8,1338.9 1777.8,1338.8 1771.8,1338.8 1765.7,1338.7 1759.7,1338.7 1753.7,1338.6 1747.7,1338.6 1741.7,1338.6 1735.7,1338.5 1729.6,1338.5 1723.6,1338.4 1717.6,1338.4 1711.6,1338.3 1705.6,1338.3 1699.5,1338.3 1693.5,1338.2 1687.5,1338.2 1681.5,1338.1 1675.5,1338.1 1669.5,1338 1663.5,1338 1657.4,1338 1651.4,1337.9 1645.4,1337.9 1639.4,1337.8 1633.4,1337.8 1627.3,1337.7 1621.3,1337.7 1615.3,1337.7 1609.3,1337.6 1603.3,1337.6 1597.3,1337.5 1591.2,1337.5 1585.2,1337.4 1579.2,1337.2 1573.2,1336.7 1567.2,1336.2 1561.2,1335.6 1555.2,1335 1549.1,1334.1 1543.1,1332.9 1537.1,1331.3 1531.1,1329.7 1525.1,1327.9 1519,1326 1513,1321.9 1507,1319.5 1501,1316.9 1495,1313.9 1489,1310.3 1483,1306.5 1476.9,1303.5 1470.9,1297.6 1464.9,1291.1 1458.9,1283.4 1452.9,1275.6 1446.8,1267.8 1440.8,1259.9 1434.8,1251.7 1428.8,1243.3 1422.8,1234.9 1416.8,1226.5 1410.8,1218.1 1404.7,1210.7 1398.7,1204.2 1392.7,1198.6 1386.7,1193 1380.7,1187.2 1374.7,1181 1368.6,1175.7 1362.6,1168.9 1356.6,1161.8 1350.6,1154.3 1344.6,1145.2 1338.5,1137.6 1332.5,1130 1326.5,1122.6 1320.5,1115.2 1314.5,1107.7 1308.5,1100.4 1302.5,1093.3 1296.4,1087.8 1290.4,1080.9 1284.4,1074.1 1278.4,1065.7 1272.4,1058.4 1266.3,1050.8 1260.3,1043 1254.3,1035.2 1248.3,1027.4 1242.3,1019.6 1236.3,1013.3 1230.2,1007.1 1224.2,999.4 1218.2,991.9 1212.2,981.5 1206.2,974 1200.2,966.1 1194.2,958 1188.1,950 1182.1,942.3 1176.1,935 1170.1,927.9 1164.1,920.5 1158,912.9 1152,905.2 1146,897.6 1140,890" fill="#f9d429"/>
<polygon points="1140,890 1146,897.6 1152,905.2 1158,912.9 1164.1,920.5 1170.1,927.9 1176.1,935 1182.1,942.3 1188.1,950 1194.2,958 1200.2,966.1 1206.2,974 1212.2,981.5 1218.2,987.1 1224.2,994.6 1230.2,1002.2 1236.3,1011.8 1242.3,1019.6 1248.3,1027.4 1254.3,1035.2 1260.3,1043 1266.3,1050.8 1272.4,1058.4 1278.4,1065.7 1284.4,1072.7 1290.4,1079.6 1296.4,1086.4 1302.5,1093.3 1308.5,1100.4 1314.5,1107.7 1320.5,1115.2 1326.5,1122.6 1332.5,1130 1338.5,1137.6 1344.6,1145.2 1350.6,1153 1356.6,1160.4 1362.6,1167.5 1368.6,1174.4 1374.7,1181 1380.7,1187.2 1386.7,1193 1392.7,1198.6 1398.7,1204.2 1404.7,1210.7 1410.8,1218.1 1416.8,1226.5 1422.8,1234.9 1428.8,1243.3 1434.8,1251.7 1440.8,1259.9 1446.8,1267.8 1452.9,1275.6 1458.9,1283.4 1464.9,1291.1 1470.9,1297.6 1476.9,1302.7 1483,1306.5 1489,1310.3 1495,1313.9 1501,1316.9 1507,1319.5 1513,1321.9 1519,1324.1 1525.1,1326 1531.1,1327.6 1537.1,1329.2 1543.1,1330.7 1549.1,1331.8 1555.2,1332.7 1561.2,1333.2 1567.2,1333.8 1573.2,1334.4 1579.2,1334.8 1585.2,1335 1591.2,1335 1597.3,1335.1 1603.3,1335.1 1609.3,1335.1 1615.3,1335.1 1621.3,1335.1 1627.3,1335.2 1633.4,1335.2 1639.4,1335.2 1645.4,1335.2 1651.4,1335.3 1657.4,1335.3 1663.5,1335.3 1669.5,1335.3 1675.5,1335.3 1681.5,1335.4 1687.5,1335.4 1693.5,1335.4 1699.5,1335.4 1705.6,1335.4 1711.6,1335.5 1717.6,1335.5 1723.6,1335.5 1729.6,1335.5 1735.7,1335.6 1741.7,1335.6 1747.7,1335.6 1753.7,1335.6 1759.7,1335.6 1765.7,1335.7 1771.8,1335.7 1777.8,1335.7 1783.8,1335.7 1789.8,1335.7 1795.8,1335.8 1801.8,1335.8 1807.8,1335.8 1813.9,1335.8 1819.9,1335.9 1825.9,1335.9 1831.9,1335.9 1837.9,1335.9 1844,1335.9 1850,1336 1856,1336 1862,1336 1862,1336 1856,1336 1850,1336 1844,1335.9 1837.9,1335.9 1831.9,1335.9 1825.9,1335.9 1819.9,1335.9 1813.9,1335.8 1807.8,1335.8 1801.8,1335.8 1795.8,1335.8 1789.8,1335.7 1783.8,1335.7 1777.8,1335.7 1771.8,1335.7 1765.7,1335.7 1759.7,1335.6 1753.7,1335.6 1747.7,1335.6 1741.7,1335.6 1735.7,1335.6 1729.6,1335.5 1723.6,1335.5 1717.6,1335.5 1711.6,1335.5 1705.6,1335.4 1699.5,1335.4 1693.5,1335.4 1687.5,1335.4 1681.5,1335.4 1675.5,1335.3 1669.5,1335.3 1663.5,1335.3 1657.4,1335.3 1651.4,1335.3 1645.4,1335.2 1639.4,1335.2 1633.4,1335.2 1627.3,1335.2 1621.3,1335.1 1615.3,1335.1 1609.3,1335.1 1603.3,1335.1 1597.3,1335.1 1591.2,1335 1585.2,1335 1579.2,1334.8 1573.2,1334.4 1567.2,1333.8 1561.2,1333.2 1555.2,1332.7 1549.1,1331.8 1543.1,1330.7 1537.1,1329.2 1531.1,1327.6 1525.1,1326 1519,1324.1 1513,1321.9 1507,1319.5 1501,1316.9 1495,1313.9 1489,1310.3 1483,1306.5 1476.9,1302.7 1470.9,1297.6 1464.9,1291.1 1458.9,1283.4 1452.9,1275.6 1446.8,1267.8 1440.8,1259.9 1434.8,1251.7 1428.8,1243.3 1422.8,1234.9 1416.8,1226.5 1410.8,1218.1 1404.7,1210.7 1398.7,1204.2 1392.7,1198.6 1386.7,1193 1380.7,1187.2 1374.7,1181 1368.6,1174.4 1362.6,1167.5 1356.6,1160.4 1350.6,1153 1344.6,1145.2 1338.5,1137.6 1332.5,1130 1326.5,1122.6 1320.5,1115.2 1314.5,1107.7 1308.5,1100.4 1302.5,1093.3 1296.4,1086.4 1290.4,1079.6 1284.4,1072.7 1278.4,1065.7 1272.4,1058.4 1266.3,1050.8 1260.3,1043 1254.3,1035.2 1248.3,1027.4 1242.3,1019.6 1236.3,1011.8 1230.2,1005.8 1224.2,998.1 1218.2,990.6 1212.2,981.5 1206.2,974 1200.2,966.1 1194.2,958 1188.1,950 1182.1,942.3 1176.1,935 1170.1,927.9 1164.1,920.5 1158,912.9 1152,905.2 1146,897.6 1140,890" fill="#f5e31e"/>
<g mask="url(#maskd)">
<rect x="1505" y="1283" width="355.8" height="13.4" fill="#3063b3"/>
<rect x="1505" y="1296" width="355.8" height="3.4" fill="#3a4ca3"/>
<rect x="1505" y="1299" width="355.8" height="10.4" fill="#1095d0"/>
<rect x="1505" y="1309" width="355.8" height="1.4" fill="#7abf7c"/>
<rect x="1505" y="1310" width="355.8" height="6.4" fill="#217bc9"/>
<rect x="1505" y="1316" width="355.8" height="4.4" fill="#88bf77"/>
<rect x="1505" y="1320" width="355.8" height="4.4" fill="#fec13a"/>
<rect x="1505" y="1324" width="355.8" height="3.4" fill="#33b8a1"/>
<rect x="1505" y="1327" width="355.8" height="22.4" fill="#c3bc5f"/>
<rect x="1505" y="1349" width="355.8" height="3.4" fill="#3656a8"/>
<rect x="1505" y="1352" width="355.8" height="12.4" fill="#18b1b2"/>
<rect x="1505" y="1364" width="355.8" height="2.4" fill="#7abf7c"/>
<rect x="1505" y="1366" width="355.8" height="11.4" fill="#217bc9"/>
<rect x="1505" y="1377" width="355.8" height="2.4" fill="#3a4ca3"/>
<rect x="1505" y="1379" width="355.8" height="4.4" fill="#2674c4"/>
<rect x="1505" y="1383" width="355.8" height="9.4" fill="#393694"/>
<rect x="1505" y="1392" width="355.8" height="6.8" fill="#3a4ca3"/>
</g>
<path d="M1182,966.5H1216M1203.5,941V989M1258,1062.5H1291M1314,1117.5H1346M1354.5,1125V1174M1410.5,1198V1246M1420,1254.5H1468M1548.5,1283V1384M1506.5,1277V1342M1529,1365.5H1860M1500,1309.5H1860" stroke="#fff" stroke-opacity="0.35" stroke-width="1" fill="none"/>
</g>
<rect x="1049.5" y="935.8" width="811.3" height="810.7" fill="none" stroke="#2e2a55" stroke-width="1"/>
<rect x="1907.5" y="827.1" width="94" height="13.3" fill="#362e8a"/>
<rect x="1907.5" y="814.5" width="94" height="13.3" fill="#383491"/>
<rect x="1907.5" y="801.8" width="94" height="13.3" fill="#3a3a98"/>
<rect x="1907.5" y="789.1" width="94" height="13.3" fill="#3b419e"/>
<rect x="1907.5" y="776.5" width="94" height="13.3" fill="#3b48a2"/>
<rect x="1907.5" y="763.8" width="94" height="13.3" fill="#394fa4"/>
<rect x="1907.5" y="751.2" width="94" height="13.3" fill="#3656a8"/>
<rect x="1907.5" y="738.5" width="94" height="13.3" fill="#3459aa"/>
<rect x="1907.5" y="725.8" width="94" height="13.3" fill="#335cac"/>
<rect x="1907.5" y="713.2" width="94" height="13.3" fill="#3062b2"/>
<rect x="1907.5" y="700.5" width="94" height="13.3" fill="#2f66b6"/>
<rect x="1907.5" y="687.8" width="94" height="13.3" fill="#2d6aba"/>
<rect x="1907.5" y="675.2" width="94" height="13.3" fill="#2a6ebe"/>
<rect x="1907.5" y="662.5" width="94" height="13.3" fill="#2872c2"/>
<rect x="1907.5" y="649.9" width="94" height="13.3" fill="#2576c5"/>
<rect x="1907.5" y="637.2" width="94" height="13.3" fill="#237ac8"/>
<rect x="1907.5" y="624.5" width="94" height="13.3" fill="#207dca"/>
<rect x="1907.5" y="611.9" width="94" height="13.3" fill="#1d81cd"/>
<rect x="1907.5" y="599.2" width="94" height="13.3" fill="#1a86cf"/>
<rect x="1907.5" y="586.5" width="94" height="13.3" fill="#178bd1"/>
<rect x="1907.5" y="573.9" width="94" height="13.3" fill="#1391d0"/>
<rect x="1907.5" y="561.2" width="94" height="13.3" fill="#099ccd"/>
<rect x="1907.5" y="548.6" width="94" height="13.3" fill="#06a1cc"/>
<rect x="1907.5" y="535.9" width="94" height="13.3" fill="#06a4c9"/>
<rect x="1907.5" y="523.2" width="94" height="13.3" fill="#06a7c6"/>
<rect x="1907.5" y="510.6" width="94" height="13.3" fill="#07aac2"/>
<rect x="1907.5" y="497.9" width="94" height="13.3" fill="#0aacbd"/>
<rect x="1907.5" y="485.2" width="94" height="13.3" fill="#0fafb9"/>
<rect x="1907.5" y="472.6" width="94" height="13.3" fill="#16b1b4"/>
<rect x="1907.5" y="459.9" width="94" height="13.3" fill="#1db3af"/>
<rect x="1907.5" y="447.3" width="94" height="13.3" fill="#25b5a9"/>
<rect x="1907.5" y="434.6" width="94" height="13.3" fill="#2eb7a4"/>
<rect x="1907.5" y="421.9" width="94" height="13.3" fill="#37b99e"/>
<rect x="1907.5" y="409.3" width="94" height="13.3" fill="#42bb98"/>
<rect x="1907.5" y="396.6" width="94" height="13.3" fill="#4dbc92"/>
<rect x="1907.5" y="383.9" width="94" height="13.3" fill="#58bd8c"/>
<rect x="1907.5" y="371.3" width="94" height="13.3" fill="#64be86"/>
<rect x="1907.5" y="358.6" width="94" height="13.3" fill="#70bf81"/>
<rect x="1907.5" y="346" width="94" height="13.3" fill="#7bbf7c"/>
<rect x="1907.5" y="333.3" width="94" height="13.3" fill="#86bf77"/>
<rect x="1907.5" y="320.6" width="94" height="13.3" fill="#90bf73"/>
<rect x="1907.5" y="308" width="94" height="13.3" fill="#9abf6f"/>
<rect x="1907.5" y="295.3" width="94" height="13.3" fill="#a3be6b"/>
<rect x="1907.5" y="282.6" width="94" height="13.3" fill="#adbe68"/>
<rect x="1907.5" y="270" width="94" height="13.3" fill="#b5bd64"/>
<rect x="1907.5" y="257.3" width="94" height="13.3" fill="#bebc61"/>
<rect x="1907.5" y="244.7" width="94" height="13.3" fill="#c6bc5d"/>
<rect x="1907.5" y="232" width="94" height="13.3" fill="#cfbb5a"/>
<rect x="1907.5" y="219.3" width="94" height="13.3" fill="#d7ba57"/>
<rect x="1907.5" y="206.7" width="94" height="13.3" fill="#dfba53"/>
<rect x="1907.5" y="194" width="94" height="13.3" fill="#e7b94f"/>
<rect x="1907.5" y="181.4" width="94" height="13.3" fill="#efb94b"/>
<rect x="1907.5" y="168.7" width="94" height="13.3" fill="#f6ba46"/>
<rect x="1907.5" y="156" width="94" height="13.3" fill="#fcbd40"/>
<rect x="1907.5" y="143.4" width="94" height="13.3" fill="#fec139"/>
<rect x="1907.5" y="130.7" width="94" height="13.3" fill="#fec734"/>
<rect x="1907.5" y="118" width="94" height="13.3" fill="#fdcc2f"/>
<rect x="1907.5" y="105.4" width="94" height="13.3" fill="#fbd12b"/>
<rect x="1907.5" y="92.7" width="94" height="13.3" fill="#f8d627"/>
<rect x="1907.5" y="80" width="94" height="13.3" fill="#f6dc23"/>
<rect x="1907.5" y="67.4" width="94" height="13.3" fill="#f5e11f"/>
<rect x="1907.5" y="54.7" width="94" height="13.3" fill="#f5e81a"/>
<rect x="1907.5" y="42.1" width="94" height="13.3" fill="#f6ef16"/>
<rect x="1907.5" y="29.4" width="94" height="13.3" fill="#f8f710"/>
<rect x="1907.5" y="29.4" width="94" height="810.4" fill="none" stroke="#444" stroke-width="1.8"/>
<path d="M2001.5,758.8H1992.5M2001.5,677.7H1992.5M2001.5,596.7H1992.5M2001.5,515.6H1992.5M2001.5,434.6H1992.5M2001.5,353.6H1992.5M2001.5,272.5H1992.5M2001.5,191.5H1992.5M2001.5,110.4H1992.5" stroke="#444" stroke-width="1.8"/>
<rect x="1907.5" y="1733.8" width="94" height="13.3" fill="#362e8a"/>
<rect x="1907.5" y="1721.2" width="94" height="13.3" fill="#383491"/>
<rect x="1907.5" y="1708.5" width="94" height="13.3" fill="#3a3a98"/>
<rect x="1907.5" y="1695.8" width="94" height="13.3" fill="#3b419e"/>
<rect x="1907.5" y="1683.2" width="94" height="13.3" fill="#3b48a2"/>
<rect x="1907.5" y="1670.5" width="94" height="13.3" fill="#394fa4"/>
<rect x="1907.5" y="1657.8" width="94" height="13.3" fill="#3656a8"/>
<rect x="1907.5" y="1645.2" width="94" height="13.3" fill="#3459aa"/>
<rect x="1907.5" y="1632.5" width="94" height="13.3" fill="#335cac"/>
<rect x="1907.5" y="1619.8" width="94" height="13.3" fill="#3062b2"/>
<rect x="1907.5" y="1607.2" width="94" height="13.3" fill="#2f66b6"/>
<rect x="1907.5" y="1594.5" width="94" height="13.3" fill="#2d6aba"/>
<rect x="1907.5" y="1581.8" width="94" height="13.3" fill="#2a6ebe"/>
<rect x="1907.5" y="1569.2" width="94" height="13.3" fill="#2872c2"/>
<rect x="1907.5" y="1556.5" width="94" height="13.3" fill="#2576c5"/>
<rect x="1907.5" y="1543.8" width="94" height="13.3" fill="#237ac8"/>
<rect x="1907.5" y="1531.2" width="94" height="13.3" fill="#207dca"/>
<rect x="1907.5" y="1518.5" width="94" height="13.3" fill="#1d81cd"/>
<rect x="1907.5" y="1505.8" width="94" height="13.3" fill="#1a86cf"/>
<rect x="1907.5" y="1493.2" width="94" height="13.3" fill="#178bd1"/>
<rect x="1907.5" y="1480.5" width="94" height="13.3" fill="#1391d0"/>
<rect x="1907.5" y="1467.8" width="94" height="13.3" fill="#099ccd"/>
<rect x="1907.5" y="1455.2" width="94" height="13.3" fill="#06a1cc"/>
<rect x="1907.5" y="1442.5" width="94" height="13.3" fill="#06a4c9"/>
<rect x="1907.5" y="1429.8" width="94" height="13.3" fill="#06a7c6"/>
<rect x="1907.5" y="1417.2" width="94" height="13.3" fill="#07aac2"/>
<rect x="1907.5" y="1404.5" width="94" height="13.3" fill="#0aacbd"/>
<rect x="1907.5" y="1391.8" width="94" height="13.3" fill="#0fafb9"/>
<rect x="1907.5" y="1379.2" width="94" height="13.3" fill="#16b1b4"/>
<rect x="1907.5" y="1366.5" width="94" height="13.3" fill="#1db3af"/>
<rect x="1907.5" y="1353.8" width="94" height="13.3" fill="#25b5a9"/>
<rect x="1907.5" y="1341.2" width="94" height="13.3" fill="#2eb7a4"/>
<rect x="1907.5" y="1328.5" width="94" height="13.3" fill="#37b99e"/>
<rect x="1907.5" y="1315.8" width="94" height="13.3" fill="#42bb98"/>
<rect x="1907.5" y="1303.1" width="94" height="13.3" fill="#4dbc92"/>
<rect x="1907.5" y="1290.5" width="94" height="13.3" fill="#58bd8c"/>
<rect x="1907.5" y="1277.8" width="94" height="13.3" fill="#64be86"/>
<rect x="1907.5" y="1265.1" width="94" height="13.3" fill="#70bf81"/>
<rect x="1907.5" y="1252.5" width="94" height="13.3" fill="#7bbf7c"/>
<rect x="1907.5" y="1239.8" width="94" height="13.3" fill="#86bf77"/>
<rect x="1907.5" y="1227.1" width="94" height="13.3" fill="#90bf73"/>
<rect x="1907.5" y="1214.5" width="94" height="13.3" fill="#9abf6f"/>
<rect x="1907.5" y="1201.8" width="94" height="13.3" fill="#a3be6b"/>
<rect x="1907.5" y="1189.1" width="94" height="13.3" fill="#adbe68"/>
<rect x="1907.5" y="1176.5" width="94" height="13.3" fill="#b5bd64"/>
<rect x="1907.5" y="1163.8" width="94" height="13.3" fill="#bebc61"/>
<rect x="1907.5" y="1151.1" width="94" height="13.3" fill="#c6bc5d"/>
<rect x="1907.5" y="1138.5" width="94" height="13.3" fill="#cfbb5a"/>
<rect x="1907.5" y="1125.8" width="94" height="13.3" fill="#d7ba57"/>
<rect x="1907.5" y="1113.1" width="94" height="13.3" fill="#dfba53"/>
<rect x="1907.5" y="1100.5" width="94" height="13.3" fill="#e7b94f"/>
<rect x="1907.5" y="1087.8" width="94" height="13.3" fill="#efb94b"/>
<rect x="1907.5" y="1075.1" width="94" height="13.3" fill="#f6ba46"/>
<rect x="1907.5" y="1062.5" width="94" height="13.3" fill="#fcbd40"/>
<rect x="1907.5" y="1049.8" width="94" height="13.3" fill="#fec139"/>
<rect x="1907.5" y="1037.1" width="94" height="13.3" fill="#fec734"/>
<rect x="1907.5" y="1024.5" width="94" height="13.3" fill="#fdcc2f"/>
<rect x="1907.5" y="1011.8" width="94" height="13.3" fill="#fbd12b"/>
<rect x="1907.5" y="999.1" width="94" height="13.3" fill="#f8d627"/>
<rect x="1907.5" y="986.5" width="94" height="13.3" fill="#f6dc23"/>
<rect x="1907.5" y="973.8" width="94" height="13.3" fill="#f5e11f"/>
<rect x="1907.5" y="961.1" width="94" height="13.3" fill="#f5e81a"/>
<rect x="1907.5" y="948.5" width="94" height="13.3" fill="#f6ef16"/>
<rect x="1907.5" y="935.8" width="94" height="13.3" fill="#f8f710"/>
<rect x="1907.5" y="935.8" width="94" height="810.7" fill="none" stroke="#444" stroke-width="1.8"/>
<path d="M2001.5,1665.4H1992.5M2001.5,1584.4H1992.5M2001.5,1503.3H1992.5M2001.5,1422.2H1992.5M2001.5,1341.2H1992.5M2001.5,1260.1H1992.5M2001.5,1179H1992.5M2001.5,1097.9H1992.5M2001.5,1016.9H1992.5" stroke="#444" stroke-width="1.8"/>
<g font-family="'Liberation Sans', Arial, sans-serif">
<text x="2012.5" y="48.5" font-size="28.6" textLength="35" lengthAdjust="spacingAndGlyphs">1.0</text>
<text x="2010.5" y="201.6" font-size="28.6">0.8</text>
<text x="2010.5" y="369.1" font-size="28.6">0.6</text>
<text x="2010.5" y="527.2" font-size="28.6">0.4</text>
<text x="2010.5" y="688.3" font-size="28.6">0.2</text>
<text x="2012.5" y="848" font-size="28.6">0</text>
<text x="2012.5" y="950.6" font-size="28.6" textLength="35" lengthAdjust="spacingAndGlyphs">1.0</text>
<text x="2010.5" y="1109" font-size="28.6">0.8</text>
<text x="2010.5" y="1276.5" font-size="28.6">0.6</text>
<text x="2010.5" y="1434.6" font-size="28.6">0.4</text>
<text x="2010.5" y="1595.7" font-size="28.6">0.2</text>
<text x="2012.5" y="1748" font-size="28.6">0</text>
<text x="1000.8" y="48.3" font-size="28.6" textLength="27.7" lengthAdjust="spacingAndGlyphs">10</text>
<text x="1029.4" y="38" font-size="17.2">-3</text>
<text x="1000.6" y="325.8" font-size="28.6" textLength="27.7" lengthAdjust="spacingAndGlyphs">10</text>
<text x="1029.2" y="315.5" font-size="17.2">-4</text>
<text x="1000.6" y="587.5" font-size="28.6" textLength="27.7" lengthAdjust="spacingAndGlyphs">10</text>
<text x="1029.2" y="577.2" font-size="17.2">-5</text>
<text x="989.8" y="848.6" font-size="28.6" textLength="27.7" lengthAdjust="spacingAndGlyphs">10</text>
<text x="1018.4" y="838.3" font-size="17.2">-6</text>
<text x="1039.7" y="871" font-size="28.6" textLength="27.7" lengthAdjust="spacingAndGlyphs">10</text>
<text x="1068.3" y="860.7" font-size="17.2">0</text>
<text x="1499" y="878.4" font-size="28.6" textLength="27.7" lengthAdjust="spacingAndGlyphs">10</text>
<text x="1527.6" y="868.1" font-size="17.2">1</text>
<text x="53" y="958" font-size="28.6" textLength="27.7" lengthAdjust="spacingAndGlyphs">10</text>
<text x="81.6" y="947.7" font-size="17.2">-3</text>
<text x="53" y="1228.1" font-size="28.6" textLength="27.7" lengthAdjust="spacingAndGlyphs">10</text>
<text x="81.6" y="1217.8" font-size="17.2">-4</text>
<text x="53" y="1499.8" font-size="28.6" textLength="27.7" lengthAdjust="spacingAndGlyphs">10</text>
<text x="81.6" y="1489.5" font-size="17.2">-5</text>
<text x="53.5" y="1752.7" font-size="28.6" textLength="27.7" lengthAdjust="spacingAndGlyphs">10</text>
<text x="82.1" y="1742.4" font-size="17.2">-6</text>
<text x="101.5" y="1782.7" font-size="28.6" textLength="27.7" lengthAdjust="spacingAndGlyphs">10</text>
<text x="130.1" y="1772.4" font-size="17.2">0</text>
<text x="378.2" y="1783" font-size="28.6" textLength="27.7" lengthAdjust="spacingAndGlyphs">10</text>
<text x="406.8" y="1772.7" font-size="17.2">1</text>
<text x="684.4" y="1774.3" font-size="28.6" textLength="27.7" lengthAdjust="spacingAndGlyphs">10</text>
<text x="713" y="1764" font-size="17.2">2</text>
<text x="996" y="952.1" font-size="28.6" textLength="27.7" lengthAdjust="spacingAndGlyphs">10</text>
<text x="1024.6" y="941.8" font-size="17.2">-3</text>
<text x="995" y="1223.6" font-size="28.6" textLength="27.7" lengthAdjust="spacingAndGlyphs">10</text>
<text x="1023.6" y="1213.3" font-size="17.2">-4</text>
<text x="995" y="1494" font-size="28.6" textLength="27.7" lengthAdjust="spacingAndGlyphs">10</text>
<text x="1023.6" y="1483.7" font-size="17.2">-5</text>
<text x="995.6" y="1747" font-size="28.6" textLength="27.7" lengthAdjust="spacingAndGlyphs">10</text>
<text x="1024.2" y="1736.7" font-size="17.2">-6</text>
<text x="1039.6" y="1774.5" font-size="28.6" textLength="27.7" lengthAdjust="spacingAndGlyphs">10</text>
<text x="1068.2" y="1764.2" font-size="17.2">0</text>
<text x="1439.4" y="1773.3" font-size="28.6" textLength="27.7" lengthAdjust="spacingAndGlyphs">10</text>
<text x="1468" y="1763" font-size="17.2">2</text>
<text transform="translate(984.3,593.4) rotate(-90)" font-size="30" textLength="245.2" lengthAdjust="spacingAndGlyphs">Erosion rate (m/yr)</text>
<text transform="translate(39.6,1479.4) rotate(-90)" font-size="30" textLength="245" lengthAdjust="spacingAndGlyphs">Erosion rate (m/yr)</text>
<text transform="translate(980.7,1473.6) rotate(-90)" font-size="30" textLength="244.8" lengthAdjust="spacingAndGlyphs">Erosion rate (m/yr)</text>
<text x="1375.6" y="900.5" font-size="29">t</text>
<text x="1385.9" y="907.1" font-size="18.5">s</text>
<text x="1399.7" y="900.5" font-size="29" textLength="85.5" lengthAdjust="spacingAndGlyphs">(years)</text>
<text x="433.5" y="1815.3" font-size="29">t</text>
<text x="443.8" y="1821.9" font-size="18.5">s</text>
<text x="457.6" y="1815.3" font-size="29" textLength="85.5" lengthAdjust="spacingAndGlyphs">(years)</text>
<text x="1227.6" y="71.6" font-size="37" fill="#fff" textLength="617.6" lengthAdjust="spacingAndGlyphs">(b) VAL 1-1 (estimated age of 50 years)</text>
<text x="377.4" y="977.1" font-size="36.4" fill="#fff" textLength="531.3" lengthAdjust="spacingAndGlyphs">(c) VAL 1-1 (est. age of 450 years)</text>
<text x="1286" y="977.5" font-size="36.4" fill="#fff" textLength="554.1" lengthAdjust="spacingAndGlyphs">(d) VAL 1-1 (est. age of 6000 years)</text>
</g>
</svg></body></html>
